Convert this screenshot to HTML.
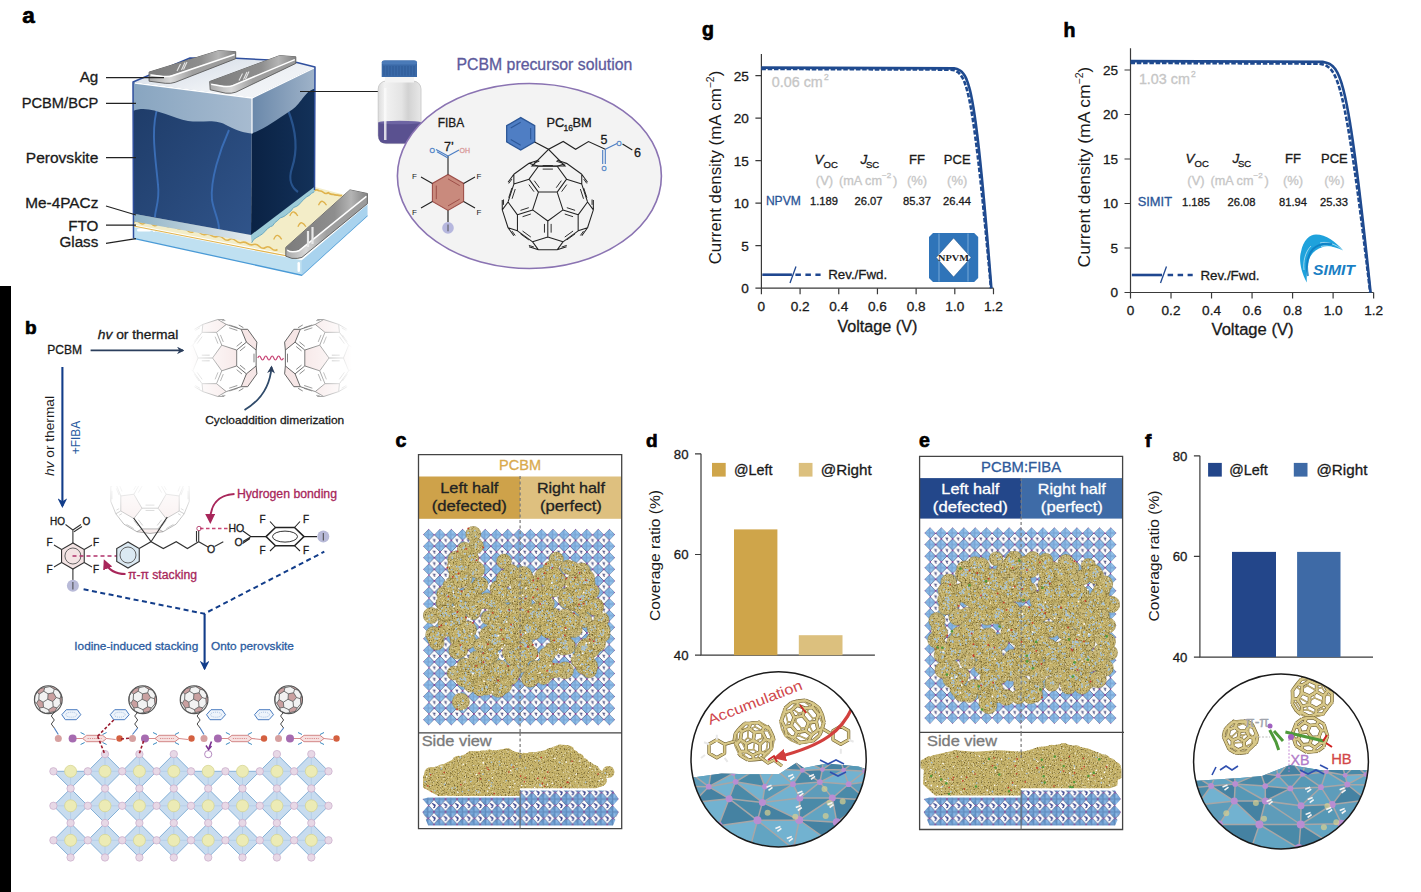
<!DOCTYPE html>
<html><head><meta charset="utf-8"><style>
html,body{margin:0;padding:0;background:#fff;overflow:hidden}
svg{display:block}
text{font-family:"Liberation Sans",sans-serif}
</style></head><body>
<svg width="1421" height="892" viewBox="0 0 1421 892">
<rect width="1421" height="892" fill="#fff"/>
<rect x="0" y="286" width="11" height="606" fill="#000"/>
<text x="22.3" y="22.8" font-size="22.5" fill="#000" font-weight="bold" stroke="#000" stroke-width="0.7">a</text>
<text x="25" y="333.8" font-size="19" fill="#000" font-weight="bold" stroke="#000" stroke-width="0.7">b</text>
<text x="395.5" y="447" font-size="19.5" fill="#000" font-weight="bold" stroke="#000" stroke-width="0.7">c</text>
<text x="646" y="447" font-size="19" fill="#000" font-weight="bold" stroke="#000" stroke-width="0.7">d</text>
<text x="919" y="447" font-size="19.5" fill="#000" font-weight="bold" stroke="#000" stroke-width="0.7">e</text>
<text x="1145" y="447" font-size="19" fill="#000" font-weight="bold" stroke="#000" stroke-width="0.7">f</text>
<text x="702" y="36.2" font-size="19.5" fill="#000" font-weight="bold" stroke="#000" stroke-width="0.7">g</text>
<text x="1063.5" y="36.9" font-size="19.5" fill="#000" font-weight="bold" stroke="#000" stroke-width="0.7">h</text>
<defs>
<linearGradient id="gTop" x1="0" y1="0" x2="1" y2="1"><stop offset="0" stop-color="#cfd8e4"/><stop offset="0.6" stop-color="#eef1f5"/><stop offset="1" stop-color="#f4f6f8"/></linearGradient>
<linearGradient id="gPcbmF" x1="0" y1="0" x2="1" y2="0"><stop offset="0" stop-color="#88a5c0"/><stop offset="1" stop-color="#a7bbd0"/></linearGradient>
<linearGradient id="gPcbmR" x1="0" y1="0" x2="1" y2="0"><stop offset="0" stop-color="#6a88aa"/><stop offset="1" stop-color="#9fb3c9"/></linearGradient>
<linearGradient id="gPerF" x1="0" y1="0" x2="1" y2="1"><stop offset="0" stop-color="#1d3a66"/><stop offset="1" stop-color="#30548a"/></linearGradient>
<linearGradient id="gPerR" x1="0" y1="0" x2="1" y2="0"><stop offset="0" stop-color="#0a2244"/><stop offset="1" stop-color="#133159"/></linearGradient>
<linearGradient id="gAg" x1="0" y1="0" x2="1" y2="0"><stop offset="0" stop-color="#7c7c7c"/><stop offset="0.6" stop-color="#8e8e8e"/><stop offset="0.8" stop-color="#b4b4b4"/><stop offset="1" stop-color="#828282"/></linearGradient>
<linearGradient id="gAgF" x1="0" y1="0" x2="1" y2="0"><stop offset="0" stop-color="#a8a8a8"/><stop offset="0.25" stop-color="#d8d8d8"/><stop offset="0.5" stop-color="#a0a0a0"/><stop offset="1" stop-color="#9a9a9a"/></linearGradient>
<linearGradient id="gHtl" x1="0" y1="0" x2="1" y2="0"><stop offset="0" stop-color="#8fb3c6"/><stop offset="1" stop-color="#e3eaee"/></linearGradient>
<linearGradient id="gBottle" x1="0" y1="0" x2="1" y2="0"><stop offset="0" stop-color="#dcdcdc"/><stop offset="0.15" stop-color="#f2f2f2"/><stop offset="0.55" stop-color="#e4e4e4"/><stop offset="0.7" stop-color="#d2d2d2"/><stop offset="1" stop-color="#e8e8e8"/></linearGradient>
</defs>
<path d="M133.5,226.4 L301.6,259.5 L367.4,203.7 L367.4,215.4 L301.6,275.2 L133.5,238.3 Z" fill="#bfe0f1"/>
<path d="M133.5,238.3 L301.6,275.2 L367.4,215.4" fill="none" stroke="#4a9ad6" stroke-width="1.3"/>
<path d="M301.6,259.5 L367.4,203.7 L367.4,215.4 L301.6,275.2 Z" fill="#a9d3ee"/>
<path d="M133.5,226.4 L301.6,259.5 L367.4,203.7" fill="none" stroke="#ffffff" stroke-width="1.4"/>
<rect x="297.5" y="262" width="2.5" height="10" rx="1.2" fill="#fff"/>
<rect x="137" y="228.5" width="14" height="3" rx="1.5" fill="#fff"/><circle cx="154" cy="230.8" r="1.2" fill="#fff"/>
<path d="M133.5,224.5 L298,256.5 L366,200.5 L315,187 L251,235 L133.5,214 Z" fill="#f3edc8"/>
<path d="M133.5,222.5 q3,-3 6,0 t6,0 t6,1 t6,1 t6,0 t6,2 t6,1 t6,1 t6,2 t6,1 t6,1 t6,2 t6,1 t6,1 t6,2 t6,1 t6,1 t6,2 t6,1 t6,1 t6,2 t6,1 t6,1 t6,1" fill="none" stroke="#e1b44e" stroke-width="1.6"/>
<path d="M133.5,226 L251,249 L298,258" fill="none" stroke="#e1b44e" stroke-width="1.2"/>
<path d="M314.4,190.8 Q315.8,189.0 319.0,190.7 Q322.0,190.8 323.6,192.5 Q325.4,194.4 328.2,192.7 Q330.4,194.7 332.8,194.3 Q335.1,195.2 337.4,195.1 Q339.0,195.8 342.0,195.5" fill="none" stroke="#dfb24c" stroke-width="1.6"/>
<path d="M273.7,239.4 q2,-4.5 4,-4 t4,4" fill="none" stroke="#dfb24c" stroke-width="1.3"/>
<path d="M297.9,226.8 q2,-4.5 4,-4 t4,4" fill="none" stroke="#dfb24c" stroke-width="1.3"/>
<path d="M289.8,216.0 q2,-4.5 4,-4 t4,4" fill="none" stroke="#dfb24c" stroke-width="1.3"/>
<path d="M318.5,205.3 q2,-4.5 4,-4 t4,4" fill="none" stroke="#dfb24c" stroke-width="1.3"/>
<path d="M133.5,213.8 L251,234.9 L251,242 L133.5,221.5 Z" fill="url(#gHtl)"/>
<path d="M250.8,234.7 L314.4,185.4 L314.4,191.7 Q311.0,193.3 309.2,195.5 Q307.2,196.0 303.9,199.2 Q300.8,202.5 298.7,204.9 Q297.0,206.5 293.5,207.5 Q290.7,212.0 288.3,213.1 Q284.8,216.3 283.0,216.9 Q280.0,217.3 277.8,220.3 Q274.4,222.3 272.6,225.8 Q270.6,226.1 267.4,228.7 Q264.9,231.9 262.1,234.1 Q259.3,235.9 256.9,237.3 Q253.4,238.5 251.7,242.8 Z" fill="#9ccbd8"/>
<path d="M314.4,191.7 Q311.0,193.3 309.2,195.5 Q307.2,196.0 303.9,199.2 Q300.8,202.5 298.7,204.9 Q297.0,206.5 293.5,207.5 Q290.7,212.0 288.3,213.1 Q284.8,216.3 283.0,216.9 Q280.0,217.3 277.8,220.3 Q274.4,222.3 272.6,225.8 Q270.6,226.1 267.4,228.7 Q264.9,231.9 262.1,234.1 Q259.3,235.9 256.9,237.3 Q253.4,238.5 251.7,242.8" fill="none" stroke="#6aa9c2" stroke-width="1"/>
<path d="M133,82 L252,97.5 L251,234.9 L133.5,213.8 Z" fill="url(#gPerF)"/>
<path d="M252,97.5 L315,67 L314.5,186.8 L251,234.9 Z" fill="url(#gPerR)"/>
<path d="M158,106 C150,130 156,160 158,185 C160,200 155,210 155,217" fill="none" stroke="#3a6db5" stroke-width="1.9"/>
<path d="M229,130 C220,150 210,180 212,200 C214,212 219,220 219,229" fill="none" stroke="#3a6db5" stroke-width="1.9"/>
<path d="M288,110 C296,130 298,150 292,168 C288,180 292,188 298,192" fill="none" stroke="#28538c" stroke-width="2.2"/>
<path d="M133,82 L252,97.5 L252,133.5 C245,133 238,131 228,126 C215,118 205,123 188,121 C170,118 150,104 133,111 Z" fill="url(#gPcbmF)"/>
<path d="M252,97.5 L315,67 L315,88.4 C303,92 302,104 290,111 C276,120 266,128 252,133.5 Z" fill="url(#gPcbmR)"/>
<path d="M133,82 L190,58 L236,58.2 L280,60.6 L297,62.4 L315,67 L252,97.5 Z" fill="url(#gTop)"/>
<path d="M252,97.5 L252,133.5" stroke="#fff" stroke-width="1.2"/>
<path d="M135,83 L252,98 L314,68" fill="none" stroke="#fff" stroke-width="1.3"/>
<path d="M133.5,238 L133,82 L190,58 L236,58.2 L280,60.6 L297,62.4 L315,67 L314.5,190" fill="none" stroke="#2f4f9e" stroke-width="1.5" stroke-linejoin="round"/>
<path d="M149.1,72.1 L218.8,50.6 L235.7,51.7 L235.7,58.7 L175.2,82.3 Q171.2,83.8 165.2,83.3 L149.1,81.2 Z" fill="url(#gAgF)" stroke="#5a5a5a" stroke-width="0.9" stroke-linejoin="round"/><path d="M149.1,72.1 L218.8,50.6 L235.7,51.7 L234.7,53.900000000000006 L172.2,75.1 Q169.2,76.3 163.2,75.89999999999999 L150.6,74.3 Z" fill="url(#gAg)"/><path d="M150.6,74.89999999999999 L163.2,76.5 Q169.2,76.89999999999999 172.2,75.69999999999999 L234.7,54.50000000000001" fill="none" stroke="#fff" stroke-width="1.5"/>
<path d="M209.7,81.5 L279.7,55.6 L295.8,56.8 L295.8,63.4 L235.8,92.2 Q231.8,93.7 225.8,93.2 L210.2,89.8 Z" fill="url(#gAgF)" stroke="#5a5a5a" stroke-width="0.9" stroke-linejoin="round"/><path d="M209.7,81.5 L279.7,55.6 L295.8,56.8 L294.8,59.0 L232.8,85.0 Q229.8,86.2 223.8,85.8 L211.2,83.7 Z" fill="url(#gAg)"/><path d="M211.2,84.3 L223.8,86.4 Q229.8,86.8 232.8,85.6 L294.8,59.6" fill="none" stroke="#fff" stroke-width="1.5"/>
<path d="M177,71 l3.5,-7 M181.5,70 l3.5,-7.5 M183.5,69.5 l3.5,-7.5 M239,80.5 l3.5,-7 M243.5,79.5 l3.5,-7.5 M245.5,79 l3.5,-7.5" stroke="#e4e4e4" stroke-width="1.1"/>
<path d="M285.8,247.4 L349.9,189.9 L367.4,193.5 L367.4,203.7 L301.9,257.4 Q297.9,258.9 291.9,258.4 L285.8,256.2 Z" fill="url(#gAgF)" stroke="#5a5a5a" stroke-width="0.9" stroke-linejoin="round"/><path d="M285.8,247.4 L349.9,189.9 L367.4,193.5 L366.4,195.7 L298.9,250.2 Q295.9,251.39999999999998 289.9,251.0 L287.3,249.6 Z" fill="url(#gAg)"/><path d="M287.3,250.2 L289.9,251.6 Q295.9,252.0 298.9,250.79999999999998 L366.4,196.29999999999998" fill="none" stroke="#fff" stroke-width="1.5"/>
<path d="M308,231 L308,247 M312.5,227 L312.5,244" stroke="#e8e8e8" stroke-width="2.2"/>
<path d="M106,77.6 L164,77.6 M106,103.3 L136,103.3 M106,157.7 L136,157.7 M106,206 L136,215 M106,225.2 L136,225.2 M106,243.3 L136,238.6 M300,91.5 L378.2,91.5" stroke="#222" stroke-width="1.2" fill="none"/>
<text x="98.3" y="82.4" font-size="15.2" fill="#1a1a1a" text-anchor="end" stroke="#1a1a1a" stroke-width="0.3" >Ag</text>
<text x="98.3" y="108" font-size="15.2" fill="#1a1a1a" text-anchor="end" textLength="76.6" lengthAdjust="spacingAndGlyphs" stroke="#1a1a1a" stroke-width="0.3" >PCBM/BCP</text>
<text x="98.3" y="162.8" font-size="15.2" fill="#1a1a1a" text-anchor="end" textLength="72.5" lengthAdjust="spacingAndGlyphs" stroke="#1a1a1a" stroke-width="0.3" >Perovskite</text>
<text x="98.3" y="208.3" font-size="15.2" fill="#1a1a1a" text-anchor="end" textLength="73" lengthAdjust="spacingAndGlyphs" stroke="#1a1a1a" stroke-width="0.3" >Me-4PACz</text>
<text x="98.3" y="230.6" font-size="15.2" fill="#1a1a1a" text-anchor="end" stroke="#1a1a1a" stroke-width="0.3" >FTO</text>
<text x="98.3" y="246.7" font-size="15.2" fill="#1a1a1a" text-anchor="end" stroke="#1a1a1a" stroke-width="0.3" >Glass</text>
<rect x="378.2" y="81" width="42.8" height="62.6" rx="8" fill="url(#gBottle)" stroke="#c4c4c4" stroke-width="0.8"/>
<path d="M378.2,122.5 L421,122.5 L421,135.6 Q421,143.6 413,143.6 L386.2,143.6 Q378.2,143.6 378.2,135.6 Z" fill="#5a5190"/>
<ellipse cx="399.6" cy="122.5" rx="21.4" ry="1.8" fill="#6d64a3"/>
<rect x="385" y="76.5" width="29" height="6" fill="#f4f4f4"/>
<path d="M381.7,64 Q381.7,60.6 385,60.6 L413.7,60.6 Q417,60.6 417,64 L417,76.9 L381.7,76.9 Z" fill="#3a69a7"/>
<rect x="381.7" y="60.6" width="35.3" height="4" rx="2" fill="#4a7ab8"/>
<path d="M384.0,66 L384.0,75.5M387.0,66 L387.0,75.5M390.0,66 L390.0,75.5M393.0,66 L393.0,75.5M396.0,66 L396.0,75.5M399.0,66 L399.0,75.5M402.0,66 L402.0,75.5M405.0,66 L405.0,75.5M408.0,66 L408.0,75.5M411.0,66 L411.0,75.5M414.0,66 L414.0,75.5" stroke="#2c5590" stroke-width="0.7"/>
<rect x="384" y="88" width="2.5" height="52" fill="#fafafa" opacity="0.8"/>
<ellipse cx="529.4" cy="176" rx="132" ry="92.5" fill="#f3f3f3" stroke="#8a73b2" stroke-width="1.6"/>
<text x="456.5" y="70.1" font-size="15.6" fill="#5d5a9c" textLength="175.8" lengthAdjust="spacingAndGlyphs" stroke="#5d5a9c" stroke-width="0.3" >PCBM precursor solution</text>
<text x="437.7" y="126.8" font-size="12.8" fill="#1a1a1a" textLength="26.5" lengthAdjust="spacingAndGlyphs" stroke="#1a1a1a" stroke-width="0.3" >FIBA</text>
<text x="546.5" y="126.8" font-size="12.8" fill="#1a1a1a" stroke="#1a1a1a" stroke-width="0.3" >PC</text><text x="563.5" y="130.5" font-size="8.5" fill="#1a1a1a" stroke="#1a1a1a" stroke-width="0.3" >16</text><text x="572.5" y="126.8" font-size="12.8" fill="#1a1a1a" stroke="#1a1a1a" stroke-width="0.3" >BM</text>
<path d="M448.00,174.40 L432.41,183.40 L432.41,201.40 L448.00,210.40 L463.59,201.40 L463.59,183.40Z" fill="#c98a7d" stroke="#9e4f49" stroke-width="1.1"/>
<path d="M436.31,185.65L436.31,199.15M448.00,205.90L459.69,199.15M459.69,185.65L448.00,178.90" stroke="#9e4f49" stroke-width="1"/>
<path d="M448,174.4 L448,156 M463.6,183.4 L475,177 M432.4,183.4 L421,177 M463.6,201.4 L475,208 M432.4,201.4 L421,208" stroke="#222" stroke-width="1.1"/>
<path d="M448,210.4 L448,222" stroke="#222" stroke-width="1.2"/>
<circle cx="448" cy="227.9" r="5.8" fill="#b6b7de"/><path d="M448,224.5 L448,231.3" stroke="#444" stroke-width="0.9"/>
<path d="M448,156 L436,149.5 M448,158 L437,151.8 M448,156 L459,150" stroke="#4a7dc4" stroke-width="1.1"/>
<text x="429.5" y="152.5" font-size="7" fill="#4a7dc4" stroke="#4a7dc4" stroke-width="0.3" >O</text><text x="459.5" y="152.5" font-size="7" fill="#d99a9a" stroke="#d99a9a" stroke-width="0.3" >OH</text>
<text x="444" y="150.5" font-size="12.5" fill="#1a1a1a" stroke="#1a1a1a" stroke-width="0.3" >7’</text>
<text x="412" y="178.5" font-size="8" fill="#1a1a1a" stroke="none">F</text>
<text x="476.5" y="178.5" font-size="8" fill="#1a1a1a" stroke="none">F</text>
<text x="412" y="214.5" font-size="8" fill="#1a1a1a" stroke="none">F</text>
<text x="476.5" y="214.5" font-size="8" fill="#1a1a1a" stroke="none">F</text>
<path d="M520.70,117.60 L506.67,125.70 L506.67,141.90 L520.70,150.00 L534.73,141.90 L534.73,125.70Z" fill="#4f7ec4" stroke="#2d5898" stroke-width="1.3"/>
<path d="M520.70,122.30L510.74,128.05M510.74,139.55L520.70,145.30M530.66,139.55L530.66,128.05" stroke="#2d5898" stroke-width="1.1"/>
<path d="M547.80,220.96L547.80,236.92M547.80,220.96L532.62,209.93M547.80,220.96L562.98,209.93M517.44,214.87L517.44,230.83M517.44,214.87L508.06,201.95M517.44,214.87L532.62,209.93M547.80,236.92L532.62,241.86M547.80,236.92L562.98,241.86M517.44,230.83L532.62,241.86M517.44,230.83L508.06,227.78M557.18,192.09L566.56,179.17M557.18,192.09L538.42,192.09M557.18,192.09L562.98,209.93M593.34,200.07L593.34,209.93M529.04,163.21L513.85,174.24M529.04,163.21L538.42,166.26M529.04,163.21L538.42,160.16M513.85,174.24L508.06,182.22M513.85,174.24L513.85,184.10M578.16,230.83L578.16,214.87M578.16,230.83L587.54,227.78M578.16,230.83L562.98,241.86M502.26,209.93L508.06,201.95M502.26,209.93L502.26,200.07M502.26,209.93L508.06,227.78M578.16,214.87L587.54,201.95M578.16,214.87L562.98,209.93M508.06,201.95L513.85,184.10M581.75,184.10L566.56,179.17M581.75,184.10L581.75,174.24M581.75,184.10L587.54,201.95M581.75,235.76L587.54,227.78M532.62,241.86L538.42,249.84M566.56,179.17L557.18,166.26M587.54,227.78L593.34,209.93M581.75,174.24L587.54,182.22M581.75,174.24L566.56,163.21M557.18,160.16L566.56,163.21M566.56,246.79L557.18,249.84M562.98,241.86L557.18,249.84M538.42,166.26L529.04,179.17M538.42,166.26L557.18,166.26M587.54,201.95L593.34,209.93M529.04,179.17L538.42,192.09M529.04,179.17L513.85,184.10M538.42,249.84L529.04,246.79M538.42,249.84L557.18,249.84M532.62,209.93L538.42,192.09M557.18,166.26L566.56,163.21M508.06,227.78L513.85,235.76" stroke="#222" stroke-width="1.05" fill="none" stroke-linejoin="round"/>
<path d="M551.14,223.92L551.14,232.63M564.76,237.06L573.05,231.03M573.05,216.71L564.76,214.02M544.46,223.92L544.46,232.63M530.84,237.06L522.55,231.03M522.55,216.71L530.84,214.02M512.07,198.78L515.24,189.03M528.86,184.61L533.98,191.66M528.78,207.67L520.49,210.36M520.49,233.87L528.78,239.90M533.98,247.06L528.86,245.39M515.24,235.50L512.07,231.14M539.38,187.73L534.26,180.68M542.68,169.10L552.92,169.10M561.34,180.68L556.22,187.73M566.82,207.67L575.11,210.36M583.53,198.78L580.36,189.03M566.74,184.61L561.62,191.66M586.87,183.46L583.70,179.10M583.70,187.95L586.87,197.69M592.07,204.85L592.07,199.47M534.26,162.85L539.38,161.19M556.22,161.19L561.34,162.85M552.92,165.59L542.68,165.59M511.90,179.10L508.73,183.46M503.53,199.47L503.53,204.85M508.73,197.69L511.90,187.95M575.11,233.87L566.82,239.90M561.62,247.06L566.74,245.39M580.36,235.50L583.53,231.14" stroke="#222" stroke-width="0.9450000000000001" fill="none"/>
<path d="M534.6,141.9 L548.5,149.3 L563.2,141.5 L575.6,149.3 L588.5,141.5 L605.3,149.3 M548.5,149.3 L532,166 L565,166 Z" fill="none" stroke="#222" stroke-width="1.1"/>
<path d="M605.3,149.3 L605.3,164 M602.7,150 L602.7,164 M605.3,149.3 L617,143.5" stroke="#4a7dc4" stroke-width="1.1"/>
<path d="M622.5,144 L632.3,150" stroke="#222" stroke-width="1.1"/>
<text x="601.5" y="170.5" font-size="6.5" fill="#4a7dc4" stroke="#4a7dc4" stroke-width="0.3" >O</text><text x="616.5" y="146" font-size="6.5" fill="#4a7dc4" stroke="#4a7dc4" stroke-width="0.3" >O</text>
<text x="600.5" y="144" font-size="12.5" fill="#1a1a1a" stroke="#1a1a1a" stroke-width="0.3" >5</text><text x="634" y="156.5" font-size="12.5" fill="#1a1a1a" stroke="#1a1a1a" stroke-width="0.3" >6</text>
<path d="M761.4,54.1 L761.4,288.2 L993.5,288.2" fill="none" stroke="#3a3a3a" stroke-width="1.2"/>
<text x="748.9" y="293.0" font-size="13.6" fill="#1a1a1a" text-anchor="end" stroke="#1a1a1a" stroke-width="0.3" >0</text>
<text x="748.9" y="250.5" font-size="13.6" fill="#1a1a1a" text-anchor="end" stroke="#1a1a1a" stroke-width="0.3" >5</text>
<text x="748.9" y="208.0" font-size="13.6" fill="#1a1a1a" text-anchor="end" stroke="#1a1a1a" stroke-width="0.3" >10</text>
<text x="748.9" y="165.5" font-size="13.6" fill="#1a1a1a" text-anchor="end" stroke="#1a1a1a" stroke-width="0.3" >15</text>
<text x="748.9" y="122.99999999999999" font-size="13.6" fill="#1a1a1a" text-anchor="end" stroke="#1a1a1a" stroke-width="0.3" >20</text>
<text x="748.9" y="80.49999999999999" font-size="13.6" fill="#1a1a1a" text-anchor="end" stroke="#1a1a1a" stroke-width="0.3" >25</text>
<text x="761.4" y="310.5" font-size="13.6" fill="#1a1a1a" text-anchor="middle" stroke="#1a1a1a" stroke-width="0.3" >0</text>
<text x="800.0799999999999" y="310.5" font-size="13.6" fill="#1a1a1a" text-anchor="middle" stroke="#1a1a1a" stroke-width="0.3" >0.2</text>
<text x="838.76" y="310.5" font-size="13.6" fill="#1a1a1a" text-anchor="middle" stroke="#1a1a1a" stroke-width="0.3" >0.4</text>
<text x="877.44" y="310.5" font-size="13.6" fill="#1a1a1a" text-anchor="middle" stroke="#1a1a1a" stroke-width="0.3" >0.6</text>
<text x="916.12" y="310.5" font-size="13.6" fill="#1a1a1a" text-anchor="middle" stroke="#1a1a1a" stroke-width="0.3" >0.8</text>
<text x="954.8" y="310.5" font-size="13.6" fill="#1a1a1a" text-anchor="middle" stroke="#1a1a1a" stroke-width="0.3" >1.0</text>
<text x="993.48" y="310.5" font-size="13.6" fill="#1a1a1a" text-anchor="middle" stroke="#1a1a1a" stroke-width="0.3" >1.2</text>
<path d="M755.4,288.20L761.4,288.20M755.4,245.70L761.4,245.70M755.4,203.20L761.4,203.20M755.4,160.70L761.4,160.70M755.4,118.20L761.4,118.20M755.4,75.70L761.4,75.70M761.40,288.2L761.40,294.2M800.08,288.2L800.08,294.2M838.76,288.2L838.76,294.2M877.44,288.2L877.44,294.2M916.12,288.2L916.12,294.2M954.80,288.2L954.80,294.2M993.48,288.2L993.48,294.2" stroke="#3a3a3a" stroke-width="1.2"/>
<path d="M1130.5,48.2 L1130.5,292.5 L1373.6,292.5" fill="none" stroke="#3a3a3a" stroke-width="1.2"/>
<text x="1118.0" y="297.3" font-size="13.6" fill="#1a1a1a" text-anchor="end" stroke="#1a1a1a" stroke-width="0.3" >0</text>
<text x="1118.0" y="252.8" font-size="13.6" fill="#1a1a1a" text-anchor="end" stroke="#1a1a1a" stroke-width="0.3" >5</text>
<text x="1118.0" y="208.3" font-size="13.6" fill="#1a1a1a" text-anchor="end" stroke="#1a1a1a" stroke-width="0.3" >10</text>
<text x="1118.0" y="163.8" font-size="13.6" fill="#1a1a1a" text-anchor="end" stroke="#1a1a1a" stroke-width="0.3" >15</text>
<text x="1118.0" y="119.3" font-size="13.6" fill="#1a1a1a" text-anchor="end" stroke="#1a1a1a" stroke-width="0.3" >20</text>
<text x="1118.0" y="74.8" font-size="13.6" fill="#1a1a1a" text-anchor="end" stroke="#1a1a1a" stroke-width="0.3" >25</text>
<text x="1130.5" y="314.8" font-size="13.6" fill="#1a1a1a" text-anchor="middle" stroke="#1a1a1a" stroke-width="0.3" >0</text>
<text x="1171.02" y="314.8" font-size="13.6" fill="#1a1a1a" text-anchor="middle" stroke="#1a1a1a" stroke-width="0.3" >0.2</text>
<text x="1211.54" y="314.8" font-size="13.6" fill="#1a1a1a" text-anchor="middle" stroke="#1a1a1a" stroke-width="0.3" >0.4</text>
<text x="1252.06" y="314.8" font-size="13.6" fill="#1a1a1a" text-anchor="middle" stroke="#1a1a1a" stroke-width="0.3" >0.6</text>
<text x="1292.58" y="314.8" font-size="13.6" fill="#1a1a1a" text-anchor="middle" stroke="#1a1a1a" stroke-width="0.3" >0.8</text>
<text x="1333.1" y="314.8" font-size="13.6" fill="#1a1a1a" text-anchor="middle" stroke="#1a1a1a" stroke-width="0.3" >1.0</text>
<text x="1373.6200000000001" y="314.8" font-size="13.6" fill="#1a1a1a" text-anchor="middle" stroke="#1a1a1a" stroke-width="0.3" >1.2</text>
<path d="M1124.5,292.50L1130.5,292.50M1124.5,248.00L1130.5,248.00M1124.5,203.50L1130.5,203.50M1124.5,159.00L1130.5,159.00M1124.5,114.50L1130.5,114.50M1124.5,70.00L1130.5,70.00M1130.50,292.5L1130.50,298.5M1171.02,292.5L1171.02,298.5M1211.54,292.5L1211.54,298.5M1252.06,292.5L1252.06,298.5M1292.58,292.5L1292.58,298.5M1333.10,292.5L1333.10,298.5M1373.62,292.5L1373.62,298.5" stroke="#3a3a3a" stroke-width="1.2"/>
<path d="M761.40,68.90 L951.28,69.63 L954.28,70.36 L956.06,71.09 L957.33,71.82 L958.33,72.55 L959.16,73.29 L959.87,74.02 L960.49,74.75 L961.04,75.48 L961.54,76.21 L962.00,76.94 L962.42,77.67 L962.81,78.40 L963.18,79.13 L963.52,79.86 L963.85,80.60 L964.16,81.33 L964.46,82.06 L964.74,82.79 L965.01,83.52 L965.27,84.25 L965.52,84.98 L965.76,85.71 L965.99,86.44 L966.21,87.18 L966.43,87.91 L966.64,88.64 L966.85,89.37 L967.05,90.10 L967.25,90.83 L967.44,91.56 L967.63,92.29 L967.81,93.02 L967.99,93.75 L968.16,94.48 L968.33,95.22 L968.50,95.95 L968.67,96.68 L968.83,97.41 L968.99,98.14 L969.14,98.87 L969.30,99.60 L969.45,100.33 L969.60,101.06 L969.75,101.79 L969.89,102.53 L970.03,103.26 L970.18,103.99 L970.31,104.72 L970.45,105.45 L970.59,106.18 L970.72,106.91 L970.85,107.64 L970.99,108.37 L971.12,109.10 L971.24,109.84 L971.37,110.57 L971.50,111.30 L971.62,112.03 L971.74,112.76 L971.87,113.49 L971.99,114.22 L972.11,114.95 L972.22,115.68 L972.34,116.41 L972.46,117.15 L972.57,117.88 L972.69,118.61 L972.80,119.34 L972.91,120.07 L973.03,120.80 L973.14,121.53 L973.25,122.26 L973.36,122.99 L973.47,123.72 L973.57,124.46 L973.68,125.19 L973.79,125.92 L973.89,126.65 L974.00,127.38 L974.10,128.11 L974.21,128.84 L974.31,129.57 L974.41,130.30 L974.51,131.03 L974.62,131.77 L974.72,132.50 L974.82,133.23 L974.92,133.96 L975.02,134.69 L975.11,135.42 L975.21,136.15 L975.31,136.88 L975.41,137.61 L975.50,138.34 L975.60,139.08 L975.70,139.81 L975.79,140.54 L975.89,141.27 L975.98,142.00 L976.07,142.73 L976.17,143.46 L976.26,144.19 L976.35,144.92 L976.44,145.66 L976.54,146.39 L976.63,147.12 L976.72,147.85 L976.81,148.58 L976.90,149.31 L976.99,150.04 L977.08,150.77 L977.17,151.50 L977.26,152.23 L977.35,152.96 L977.44,153.70 L977.52,154.43 L977.61,155.16 L977.70,155.89 L977.79,156.62 L977.87,157.35 L977.96,158.08 L978.05,158.81 L978.13,159.54 L978.22,160.27 L978.30,161.01 L978.39,161.74 L978.47,162.47 L978.56,163.20 L978.64,163.93 L978.73,164.66 L978.81,165.39 L978.89,166.12 L978.98,166.85 L979.06,167.58 L979.14,168.32 L979.23,169.05 L979.31,169.78 L979.39,170.51 L979.47,171.24 L979.56,171.97 L979.64,172.70 L979.72,173.43 L979.80,174.16 L979.88,174.89 L979.96,175.63 L980.04,176.36 L980.12,177.09 L980.20,177.82 L980.28,178.55 L980.36,179.28 L980.44,180.01 L980.52,180.74 L980.60,181.47 L980.68,182.20 L980.76,182.94 L980.84,183.67 L980.92,184.40 L980.99,185.13 L981.07,185.86 L981.15,186.59 L981.23,187.32 L981.31,188.05 L981.38,188.78 L981.46,189.51 L981.54,190.25 L981.62,190.98 L981.69,191.71 L981.77,192.44 L981.85,193.17 L981.92,193.90 L982.00,194.63 L982.08,195.36 L982.15,196.09 L982.23,196.82 L982.30,197.56 L982.38,198.29 L982.45,199.02 L982.53,199.75 L982.61,200.48 L982.68,201.21 L982.76,201.94 L982.83,202.67 L982.90,203.40 L982.98,204.13 L983.05,204.87 L983.13,205.60 L983.20,206.33 L983.28,207.06 L983.35,207.79 L983.42,208.52 L983.50,209.25 L983.57,209.98 L983.65,210.71 L983.72,211.44 L983.79,212.18 L983.87,212.91 L983.94,213.64 L984.01,214.37 L984.08,215.10 L984.16,215.83 L984.23,216.56 L984.30,217.29 L984.38,218.02 L984.45,218.75 L984.52,219.49 L984.59,220.22 L984.66,220.95 L984.74,221.68 L984.81,222.41 L984.88,223.14 L984.95,223.87 L985.02,224.60 L985.09,225.33 L985.17,226.06 L985.24,226.80 L985.31,227.53 L985.38,228.26 L985.45,228.99 L985.52,229.72 L985.59,230.45 L985.66,231.18 L985.73,231.91 L985.80,232.64 L985.87,233.38 L985.95,234.11 L986.02,234.84 L986.09,235.57 L986.16,236.30 L986.23,237.03 L986.30,237.76 L986.37,238.49 L986.44,239.22 L986.51,239.95 L986.58,240.69 L986.64,241.42 L986.71,242.15 L986.78,242.88 L986.85,243.61 L986.92,244.34 L986.99,245.07 L987.06,245.80 L987.13,246.53 L987.20,247.26 L987.27,247.99 L987.34,248.73 L987.41,249.46 L987.47,250.19 L987.54,250.92 L987.61,251.65 L987.68,252.38 L987.75,253.11 L987.82,253.84 L987.89,254.57 L987.95,255.30 L988.02,256.04 L988.09,256.77 L988.16,257.50 L988.23,258.23 L988.29,258.96 L988.36,259.69 L988.43,260.42 L988.50,261.15 L988.57,261.88 L988.63,262.62 L988.70,263.35 L988.77,264.08 L988.84,264.81 L988.90,265.54 L988.97,266.27 L989.04,267.00 L989.11,267.73 L989.17,268.46 L989.24,269.19 L989.31,269.93 L989.37,270.66 L989.44,271.39 L989.51,272.12 L989.57,272.85 L989.64,273.58 L989.71,274.31 L989.77,275.04 L989.84,275.77 L989.91,276.50 L989.97,277.24 L990.04,277.97 L990.11,278.70 L990.17,279.43 L990.24,280.16 L990.31,280.89 L990.37,281.62 L990.44,282.35 L990.50,283.08 L990.57,283.81 L990.64,284.55 L990.70,285.28 L990.77,286.01 L990.83,286.74 L990.90,287.47 L990.97,288.20" fill="none" stroke="#1f4a8f" stroke-width="2.6" stroke-dasharray="4.5,1.8"/><path d="M761.40,67.62 L954.08,68.36 L957.07,69.10 L958.84,69.83 L960.11,70.57 L961.10,71.30 L961.92,72.04 L962.62,72.77 L963.23,73.51 L963.78,74.24 L964.27,74.98 L964.72,75.71 L965.13,76.45 L965.51,77.18 L965.87,77.92 L966.21,78.65 L966.53,79.39 L966.83,80.12 L967.12,80.86 L967.39,81.59 L967.65,82.33 L967.90,83.07 L968.14,83.80 L968.38,84.54 L968.60,85.27 L968.82,86.01 L969.03,86.74 L969.23,87.48 L969.43,88.21 L969.62,88.95 L969.81,89.68 L969.99,90.42 L970.17,91.15 L970.35,91.89 L970.52,92.62 L970.69,93.36 L970.85,94.09 L971.01,94.83 L971.17,95.56 L971.32,96.30 L971.47,97.03 L971.62,97.77 L971.77,98.51 L971.91,99.24 L972.05,99.98 L972.19,100.71 L972.33,101.45 L972.46,102.18 L972.59,102.92 L972.73,103.65 L972.86,104.39 L972.98,105.12 L973.11,105.86 L973.23,106.59 L973.36,107.33 L973.48,108.06 L973.60,108.80 L973.72,109.53 L973.83,110.27 L973.95,111.00 L974.07,111.74 L974.18,112.48 L974.29,113.21 L974.40,113.95 L974.51,114.68 L974.62,115.42 L974.73,116.15 L974.84,116.89 L974.95,117.62 L975.05,118.36 L975.16,119.09 L975.26,119.83 L975.36,120.56 L975.47,121.30 L975.57,122.03 L975.67,122.77 L975.77,123.50 L975.87,124.24 L975.97,124.97 L976.06,125.71 L976.16,126.44 L976.26,127.18 L976.35,127.92 L976.45,128.65 L976.54,129.39 L976.64,130.12 L976.73,130.86 L976.82,131.59 L976.91,132.33 L977.00,133.06 L977.10,133.80 L977.19,134.53 L977.28,135.27 L977.37,136.00 L977.45,136.74 L977.54,137.47 L977.63,138.21 L977.72,138.94 L977.81,139.68 L977.89,140.41 L977.98,141.15 L978.06,141.89 L978.15,142.62 L978.24,143.36 L978.32,144.09 L978.40,144.83 L978.49,145.56 L978.57,146.30 L978.65,147.03 L978.74,147.77 L978.82,148.50 L978.90,149.24 L978.98,149.97 L979.06,150.71 L979.15,151.44 L979.23,152.18 L979.31,152.91 L979.39,153.65 L979.47,154.38 L979.55,155.12 L979.62,155.85 L979.70,156.59 L979.78,157.33 L979.86,158.06 L979.94,158.80 L980.02,159.53 L980.09,160.27 L980.17,161.00 L980.25,161.74 L980.32,162.47 L980.40,163.21 L980.48,163.94 L980.55,164.68 L980.63,165.41 L980.70,166.15 L980.78,166.88 L980.85,167.62 L980.93,168.35 L981.00,169.09 L981.08,169.82 L981.15,170.56 L981.22,171.30 L981.30,172.03 L981.37,172.77 L981.44,173.50 L981.52,174.24 L981.59,174.97 L981.66,175.71 L981.73,176.44 L981.81,177.18 L981.88,177.91 L981.95,178.65 L982.02,179.38 L982.09,180.12 L982.17,180.85 L982.24,181.59 L982.31,182.32 L982.38,183.06 L982.45,183.79 L982.52,184.53 L982.59,185.26 L982.66,186.00 L982.73,186.74 L982.80,187.47 L982.87,188.21 L982.94,188.94 L983.01,189.68 L983.08,190.41 L983.14,191.15 L983.21,191.88 L983.28,192.62 L983.35,193.35 L983.42,194.09 L983.49,194.82 L983.55,195.56 L983.62,196.29 L983.69,197.03 L983.76,197.76 L983.83,198.50 L983.89,199.23 L983.96,199.97 L984.03,200.71 L984.09,201.44 L984.16,202.18 L984.23,202.91 L984.29,203.65 L984.36,204.38 L984.43,205.12 L984.49,205.85 L984.56,206.59 L984.62,207.32 L984.69,208.06 L984.76,208.79 L984.82,209.53 L984.89,210.26 L984.95,211.00 L985.02,211.73 L985.08,212.47 L985.15,213.20 L985.21,213.94 L985.28,214.67 L985.34,215.41 L985.41,216.15 L985.47,216.88 L985.54,217.62 L985.60,218.35 L985.66,219.09 L985.73,219.82 L985.79,220.56 L985.86,221.29 L985.92,222.03 L985.98,222.76 L986.05,223.50 L986.11,224.23 L986.17,224.97 L986.24,225.70 L986.30,226.44 L986.36,227.17 L986.43,227.91 L986.49,228.64 L986.55,229.38 L986.62,230.12 L986.68,230.85 L986.74,231.59 L986.80,232.32 L986.87,233.06 L986.93,233.79 L986.99,234.53 L987.05,235.26 L987.12,236.00 L987.18,236.73 L987.24,237.47 L987.30,238.20 L987.36,238.94 L987.42,239.67 L987.49,240.41 L987.55,241.14 L987.61,241.88 L987.67,242.61 L987.73,243.35 L987.79,244.08 L987.85,244.82 L987.92,245.56 L987.98,246.29 L988.04,247.03 L988.10,247.76 L988.16,248.50 L988.22,249.23 L988.28,249.97 L988.34,250.70 L988.40,251.44 L988.46,252.17 L988.52,252.91 L988.58,253.64 L988.64,254.38 L988.70,255.11 L988.76,255.85 L988.82,256.58 L988.88,257.32 L988.94,258.05 L989.00,258.79 L989.06,259.53 L989.12,260.26 L989.18,261.00 L989.24,261.73 L989.30,262.47 L989.36,263.20 L989.42,263.94 L989.48,264.67 L989.54,265.41 L989.60,266.14 L989.66,266.88 L989.72,267.61 L989.78,268.35 L989.84,269.08 L989.89,269.82 L989.95,270.55 L990.01,271.29 L990.07,272.02 L990.13,272.76 L990.19,273.50 L990.25,274.23 L990.31,274.97 L990.36,275.70 L990.42,276.44 L990.48,277.17 L990.54,277.91 L990.60,278.64 L990.66,279.38 L990.72,280.11 L990.77,280.85 L990.83,281.58 L990.89,282.32 L990.95,283.05 L991.01,283.79 L991.06,284.52 L991.12,285.26 L991.18,285.99 L991.24,286.73 L991.29,287.46 L991.35,288.20" fill="none" stroke="#1f4a8f" stroke-width="2.6"/>
<path d="M1130.50,62.88 L1319.41,63.65 L1322.99,64.41 L1325.12,65.18 L1326.65,65.94 L1327.85,66.71 L1328.85,67.47 L1329.70,68.24 L1330.45,69.00 L1331.12,69.77 L1331.73,70.53 L1332.28,71.30 L1332.80,72.06 L1333.28,72.83 L1333.72,73.60 L1334.15,74.36 L1334.55,75.13 L1334.93,75.89 L1335.29,76.66 L1335.64,77.42 L1335.97,78.19 L1336.29,78.95 L1336.60,79.72 L1336.90,80.48 L1337.19,81.25 L1337.47,82.02 L1337.74,82.78 L1338.00,83.55 L1338.26,84.31 L1338.51,85.08 L1338.75,85.84 L1338.99,86.61 L1339.23,87.37 L1339.46,88.14 L1339.68,88.90 L1339.90,89.67 L1340.12,90.43 L1340.33,91.20 L1340.54,91.97 L1340.74,92.73 L1340.94,93.50 L1341.14,94.26 L1341.34,95.03 L1341.53,95.79 L1341.72,96.56 L1341.91,97.32 L1342.09,98.09 L1342.27,98.85 L1342.45,99.62 L1342.63,100.38 L1342.81,101.15 L1342.98,101.92 L1343.15,102.68 L1343.32,103.45 L1343.49,104.21 L1343.65,104.98 L1343.82,105.74 L1343.98,106.51 L1344.14,107.27 L1344.30,108.04 L1344.46,108.80 L1344.62,109.57 L1344.77,110.33 L1344.93,111.10 L1345.08,111.87 L1345.23,112.63 L1345.38,113.40 L1345.53,114.16 L1345.68,114.93 L1345.83,115.69 L1345.97,116.46 L1346.12,117.22 L1346.26,117.99 L1346.41,118.75 L1346.55,119.52 L1346.69,120.28 L1346.83,121.05 L1346.97,121.82 L1347.11,122.58 L1347.24,123.35 L1347.38,124.11 L1347.52,124.88 L1347.65,125.64 L1347.79,126.41 L1347.92,127.17 L1348.05,127.94 L1348.19,128.70 L1348.32,129.47 L1348.45,130.24 L1348.58,131.00 L1348.71,131.77 L1348.84,132.53 L1348.97,133.30 L1349.10,134.06 L1349.22,134.83 L1349.35,135.59 L1349.48,136.36 L1349.60,137.12 L1349.73,137.89 L1349.85,138.65 L1349.98,139.42 L1350.10,140.19 L1350.22,140.95 L1350.34,141.72 L1350.47,142.48 L1350.59,143.25 L1350.71,144.01 L1350.83,144.78 L1350.95,145.54 L1351.07,146.31 L1351.19,147.07 L1351.31,147.84 L1351.43,148.60 L1351.55,149.37 L1351.66,150.14 L1351.78,150.90 L1351.90,151.67 L1352.01,152.43 L1352.13,153.20 L1352.25,153.96 L1352.36,154.73 L1352.48,155.49 L1352.59,156.26 L1352.71,157.02 L1352.82,157.79 L1352.94,158.55 L1353.05,159.32 L1353.16,160.09 L1353.27,160.85 L1353.39,161.62 L1353.50,162.38 L1353.61,163.15 L1353.72,163.91 L1353.83,164.68 L1353.95,165.44 L1354.06,166.21 L1354.17,166.97 L1354.28,167.74 L1354.39,168.51 L1354.50,169.27 L1354.61,170.04 L1354.72,170.80 L1354.83,171.57 L1354.93,172.33 L1355.04,173.10 L1355.15,173.86 L1355.26,174.63 L1355.37,175.39 L1355.47,176.16 L1355.58,176.92 L1355.69,177.69 L1355.79,178.46 L1355.90,179.22 L1356.01,179.99 L1356.11,180.75 L1356.22,181.52 L1356.33,182.28 L1356.43,183.05 L1356.54,183.81 L1356.64,184.58 L1356.75,185.34 L1356.85,186.11 L1356.96,186.87 L1357.06,187.64 L1357.16,188.41 L1357.27,189.17 L1357.37,189.94 L1357.48,190.70 L1357.58,191.47 L1357.68,192.23 L1357.79,193.00 L1357.89,193.76 L1357.99,194.53 L1358.09,195.29 L1358.20,196.06 L1358.30,196.82 L1358.40,197.59 L1358.50,198.36 L1358.60,199.12 L1358.71,199.89 L1358.81,200.65 L1358.91,201.42 L1359.01,202.18 L1359.11,202.95 L1359.21,203.71 L1359.31,204.48 L1359.41,205.24 L1359.51,206.01 L1359.61,206.78 L1359.71,207.54 L1359.81,208.31 L1359.91,209.07 L1360.01,209.84 L1360.11,210.60 L1360.21,211.37 L1360.31,212.13 L1360.41,212.90 L1360.51,213.66 L1360.61,214.43 L1360.71,215.19 L1360.80,215.96 L1360.90,216.73 L1361.00,217.49 L1361.10,218.26 L1361.20,219.02 L1361.30,219.79 L1361.39,220.55 L1361.49,221.32 L1361.59,222.08 L1361.69,222.85 L1361.78,223.61 L1361.88,224.38 L1361.98,225.14 L1362.07,225.91 L1362.17,226.68 L1362.27,227.44 L1362.36,228.21 L1362.46,228.97 L1362.56,229.74 L1362.65,230.50 L1362.75,231.27 L1362.85,232.03 L1362.94,232.80 L1363.04,233.56 L1363.13,234.33 L1363.23,235.09 L1363.33,235.86 L1363.42,236.63 L1363.52,237.39 L1363.61,238.16 L1363.71,238.92 L1363.80,239.69 L1363.90,240.45 L1363.99,241.22 L1364.09,241.98 L1364.18,242.75 L1364.28,243.51 L1364.37,244.28 L1364.47,245.05 L1364.56,245.81 L1364.65,246.58 L1364.75,247.34 L1364.84,248.11 L1364.94,248.87 L1365.03,249.64 L1365.13,250.40 L1365.22,251.17 L1365.31,251.93 L1365.41,252.70 L1365.50,253.46 L1365.59,254.23 L1365.69,255.00 L1365.78,255.76 L1365.87,256.53 L1365.97,257.29 L1366.06,258.06 L1366.15,258.82 L1366.25,259.59 L1366.34,260.35 L1366.43,261.12 L1366.52,261.88 L1366.62,262.65 L1366.71,263.41 L1366.80,264.18 L1366.89,264.95 L1366.99,265.71 L1367.08,266.48 L1367.17,267.24 L1367.26,268.01 L1367.35,268.77 L1367.45,269.54 L1367.54,270.30 L1367.63,271.07 L1367.72,271.83 L1367.81,272.60 L1367.91,273.37 L1368.00,274.13 L1368.09,274.90 L1368.18,275.66 L1368.27,276.43 L1368.36,277.19 L1368.45,277.96 L1368.55,278.72 L1368.64,279.49 L1368.73,280.25 L1368.82,281.02 L1368.91,281.78 L1369.00,282.55 L1369.09,283.32 L1369.18,284.08 L1369.27,284.85 L1369.36,285.61 L1369.45,286.38 L1369.54,287.14 L1369.63,287.91 L1369.72,288.67 L1369.82,289.44 L1369.91,290.20 L1370.00,290.97 L1370.09,291.73 L1370.18,292.50" fill="none" stroke="#1f4a8f" stroke-width="2.6" stroke-dasharray="4.5,1.8"/><path d="M1130.50,61.10 L1322.79,61.87 L1326.37,62.64 L1328.48,63.41 L1330.00,64.19 L1331.20,64.96 L1332.18,65.73 L1333.03,66.50 L1333.77,67.27 L1334.43,68.04 L1335.02,68.81 L1335.57,69.58 L1336.07,70.36 L1336.54,71.13 L1336.98,71.90 L1337.39,72.67 L1337.78,73.44 L1338.15,74.21 L1338.51,74.98 L1338.84,75.76 L1339.17,76.53 L1339.48,77.30 L1339.77,78.07 L1340.06,78.84 L1340.34,79.61 L1340.61,80.38 L1340.87,81.15 L1341.13,81.93 L1341.38,82.70 L1341.62,83.47 L1341.85,84.24 L1342.08,85.01 L1342.30,85.78 L1342.52,86.55 L1342.74,87.33 L1342.95,88.10 L1343.15,88.87 L1343.36,89.64 L1343.55,90.41 L1343.75,91.18 L1343.94,91.95 L1344.13,92.72 L1344.31,93.50 L1344.50,94.27 L1344.68,95.04 L1344.85,95.81 L1345.03,96.58 L1345.20,97.35 L1345.37,98.12 L1345.54,98.90 L1345.70,99.67 L1345.87,100.44 L1346.03,101.21 L1346.19,101.98 L1346.35,102.75 L1346.50,103.52 L1346.66,104.29 L1346.81,105.07 L1346.96,105.84 L1347.11,106.61 L1347.26,107.38 L1347.41,108.15 L1347.55,108.92 L1347.70,109.69 L1347.84,110.47 L1347.98,111.24 L1348.12,112.01 L1348.26,112.78 L1348.40,113.55 L1348.54,114.32 L1348.67,115.09 L1348.81,115.86 L1348.94,116.64 L1349.07,117.41 L1349.21,118.18 L1349.34,118.95 L1349.47,119.72 L1349.60,120.49 L1349.73,121.26 L1349.85,122.04 L1349.98,122.81 L1350.11,123.58 L1350.23,124.35 L1350.36,125.12 L1350.48,125.89 L1350.60,126.66 L1350.73,127.43 L1350.85,128.21 L1350.97,128.98 L1351.09,129.75 L1351.21,130.52 L1351.33,131.29 L1351.45,132.06 L1351.56,132.83 L1351.68,133.61 L1351.80,134.38 L1351.91,135.15 L1352.03,135.92 L1352.15,136.69 L1352.26,137.46 L1352.37,138.23 L1352.49,139.00 L1352.60,139.78 L1352.71,140.55 L1352.83,141.32 L1352.94,142.09 L1353.05,142.86 L1353.16,143.63 L1353.27,144.40 L1353.38,145.18 L1353.49,145.95 L1353.60,146.72 L1353.71,147.49 L1353.82,148.26 L1353.92,149.03 L1354.03,149.80 L1354.14,150.57 L1354.24,151.35 L1354.35,152.12 L1354.46,152.89 L1354.56,153.66 L1354.67,154.43 L1354.77,155.20 L1354.88,155.97 L1354.98,156.75 L1355.08,157.52 L1355.19,158.29 L1355.29,159.06 L1355.39,159.83 L1355.50,160.60 L1355.60,161.37 L1355.70,162.14 L1355.80,162.92 L1355.90,163.69 L1356.01,164.46 L1356.11,165.23 L1356.21,166.00 L1356.31,166.77 L1356.41,167.54 L1356.51,168.32 L1356.61,169.09 L1356.71,169.86 L1356.81,170.63 L1356.90,171.40 L1357.00,172.17 L1357.10,172.94 L1357.20,173.71 L1357.30,174.49 L1357.39,175.26 L1357.49,176.03 L1357.59,176.80 L1357.69,177.57 L1357.78,178.34 L1357.88,179.11 L1357.97,179.89 L1358.07,180.66 L1358.17,181.43 L1358.26,182.20 L1358.36,182.97 L1358.45,183.74 L1358.55,184.51 L1358.64,185.28 L1358.74,186.06 L1358.83,186.83 L1358.93,187.60 L1359.02,188.37 L1359.11,189.14 L1359.21,189.91 L1359.30,190.68 L1359.39,191.46 L1359.49,192.23 L1359.58,193.00 L1359.67,193.77 L1359.76,194.54 L1359.86,195.31 L1359.95,196.08 L1360.04,196.85 L1360.13,197.63 L1360.23,198.40 L1360.32,199.17 L1360.41,199.94 L1360.50,200.71 L1360.59,201.48 L1360.68,202.25 L1360.77,203.03 L1360.86,203.80 L1360.95,204.57 L1361.04,205.34 L1361.13,206.11 L1361.22,206.88 L1361.31,207.65 L1361.40,208.42 L1361.49,209.20 L1361.58,209.97 L1361.67,210.74 L1361.76,211.51 L1361.85,212.28 L1361.94,213.05 L1362.03,213.82 L1362.12,214.60 L1362.21,215.37 L1362.29,216.14 L1362.38,216.91 L1362.47,217.68 L1362.56,218.45 L1362.65,219.22 L1362.74,219.99 L1362.82,220.77 L1362.91,221.54 L1363.00,222.31 L1363.09,223.08 L1363.17,223.85 L1363.26,224.62 L1363.35,225.39 L1363.43,226.17 L1363.52,226.94 L1363.61,227.71 L1363.69,228.48 L1363.78,229.25 L1363.87,230.02 L1363.95,230.79 L1364.04,231.56 L1364.13,232.34 L1364.21,233.11 L1364.30,233.88 L1364.38,234.65 L1364.47,235.42 L1364.55,236.19 L1364.64,236.96 L1364.73,237.74 L1364.81,238.51 L1364.90,239.28 L1364.98,240.05 L1365.07,240.82 L1365.15,241.59 L1365.24,242.36 L1365.32,243.13 L1365.40,243.91 L1365.49,244.68 L1365.57,245.45 L1365.66,246.22 L1365.74,246.99 L1365.83,247.76 L1365.91,248.53 L1365.99,249.31 L1366.08,250.08 L1366.16,250.85 L1366.25,251.62 L1366.33,252.39 L1366.41,253.16 L1366.50,253.93 L1366.58,254.70 L1366.66,255.48 L1366.75,256.25 L1366.83,257.02 L1366.91,257.79 L1367.00,258.56 L1367.08,259.33 L1367.16,260.10 L1367.25,260.88 L1367.33,261.65 L1367.41,262.42 L1367.49,263.19 L1367.58,263.96 L1367.66,264.73 L1367.74,265.50 L1367.82,266.27 L1367.90,267.05 L1367.99,267.82 L1368.07,268.59 L1368.15,269.36 L1368.23,270.13 L1368.31,270.90 L1368.40,271.67 L1368.48,272.45 L1368.56,273.22 L1368.64,273.99 L1368.72,274.76 L1368.80,275.53 L1368.89,276.30 L1368.97,277.07 L1369.05,277.84 L1369.13,278.62 L1369.21,279.39 L1369.29,280.16 L1369.37,280.93 L1369.45,281.70 L1369.53,282.47 L1369.62,283.24 L1369.70,284.02 L1369.78,284.79 L1369.86,285.56 L1369.94,286.33 L1370.02,287.10 L1370.10,287.87 L1370.18,288.64 L1370.26,289.41 L1370.34,290.19 L1370.42,290.96 L1370.50,291.73 L1370.58,292.50" fill="none" stroke="#1f4a8f" stroke-width="2.6"/>
<text x="771.8" y="87.1" font-size="14" fill="#c6c6c6" textLength="51" lengthAdjust="spacingAndGlyphs" stroke="#c6c6c6" stroke-width="0.3" >0.06 cm</text><text x="824" y="80" font-size="8.5" fill="#c6c6c6" stroke="#c6c6c6" stroke-width="0.3" >2</text>
<text x="814.5" y="163.5" font-size="13.5" fill="#1a1a1a" font-style="italic" stroke="#1a1a1a" stroke-width="0.3" >V</text><text x="823.5" y="167.5" font-size="9.5" fill="#1a1a1a" stroke="#1a1a1a" stroke-width="0.3" >OC</text>
<text x="860.5" y="163.5" font-size="13.5" fill="#1a1a1a" font-style="italic" stroke="#1a1a1a" stroke-width="0.3" >J</text><text x="866" y="167.5" font-size="9.5" fill="#1a1a1a" stroke="#1a1a1a" stroke-width="0.3" >SC</text>
<text x="917" y="163.5" font-size="13" fill="#1a1a1a" text-anchor="middle" stroke="#1a1a1a" stroke-width="0.3" >FF</text><text x="957.2" y="163.5" font-size="13" fill="#1a1a1a" text-anchor="middle" stroke="#1a1a1a" stroke-width="0.3" >PCE</text>
<text x="824.5" y="184.6" font-size="13" fill="#c6c6c6" text-anchor="middle" stroke="#c6c6c6" stroke-width="0.3" >(V)</text><text x="839" y="184.6" font-size="13" fill="#c6c6c6" textLength="43" lengthAdjust="spacingAndGlyphs" stroke="#c6c6c6" stroke-width="0.3" >(mA cm</text><text x="882" y="178" font-size="8" fill="#c6c6c6" stroke="#c6c6c6" stroke-width="0.3" >−2</text><text x="893" y="184.6" font-size="13" fill="#c6c6c6" stroke="#c6c6c6" stroke-width="0.3" >)</text>
<text x="917" y="184.6" font-size="13" fill="#c6c6c6" text-anchor="middle" stroke="#c6c6c6" stroke-width="0.3" >(%)</text><text x="957.2" y="184.6" font-size="13" fill="#c6c6c6" text-anchor="middle" stroke="#c6c6c6" stroke-width="0.3" >(%)</text>
<text x="765.9" y="205" font-size="12.8" fill="#2a5597" textLength="34.9" lengthAdjust="spacingAndGlyphs" stroke="#2a5597" stroke-width="0.3" >NPVM</text>
<text x="824" y="205" font-size="11.2" fill="#1a1a1a" text-anchor="middle" stroke="#1a1a1a" stroke-width="0.3" >1.189</text>
<text x="868.5" y="205" font-size="11.2" fill="#1a1a1a" text-anchor="middle" stroke="#1a1a1a" stroke-width="0.3" >26.07</text>
<text x="917" y="205" font-size="11.2" fill="#1a1a1a" text-anchor="middle" stroke="#1a1a1a" stroke-width="0.3" >85.37</text>
<text x="957" y="205" font-size="11.2" fill="#1a1a1a" text-anchor="middle" stroke="#1a1a1a" stroke-width="0.3" >26.44</text>
<path d="M762.3,274.7 L791.9,274.7" stroke="#1f4790" stroke-width="2.6"/><path d="M795.4,274.7 L820.6,274.7" stroke="#1f4790" stroke-width="2.6" stroke-dasharray="5.5,4.5"/><path d="M790,283 L796,266.5" stroke="#1f4790" stroke-width="1.3"/>
<text x="828.2" y="279.2" font-size="13.5" fill="#1a1a1a" textLength="59" lengthAdjust="spacingAndGlyphs" stroke="#1a1a1a" stroke-width="0.3" >Rev./Fwd.</text>
<path d="M933,233.1 L974.2,233.1 L978.2,237 L978.2,278 L974.2,281.9 L933,281.9 L929,278 L929,237 Z" fill="#2f74b9"/>
<path d="M939,233.5 L939,281.5 M968,233.5 L968,281.5" stroke="#8bb8e0" stroke-width="0.8"/>
<path d="M953.6,238 L971,257.5 L953.6,277 L936.2,257.5 Z" fill="#fff" stroke="#1a4a80" stroke-width="0.5"/>
<text x="953.6" y="260.5" font-size="8.6" style="font-family:Liberation Serif,serif" font-weight="bold" text-anchor="middle" fill="#222" textLength="31" lengthAdjust="spacingAndGlyphs">NPVM</text>
<text x="877.4" y="332.3" font-size="16" fill="#1a1a1a" text-anchor="middle" textLength="80" lengthAdjust="spacingAndGlyphs" stroke="#1a1a1a" stroke-width="0.3" >Voltage (V)</text>
<text transform="translate(721.2,264.3) rotate(-90)" font-size="16.5" fill="#1a1a1a"><tspan textLength="176" lengthAdjust="spacingAndGlyphs">Current density (mA cm</tspan><tspan dy="-7" font-size="10.5">−2</tspan><tspan dy="7">)</tspan></text>
<text x="1138.9" y="83.7" font-size="14" fill="#c6c6c6" textLength="51" lengthAdjust="spacingAndGlyphs" stroke="#c6c6c6" stroke-width="0.3" >1.03 cm</text><text x="1191" y="76.5" font-size="8.5" fill="#c6c6c6" stroke="#c6c6c6" stroke-width="0.3" >2</text>
<text x="1185.5" y="162.5" font-size="13.5" fill="#1a1a1a" font-style="italic" stroke="#1a1a1a" stroke-width="0.3" >V</text><text x="1194.5" y="166.5" font-size="9.5" fill="#1a1a1a" stroke="#1a1a1a" stroke-width="0.3" >OC</text>
<text x="1232.5" y="162.5" font-size="13.5" fill="#1a1a1a" font-style="italic" stroke="#1a1a1a" stroke-width="0.3" >J</text><text x="1238" y="166.5" font-size="9.5" fill="#1a1a1a" stroke="#1a1a1a" stroke-width="0.3" >SC</text>
<text x="1293" y="162.5" font-size="13" fill="#1a1a1a" text-anchor="middle" stroke="#1a1a1a" stroke-width="0.3" >FF</text><text x="1334.4" y="162.5" font-size="13" fill="#1a1a1a" text-anchor="middle" stroke="#1a1a1a" stroke-width="0.3" >PCE</text>
<text x="1196" y="184.6" font-size="13" fill="#c6c6c6" text-anchor="middle" stroke="#c6c6c6" stroke-width="0.3" >(V)</text><text x="1210.5" y="184.6" font-size="13" fill="#c6c6c6" textLength="43" lengthAdjust="spacingAndGlyphs" stroke="#c6c6c6" stroke-width="0.3" >(mA cm</text><text x="1253.5" y="178" font-size="8" fill="#c6c6c6" stroke="#c6c6c6" stroke-width="0.3" >−2</text><text x="1264.5" y="184.6" font-size="13" fill="#c6c6c6" stroke="#c6c6c6" stroke-width="0.3" >)</text>
<text x="1293" y="184.6" font-size="13" fill="#c6c6c6" text-anchor="middle" stroke="#c6c6c6" stroke-width="0.3" >(%)</text><text x="1334.4" y="184.6" font-size="13" fill="#c6c6c6" text-anchor="middle" stroke="#c6c6c6" stroke-width="0.3" >(%)</text>
<text x="1137.7" y="206.4" font-size="12.8" fill="#2a5597" textLength="34.3" lengthAdjust="spacingAndGlyphs" stroke="#2a5597" stroke-width="0.3" >SIMIT</text>
<text x="1196" y="206" font-size="11.2" fill="#1a1a1a" text-anchor="middle" stroke="#1a1a1a" stroke-width="0.3" >1.185</text>
<text x="1241.5" y="206" font-size="11.2" fill="#1a1a1a" text-anchor="middle" stroke="#1a1a1a" stroke-width="0.3" >26.08</text>
<text x="1293" y="206" font-size="11.2" fill="#1a1a1a" text-anchor="middle" stroke="#1a1a1a" stroke-width="0.3" >81.94</text>
<text x="1334" y="206" font-size="11.2" fill="#1a1a1a" text-anchor="middle" stroke="#1a1a1a" stroke-width="0.3" >25.33</text>
<path d="M1131.8,275 L1162,275" stroke="#1f4790" stroke-width="2.6"/><path d="M1167.6,275 L1192.7,275" stroke="#1f4790" stroke-width="2.6" stroke-dasharray="5.5,4.5"/><path d="M1160.5,283 L1166.5,266.5" stroke="#1f4790" stroke-width="1.3"/>
<text x="1200.5" y="279.5" font-size="13.5" fill="#1a1a1a" textLength="59" lengthAdjust="spacingAndGlyphs" stroke="#1a1a1a" stroke-width="0.3" >Rev./Fwd.</text>
<text x="1252.5" y="334.7" font-size="16" fill="#1a1a1a" text-anchor="middle" textLength="82" lengthAdjust="spacingAndGlyphs" stroke="#1a1a1a" stroke-width="0.3" >Voltage (V)</text>
<text transform="translate(1089.5,267.4) rotate(-90)" font-size="16.5" fill="#1a1a1a"><tspan textLength="183" lengthAdjust="spacingAndGlyphs">Current density (mA cm</tspan><tspan dy="-7" font-size="10.5">−2</tspan><tspan dy="7">)</tspan></text>
<g>
<path d="M1306.8,282.6 C1300,270 1299,258 1301,252 C1303,240 1310,234.5 1316,234.5 C1326,234.5 1336,242 1343.2,250.5 C1336,247 1328,245 1322.8,246.9 C1316,249 1311,253 1309,260 C1307,266 1306.5,274 1306.8,282.6 Z" fill="#1fa2dc"/>
<path d="M1343.2,250.5 C1336,244 1326,241 1320,243 M1341,252 C1334,247 1326,245 1321,246.5 M1304,270 C1303,262 1305,252 1311,246" fill="none" stroke="#ffffff" stroke-width="0.7" opacity="0.8"/>
<path d="M1308,276 C1306,266 1307,256 1313,249 C1318,244 1325,243 1332,244" fill="none" stroke="#0c7ac0" stroke-width="2" opacity="0.8"/>
</g>
<text x="1334" y="275.3" font-size="14" font-family="Liberation Sans, sans-serif" font-weight="bold" font-style="italic" text-anchor="middle" fill="#1a7fc4" textLength="42" lengthAdjust="spacingAndGlyphs">SIMIT</text>
<defs>
<linearGradient id="fadeL" gradientUnits="userSpaceOnUse" x1="190" y1="0" x2="245" y2="0"><stop offset="0" stop-color="#fff" stop-opacity="1"/><stop offset="1" stop-color="#fff" stop-opacity="0"/></linearGradient>
<linearGradient id="fadeR" gradientUnits="userSpaceOnUse" x1="297" y1="0" x2="352" y2="0"><stop offset="0" stop-color="#fff" stop-opacity="0"/><stop offset="1" stop-color="#fff" stop-opacity="1"/></linearGradient>
<linearGradient id="fadeT" x1="0" y1="0" x2="0" y2="1"><stop offset="0" stop-color="#fff" stop-opacity="0.9"/><stop offset="1" stop-color="#fff" stop-opacity="0.1"/></linearGradient>
<marker id="ahB" viewBox="0 0 10 10" refX="8" refY="5" markerWidth="4.6" markerHeight="4.6" orient="auto-start-reverse"><path d="M0,0 L10,5 L0,10 L3,5 Z" fill="#123d8a"/></marker>
<marker id="ahS" viewBox="0 0 10 10" refX="8" refY="5" markerWidth="4.4" markerHeight="4.4" orient="auto-start-reverse"><path d="M0,0 L10,5 L0,10 L3,5 Z" fill="#2b3e5c"/></marker>
<marker id="ahR" viewBox="0 0 10 10" refX="7" refY="5" markerWidth="5" markerHeight="5" orient="auto-start-reverse"><path d="M0,0 L10,5 L0,10 Z" fill="#a8265a"/></marker>
<clipPath id="clipL"><rect x="170" y="310" width="88" height="95"/></clipPath>
<clipPath id="clipR"><rect x="284" y="310" width="90" height="95"/></clipPath>
<clipPath id="clipHalf"><rect x="100" y="486" width="110" height="52"/></clipPath>
</defs>
<path d="M62.4,367 L62.4,506" stroke="#123d8a" stroke-width="2.1" marker-end="url(#ahB)"/>
<text transform="translate(53.5,436) rotate(-90)" font-size="13.5" text-anchor="middle" fill="#1a1a1a" textLength="80" lengthAdjust="spacingAndGlyphs"><tspan font-style="italic">hv</tspan> or thermal</text>
<text transform="translate(79.5,437.5) rotate(-90)" font-size="12" text-anchor="middle" fill="#2a5ba0" textLength="33.5" lengthAdjust="spacingAndGlyphs">+FIBA</text>
<g clip-path="url(#clipL)"><path d="M226.23,324.41 L216.52,332.34 L202.04,332.34 L202.81,324.41 L217.76,319.51Z" fill="#f6e6e6"/>
<path d="M192.80,370.83 L184.33,365.93 L184.33,350.07 L192.80,345.17 L198.04,358.00Z" fill="#f6e6e6"/>
<path d="M246.42,373.86 L241.18,386.69 L247.66,386.69 L256.90,373.86 L256.13,365.93Z" fill="#f6e6e6"/>
<path d="M217.76,396.49 L226.23,391.59 L216.52,383.66 L202.04,383.66 L202.81,391.59Z" fill="#f6e6e6"/>
<path d="M241.18,329.31 L247.66,329.31 L256.90,342.14 L256.13,350.07 L246.42,342.14Z" fill="#f6e6e6"/>
<path d="M236.70,365.93 L236.70,350.07 L221.75,345.17 L212.51,358.00 L221.75,370.83Z" fill="#f6e6e6"/>
<path d="M226.23,324.41L241.18,329.31M226.23,324.41L217.76,319.51M226.23,324.41L216.52,332.34M192.80,370.83L184.33,365.93M192.80,370.83L202.04,383.66M192.80,370.83L198.04,358.00M246.42,373.86L236.70,365.93M246.42,373.86L241.18,386.69M246.42,373.86L256.13,365.93M217.76,396.49L226.23,391.59M217.76,396.49L202.81,391.59M217.76,396.49L224.24,396.49M185.10,342.14L184.33,350.07M241.18,329.31L246.42,342.14M241.18,329.31L247.66,329.31M194.34,329.31L202.81,324.41M224.24,319.51L217.76,319.51M246.42,342.14L256.13,350.07M246.42,342.14L236.70,350.07M202.81,324.41L217.76,319.51M202.81,324.41L202.04,332.34M236.70,365.93L221.75,370.83M236.70,365.93L236.70,350.07M247.66,386.69L241.18,386.69M247.66,386.69L256.90,373.86M241.18,386.69L226.23,391.59M194.34,386.69L202.81,391.59M184.33,365.93L185.10,373.86M184.33,365.93L184.33,350.07M256.90,373.86L256.13,365.93M226.23,391.59L216.52,383.66M221.75,345.17L216.52,332.34M221.75,345.17L212.51,358.00M221.75,345.17L236.70,350.07M256.13,350.07L256.90,342.14M256.13,350.07L256.13,365.93M202.04,332.34L216.52,332.34M202.04,332.34L192.80,345.17M256.90,342.14L247.66,329.31M202.81,391.59L202.04,383.66M221.75,370.83L216.52,383.66M221.75,370.83L212.51,358.00M216.52,383.66L202.04,383.66M212.51,358.00L198.04,358.00M198.04,358.00L192.80,345.17M192.80,345.17L184.33,350.07" stroke="#555" stroke-width="0.9" fill="none" stroke-linejoin="round"/>
<path d="M220.42,334.92L223.28,341.92M236.69,346.32L241.99,341.99M237.30,330.48L229.13,327.81M229.41,324.98L237.57,327.66M243.38,327.66L238.76,324.98M225.35,320.59L221.81,320.59M186.45,369.68L186.87,374.01M195.16,385.52L199.79,388.19M199.10,381.08L194.05,374.08M201.77,360.82L209.67,360.82M217.96,372.33L215.10,379.34M202.11,379.34L197.07,372.33M237.30,385.52L229.13,388.19M220.42,381.08L223.28,374.08M236.69,369.68L241.99,374.01M254.00,362.33L254.00,353.67M245.28,346.56L239.98,350.89M239.98,365.11L245.28,369.44M229.41,391.02L237.57,388.34M243.38,388.34L238.76,391.02M225.35,395.41L221.81,395.41M186.87,341.99L186.45,346.32M194.05,341.92L199.10,334.92M199.79,327.81L195.16,330.48M217.96,343.67L215.10,336.66M202.11,336.66L197.07,343.67M201.77,355.18L209.67,355.18" stroke="#666" stroke-width="0.81" fill="none"/></g>
<g clip-path="url(#clipR)"><path d="M343.46,358.00 L348.70,370.83 L357.17,365.93 L357.17,350.07 L348.70,345.17Z" fill="#f6e6e6"/>
<path d="M339.46,332.34 L338.69,324.41 L323.74,319.51 L315.27,324.41 L324.98,332.34Z" fill="#f6e6e6"/>
<path d="M328.99,358.00 L319.75,370.83 L304.80,365.93 L304.80,350.07 L319.75,345.17Z" fill="#f6e6e6"/>
<path d="M284.60,373.86 L293.84,386.69 L300.32,386.69 L295.08,373.86 L285.37,365.93Z" fill="#f6e6e6"/>
<path d="M293.84,329.31 L300.32,329.31 L295.08,342.14 L285.37,350.07 L284.60,342.14Z" fill="#f6e6e6"/>
<path d="M324.98,383.66 L339.46,383.66 L338.69,391.59 L323.74,396.49 L315.27,391.59Z" fill="#f6e6e6"/>
<path d="M343.46,358.00L328.99,358.00M343.46,358.00L348.70,345.17M343.46,358.00L348.70,370.83M339.46,332.34L324.98,332.34M339.46,332.34L338.69,324.41M339.46,332.34L348.70,345.17M328.99,358.00L319.75,345.17M328.99,358.00L319.75,370.83M324.98,332.34L319.75,345.17M324.98,332.34L315.27,324.41M357.17,365.93L356.40,373.86M357.17,365.93L357.17,350.07M357.17,365.93L348.70,370.83M284.60,373.86L293.84,386.69M284.60,373.86L285.37,365.93M317.26,396.49L323.74,396.49M293.84,329.31L284.60,342.14M293.84,329.31L300.32,329.31M324.98,383.66L339.46,383.66M324.98,383.66L315.27,391.59M324.98,383.66L319.75,370.83M323.74,319.51L338.69,324.41M323.74,319.51L317.26,319.51M323.74,319.51L315.27,324.41M339.46,383.66L338.69,391.59M339.46,383.66L348.70,370.83M284.60,342.14L285.37,350.07M338.69,324.41L347.16,329.31M347.16,386.69L338.69,391.59M300.32,386.69L315.27,391.59M300.32,386.69L293.84,386.69M300.32,386.69L295.08,373.86M319.75,345.17L304.80,350.07M315.27,391.59L323.74,396.49M295.08,373.86L304.80,365.93M295.08,373.86L285.37,365.93M319.75,370.83L304.80,365.93M338.69,391.59L323.74,396.49M356.40,342.14L357.17,350.07M304.80,350.07L295.08,342.14M304.80,350.07L304.80,365.93M285.37,350.07L295.08,342.14M285.37,350.07L285.37,365.93M295.08,342.14L300.32,329.31M348.70,345.17L357.17,350.07M315.27,324.41L300.32,329.31" stroke="#555" stroke-width="0.9" fill="none" stroke-linejoin="round"/>
<path d="M339.73,360.82L331.83,360.82M323.54,372.33L326.40,379.34M339.39,379.34L344.43,372.33M339.73,355.18L331.83,355.18M323.54,343.67L326.40,336.66M339.39,336.66L344.43,343.67M341.71,327.81L346.34,330.48M354.63,341.99L355.05,346.32M347.45,341.92L342.40,334.92M302.74,324.98L298.12,327.66M303.93,327.66L312.09,324.98M319.69,320.59L316.15,320.59M321.08,334.92L318.22,341.92M304.81,346.32L299.51,341.99M304.20,330.48L312.37,327.81M347.45,374.08L342.40,381.08M341.71,388.19L346.34,385.52M354.63,374.01L355.05,369.68M302.74,391.02L298.12,388.34M303.93,388.34L312.09,391.02M319.69,395.41L316.15,395.41M321.08,381.08L318.22,374.08M304.81,369.68L299.51,374.01M304.20,385.52L312.37,388.19M287.50,362.33L287.50,353.67M296.22,346.56L301.52,350.89M301.52,365.11L296.22,369.44" stroke="#666" stroke-width="0.81" fill="none"/></g>
<rect x="168" y="310" width="92" height="95" fill="url(#fadeL)"/><rect x="282" y="310" width="94" height="95" fill="url(#fadeR)"/>
<path d="M257.8,358 q1.6,-4 3.2,0 t3.2,0 t3.2,0 t3.2,0 t3.2,0 t3.2,0 t3.2,0 t3.2,0" fill="none" stroke="#c84575" stroke-width="1.2"/>
<path d="M244.5,410 C258,402 270,388 271.5,367" fill="none" stroke="#2f4a6a" stroke-width="1.8" marker-end="url(#ahS)"/>
<text x="205.2" y="424" font-size="11.8" fill="#1a1a1a" textLength="139" lengthAdjust="spacingAndGlyphs" stroke="#1a1a1a" stroke-width="0.3" >Cycloaddition dimerization</text>
<text x="47.2" y="354.1" font-size="12.8" fill="#1a1a1a" textLength="34.9" lengthAdjust="spacingAndGlyphs" stroke="#1a1a1a" stroke-width="0.3" >PCBM</text>
<path d="M90.6,350.4 L183,350.4" stroke="#2b3e5c" stroke-width="1.7" marker-end="url(#ahS)"/>
<text x="97.7" y="339.3" font-size="13.5" fill="#1a1a1a" textLength="80.7" lengthAdjust="spacingAndGlyphs" stroke="#1a1a1a" stroke-width="0.3" ><tspan font-style="italic">hv</tspan> or thermal</text>
<path d="M72.90,542.90 L61.56,549.45 L61.56,562.55 L72.90,569.10 L84.24,562.55 L84.24,549.45Z" fill="#f4e4e4" stroke="#333" stroke-width="1.1"/>
<circle cx="72.9" cy="556" r="8" fill="none" stroke="#555" stroke-width="0.9"/>
<path d="M72.9,542.9 L72.9,530 L65.5,524.5 M72.9,530 L81,524.5 M74,531.8 L82,526.5 M61.6,549.5 L54,545 M84.2,549.5 L92,545 M61.6,562.5 L54,567 M84.2,562.5 L92,567 M72.9,569.1 L72.9,580" stroke="#333" stroke-width="1.1" fill="none"/>
<text x="50" y="525" font-size="10" fill="#1a1a1a" stroke="#1a1a1a" stroke-width="0.3" >HO</text><text x="82.5" y="525" font-size="10" fill="#1a1a1a" stroke="#1a1a1a" stroke-width="0.3" >O</text>
<text x="46.5" y="546" font-size="10" fill="#1a1a1a" stroke="#1a1a1a" stroke-width="0.3" >F</text>
<text x="93" y="546" font-size="10" fill="#1a1a1a" stroke="#1a1a1a" stroke-width="0.3" >F</text>
<text x="46.5" y="572.5" font-size="10" fill="#1a1a1a" stroke="#1a1a1a" stroke-width="0.3" >F</text>
<text x="93" y="572.5" font-size="10" fill="#1a1a1a" stroke="#1a1a1a" stroke-width="0.3" >F</text>
<circle cx="72.9" cy="585.7" r="6" fill="#b8bad8"/><path d="M72.9,582 L72.9,589.5" stroke="#444" stroke-width="1"/>
<path d="M72.5,556 L129,556" stroke="#b0306a" stroke-width="1.4" stroke-dasharray="4,3"/>
<g clip-path="url(#clipHalf)"><path d="M189.18,486.48 L184.19,483.69 L176.12,469.71 L176.12,463.86 L184.19,474.22Z" fill="#f7eaea"/>
<path d="M136.94,467.98 L141.93,480.24 L158.07,480.24 L163.06,467.98 L150.00,460.41Z" fill="#f7eaea"/>
<path d="M141.93,508.20 L133.86,494.22 L120.80,495.94 L120.80,510.99 L133.86,518.56Z" fill="#f7eaea"/>
<path d="M179.20,495.94 L179.20,510.99 L166.14,518.56 L158.07,508.20 L166.14,494.22Z" fill="#f7eaea"/>
<path d="M158.07,528.92 L141.93,528.92 L136.94,531.71 L150.00,533.44 L163.06,531.71Z" fill="#f7eaea"/>
<path d="M123.88,469.71 L123.88,463.86 L115.81,474.22 L110.82,486.48 L115.81,483.69Z" fill="#f7eaea"/>
<path d="M189.18,501.52L189.18,486.48M189.18,501.52L184.19,513.78M189.18,486.48L184.19,474.22M189.18,486.48L184.19,483.69M176.12,524.14L163.06,531.71M176.12,524.14L184.19,513.78M115.81,513.78L123.88,524.14M115.81,513.78L120.80,510.99M115.81,513.78L110.82,501.52M136.94,467.98L123.88,469.71M136.94,467.98L141.93,480.24M136.94,467.98L150.00,460.41M141.93,508.20L133.86,494.22M141.93,508.20L133.86,518.56M141.93,508.20L158.07,508.20M179.20,495.94L179.20,510.99M179.20,495.94L166.14,494.22M179.20,495.94L184.19,483.69M179.20,510.99L166.14,518.56M179.20,510.99L184.19,513.78M136.94,456.29L150.00,454.56M136.94,456.29L123.88,463.86M158.07,528.92L163.06,531.71M158.07,528.92L141.93,528.92M158.07,528.92L166.14,518.56M123.88,469.71L115.81,483.69M123.88,469.71L123.88,463.86M158.07,480.24L166.14,494.22M158.07,480.24L141.93,480.24M158.07,480.24L163.06,467.98M184.19,474.22L176.12,463.86M163.06,531.71L150.00,533.44M166.14,494.22L158.07,508.20M141.93,480.24L133.86,494.22M141.93,528.92L133.86,518.56M141.93,528.92L136.94,531.71M123.88,524.14L136.94,531.71M163.06,467.98L176.12,469.71M163.06,467.98L150.00,460.41M184.19,483.69L176.12,469.71M166.14,518.56L158.07,508.20M133.86,494.22L120.80,495.94M176.12,463.86L163.06,456.29M176.12,463.86L176.12,469.71M115.81,474.22L110.82,486.48M115.81,474.22L123.88,463.86M150.00,454.56L163.06,456.29M150.00,454.56L150.00,460.41M150.00,533.44L136.94,531.71M133.86,518.56L120.80,510.99M115.81,483.69L120.80,495.94M115.81,483.69L110.82,486.48M120.80,495.94L120.80,510.99M110.82,486.48L110.82,501.52" stroke="#888" stroke-width="0.8" fill="none" stroke-linejoin="round"/>
<path d="M188.08,499.15L188.08,490.93M183.61,488.43L180.88,495.12M180.88,508.62L183.61,510.14M180.73,515.12L178.01,513.59M166.30,520.39L161.89,526.05M166.36,528.55L173.49,524.41M126.51,524.41L133.64,528.55M138.11,526.05L133.70,520.39M121.99,513.59L119.27,515.12M111.92,499.15L111.92,490.93M116.39,488.43L119.12,495.12M119.12,508.62L116.39,510.14M138.11,482.25L133.70,489.89M121.99,491.43L119.27,484.74M126.51,472.20L133.64,471.26M147.13,460.10L147.13,456.91M135.41,458.46L128.28,462.59M128.28,467.84L135.41,466.90M138.35,492.58L142.76,484.95M157.24,484.95L161.65,492.58M154.41,505.12L145.59,505.12M138.35,519.77L142.76,525.43M157.24,525.43L161.65,519.77M154.41,510.48L145.59,510.48M178.01,491.43L180.73,484.74M173.49,472.20L166.36,471.26M161.89,482.25L166.30,489.89M152.87,460.10L152.87,456.91M164.59,458.46L171.72,462.59M171.72,467.84L164.59,466.90" stroke="#999" stroke-width="0.7200000000000001" fill="none"/></g>
<rect x="100" y="486" width="110" height="52" fill="url(#fadeT)"/>
<path d="M128.00,542.00 L116.74,548.50 L116.74,561.50 L128.00,568.00 L139.26,561.50 L139.26,548.50Z" fill="#dbe9f2" stroke="#333" stroke-width="1.1"/>
<circle cx="128" cy="555" r="8" fill="none" stroke="#555" stroke-width="0.9"/>
<path d="M139.2,548.5 L151,541.7 L163.3,548.5 L176.2,541.7 L187.4,548.5 L198.7,541.7 L208,547 M198.7,541.7 L198.7,531 M196.5,541.7 L196.5,531 M214.5,546.5 L223.3,541.7 M151,541.7 L133.6,518 M151,541.7 L167.3,517" stroke="#333" stroke-width="1.1" fill="none"/>
<text x="207" y="552.5" font-size="10.5" fill="#1a1a1a" stroke="#1a1a1a" stroke-width="0.3" >O</text>
<text x="128" y="579.2" font-size="12" fill="#a8265a" textLength="69" lengthAdjust="spacingAndGlyphs" stroke="#a8265a" stroke-width="0.3" >π-π stacking</text>
<path d="M125.5,574 C115,574 108,569 105,562" fill="none" stroke="#a8265a" stroke-width="2" marker-end="url(#ahR)"/>
<text x="236.9" y="497.8" font-size="12.2" fill="#a8265a" textLength="100.1" lengthAdjust="spacingAndGlyphs" stroke="#a8265a" stroke-width="0.3" >Hydrogen bonding</text>
<path d="M234.5,494 C218,495 210,505 210.3,521" fill="none" stroke="#a8265a" stroke-width="2" marker-end="url(#ahR)"/>
<path d="M200,528.5 L228.4,528.5" stroke="#c84575" stroke-width="1.3" stroke-dasharray="3.5,2.5"/>
<circle cx="199" cy="528.5" r="2.2" fill="none" stroke="#a8265a" stroke-width="0.8"/>
<text x="228.5" y="532" font-size="10.5" fill="#1a1a1a" stroke="#1a1a1a" stroke-width="0.3" >HO</text>
<path d="M266.00,536.60 L275.50,527.50 L294.50,527.50 L304.00,536.60 L294.50,545.70 L275.50,545.70Z" fill="#fff" stroke="#222" stroke-width="1.5"/>
<ellipse cx="285" cy="536.6" rx="12.5" ry="5.5" fill="none" stroke="#333" stroke-width="1"/>
<path d="M266,536.6 L251,536.6 L243,531 M251,536.6 L243,541.5 M250,538.5 L242.5,543.5 M275.5,527.5 L270,521.5 M294.5,527.5 L300,521.5 M275.5,545.7 L270,551 M294.5,545.7 L300,551 M304,536.6 L317,536.6" stroke="#222" stroke-width="1.1" fill="none"/>
<text x="234.5" y="546" font-size="10.5" fill="#1a1a1a" stroke="#1a1a1a" stroke-width="0.3" >O</text>
<text x="259.5" y="522.5" font-size="10" fill="#1a1a1a" stroke="#1a1a1a" stroke-width="0.3" >F</text>
<text x="303" y="522.5" font-size="10" fill="#1a1a1a" stroke="#1a1a1a" stroke-width="0.3" >F</text>
<text x="259.5" y="554" font-size="10" fill="#1a1a1a" stroke="#1a1a1a" stroke-width="0.3" >F</text>
<text x="303" y="554" font-size="10" fill="#1a1a1a" stroke="#1a1a1a" stroke-width="0.3" >F</text>
<circle cx="323.3" cy="536.6" r="6" fill="#b8bad8"/><path d="M323.3,533 L323.3,540.5" stroke="#444" stroke-width="1"/>
<path d="M83.6,589.3 L204.4,613.7 L324.3,551.7" fill="none" stroke="#123d8a" stroke-width="2" stroke-dasharray="5,3.5"/>
<path d="M204.6,614 L204.6,668.5" stroke="#123d8a" stroke-width="2.1" marker-end="url(#ahB)"/>
<text x="74.3" y="649.8" font-size="11.8" fill="#2a5ba0" textLength="123.9" lengthAdjust="spacingAndGlyphs" stroke="#2a5ba0" stroke-width="0.3" >Iodine-induced stacking</text>
<text x="211" y="649.8" font-size="11.8" fill="#2a5ba0" textLength="82.9" lengthAdjust="spacingAndGlyphs" stroke="#2a5ba0" stroke-width="0.3" >Onto perovskite</text>
<path d="M53.4,771.3 L87.8,771.3 L70.6,788.5 Z" fill="#c8dcef" stroke="#7ba9d3" stroke-width="0.9"/>
<path d="M70.6,771.3 L70.6,788.5" stroke="#a9c6e4" stroke-width="0.6"/>
<circle cx="70.6" cy="771.3" r="6" fill="#ecebb5" stroke="#d4d28c" stroke-width="0.7"/>
<path d="M105.0,754.1 L122.2,771.3 L105.0,788.5 L87.8,771.3 Z" fill="#c8dcef" stroke="#7ba9d3" stroke-width="0.9"/>
<path d="M105.0,754.1 L105.0,788.5 M87.8,771.3 L122.2,771.3" stroke="#a9c6e4" stroke-width="0.6"/>
<circle cx="105.0" cy="771.3" r="6" fill="#ecebb5" stroke="#d4d28c" stroke-width="0.7"/>
<path d="M139.4,754.1 L156.6,771.3 L139.4,788.5 L122.2,771.3 Z" fill="#c8dcef" stroke="#7ba9d3" stroke-width="0.9"/>
<path d="M139.4,754.1 L139.4,788.5 M122.2,771.3 L156.6,771.3" stroke="#a9c6e4" stroke-width="0.6"/>
<circle cx="139.4" cy="771.3" r="6" fill="#ecebb5" stroke="#d4d28c" stroke-width="0.7"/>
<path d="M173.8,754.1 L191.0,771.3 L173.8,788.5 L156.6,771.3 Z" fill="#c8dcef" stroke="#7ba9d3" stroke-width="0.9"/>
<path d="M173.8,754.1 L173.8,788.5 M156.6,771.3 L191.0,771.3" stroke="#a9c6e4" stroke-width="0.6"/>
<circle cx="173.8" cy="771.3" r="6" fill="#ecebb5" stroke="#d4d28c" stroke-width="0.7"/>
<path d="M191.0,771.3 L225.4,771.3 L208.2,788.5 Z" fill="#c8dcef" stroke="#7ba9d3" stroke-width="0.9"/>
<path d="M208.2,771.3 L208.2,788.5" stroke="#a9c6e4" stroke-width="0.6"/>
<circle cx="208.2" cy="771.3" r="6" fill="#ecebb5" stroke="#d4d28c" stroke-width="0.7"/>
<path d="M225.3,771.3 L259.8,771.3 L242.5,788.5 Z" fill="#c8dcef" stroke="#7ba9d3" stroke-width="0.9"/>
<path d="M242.5,771.3 L242.5,788.5" stroke="#a9c6e4" stroke-width="0.6"/>
<circle cx="242.5" cy="771.3" r="6" fill="#ecebb5" stroke="#d4d28c" stroke-width="0.7"/>
<path d="M276.9,754.1 L294.1,771.3 L276.9,788.5 L259.7,771.3 Z" fill="#c8dcef" stroke="#7ba9d3" stroke-width="0.9"/>
<path d="M276.9,754.1 L276.9,788.5 M259.7,771.3 L294.1,771.3" stroke="#a9c6e4" stroke-width="0.6"/>
<circle cx="276.9" cy="771.3" r="6" fill="#ecebb5" stroke="#d4d28c" stroke-width="0.7"/>
<path d="M311.3,754.1 L328.5,771.3 L311.3,788.5 L294.1,771.3 Z" fill="#c8dcef" stroke="#7ba9d3" stroke-width="0.9"/>
<path d="M311.3,754.1 L311.3,788.5 M294.1,771.3 L328.5,771.3" stroke="#a9c6e4" stroke-width="0.6"/>
<circle cx="311.3" cy="771.3" r="6" fill="#ecebb5" stroke="#d4d28c" stroke-width="0.7"/>
<path d="M70.6,788.6 L87.8,805.8 L70.6,823.0 L53.4,805.8 Z" fill="#c8dcef" stroke="#7ba9d3" stroke-width="0.9"/>
<path d="M70.6,788.6 L70.6,823.0 M53.4,805.8 L87.8,805.8" stroke="#a9c6e4" stroke-width="0.6"/>
<circle cx="70.6" cy="805.8" r="6" fill="#ecebb5" stroke="#d4d28c" stroke-width="0.7"/>
<path d="M105.0,788.6 L122.2,805.8 L105.0,823.0 L87.8,805.8 Z" fill="#c8dcef" stroke="#7ba9d3" stroke-width="0.9"/>
<path d="M105.0,788.6 L105.0,823.0 M87.8,805.8 L122.2,805.8" stroke="#a9c6e4" stroke-width="0.6"/>
<circle cx="105.0" cy="805.8" r="6" fill="#ecebb5" stroke="#d4d28c" stroke-width="0.7"/>
<path d="M139.4,788.6 L156.6,805.8 L139.4,823.0 L122.2,805.8 Z" fill="#c8dcef" stroke="#7ba9d3" stroke-width="0.9"/>
<path d="M139.4,788.6 L139.4,823.0 M122.2,805.8 L156.6,805.8" stroke="#a9c6e4" stroke-width="0.6"/>
<circle cx="139.4" cy="805.8" r="6" fill="#ecebb5" stroke="#d4d28c" stroke-width="0.7"/>
<path d="M173.8,788.6 L191.0,805.8 L173.8,823.0 L156.6,805.8 Z" fill="#c8dcef" stroke="#7ba9d3" stroke-width="0.9"/>
<path d="M173.8,788.6 L173.8,823.0 M156.6,805.8 L191.0,805.8" stroke="#a9c6e4" stroke-width="0.6"/>
<circle cx="173.8" cy="805.8" r="6" fill="#ecebb5" stroke="#d4d28c" stroke-width="0.7"/>
<path d="M208.2,788.6 L225.4,805.8 L208.2,823.0 L191.0,805.8 Z" fill="#c8dcef" stroke="#7ba9d3" stroke-width="0.9"/>
<path d="M208.2,788.6 L208.2,823.0 M191.0,805.8 L225.4,805.8" stroke="#a9c6e4" stroke-width="0.6"/>
<circle cx="208.2" cy="805.8" r="6" fill="#ecebb5" stroke="#d4d28c" stroke-width="0.7"/>
<path d="M242.5,788.6 L259.8,805.8 L242.5,823.0 L225.3,805.8 Z" fill="#c8dcef" stroke="#7ba9d3" stroke-width="0.9"/>
<path d="M242.5,788.6 L242.5,823.0 M225.3,805.8 L259.8,805.8" stroke="#a9c6e4" stroke-width="0.6"/>
<circle cx="242.5" cy="805.8" r="6" fill="#ecebb5" stroke="#d4d28c" stroke-width="0.7"/>
<path d="M276.9,788.6 L294.1,805.8 L276.9,823.0 L259.7,805.8 Z" fill="#c8dcef" stroke="#7ba9d3" stroke-width="0.9"/>
<path d="M276.9,788.6 L276.9,823.0 M259.7,805.8 L294.1,805.8" stroke="#a9c6e4" stroke-width="0.6"/>
<circle cx="276.9" cy="805.8" r="6" fill="#ecebb5" stroke="#d4d28c" stroke-width="0.7"/>
<path d="M311.3,788.6 L328.5,805.8 L311.3,823.0 L294.1,805.8 Z" fill="#c8dcef" stroke="#7ba9d3" stroke-width="0.9"/>
<path d="M311.3,788.6 L311.3,823.0 M294.1,805.8 L328.5,805.8" stroke="#a9c6e4" stroke-width="0.6"/>
<circle cx="311.3" cy="805.8" r="6" fill="#ecebb5" stroke="#d4d28c" stroke-width="0.7"/>
<path d="M70.6,823.1 L87.8,840.3 L70.6,857.5 L53.4,840.3 Z" fill="#c8dcef" stroke="#7ba9d3" stroke-width="0.9"/>
<path d="M70.6,823.1 L70.6,857.5 M53.4,840.3 L87.8,840.3" stroke="#a9c6e4" stroke-width="0.6"/>
<circle cx="70.6" cy="840.3" r="6" fill="#ecebb5" stroke="#d4d28c" stroke-width="0.7"/>
<path d="M105.0,823.1 L122.2,840.3 L105.0,857.5 L87.8,840.3 Z" fill="#c8dcef" stroke="#7ba9d3" stroke-width="0.9"/>
<path d="M105.0,823.1 L105.0,857.5 M87.8,840.3 L122.2,840.3" stroke="#a9c6e4" stroke-width="0.6"/>
<circle cx="105.0" cy="840.3" r="6" fill="#ecebb5" stroke="#d4d28c" stroke-width="0.7"/>
<path d="M139.4,823.1 L156.6,840.3 L139.4,857.5 L122.2,840.3 Z" fill="#c8dcef" stroke="#7ba9d3" stroke-width="0.9"/>
<path d="M139.4,823.1 L139.4,857.5 M122.2,840.3 L156.6,840.3" stroke="#a9c6e4" stroke-width="0.6"/>
<circle cx="139.4" cy="840.3" r="6" fill="#ecebb5" stroke="#d4d28c" stroke-width="0.7"/>
<path d="M173.8,823.1 L191.0,840.3 L173.8,857.5 L156.6,840.3 Z" fill="#c8dcef" stroke="#7ba9d3" stroke-width="0.9"/>
<path d="M173.8,823.1 L173.8,857.5 M156.6,840.3 L191.0,840.3" stroke="#a9c6e4" stroke-width="0.6"/>
<circle cx="173.8" cy="840.3" r="6" fill="#ecebb5" stroke="#d4d28c" stroke-width="0.7"/>
<path d="M208.2,823.1 L225.4,840.3 L208.2,857.5 L191.0,840.3 Z" fill="#c8dcef" stroke="#7ba9d3" stroke-width="0.9"/>
<path d="M208.2,823.1 L208.2,857.5 M191.0,840.3 L225.4,840.3" stroke="#a9c6e4" stroke-width="0.6"/>
<circle cx="208.2" cy="840.3" r="6" fill="#ecebb5" stroke="#d4d28c" stroke-width="0.7"/>
<path d="M242.5,823.1 L259.8,840.3 L242.5,857.5 L225.3,840.3 Z" fill="#c8dcef" stroke="#7ba9d3" stroke-width="0.9"/>
<path d="M242.5,823.1 L242.5,857.5 M225.3,840.3 L259.8,840.3" stroke="#a9c6e4" stroke-width="0.6"/>
<circle cx="242.5" cy="840.3" r="6" fill="#ecebb5" stroke="#d4d28c" stroke-width="0.7"/>
<path d="M276.9,823.1 L294.1,840.3 L276.9,857.5 L259.7,840.3 Z" fill="#c8dcef" stroke="#7ba9d3" stroke-width="0.9"/>
<path d="M276.9,823.1 L276.9,857.5 M259.7,840.3 L294.1,840.3" stroke="#a9c6e4" stroke-width="0.6"/>
<circle cx="276.9" cy="840.3" r="6" fill="#ecebb5" stroke="#d4d28c" stroke-width="0.7"/>
<path d="M311.3,823.1 L328.5,840.3 L311.3,857.5 L294.1,840.3 Z" fill="#c8dcef" stroke="#7ba9d3" stroke-width="0.9"/>
<path d="M311.3,823.1 L311.3,857.5 M294.1,840.3 L328.5,840.3" stroke="#a9c6e4" stroke-width="0.6"/>
<circle cx="311.3" cy="840.3" r="6" fill="#ecebb5" stroke="#d4d28c" stroke-width="0.7"/>
<circle cx="53.4" cy="771.3" r="3.7" fill="#e7d8e6" stroke="#c9abc8" stroke-width="0.7"/>
<circle cx="87.8" cy="771.3" r="3.7" fill="#e7d8e6" stroke="#c9abc8" stroke-width="0.7"/>
<circle cx="122.2" cy="771.3" r="3.7" fill="#e7d8e6" stroke="#c9abc8" stroke-width="0.7"/>
<circle cx="156.6" cy="771.3" r="3.7" fill="#e7d8e6" stroke="#c9abc8" stroke-width="0.7"/>
<circle cx="191.0" cy="771.3" r="3.7" fill="#e7d8e6" stroke="#c9abc8" stroke-width="0.7"/>
<circle cx="225.4" cy="771.3" r="3.7" fill="#e7d8e6" stroke="#c9abc8" stroke-width="0.7"/>
<circle cx="259.8" cy="771.3" r="3.7" fill="#e7d8e6" stroke="#c9abc8" stroke-width="0.7"/>
<circle cx="294.1" cy="771.3" r="3.7" fill="#e7d8e6" stroke="#c9abc8" stroke-width="0.7"/>
<circle cx="328.5" cy="771.3" r="3.7" fill="#e7d8e6" stroke="#c9abc8" stroke-width="0.7"/>
<circle cx="53.4" cy="805.8" r="3.7" fill="#e7d8e6" stroke="#c9abc8" stroke-width="0.7"/>
<circle cx="87.8" cy="805.8" r="3.7" fill="#e7d8e6" stroke="#c9abc8" stroke-width="0.7"/>
<circle cx="122.2" cy="805.8" r="3.7" fill="#e7d8e6" stroke="#c9abc8" stroke-width="0.7"/>
<circle cx="156.6" cy="805.8" r="3.7" fill="#e7d8e6" stroke="#c9abc8" stroke-width="0.7"/>
<circle cx="191.0" cy="805.8" r="3.7" fill="#e7d8e6" stroke="#c9abc8" stroke-width="0.7"/>
<circle cx="225.4" cy="805.8" r="3.7" fill="#e7d8e6" stroke="#c9abc8" stroke-width="0.7"/>
<circle cx="259.8" cy="805.8" r="3.7" fill="#e7d8e6" stroke="#c9abc8" stroke-width="0.7"/>
<circle cx="294.1" cy="805.8" r="3.7" fill="#e7d8e6" stroke="#c9abc8" stroke-width="0.7"/>
<circle cx="328.5" cy="805.8" r="3.7" fill="#e7d8e6" stroke="#c9abc8" stroke-width="0.7"/>
<circle cx="53.4" cy="840.3" r="3.7" fill="#e7d8e6" stroke="#c9abc8" stroke-width="0.7"/>
<circle cx="87.8" cy="840.3" r="3.7" fill="#e7d8e6" stroke="#c9abc8" stroke-width="0.7"/>
<circle cx="122.2" cy="840.3" r="3.7" fill="#e7d8e6" stroke="#c9abc8" stroke-width="0.7"/>
<circle cx="156.6" cy="840.3" r="3.7" fill="#e7d8e6" stroke="#c9abc8" stroke-width="0.7"/>
<circle cx="191.0" cy="840.3" r="3.7" fill="#e7d8e6" stroke="#c9abc8" stroke-width="0.7"/>
<circle cx="225.4" cy="840.3" r="3.7" fill="#e7d8e6" stroke="#c9abc8" stroke-width="0.7"/>
<circle cx="259.8" cy="840.3" r="3.7" fill="#e7d8e6" stroke="#c9abc8" stroke-width="0.7"/>
<circle cx="294.1" cy="840.3" r="3.7" fill="#e7d8e6" stroke="#c9abc8" stroke-width="0.7"/>
<circle cx="328.5" cy="840.3" r="3.7" fill="#e7d8e6" stroke="#c9abc8" stroke-width="0.7"/>
<circle cx="105.0" cy="754.1" r="3.7" fill="#e7d8e6" stroke="#c9abc8" stroke-width="0.7"/>
<circle cx="139.4" cy="754.1" r="3.7" fill="#e7d8e6" stroke="#c9abc8" stroke-width="0.7"/>
<circle cx="173.8" cy="754.1" r="3.7" fill="#e7d8e6" stroke="#c9abc8" stroke-width="0.7"/>
<circle cx="276.9" cy="754.1" r="3.7" fill="#e7d8e6" stroke="#c9abc8" stroke-width="0.7"/>
<circle cx="311.3" cy="754.1" r="3.7" fill="#e7d8e6" stroke="#c9abc8" stroke-width="0.7"/>
<circle cx="70.6" cy="788.5" r="3.7" fill="#e7d8e6" stroke="#c9abc8" stroke-width="0.7"/>
<circle cx="105.0" cy="788.5" r="3.7" fill="#e7d8e6" stroke="#c9abc8" stroke-width="0.7"/>
<circle cx="139.4" cy="788.5" r="3.7" fill="#e7d8e6" stroke="#c9abc8" stroke-width="0.7"/>
<circle cx="173.8" cy="788.5" r="3.7" fill="#e7d8e6" stroke="#c9abc8" stroke-width="0.7"/>
<circle cx="208.2" cy="788.5" r="3.7" fill="#e7d8e6" stroke="#c9abc8" stroke-width="0.7"/>
<circle cx="242.5" cy="788.5" r="3.7" fill="#e7d8e6" stroke="#c9abc8" stroke-width="0.7"/>
<circle cx="276.9" cy="788.5" r="3.7" fill="#e7d8e6" stroke="#c9abc8" stroke-width="0.7"/>
<circle cx="311.3" cy="788.5" r="3.7" fill="#e7d8e6" stroke="#c9abc8" stroke-width="0.7"/>
<circle cx="70.6" cy="823.0" r="3.7" fill="#e7d8e6" stroke="#c9abc8" stroke-width="0.7"/>
<circle cx="105.0" cy="823.0" r="3.7" fill="#e7d8e6" stroke="#c9abc8" stroke-width="0.7"/>
<circle cx="139.4" cy="823.0" r="3.7" fill="#e7d8e6" stroke="#c9abc8" stroke-width="0.7"/>
<circle cx="173.8" cy="823.0" r="3.7" fill="#e7d8e6" stroke="#c9abc8" stroke-width="0.7"/>
<circle cx="208.2" cy="823.0" r="3.7" fill="#e7d8e6" stroke="#c9abc8" stroke-width="0.7"/>
<circle cx="242.5" cy="823.0" r="3.7" fill="#e7d8e6" stroke="#c9abc8" stroke-width="0.7"/>
<circle cx="276.9" cy="823.0" r="3.7" fill="#e7d8e6" stroke="#c9abc8" stroke-width="0.7"/>
<circle cx="311.3" cy="823.0" r="3.7" fill="#e7d8e6" stroke="#c9abc8" stroke-width="0.7"/>
<circle cx="70.6" cy="857.5" r="3.7" fill="#e7d8e6" stroke="#c9abc8" stroke-width="0.7"/>
<circle cx="105.0" cy="857.5" r="3.7" fill="#e7d8e6" stroke="#c9abc8" stroke-width="0.7"/>
<circle cx="139.4" cy="857.5" r="3.7" fill="#e7d8e6" stroke="#c9abc8" stroke-width="0.7"/>
<circle cx="173.8" cy="857.5" r="3.7" fill="#e7d8e6" stroke="#c9abc8" stroke-width="0.7"/>
<circle cx="208.2" cy="857.5" r="3.7" fill="#e7d8e6" stroke="#c9abc8" stroke-width="0.7"/>
<circle cx="242.5" cy="857.5" r="3.7" fill="#e7d8e6" stroke="#c9abc8" stroke-width="0.7"/>
<circle cx="276.9" cy="857.5" r="3.7" fill="#e7d8e6" stroke="#c9abc8" stroke-width="0.7"/>
<circle cx="311.3" cy="857.5" r="3.7" fill="#e7d8e6" stroke="#c9abc8" stroke-width="0.7"/>
<circle cx="48.30" cy="699.70" r="13.90" fill="#d6d6d6"/>
<path d="M56.20,688.45 L51.16,686.15 L49.97,686.57 L54.28,689.13 L58.13,690.29Z" fill="#c9a0a0"/>
<path d="M43.78,691.25 L39.13,694.14 L37.20,692.31 L40.65,688.28 L44.72,687.63Z" fill="#c9a0a0"/>
<path d="M62.01,698.03 L61.67,703.48 L60.49,703.90 L60.09,698.71 L61.04,695.08Z" fill="#c9a0a0"/>
<path d="M48.53,709.64 L49.51,712.60 L54.76,711.53 L57.03,707.92 L53.18,706.76Z" fill="#c9a0a0"/>
<path d="M48.09,693.81 L53.34,692.75 L56.24,697.54 L52.79,701.56 L47.75,699.26Z" fill="#c9a0a0"/>
<path d="M43.49,707.34 L43.10,702.15 L38.79,699.59 L36.52,703.20 L39.43,707.99Z" fill="#c9a0a0"/>
<path d="M43.78,691.25 L39.13,694.14 L38.79,699.59 L43.10,702.15 L47.75,699.26 L48.09,693.81Z" fill="#f2f2f2"/>
<path d="M43.78,691.25 L48.09,693.81 L53.34,692.75 L54.28,689.13 L49.97,686.57 L44.72,687.63Z" fill="#f2f2f2"/>
<path d="M58.13,690.29 L61.04,695.08 L60.09,698.71 L56.24,697.54 L53.34,692.75 L54.28,689.13Z" fill="#f2f2f2"/>
<path d="M35.56,704.32 L34.59,701.37 L36.52,703.20 L39.43,707.99 L40.40,710.95 L38.47,709.11Z" fill="#f2f2f2"/>
<path d="M48.53,709.64 L49.51,712.60 L45.44,713.25 L40.40,710.95 L39.43,707.99 L43.49,707.34Z" fill="#f2f2f2"/>
<path d="M48.53,709.64 L53.18,706.76 L52.79,701.56 L47.75,699.26 L43.10,702.15 L43.49,707.34Z" fill="#f2f2f2"/>
<path d="M41.84,687.87 L40.65,688.28 L44.72,687.63 L49.97,686.57 L51.16,686.15 L47.09,686.80Z" fill="#f2f2f2"/>
<path d="M59.40,707.09 L61.67,703.48 L60.49,703.90 L57.03,707.92 L54.76,711.53 L55.95,711.12Z" fill="#f2f2f2"/>
<path d="M57.03,707.92 L53.18,706.76 L52.79,701.56 L56.24,697.54 L60.09,698.71 L60.49,703.90Z" fill="#f2f2f2"/>
<path d="M38.79,699.59 L39.13,694.14 L37.20,692.31 L34.93,695.92 L34.59,701.37 L36.52,703.20Z" fill="#f2f2f2"/>
<path d="M56.20,688.45L58.13,690.29M43.78,691.25L48.09,693.81M43.78,691.25L44.72,687.63M43.78,691.25L39.13,694.14M62.01,698.03L61.04,695.08M58.13,690.29L61.04,695.08M58.13,690.29L54.28,689.13M48.53,709.64L43.49,707.34M48.53,709.64L49.51,712.60M48.53,709.64L53.18,706.76M48.09,693.81L47.75,699.26M48.09,693.81L53.34,692.75M41.84,687.87L40.65,688.28M49.97,686.57L51.16,686.15M49.97,686.57L44.72,687.63M49.97,686.57L54.28,689.13M47.75,699.26L52.79,701.56M47.75,699.26L43.10,702.15M40.65,688.28L44.72,687.63M40.65,688.28L37.20,692.31M43.49,707.34L39.43,707.99M43.49,707.34L43.10,702.15M54.76,711.53L55.95,711.12M54.76,711.53L49.51,712.60M54.76,711.53L57.03,707.92M61.04,695.08L60.09,698.71M49.51,712.60L45.44,713.25M57.03,707.92L60.49,703.90M57.03,707.92L53.18,706.76M61.67,703.48L60.49,703.90M45.44,713.25L40.40,710.95M60.09,698.71L56.24,697.54M60.09,698.71L60.49,703.90M38.79,699.59L39.13,694.14M38.79,699.59L36.52,703.20M38.79,699.59L43.10,702.15M52.79,701.56L56.24,697.54M52.79,701.56L53.18,706.76M37.20,692.31L39.13,694.14M37.20,692.31L34.93,695.92M56.24,697.54L53.34,692.75M39.43,707.99L40.40,710.95M39.43,707.99L36.52,703.20M54.28,689.13L53.34,692.75M40.40,710.95L38.47,709.11M36.52,703.20L34.59,701.37M34.59,701.37L34.93,695.92" stroke="#555" stroke-width="0.8" fill="none" stroke-linejoin="round"/>
<circle cx="48.3" cy="699.7" r="13.9" fill="none" stroke="#555" stroke-width="1.1"/>
<circle cx="142.70" cy="699.70" r="13.90" fill="#d6d6d6"/>
<path d="M150.60,688.45 L145.56,686.15 L144.37,686.57 L148.68,689.13 L152.53,690.29Z" fill="#c9a0a0"/>
<path d="M138.18,691.25 L133.53,694.14 L131.60,692.31 L135.05,688.28 L139.12,687.63Z" fill="#c9a0a0"/>
<path d="M156.41,698.03 L156.07,703.48 L154.89,703.90 L154.49,698.71 L155.44,695.08Z" fill="#c9a0a0"/>
<path d="M142.93,709.64 L143.91,712.60 L149.16,711.53 L151.43,707.92 L147.58,706.76Z" fill="#c9a0a0"/>
<path d="M142.49,693.81 L147.74,692.75 L150.64,697.54 L147.19,701.56 L142.15,699.26Z" fill="#c9a0a0"/>
<path d="M137.89,707.34 L137.50,702.15 L133.19,699.59 L130.92,703.20 L133.83,707.99Z" fill="#c9a0a0"/>
<path d="M138.18,691.25 L133.53,694.14 L133.19,699.59 L137.50,702.15 L142.15,699.26 L142.49,693.81Z" fill="#f2f2f2"/>
<path d="M138.18,691.25 L142.49,693.81 L147.74,692.75 L148.68,689.13 L144.37,686.57 L139.12,687.63Z" fill="#f2f2f2"/>
<path d="M152.53,690.29 L155.44,695.08 L154.49,698.71 L150.64,697.54 L147.74,692.75 L148.68,689.13Z" fill="#f2f2f2"/>
<path d="M129.96,704.32 L128.99,701.37 L130.92,703.20 L133.83,707.99 L134.80,710.95 L132.87,709.11Z" fill="#f2f2f2"/>
<path d="M142.93,709.64 L143.91,712.60 L139.84,713.25 L134.80,710.95 L133.83,707.99 L137.89,707.34Z" fill="#f2f2f2"/>
<path d="M142.93,709.64 L147.58,706.76 L147.19,701.56 L142.15,699.26 L137.50,702.15 L137.89,707.34Z" fill="#f2f2f2"/>
<path d="M136.24,687.87 L135.05,688.28 L139.12,687.63 L144.37,686.57 L145.56,686.15 L141.49,686.80Z" fill="#f2f2f2"/>
<path d="M153.80,707.09 L156.07,703.48 L154.89,703.90 L151.43,707.92 L149.16,711.53 L150.35,711.12Z" fill="#f2f2f2"/>
<path d="M151.43,707.92 L147.58,706.76 L147.19,701.56 L150.64,697.54 L154.49,698.71 L154.89,703.90Z" fill="#f2f2f2"/>
<path d="M133.19,699.59 L133.53,694.14 L131.60,692.31 L129.33,695.92 L128.99,701.37 L130.92,703.20Z" fill="#f2f2f2"/>
<path d="M150.60,688.45L152.53,690.29M138.18,691.25L142.49,693.81M138.18,691.25L139.12,687.63M138.18,691.25L133.53,694.14M156.41,698.03L155.44,695.08M152.53,690.29L155.44,695.08M152.53,690.29L148.68,689.13M142.93,709.64L137.89,707.34M142.93,709.64L143.91,712.60M142.93,709.64L147.58,706.76M142.49,693.81L142.15,699.26M142.49,693.81L147.74,692.75M136.24,687.87L135.05,688.28M144.37,686.57L145.56,686.15M144.37,686.57L139.12,687.63M144.37,686.57L148.68,689.13M142.15,699.26L147.19,701.56M142.15,699.26L137.50,702.15M135.05,688.28L139.12,687.63M135.05,688.28L131.60,692.31M137.89,707.34L133.83,707.99M137.89,707.34L137.50,702.15M149.16,711.53L150.35,711.12M149.16,711.53L143.91,712.60M149.16,711.53L151.43,707.92M155.44,695.08L154.49,698.71M143.91,712.60L139.84,713.25M151.43,707.92L154.89,703.90M151.43,707.92L147.58,706.76M156.07,703.48L154.89,703.90M139.84,713.25L134.80,710.95M154.49,698.71L150.64,697.54M154.49,698.71L154.89,703.90M133.19,699.59L133.53,694.14M133.19,699.59L130.92,703.20M133.19,699.59L137.50,702.15M147.19,701.56L150.64,697.54M147.19,701.56L147.58,706.76M131.60,692.31L133.53,694.14M131.60,692.31L129.33,695.92M150.64,697.54L147.74,692.75M133.83,707.99L134.80,710.95M133.83,707.99L130.92,703.20M148.68,689.13L147.74,692.75M134.80,710.95L132.87,709.11M130.92,703.20L128.99,701.37M128.99,701.37L129.33,695.92" stroke="#555" stroke-width="0.8" fill="none" stroke-linejoin="round"/>
<circle cx="142.7" cy="699.7" r="13.9" fill="none" stroke="#555" stroke-width="1.1"/>
<circle cx="194.10" cy="699.70" r="13.90" fill="#d6d6d6"/>
<path d="M202.00,688.45 L196.96,686.15 L195.77,686.57 L200.08,689.13 L203.93,690.29Z" fill="#c9a0a0"/>
<path d="M189.58,691.25 L184.93,694.14 L183.00,692.31 L186.45,688.28 L190.52,687.63Z" fill="#c9a0a0"/>
<path d="M207.81,698.03 L207.47,703.48 L206.29,703.90 L205.89,698.71 L206.84,695.08Z" fill="#c9a0a0"/>
<path d="M194.33,709.64 L195.31,712.60 L200.56,711.53 L202.83,707.92 L198.98,706.76Z" fill="#c9a0a0"/>
<path d="M193.89,693.81 L199.14,692.75 L202.04,697.54 L198.59,701.56 L193.55,699.26Z" fill="#c9a0a0"/>
<path d="M189.29,707.34 L188.90,702.15 L184.59,699.59 L182.32,703.20 L185.23,707.99Z" fill="#c9a0a0"/>
<path d="M189.58,691.25 L184.93,694.14 L184.59,699.59 L188.90,702.15 L193.55,699.26 L193.89,693.81Z" fill="#f2f2f2"/>
<path d="M189.58,691.25 L193.89,693.81 L199.14,692.75 L200.08,689.13 L195.77,686.57 L190.52,687.63Z" fill="#f2f2f2"/>
<path d="M203.93,690.29 L206.84,695.08 L205.89,698.71 L202.04,697.54 L199.14,692.75 L200.08,689.13Z" fill="#f2f2f2"/>
<path d="M181.36,704.32 L180.39,701.37 L182.32,703.20 L185.23,707.99 L186.20,710.95 L184.27,709.11Z" fill="#f2f2f2"/>
<path d="M194.33,709.64 L195.31,712.60 L191.24,713.25 L186.20,710.95 L185.23,707.99 L189.29,707.34Z" fill="#f2f2f2"/>
<path d="M194.33,709.64 L198.98,706.76 L198.59,701.56 L193.55,699.26 L188.90,702.15 L189.29,707.34Z" fill="#f2f2f2"/>
<path d="M187.64,687.87 L186.45,688.28 L190.52,687.63 L195.77,686.57 L196.96,686.15 L192.89,686.80Z" fill="#f2f2f2"/>
<path d="M205.20,707.09 L207.47,703.48 L206.29,703.90 L202.83,707.92 L200.56,711.53 L201.75,711.12Z" fill="#f2f2f2"/>
<path d="M202.83,707.92 L198.98,706.76 L198.59,701.56 L202.04,697.54 L205.89,698.71 L206.29,703.90Z" fill="#f2f2f2"/>
<path d="M184.59,699.59 L184.93,694.14 L183.00,692.31 L180.73,695.92 L180.39,701.37 L182.32,703.20Z" fill="#f2f2f2"/>
<path d="M202.00,688.45L203.93,690.29M189.58,691.25L193.89,693.81M189.58,691.25L190.52,687.63M189.58,691.25L184.93,694.14M207.81,698.03L206.84,695.08M203.93,690.29L206.84,695.08M203.93,690.29L200.08,689.13M194.33,709.64L189.29,707.34M194.33,709.64L195.31,712.60M194.33,709.64L198.98,706.76M193.89,693.81L193.55,699.26M193.89,693.81L199.14,692.75M187.64,687.87L186.45,688.28M195.77,686.57L196.96,686.15M195.77,686.57L190.52,687.63M195.77,686.57L200.08,689.13M193.55,699.26L198.59,701.56M193.55,699.26L188.90,702.15M186.45,688.28L190.52,687.63M186.45,688.28L183.00,692.31M189.29,707.34L185.23,707.99M189.29,707.34L188.90,702.15M200.56,711.53L201.75,711.12M200.56,711.53L195.31,712.60M200.56,711.53L202.83,707.92M206.84,695.08L205.89,698.71M195.31,712.60L191.24,713.25M202.83,707.92L206.29,703.90M202.83,707.92L198.98,706.76M207.47,703.48L206.29,703.90M191.24,713.25L186.20,710.95M205.89,698.71L202.04,697.54M205.89,698.71L206.29,703.90M184.59,699.59L184.93,694.14M184.59,699.59L182.32,703.20M184.59,699.59L188.90,702.15M198.59,701.56L202.04,697.54M198.59,701.56L198.98,706.76M183.00,692.31L184.93,694.14M183.00,692.31L180.73,695.92M202.04,697.54L199.14,692.75M185.23,707.99L186.20,710.95M185.23,707.99L182.32,703.20M200.08,689.13L199.14,692.75M186.20,710.95L184.27,709.11M182.32,703.20L180.39,701.37M180.39,701.37L180.73,695.92" stroke="#555" stroke-width="0.8" fill="none" stroke-linejoin="round"/>
<circle cx="194.1" cy="699.7" r="13.9" fill="none" stroke="#555" stroke-width="1.1"/>
<circle cx="288.60" cy="699.70" r="13.90" fill="#d6d6d6"/>
<path d="M296.50,688.45 L291.46,686.15 L290.27,686.57 L294.58,689.13 L298.43,690.29Z" fill="#c9a0a0"/>
<path d="M284.08,691.25 L279.43,694.14 L277.50,692.31 L280.95,688.28 L285.02,687.63Z" fill="#c9a0a0"/>
<path d="M302.31,698.03 L301.97,703.48 L300.79,703.90 L300.39,698.71 L301.34,695.08Z" fill="#c9a0a0"/>
<path d="M288.83,709.64 L289.81,712.60 L295.06,711.53 L297.33,707.92 L293.48,706.76Z" fill="#c9a0a0"/>
<path d="M288.39,693.81 L293.64,692.75 L296.54,697.54 L293.09,701.56 L288.05,699.26Z" fill="#c9a0a0"/>
<path d="M283.79,707.34 L283.40,702.15 L279.09,699.59 L276.82,703.20 L279.73,707.99Z" fill="#c9a0a0"/>
<path d="M284.08,691.25 L279.43,694.14 L279.09,699.59 L283.40,702.15 L288.05,699.26 L288.39,693.81Z" fill="#f2f2f2"/>
<path d="M284.08,691.25 L288.39,693.81 L293.64,692.75 L294.58,689.13 L290.27,686.57 L285.02,687.63Z" fill="#f2f2f2"/>
<path d="M298.43,690.29 L301.34,695.08 L300.39,698.71 L296.54,697.54 L293.64,692.75 L294.58,689.13Z" fill="#f2f2f2"/>
<path d="M275.86,704.32 L274.89,701.37 L276.82,703.20 L279.73,707.99 L280.70,710.95 L278.77,709.11Z" fill="#f2f2f2"/>
<path d="M288.83,709.64 L289.81,712.60 L285.74,713.25 L280.70,710.95 L279.73,707.99 L283.79,707.34Z" fill="#f2f2f2"/>
<path d="M288.83,709.64 L293.48,706.76 L293.09,701.56 L288.05,699.26 L283.40,702.15 L283.79,707.34Z" fill="#f2f2f2"/>
<path d="M282.14,687.87 L280.95,688.28 L285.02,687.63 L290.27,686.57 L291.46,686.15 L287.39,686.80Z" fill="#f2f2f2"/>
<path d="M299.70,707.09 L301.97,703.48 L300.79,703.90 L297.33,707.92 L295.06,711.53 L296.25,711.12Z" fill="#f2f2f2"/>
<path d="M297.33,707.92 L293.48,706.76 L293.09,701.56 L296.54,697.54 L300.39,698.71 L300.79,703.90Z" fill="#f2f2f2"/>
<path d="M279.09,699.59 L279.43,694.14 L277.50,692.31 L275.23,695.92 L274.89,701.37 L276.82,703.20Z" fill="#f2f2f2"/>
<path d="M296.50,688.45L298.43,690.29M284.08,691.25L288.39,693.81M284.08,691.25L285.02,687.63M284.08,691.25L279.43,694.14M302.31,698.03L301.34,695.08M298.43,690.29L301.34,695.08M298.43,690.29L294.58,689.13M288.83,709.64L283.79,707.34M288.83,709.64L289.81,712.60M288.83,709.64L293.48,706.76M288.39,693.81L288.05,699.26M288.39,693.81L293.64,692.75M282.14,687.87L280.95,688.28M290.27,686.57L291.46,686.15M290.27,686.57L285.02,687.63M290.27,686.57L294.58,689.13M288.05,699.26L293.09,701.56M288.05,699.26L283.40,702.15M280.95,688.28L285.02,687.63M280.95,688.28L277.50,692.31M283.79,707.34L279.73,707.99M283.79,707.34L283.40,702.15M295.06,711.53L296.25,711.12M295.06,711.53L289.81,712.60M295.06,711.53L297.33,707.92M301.34,695.08L300.39,698.71M289.81,712.60L285.74,713.25M297.33,707.92L300.79,703.90M297.33,707.92L293.48,706.76M301.97,703.48L300.79,703.90M285.74,713.25L280.70,710.95M300.39,698.71L296.54,697.54M300.39,698.71L300.79,703.90M279.09,699.59L279.43,694.14M279.09,699.59L276.82,703.20M279.09,699.59L283.40,702.15M293.09,701.56L296.54,697.54M293.09,701.56L293.48,706.76M277.50,692.31L279.43,694.14M277.50,692.31L275.23,695.92M296.54,697.54L293.64,692.75M279.73,707.99L280.70,710.95M279.73,707.99L276.82,703.20M294.58,689.13L293.64,692.75M280.70,710.95L278.77,709.11M276.82,703.20L274.89,701.37M274.89,701.37L275.23,695.92" stroke="#555" stroke-width="0.8" fill="none" stroke-linejoin="round"/>
<circle cx="288.6" cy="699.7" r="13.9" fill="none" stroke="#555" stroke-width="1.1"/>
<path d="M61.80,714.70 L66.30,709.70 L77.30,709.70 L80.80,714.70 L76.30,719.70 L65.30,719.70Z" fill="#eef4fb" stroke="#4a7cc0" stroke-width="1"/><ellipse cx="71.3" cy="714.7" rx="5.5" ry="2.5" fill="none" stroke="#7aa0d0" stroke-width="0.6" stroke-dasharray="1,1"/>
<path d="M110.20,714.70 L114.70,709.70 L125.70,709.70 L129.20,714.70 L124.70,719.70 L113.70,719.70Z" fill="#eef4fb" stroke="#4a7cc0" stroke-width="1"/><ellipse cx="119.7" cy="714.7" rx="5.5" ry="2.5" fill="none" stroke="#7aa0d0" stroke-width="0.6" stroke-dasharray="1,1"/>
<path d="M206.50,714.70 L211.00,709.70 L222.00,709.70 L225.50,714.70 L221.00,719.70 L210.00,719.70Z" fill="#eef4fb" stroke="#4a7cc0" stroke-width="1"/><ellipse cx="216" cy="714.7" rx="5.5" ry="2.5" fill="none" stroke="#7aa0d0" stroke-width="0.6" stroke-dasharray="1,1"/>
<path d="M254.50,714.70 L259.00,709.70 L270.00,709.70 L273.50,714.70 L269.00,719.70 L258.00,719.70Z" fill="#eef4fb" stroke="#4a7cc0" stroke-width="1"/><ellipse cx="264" cy="714.7" rx="5.5" ry="2.5" fill="none" stroke="#7aa0d0" stroke-width="0.6" stroke-dasharray="1,1"/>
<path d="M54.3,712 l-3,4 l3,4 l-3,4 l3,4" fill="none" stroke="#333" stroke-width="0.9"/><path d="M54.3,728 L58.3,734.5" stroke="#4a7cc0" stroke-width="1.1"/>
<path d="M137.7,712 l-3,4 l3,4 l-3,4 l3,4" fill="none" stroke="#333" stroke-width="0.9"/><path d="M137.7,728 L132.5,734.5" stroke="#4a7cc0" stroke-width="1.1"/>
<path d="M200.1,712 l-3,4 l3,4 l-3,4 l3,4" fill="none" stroke="#333" stroke-width="0.9"/><path d="M200.1,728 L204.0,734.5" stroke="#4a7cc0" stroke-width="1.1"/>
<path d="M283.6,712 l-3,4 l3,4 l-3,4 l3,4" fill="none" stroke="#333" stroke-width="0.9"/><path d="M283.6,728 L278.5,734.5" stroke="#4a7cc0" stroke-width="1.1"/>
<path d="M75.6,738.5 L82.6,738.5 M106.6,738.5 L115.6,739.5" stroke="#d78b8b" stroke-width="1.2"/>
<path d="M82.6,738.5 L86.6,735.3 L102.6,735.3 L106.6,738.5 L102.6,741.7 L86.6,741.7 Z" fill="#f6e0e0" stroke="#cf7a7a" stroke-width="0.9"/>
<path d="M87.6,738.5 L101.6,738.5" stroke="#d06a6a" stroke-width="0.7" stroke-dasharray="1.2,1"/>
<path d="M84.6,734.5 l-4,-2 M102.6,734.5 l4,-2 M84.6,742.5 l-4,2 M102.6,742.5 l4,2" stroke="#3a8ac0" stroke-width="1"/>
<path d="M148,738.5 L155,738.5 M179,738.5 L188,739.5" stroke="#d78b8b" stroke-width="1.2"/>
<path d="M155,738.5 L159,735.3 L175,735.3 L179,738.5 L175,741.7 L159,741.7 Z" fill="#f6e0e0" stroke="#cf7a7a" stroke-width="0.9"/>
<path d="M160,738.5 L174,738.5" stroke="#d06a6a" stroke-width="0.7" stroke-dasharray="1.2,1"/>
<path d="M157,734.5 l-4,-2 M175,734.5 l4,-2 M157,742.5 l-4,2 M175,742.5 l4,2" stroke="#3a8ac0" stroke-width="1"/>
<path d="M220.9,738.5 L227.9,738.5 M251.9,738.5 L260.9,739.5" stroke="#d78b8b" stroke-width="1.2"/>
<path d="M227.9,738.5 L231.9,735.3 L247.9,735.3 L251.9,738.5 L247.9,741.7 L231.9,741.7 Z" fill="#f6e0e0" stroke="#cf7a7a" stroke-width="0.9"/>
<path d="M232.9,738.5 L246.9,738.5" stroke="#d06a6a" stroke-width="0.7" stroke-dasharray="1.2,1"/>
<path d="M229.9,734.5 l-4,-2 M247.9,734.5 l4,-2 M229.9,742.5 l-4,2 M247.9,742.5 l4,2" stroke="#3a8ac0" stroke-width="1"/>
<path d="M293,738.5 L300,738.5 M324,738.5 L333,739.5" stroke="#d78b8b" stroke-width="1.2"/>
<path d="M300,738.5 L304,735.3 L320,735.3 L324,738.5 L320,741.7 L304,741.7 Z" fill="#f6e0e0" stroke="#cf7a7a" stroke-width="0.9"/>
<path d="M305,738.5 L319,738.5" stroke="#d06a6a" stroke-width="0.7" stroke-dasharray="1.2,1"/>
<path d="M302,734.5 l-4,-2 M320,734.5 l4,-2 M302,742.5 l-4,2 M320,742.5 l4,2" stroke="#3a8ac0" stroke-width="1"/>
<circle cx="58.3" cy="738.5" r="3.5" fill="#d6a0a0"/>
<circle cx="72.6" cy="738.5" r="4.0" fill="#a66bb0"/>
<circle cx="119.5" cy="738.5" r="3.2" fill="#d46040"/>
<circle cx="132.5" cy="738.5" r="3.5" fill="#d6a0a0"/>
<circle cx="145" cy="738.5" r="4.0" fill="#a66bb0"/>
<circle cx="191.5" cy="738.5" r="3.2" fill="#d46040"/>
<circle cx="204" cy="738.5" r="3.5" fill="#d6a0a0"/>
<circle cx="217.9" cy="738.5" r="4.0" fill="#a66bb0"/>
<circle cx="264" cy="738.5" r="3.2" fill="#d46040"/>
<circle cx="278.5" cy="738.5" r="3.5" fill="#d6a0a0"/>
<circle cx="290" cy="738.5" r="4.0" fill="#a66bb0"/>
<circle cx="336.5" cy="738.5" r="3.2" fill="#d46040"/>
<path d="M97.6,736.2 L113.7,720 M97.6,736.2 L104.8,754.2 M121,739 L131,738 M143.6,741 L138.9,754.8" stroke="#9a1b2e" stroke-width="1.6" stroke-dasharray="3,2"/>
<circle cx="208.2" cy="754.2" r="3.6" fill="#fff" stroke="#b48ac0" stroke-width="1"/><path d="M211.5,741.5 L209,748" stroke="#7a3090" stroke-width="1.6"/><path d="M206,745.5 L208.6,749.5 L211.5,746" fill="none" stroke="#7a3090" stroke-width="1.4"/>
<defs><pattern id="latC" patternUnits="userSpaceOnUse" x="428.70" y="534.60" width="11.3" height="11.57">
<rect width="11.3" height="11.57" fill="#88bae8"/>
<path d="M0,0 L5.65,5.785 L0,11.57 Z" fill="#98c8f0"/><path d="M11.3,0 L5.65,5.785 L11.3,11.57 Z" fill="#7aaedf"/>
<path d="M5.65,0 L11.3,5.785 L5.65,11.57 L0,5.785 Z" fill="#fcfcfd" stroke="#56688e" stroke-width="0.85"/>
<path d="M0,0 L11.3,0 M0,11.57 L11.3,11.57 M0,0 L0,11.57 M11.3,0 L11.3,11.57" stroke="#6a86b8" stroke-width="0.45"/>
<circle cx="5.65" cy="0" r="1.0" fill="#8a3f98"/><circle cx="5.65" cy="11.57" r="1.0" fill="#8a3f98"/><circle cx="0" cy="5.785" r="1.0" fill="#8a3f98"/><circle cx="11.3" cy="5.785" r="1.0" fill="#8a3f98"/>
<path d="M4.45,4.385 L6.25,7.385 M6.65,4.585 L5.25,6.985" stroke="#4a4e80" stroke-width="1.0"/>
</pattern><pattern id="latE" patternUnits="userSpaceOnUse" x="930.00" y="533.00" width="11.3" height="11.57">
<rect width="11.3" height="11.57" fill="#88bae8"/>
<path d="M0,0 L5.65,5.785 L0,11.57 Z" fill="#98c8f0"/><path d="M11.3,0 L5.65,5.785 L11.3,11.57 Z" fill="#7aaedf"/>
<path d="M5.65,0 L11.3,5.785 L5.65,11.57 L0,5.785 Z" fill="#fcfcfd" stroke="#56688e" stroke-width="0.85"/>
<path d="M0,0 L11.3,0 M0,11.57 L11.3,11.57 M0,0 L0,11.57 M11.3,0 L11.3,11.57" stroke="#6a86b8" stroke-width="0.45"/>
<circle cx="5.65" cy="0" r="1.0" fill="#8a3f98"/><circle cx="5.65" cy="11.57" r="1.0" fill="#8a3f98"/><circle cx="0" cy="5.785" r="1.0" fill="#8a3f98"/><circle cx="11.3" cy="5.785" r="1.0" fill="#8a3f98"/>
<path d="M4.45,4.385 L6.25,7.385 M6.65,4.585 L5.25,6.985" stroke="#4a4e80" stroke-width="1.0"/>
</pattern><pattern id="latS" patternUnits="userSpaceOnUse" x="427.50" y="798.00" width="11.3" height="13.0">
<rect width="11.3" height="13.0" fill="#88bae8"/>
<path d="M0,0 L5.65,6.5 L0,13.0 Z" fill="#98c8f0"/><path d="M11.3,0 L5.65,6.5 L11.3,13.0 Z" fill="#7aaedf"/>
<path d="M5.65,0 L11.3,6.5 L5.65,13.0 L0,6.5 Z" fill="#fcfcfd" stroke="#56688e" stroke-width="0.85"/>
<path d="M0,0 L11.3,0 M0,13.0 L11.3,13.0 M0,0 L0,13.0 M11.3,0 L11.3,13.0" stroke="#6a86b8" stroke-width="0.45"/>
<circle cx="5.65" cy="0" r="1.0" fill="#8a3f98"/><circle cx="5.65" cy="13.0" r="1.0" fill="#8a3f98"/><circle cx="0" cy="6.5" r="1.0" fill="#8a3f98"/><circle cx="11.3" cy="6.5" r="1.0" fill="#8a3f98"/>
<path d="M4.45,5.1 L6.25,8.1 M6.65,5.3 L5.25,7.7" stroke="#4a4e80" stroke-width="1.0"/>
</pattern><pattern id="latSE" patternUnits="userSpaceOnUse" x="929.50" y="797.50" width="11.3" height="13.0">
<rect width="11.3" height="13.0" fill="#88bae8"/>
<path d="M0,0 L5.65,6.5 L0,13.0 Z" fill="#98c8f0"/><path d="M11.3,0 L5.65,6.5 L11.3,13.0 Z" fill="#7aaedf"/>
<path d="M5.65,0 L11.3,6.5 L5.65,13.0 L0,6.5 Z" fill="#fcfcfd" stroke="#56688e" stroke-width="0.85"/>
<path d="M0,0 L11.3,0 M0,13.0 L11.3,13.0 M0,0 L0,13.0 M11.3,0 L11.3,13.0" stroke="#6a86b8" stroke-width="0.45"/>
<circle cx="5.65" cy="0" r="1.0" fill="#8a3f98"/><circle cx="5.65" cy="13.0" r="1.0" fill="#8a3f98"/><circle cx="0" cy="6.5" r="1.0" fill="#8a3f98"/><circle cx="11.3" cy="6.5" r="1.0" fill="#8a3f98"/>
<path d="M4.45,5.1 L6.25,8.1 M6.65,5.3 L5.25,7.7" stroke="#4a4e80" stroke-width="1.0"/>
</pattern><filter id="tex" x="0" y="0" width="1" height="1" color-interpolation-filters="sRGB">
<feTurbulence type="fractalNoise" baseFrequency="0.75" numOctaves="2" seed="4" result="n"/>
<feColorMatrix in="n" type="matrix" values="0 0 0 0 0.42  0 0 0 0 0.36  0 0 0 0 0.17  0 0 0 -3.4 1.62" result="c"/>
<feComposite in="c" in2="SourceGraphic" operator="in" result="t"/>
<feTurbulence type="fractalNoise" baseFrequency="0.6" numOctaves="2" seed="9" result="n2"/>
<feColorMatrix in="n2" type="matrix" values="0 0 0 0 0.92  0 0 0 0 0.9  0 0 0 0 0.78  0 0 0 3.4 -1.95" result="c2"/>
<feComposite in="c2" in2="SourceGraphic" operator="in" result="t2"/>
<feMerge><feMergeNode in="SourceGraphic"/><feMergeNode in="t"/><feMergeNode in="t2"/></feMerge>
</filter>
</defs>
<rect x="418.5" y="476.5" width="101.60" height="42.30" fill="#cea24a"/>
<rect x="520.10" y="476.5" width="101.60" height="42.30" fill="#dec07f"/>
<text x="520.10" y="469.9" font-size="14.5" fill="#d9aa4e" text-anchor="middle" textLength="42" lengthAdjust="spacingAndGlyphs" stroke="#d9aa4e" stroke-width="0.3" >PCBM</text>
<text x="469.30" y="492.7" font-size="14.8" fill="#222" text-anchor="middle" textLength="58" lengthAdjust="spacingAndGlyphs" stroke="#222" stroke-width="0.3" >Left half</text>
<text x="469.30" y="510.7" font-size="14.8" fill="#222" text-anchor="middle" textLength="75" lengthAdjust="spacingAndGlyphs" stroke="#222" stroke-width="0.3" >(defected)</text>
<text x="570.90" y="492.7" font-size="14.8" fill="#222" text-anchor="middle" textLength="68" lengthAdjust="spacingAndGlyphs" stroke="#222" stroke-width="0.3" >Right half</text>
<text x="570.90" y="510.7" font-size="14.8" fill="#222" text-anchor="middle" textLength="62" lengthAdjust="spacingAndGlyphs" stroke="#222" stroke-width="0.3" >(perfect)</text>
<path d="M423.05,534.60 L428.70,528.82 L434.35,534.60 L440.00,528.82 L445.65,534.60 L451.30,528.82 L456.95,534.60 L462.60,528.82 L468.25,534.60 L473.90,528.82 L479.55,534.60 L485.20,528.82 L490.85,534.60 L496.50,528.82 L502.15,534.60 L507.80,528.82 L513.45,534.60 L519.10,528.82 L524.75,534.60 L530.40,528.82 L536.05,534.60 L541.70,528.82 L547.35,534.60 L553.00,528.82 L558.65,534.60 L564.30,528.82 L569.95,534.60 L575.60,528.82 L581.25,534.60 L586.90,528.82 L592.55,534.60 L598.20,528.82 L603.85,534.60 L609.50,528.82 L615.15,534.60 L609.50,540.39 L615.15,546.17 L609.50,551.96 L615.15,557.74 L609.50,563.53 L615.15,569.31 L609.50,575.10 L615.15,580.88 L609.50,586.67 L615.15,592.45 L609.50,598.24 L615.15,604.02 L609.50,609.81 L615.15,615.59 L609.50,621.38 L615.15,627.16 L609.50,632.95 L615.15,638.73 L609.50,644.52 L615.15,650.30 L609.50,656.09 L615.15,661.87 L609.50,667.66 L615.15,673.44 L609.50,679.23 L615.15,685.01 L609.50,690.80 L615.15,696.58 L609.50,702.37 L615.15,708.15 L609.50,713.94 L615.15,719.72 L609.50,725.50 L603.85,719.72 L598.20,725.50 L592.55,719.72 L586.90,725.50 L581.25,719.72 L575.60,725.50 L569.95,719.72 L564.30,725.50 L558.65,719.72 L553.00,725.50 L547.35,719.72 L541.70,725.50 L536.05,719.72 L530.40,725.50 L524.75,719.72 L519.10,725.50 L513.45,719.72 L507.80,725.50 L502.15,719.72 L496.50,725.50 L490.85,719.72 L485.20,725.50 L479.55,719.72 L473.90,725.50 L468.25,719.72 L462.60,725.50 L456.95,719.72 L451.30,725.50 L445.65,719.72 L440.00,725.50 L434.35,719.72 L428.70,725.50 L423.05,719.72 L428.70,713.94 L423.05,708.15 L428.70,702.37 L423.05,696.58 L428.70,690.79 L423.05,685.01 L428.70,679.23 L423.05,673.44 L428.70,667.65 L423.05,661.87 L428.70,656.09 L423.05,650.30 L428.70,644.51 L423.05,638.73 L428.70,632.95 L423.05,627.16 L428.70,621.38 L423.05,615.59 L428.70,609.80 L423.05,604.02 L428.70,598.24 L423.05,592.45 L428.70,586.66 L423.05,580.88 L428.70,575.10 L423.05,569.31 L428.70,563.52 L423.05,557.74 L428.70,551.96 L423.05,546.17 L428.70,540.38 L423.05,534.60Z" fill="url(#latC)"/>
<g filter="url(#tex)"><circle cx="510.4" cy="637.7" r="8.5" fill="#c6b36a" fill-opacity="0.93" stroke="#8f7e3e" stroke-width="0.5"/><circle cx="513.1" cy="626.3" r="7.9" fill="#c6b36a" fill-opacity="0.93" stroke="#8f7e3e" stroke-width="0.5"/><circle cx="456.0" cy="627.2" r="7.9" fill="#c6b36a" fill-opacity="0.93" stroke="#8f7e3e" stroke-width="0.5"/><circle cx="583.0" cy="667.2" r="6.9" fill="#c6b36a" fill-opacity="0.93" stroke="#8f7e3e" stroke-width="0.5"/><circle cx="551.4" cy="650.0" r="7.1" fill="#c6b36a" fill-opacity="0.93" stroke="#8f7e3e" stroke-width="0.5"/><circle cx="512.8" cy="611.5" r="8.3" fill="#c6b36a" fill-opacity="0.93" stroke="#8f7e3e" stroke-width="0.5"/><circle cx="524.0" cy="655.5" r="7.7" fill="#c6b36a" fill-opacity="0.93" stroke="#8f7e3e" stroke-width="0.5"/><circle cx="553.1" cy="615.2" r="7.3" fill="#c6b36a" fill-opacity="0.93" stroke="#8f7e3e" stroke-width="0.5"/><circle cx="589.2" cy="670.3" r="7.4" fill="#c6b36a" fill-opacity="0.93" stroke="#8f7e3e" stroke-width="0.5"/><circle cx="465.2" cy="578.2" r="6.9" fill="#c6b36a" fill-opacity="0.93" stroke="#8f7e3e" stroke-width="0.5"/><circle cx="574.2" cy="602.7" r="8.3" fill="#c6b36a" fill-opacity="0.93" stroke="#8f7e3e" stroke-width="0.5"/><circle cx="473.3" cy="533.8" r="7.4" fill="#c6b36a" fill-opacity="0.93" stroke="#8f7e3e" stroke-width="0.5"/><circle cx="532.1" cy="613.0" r="7.1" fill="#c6b36a" fill-opacity="0.93" stroke="#8f7e3e" stroke-width="0.5"/><circle cx="504.0" cy="561.4" r="7.3" fill="#c6b36a" fill-opacity="0.93" stroke="#8f7e3e" stroke-width="0.5"/><circle cx="461.3" cy="601.3" r="8.3" fill="#c6b36a" fill-opacity="0.93" stroke="#8f7e3e" stroke-width="0.5"/><circle cx="471.0" cy="684.6" r="7.4" fill="#c6b36a" fill-opacity="0.93" stroke="#8f7e3e" stroke-width="0.5"/><circle cx="436.8" cy="642.8" r="7.2" fill="#c6b36a" fill-opacity="0.93" stroke="#8f7e3e" stroke-width="0.5"/><circle cx="540.7" cy="596.4" r="7.6" fill="#c6b36a" fill-opacity="0.93" stroke="#8f7e3e" stroke-width="0.5"/><circle cx="469.2" cy="556.4" r="8.1" fill="#c6b36a" fill-opacity="0.93" stroke="#8f7e3e" stroke-width="0.5"/><circle cx="541.1" cy="607.3" r="7.0" fill="#c6b36a" fill-opacity="0.93" stroke="#8f7e3e" stroke-width="0.5"/><circle cx="466.9" cy="669.6" r="7.3" fill="#c6b36a" fill-opacity="0.93" stroke="#8f7e3e" stroke-width="0.5"/><circle cx="585.9" cy="645.8" r="7.3" fill="#c6b36a" fill-opacity="0.93" stroke="#8f7e3e" stroke-width="0.5"/><circle cx="454.1" cy="673.1" r="6.9" fill="#c6b36a" fill-opacity="0.93" stroke="#8f7e3e" stroke-width="0.5"/><circle cx="464.9" cy="637.7" r="8.3" fill="#c6b36a" fill-opacity="0.93" stroke="#8f7e3e" stroke-width="0.5"/><circle cx="543.3" cy="576.2" r="8.5" fill="#c6b36a" fill-opacity="0.93" stroke="#8f7e3e" stroke-width="0.5"/><circle cx="473.2" cy="612.7" r="6.9" fill="#c6b36a" fill-opacity="0.93" stroke="#8f7e3e" stroke-width="0.5"/><circle cx="454.3" cy="595.7" r="7.8" fill="#c6b36a" fill-opacity="0.93" stroke="#8f7e3e" stroke-width="0.5"/><circle cx="445.2" cy="594.3" r="8.4" fill="#c6b36a" fill-opacity="0.93" stroke="#8f7e3e" stroke-width="0.5"/><circle cx="559.0" cy="643.2" r="7.1" fill="#c6b36a" fill-opacity="0.93" stroke="#8f7e3e" stroke-width="0.5"/><circle cx="547.8" cy="620.7" r="8.1" fill="#c6b36a" fill-opacity="0.93" stroke="#8f7e3e" stroke-width="0.5"/><circle cx="433.8" cy="634.7" r="8.1" fill="#c6b36a" fill-opacity="0.93" stroke="#8f7e3e" stroke-width="0.5"/><circle cx="595.5" cy="606.4" r="8.2" fill="#c6b36a" fill-opacity="0.93" stroke="#8f7e3e" stroke-width="0.5"/><circle cx="594.0" cy="640.6" r="7.9" fill="#c6b36a" fill-opacity="0.93" stroke="#8f7e3e" stroke-width="0.5"/><circle cx="496.2" cy="642.8" r="7.9" fill="#c6b36a" fill-opacity="0.93" stroke="#8f7e3e" stroke-width="0.5"/><circle cx="566.5" cy="600.1" r="8.1" fill="#c6b36a" fill-opacity="0.93" stroke="#8f7e3e" stroke-width="0.5"/><circle cx="536.5" cy="611.5" r="8.3" fill="#c6b36a" fill-opacity="0.93" stroke="#8f7e3e" stroke-width="0.5"/><circle cx="560.4" cy="624.0" r="7.9" fill="#c6b36a" fill-opacity="0.93" stroke="#8f7e3e" stroke-width="0.5"/><circle cx="556.3" cy="559.2" r="7.1" fill="#c6b36a" fill-opacity="0.93" stroke="#8f7e3e" stroke-width="0.5"/><circle cx="484.9" cy="661.1" r="7.2" fill="#c6b36a" fill-opacity="0.93" stroke="#8f7e3e" stroke-width="0.5"/><circle cx="496.6" cy="642.9" r="7.4" fill="#c6b36a" fill-opacity="0.93" stroke="#8f7e3e" stroke-width="0.5"/><circle cx="446.2" cy="623.8" r="8.3" fill="#c6b36a" fill-opacity="0.93" stroke="#8f7e3e" stroke-width="0.5"/><circle cx="452.9" cy="613.7" r="7.3" fill="#c6b36a" fill-opacity="0.93" stroke="#8f7e3e" stroke-width="0.5"/><circle cx="462.0" cy="605.7" r="7.9" fill="#c6b36a" fill-opacity="0.93" stroke="#8f7e3e" stroke-width="0.5"/><circle cx="518.9" cy="584.0" r="8.3" fill="#c6b36a" fill-opacity="0.93" stroke="#8f7e3e" stroke-width="0.5"/><circle cx="562.5" cy="640.1" r="7.4" fill="#c6b36a" fill-opacity="0.93" stroke="#8f7e3e" stroke-width="0.5"/><circle cx="446.1" cy="614.7" r="6.8" fill="#c6b36a" fill-opacity="0.93" stroke="#8f7e3e" stroke-width="0.5"/><circle cx="546.3" cy="612.8" r="7.9" fill="#c6b36a" fill-opacity="0.93" stroke="#8f7e3e" stroke-width="0.5"/><circle cx="459.0" cy="619.1" r="7.1" fill="#c6b36a" fill-opacity="0.93" stroke="#8f7e3e" stroke-width="0.5"/><circle cx="473.8" cy="590.7" r="8.1" fill="#c6b36a" fill-opacity="0.93" stroke="#8f7e3e" stroke-width="0.5"/><circle cx="524.2" cy="649.8" r="8.2" fill="#c6b36a" fill-opacity="0.93" stroke="#8f7e3e" stroke-width="0.5"/><circle cx="498.5" cy="688.8" r="8.4" fill="#c6b36a" fill-opacity="0.93" stroke="#8f7e3e" stroke-width="0.5"/><circle cx="510.7" cy="652.2" r="8.4" fill="#c6b36a" fill-opacity="0.93" stroke="#8f7e3e" stroke-width="0.5"/><circle cx="495.1" cy="639.7" r="8.4" fill="#c6b36a" fill-opacity="0.93" stroke="#8f7e3e" stroke-width="0.5"/><circle cx="512.7" cy="657.9" r="7.2" fill="#c6b36a" fill-opacity="0.93" stroke="#8f7e3e" stroke-width="0.5"/><circle cx="548.9" cy="672.5" r="7.2" fill="#c6b36a" fill-opacity="0.93" stroke="#8f7e3e" stroke-width="0.5"/><circle cx="579.2" cy="585.1" r="8.4" fill="#c6b36a" fill-opacity="0.93" stroke="#8f7e3e" stroke-width="0.5"/><circle cx="592.4" cy="591.3" r="6.9" fill="#c6b36a" fill-opacity="0.93" stroke="#8f7e3e" stroke-width="0.5"/><circle cx="508.1" cy="635.7" r="8.2" fill="#c6b36a" fill-opacity="0.93" stroke="#8f7e3e" stroke-width="0.5"/><circle cx="486.6" cy="687.9" r="7.1" fill="#c6b36a" fill-opacity="0.93" stroke="#8f7e3e" stroke-width="0.5"/><circle cx="448.7" cy="628.2" r="8.1" fill="#c6b36a" fill-opacity="0.93" stroke="#8f7e3e" stroke-width="0.5"/><circle cx="589.2" cy="666.3" r="8.5" fill="#c6b36a" fill-opacity="0.93" stroke="#8f7e3e" stroke-width="0.5"/><circle cx="525.5" cy="578.4" r="8.1" fill="#c6b36a" fill-opacity="0.93" stroke="#8f7e3e" stroke-width="0.5"/><circle cx="548.3" cy="629.6" r="8.3" fill="#c6b36a" fill-opacity="0.93" stroke="#8f7e3e" stroke-width="0.5"/><circle cx="532.3" cy="583.2" r="7.5" fill="#c6b36a" fill-opacity="0.93" stroke="#8f7e3e" stroke-width="0.5"/><circle cx="460.8" cy="701.8" r="8.5" fill="#c6b36a" fill-opacity="0.93" stroke="#8f7e3e" stroke-width="0.5"/><circle cx="525.0" cy="640.7" r="7.2" fill="#c6b36a" fill-opacity="0.93" stroke="#8f7e3e" stroke-width="0.5"/><circle cx="527.4" cy="625.3" r="7.9" fill="#c6b36a" fill-opacity="0.93" stroke="#8f7e3e" stroke-width="0.5"/><circle cx="523.4" cy="602.7" r="8.2" fill="#c6b36a" fill-opacity="0.93" stroke="#8f7e3e" stroke-width="0.5"/><circle cx="532.9" cy="622.6" r="8.0" fill="#c6b36a" fill-opacity="0.93" stroke="#8f7e3e" stroke-width="0.5"/><circle cx="601.5" cy="619.4" r="7.4" fill="#c6b36a" fill-opacity="0.93" stroke="#8f7e3e" stroke-width="0.5"/><circle cx="457.4" cy="650.5" r="8.5" fill="#c6b36a" fill-opacity="0.93" stroke="#8f7e3e" stroke-width="0.5"/><circle cx="464.7" cy="665.7" r="7.4" fill="#c6b36a" fill-opacity="0.93" stroke="#8f7e3e" stroke-width="0.5"/><circle cx="490.7" cy="650.9" r="7.0" fill="#c6b36a" fill-opacity="0.93" stroke="#8f7e3e" stroke-width="0.5"/><circle cx="458.7" cy="631.3" r="7.6" fill="#c6b36a" fill-opacity="0.93" stroke="#8f7e3e" stroke-width="0.5"/><circle cx="494.8" cy="605.5" r="7.8" fill="#c6b36a" fill-opacity="0.93" stroke="#8f7e3e" stroke-width="0.5"/><circle cx="546.8" cy="655.1" r="7.8" fill="#c6b36a" fill-opacity="0.93" stroke="#8f7e3e" stroke-width="0.5"/><circle cx="591.5" cy="649.2" r="8.3" fill="#c6b36a" fill-opacity="0.93" stroke="#8f7e3e" stroke-width="0.5"/><circle cx="465.8" cy="677.6" r="8.3" fill="#c6b36a" fill-opacity="0.93" stroke="#8f7e3e" stroke-width="0.5"/><circle cx="467.1" cy="674.4" r="7.3" fill="#c6b36a" fill-opacity="0.93" stroke="#8f7e3e" stroke-width="0.5"/><circle cx="444.1" cy="603.2" r="8.0" fill="#c6b36a" fill-opacity="0.93" stroke="#8f7e3e" stroke-width="0.5"/><circle cx="520.7" cy="665.5" r="7.1" fill="#c6b36a" fill-opacity="0.93" stroke="#8f7e3e" stroke-width="0.5"/><circle cx="523.1" cy="639.7" r="7.1" fill="#c6b36a" fill-opacity="0.93" stroke="#8f7e3e" stroke-width="0.5"/><circle cx="456.0" cy="559.5" r="8.3" fill="#c6b36a" fill-opacity="0.93" stroke="#8f7e3e" stroke-width="0.5"/><circle cx="573.9" cy="586.5" r="7.6" fill="#c6b36a" fill-opacity="0.93" stroke="#8f7e3e" stroke-width="0.5"/><circle cx="523.2" cy="609.2" r="7.9" fill="#c6b36a" fill-opacity="0.93" stroke="#8f7e3e" stroke-width="0.5"/><circle cx="510.7" cy="677.3" r="7.5" fill="#c6b36a" fill-opacity="0.93" stroke="#8f7e3e" stroke-width="0.5"/><circle cx="546.4" cy="603.6" r="7.9" fill="#c6b36a" fill-opacity="0.93" stroke="#8f7e3e" stroke-width="0.5"/><circle cx="582.0" cy="571.4" r="8.4" fill="#c6b36a" fill-opacity="0.93" stroke="#8f7e3e" stroke-width="0.5"/><circle cx="584.0" cy="603.8" r="8.4" fill="#c6b36a" fill-opacity="0.93" stroke="#8f7e3e" stroke-width="0.5"/><circle cx="500.9" cy="673.6" r="6.9" fill="#c6b36a" fill-opacity="0.93" stroke="#8f7e3e" stroke-width="0.5"/><circle cx="487.9" cy="617.7" r="6.8" fill="#c6b36a" fill-opacity="0.93" stroke="#8f7e3e" stroke-width="0.5"/><circle cx="490.8" cy="655.1" r="7.9" fill="#c6b36a" fill-opacity="0.93" stroke="#8f7e3e" stroke-width="0.5"/><circle cx="553.9" cy="588.9" r="8.0" fill="#c6b36a" fill-opacity="0.93" stroke="#8f7e3e" stroke-width="0.5"/><circle cx="534.2" cy="631.9" r="7.5" fill="#c6b36a" fill-opacity="0.93" stroke="#8f7e3e" stroke-width="0.5"/><circle cx="543.5" cy="677.1" r="7.3" fill="#c6b36a" fill-opacity="0.93" stroke="#8f7e3e" stroke-width="0.5"/><circle cx="458.2" cy="597.2" r="7.0" fill="#c6b36a" fill-opacity="0.93" stroke="#8f7e3e" stroke-width="0.5"/><circle cx="530.3" cy="626.3" r="8.5" fill="#c6b36a" fill-opacity="0.93" stroke="#8f7e3e" stroke-width="0.5"/><circle cx="519.2" cy="649.1" r="6.9" fill="#c6b36a" fill-opacity="0.93" stroke="#8f7e3e" stroke-width="0.5"/><circle cx="525.5" cy="646.1" r="7.5" fill="#c6b36a" fill-opacity="0.93" stroke="#8f7e3e" stroke-width="0.5"/><circle cx="476.6" cy="658.7" r="7.8" fill="#c6b36a" fill-opacity="0.93" stroke="#8f7e3e" stroke-width="0.5"/><circle cx="476.1" cy="672.3" r="7.3" fill="#c6b36a" fill-opacity="0.93" stroke="#8f7e3e" stroke-width="0.5"/><circle cx="571.8" cy="600.4" r="8.4" fill="#c6b36a" fill-opacity="0.93" stroke="#8f7e3e" stroke-width="0.5"/><circle cx="505.8" cy="619.7" r="8.6" fill="#c6b36a" fill-opacity="0.93" stroke="#8f7e3e" stroke-width="0.5"/><circle cx="468.0" cy="629.7" r="8.5" fill="#c6b36a" fill-opacity="0.93" stroke="#8f7e3e" stroke-width="0.5"/><circle cx="565.4" cy="617.6" r="8.6" fill="#c6b36a" fill-opacity="0.93" stroke="#8f7e3e" stroke-width="0.5"/><circle cx="584.5" cy="647.4" r="7.0" fill="#c6b36a" fill-opacity="0.93" stroke="#8f7e3e" stroke-width="0.5"/><circle cx="545.3" cy="614.9" r="7.2" fill="#c6b36a" fill-opacity="0.93" stroke="#8f7e3e" stroke-width="0.5"/><circle cx="443.8" cy="612.0" r="8.0" fill="#c6b36a" fill-opacity="0.93" stroke="#8f7e3e" stroke-width="0.5"/><circle cx="511.1" cy="572.3" r="7.8" fill="#c6b36a" fill-opacity="0.93" stroke="#8f7e3e" stroke-width="0.5"/><circle cx="503.7" cy="685.8" r="7.8" fill="#c6b36a" fill-opacity="0.93" stroke="#8f7e3e" stroke-width="0.5"/><circle cx="567.7" cy="567.1" r="7.0" fill="#c6b36a" fill-opacity="0.93" stroke="#8f7e3e" stroke-width="0.5"/><circle cx="545.5" cy="593.6" r="7.3" fill="#c6b36a" fill-opacity="0.93" stroke="#8f7e3e" stroke-width="0.5"/><circle cx="557.7" cy="638.9" r="7.9" fill="#c6b36a" fill-opacity="0.93" stroke="#8f7e3e" stroke-width="0.5"/><circle cx="457.1" cy="569.4" r="8.6" fill="#c6b36a" fill-opacity="0.93" stroke="#8f7e3e" stroke-width="0.5"/><circle cx="473.6" cy="608.1" r="7.9" fill="#c6b36a" fill-opacity="0.93" stroke="#8f7e3e" stroke-width="0.5"/><circle cx="439.3" cy="633.8" r="6.9" fill="#c6b36a" fill-opacity="0.93" stroke="#8f7e3e" stroke-width="0.5"/><circle cx="530.4" cy="653.4" r="7.5" fill="#c6b36a" fill-opacity="0.93" stroke="#8f7e3e" stroke-width="0.5"/><circle cx="488.3" cy="678.5" r="8.3" fill="#c6b36a" fill-opacity="0.93" stroke="#8f7e3e" stroke-width="0.5"/><circle cx="582.9" cy="651.8" r="8.2" fill="#c6b36a" fill-opacity="0.93" stroke="#8f7e3e" stroke-width="0.5"/><circle cx="461.8" cy="608.0" r="7.3" fill="#c6b36a" fill-opacity="0.93" stroke="#8f7e3e" stroke-width="0.5"/><circle cx="583.1" cy="595.8" r="8.0" fill="#c6b36a" fill-opacity="0.93" stroke="#8f7e3e" stroke-width="0.5"/><circle cx="530.0" cy="678.7" r="8.5" fill="#c6b36a" fill-opacity="0.93" stroke="#8f7e3e" stroke-width="0.5"/><circle cx="505.4" cy="595.8" r="7.0" fill="#c6b36a" fill-opacity="0.93" stroke="#8f7e3e" stroke-width="0.5"/><circle cx="435.4" cy="638.7" r="7.7" fill="#c6b36a" fill-opacity="0.93" stroke="#8f7e3e" stroke-width="0.5"/><circle cx="557.8" cy="580.4" r="8.2" fill="#c6b36a" fill-opacity="0.93" stroke="#8f7e3e" stroke-width="0.5"/><circle cx="480.2" cy="674.1" r="8.0" fill="#c6b36a" fill-opacity="0.93" stroke="#8f7e3e" stroke-width="0.5"/><circle cx="476.0" cy="546.0" r="7.4" fill="#c6b36a" fill-opacity="0.93" stroke="#8f7e3e" stroke-width="0.5"/><circle cx="566.0" cy="595.2" r="7.0" fill="#c6b36a" fill-opacity="0.93" stroke="#8f7e3e" stroke-width="0.5"/><circle cx="562.6" cy="639.8" r="8.5" fill="#c6b36a" fill-opacity="0.93" stroke="#8f7e3e" stroke-width="0.5"/><circle cx="480.4" cy="584.5" r="7.5" fill="#c6b36a" fill-opacity="0.93" stroke="#8f7e3e" stroke-width="0.5"/><circle cx="469.0" cy="594.2" r="7.5" fill="#c6b36a" fill-opacity="0.93" stroke="#8f7e3e" stroke-width="0.5"/><circle cx="492.3" cy="601.6" r="7.5" fill="#c6b36a" fill-opacity="0.93" stroke="#8f7e3e" stroke-width="0.5"/><circle cx="458.1" cy="638.6" r="8.2" fill="#c6b36a" fill-opacity="0.93" stroke="#8f7e3e" stroke-width="0.5"/><circle cx="523.3" cy="634.3" r="7.8" fill="#c6b36a" fill-opacity="0.93" stroke="#8f7e3e" stroke-width="0.5"/><circle cx="550.4" cy="568.6" r="7.2" fill="#c6b36a" fill-opacity="0.93" stroke="#8f7e3e" stroke-width="0.5"/><circle cx="574.0" cy="629.3" r="8.2" fill="#c6b36a" fill-opacity="0.93" stroke="#8f7e3e" stroke-width="0.5"/><circle cx="498.6" cy="588.9" r="8.5" fill="#c6b36a" fill-opacity="0.93" stroke="#8f7e3e" stroke-width="0.5"/><circle cx="555.1" cy="623.2" r="7.8" fill="#c6b36a" fill-opacity="0.93" stroke="#8f7e3e" stroke-width="0.5"/><circle cx="565.0" cy="670.4" r="8.4" fill="#c6b36a" fill-opacity="0.93" stroke="#8f7e3e" stroke-width="0.5"/><circle cx="548.6" cy="629.8" r="8.1" fill="#c6b36a" fill-opacity="0.93" stroke="#8f7e3e" stroke-width="0.5"/><circle cx="581.5" cy="607.4" r="7.6" fill="#c6b36a" fill-opacity="0.93" stroke="#8f7e3e" stroke-width="0.5"/><circle cx="504.8" cy="578.8" r="8.5" fill="#c6b36a" fill-opacity="0.93" stroke="#8f7e3e" stroke-width="0.5"/><circle cx="431.2" cy="615.5" r="7.9" fill="#c6b36a" fill-opacity="0.93" stroke="#8f7e3e" stroke-width="0.5"/><circle cx="462.7" cy="566.4" r="8.1" fill="#c6b36a" fill-opacity="0.93" stroke="#8f7e3e" stroke-width="0.5"/><circle cx="456.1" cy="576.4" r="7.1" fill="#c6b36a" fill-opacity="0.93" stroke="#8f7e3e" stroke-width="0.5"/><circle cx="572.4" cy="583.2" r="7.8" fill="#c6b36a" fill-opacity="0.93" stroke="#8f7e3e" stroke-width="0.5"/><circle cx="584.5" cy="620.1" r="7.3" fill="#c6b36a" fill-opacity="0.93" stroke="#8f7e3e" stroke-width="0.5"/><circle cx="488.0" cy="635.0" r="8.5" fill="#c6b36a" fill-opacity="0.93" stroke="#8f7e3e" stroke-width="0.5"/><circle cx="581.3" cy="599.3" r="7.7" fill="#c6b36a" fill-opacity="0.93" stroke="#8f7e3e" stroke-width="0.5"/><circle cx="523.3" cy="575.0" r="8.6" fill="#c6b36a" fill-opacity="0.93" stroke="#8f7e3e" stroke-width="0.5"/><circle cx="552.1" cy="566.9" r="6.8" fill="#c6b36a" fill-opacity="0.93" stroke="#8f7e3e" stroke-width="0.5"/><circle cx="514.5" cy="596.3" r="8.2" fill="#c6b36a" fill-opacity="0.93" stroke="#8f7e3e" stroke-width="0.5"/><circle cx="563.4" cy="647.9" r="7.1" fill="#c6b36a" fill-opacity="0.93" stroke="#8f7e3e" stroke-width="0.5"/><circle cx="450.4" cy="585.4" r="7.3" fill="#c6b36a" fill-opacity="0.93" stroke="#8f7e3e" stroke-width="0.5"/><circle cx="595.1" cy="628.1" r="7.9" fill="#c6b36a" fill-opacity="0.93" stroke="#8f7e3e" stroke-width="0.5"/><circle cx="473.3" cy="672.2" r="7.0" fill="#c6b36a" fill-opacity="0.93" stroke="#8f7e3e" stroke-width="0.5"/><circle cx="516.1" cy="617.7" r="8.5" fill="#c6b36a" fill-opacity="0.93" stroke="#8f7e3e" stroke-width="0.5"/><circle cx="480.2" cy="688.3" r="7.6" fill="#c6b36a" fill-opacity="0.93" stroke="#8f7e3e" stroke-width="0.5"/><circle cx="528.9" cy="630.2" r="7.1" fill="#c6b36a" fill-opacity="0.93" stroke="#8f7e3e" stroke-width="0.5"/><circle cx="587.6" cy="583.1" r="7.4" fill="#c6b36a" fill-opacity="0.93" stroke="#8f7e3e" stroke-width="0.5"/><circle cx="513.4" cy="671.9" r="7.4" fill="#c6b36a" fill-opacity="0.93" stroke="#8f7e3e" stroke-width="0.5"/><circle cx="498.6" cy="616.2" r="8.5" fill="#c6b36a" fill-opacity="0.93" stroke="#8f7e3e" stroke-width="0.5"/><circle cx="587.1" cy="658.5" r="6.8" fill="#c6b36a" fill-opacity="0.93" stroke="#8f7e3e" stroke-width="0.5"/><circle cx="495.1" cy="670.8" r="7.2" fill="#c6b36a" fill-opacity="0.93" stroke="#8f7e3e" stroke-width="0.5"/><circle cx="533.1" cy="615.4" r="6.8" fill="#c6b36a" fill-opacity="0.93" stroke="#8f7e3e" stroke-width="0.5"/><circle cx="460.5" cy="650.1" r="7.3" fill="#c6b36a" fill-opacity="0.93" stroke="#8f7e3e" stroke-width="0.5"/><circle cx="494.9" cy="633.3" r="7.3" fill="#c6b36a" fill-opacity="0.93" stroke="#8f7e3e" stroke-width="0.5"/><circle cx="487.1" cy="600.9" r="8.0" fill="#c6b36a" fill-opacity="0.93" stroke="#8f7e3e" stroke-width="0.5"/><circle cx="470.6" cy="558.6" r="8.1" fill="#c6b36a" fill-opacity="0.93" stroke="#8f7e3e" stroke-width="0.5"/><circle cx="532.9" cy="673.8" r="7.4" fill="#c6b36a" fill-opacity="0.93" stroke="#8f7e3e" stroke-width="0.5"/><circle cx="556.2" cy="670.4" r="7.1" fill="#c6b36a" fill-opacity="0.93" stroke="#8f7e3e" stroke-width="0.5"/><circle cx="464.5" cy="549.2" r="7.0" fill="#c6b36a" fill-opacity="0.93" stroke="#8f7e3e" stroke-width="0.5"/><circle cx="522.5" cy="657.0" r="8.2" fill="#c6b36a" fill-opacity="0.93" stroke="#8f7e3e" stroke-width="0.5"/><circle cx="585.3" cy="599.5" r="7.4" fill="#c6b36a" fill-opacity="0.93" stroke="#8f7e3e" stroke-width="0.5"/><circle cx="499.9" cy="668.6" r="8.6" fill="#c6b36a" fill-opacity="0.93" stroke="#8f7e3e" stroke-width="0.5"/><circle cx="579.0" cy="659.9" r="7.9" fill="#c6b36a" fill-opacity="0.93" stroke="#8f7e3e" stroke-width="0.5"/><circle cx="488.0" cy="657.8" r="7.0" fill="#c6b36a" fill-opacity="0.93" stroke="#8f7e3e" stroke-width="0.5"/><circle cx="495.2" cy="626.7" r="8.2" fill="#c6b36a" fill-opacity="0.93" stroke="#8f7e3e" stroke-width="0.5"/><circle cx="586.2" cy="649.1" r="7.1" fill="#c6b36a" fill-opacity="0.93" stroke="#8f7e3e" stroke-width="0.5"/><circle cx="529.9" cy="592.2" r="7.7" fill="#c6b36a" fill-opacity="0.93" stroke="#8f7e3e" stroke-width="0.5"/><circle cx="535.6" cy="668.0" r="7.4" fill="#c6b36a" fill-opacity="0.93" stroke="#8f7e3e" stroke-width="0.5"/><circle cx="602.2" cy="634.2" r="7.8" fill="#c6b36a" fill-opacity="0.93" stroke="#8f7e3e" stroke-width="0.5"/><circle cx="584.6" cy="646.9" r="7.0" fill="#c6b36a" fill-opacity="0.93" stroke="#8f7e3e" stroke-width="0.5"/><circle cx="586.1" cy="578.1" r="8.4" fill="#c6b36a" fill-opacity="0.93" stroke="#8f7e3e" stroke-width="0.5"/><circle cx="467.4" cy="640.8" r="8.3" fill="#c6b36a" fill-opacity="0.93" stroke="#8f7e3e" stroke-width="0.5"/><circle cx="456.2" cy="635.1" r="6.9" fill="#c6b36a" fill-opacity="0.93" stroke="#8f7e3e" stroke-width="0.5"/><circle cx="552.3" cy="582.3" r="8.0" fill="#c6b36a" fill-opacity="0.93" stroke="#8f7e3e" stroke-width="0.5"/><circle cx="568.4" cy="598.6" r="7.9" fill="#c6b36a" fill-opacity="0.93" stroke="#8f7e3e" stroke-width="0.5"/><circle cx="459.0" cy="617.6" r="7.1" fill="#c6b36a" fill-opacity="0.93" stroke="#8f7e3e" stroke-width="0.5"/><circle cx="497.0" cy="639.9" r="7.1" fill="#c6b36a" fill-opacity="0.93" stroke="#8f7e3e" stroke-width="0.5"/><circle cx="533.9" cy="587.7" r="8.0" fill="#c6b36a" fill-opacity="0.93" stroke="#8f7e3e" stroke-width="0.5"/><circle cx="540.4" cy="618.0" r="7.5" fill="#c6b36a" fill-opacity="0.93" stroke="#8f7e3e" stroke-width="0.5"/><circle cx="545.3" cy="666.2" r="8.2" fill="#c6b36a" fill-opacity="0.93" stroke="#8f7e3e" stroke-width="0.5"/><circle cx="571.2" cy="621.5" r="8.6" fill="#c6b36a" fill-opacity="0.93" stroke="#8f7e3e" stroke-width="0.5"/><circle cx="501.6" cy="610.1" r="7.8" fill="#c6b36a" fill-opacity="0.93" stroke="#8f7e3e" stroke-width="0.5"/><circle cx="602.4" cy="630.3" r="7.7" fill="#c6b36a" fill-opacity="0.93" stroke="#8f7e3e" stroke-width="0.5"/><circle cx="567.2" cy="646.1" r="8.2" fill="#c6b36a" fill-opacity="0.93" stroke="#8f7e3e" stroke-width="0.5"/><circle cx="480.4" cy="645.2" r="6.9" fill="#c6b36a" fill-opacity="0.93" stroke="#8f7e3e" stroke-width="0.5"/><circle cx="443.8" cy="612.9" r="7.7" fill="#c6b36a" fill-opacity="0.93" stroke="#8f7e3e" stroke-width="0.5"/><circle cx="559.7" cy="630.4" r="7.2" fill="#c6b36a" fill-opacity="0.93" stroke="#8f7e3e" stroke-width="0.5"/><circle cx="480.7" cy="601.6" r="7.2" fill="#c6b36a" fill-opacity="0.93" stroke="#8f7e3e" stroke-width="0.5"/><circle cx="594.6" cy="607.3" r="8.2" fill="#c6b36a" fill-opacity="0.93" stroke="#8f7e3e" stroke-width="0.5"/><circle cx="463.6" cy="678.9" r="7.8" fill="#c6b36a" fill-opacity="0.93" stroke="#8f7e3e" stroke-width="0.5"/><circle cx="479.3" cy="586.0" r="6.9" fill="#c6b36a" fill-opacity="0.93" stroke="#8f7e3e" stroke-width="0.5"/><circle cx="499.2" cy="593.0" r="7.9" fill="#c6b36a" fill-opacity="0.93" stroke="#8f7e3e" stroke-width="0.5"/><circle cx="460.5" cy="579.6" r="8.5" fill="#c6b36a" fill-opacity="0.93" stroke="#8f7e3e" stroke-width="0.5"/><circle cx="588.8" cy="592.5" r="7.7" fill="#c6b36a" fill-opacity="0.93" stroke="#8f7e3e" stroke-width="0.5"/><circle cx="480.9" cy="670.9" r="7.2" fill="#c6b36a" fill-opacity="0.93" stroke="#8f7e3e" stroke-width="0.5"/><circle cx="455.3" cy="566.4" r="8.0" fill="#c6b36a" fill-opacity="0.93" stroke="#8f7e3e" stroke-width="0.5"/><circle cx="579.1" cy="596.6" r="8.0" fill="#c6b36a" fill-opacity="0.93" stroke="#8f7e3e" stroke-width="0.5"/><circle cx="598.2" cy="644.4" r="7.2" fill="#c6b36a" fill-opacity="0.93" stroke="#8f7e3e" stroke-width="0.5"/><circle cx="554.0" cy="575.5" r="8.0" fill="#c6b36a" fill-opacity="0.93" stroke="#8f7e3e" stroke-width="0.5"/><circle cx="508.0" cy="630.8" r="7.8" fill="#c6b36a" fill-opacity="0.93" stroke="#8f7e3e" stroke-width="0.5"/><circle cx="476.3" cy="569.8" r="8.2" fill="#c6b36a" fill-opacity="0.93" stroke="#8f7e3e" stroke-width="0.5"/><circle cx="572.1" cy="568.7" r="7.3" fill="#c6b36a" fill-opacity="0.93" stroke="#8f7e3e" stroke-width="0.5"/></g>
<g><circle cx="512.1" cy="641.3" r="0.9" fill="#a6c4e0"/><circle cx="509.8" cy="638.8" r="0.9" fill="#a6c4e0"/><circle cx="507.5" cy="637.9" r="0.9" fill="#a6c4e0"/><circle cx="510.6" cy="626.6" r="0.9" fill="#a6c4e0"/><circle cx="513.0" cy="627.7" r="0.9" fill="#a6c4e0"/><circle cx="512.5" cy="624.7" r="0.9" fill="#a6c4e0"/><circle cx="454.0" cy="623.3" r="0.9" fill="#a6c4e0"/><circle cx="459.5" cy="623.3" r="0.9" fill="#a6c4e0"/><circle cx="456.2" cy="628.5" r="0.9" fill="#a6c4e0"/><circle cx="582.7" cy="664.4" r="0.9" fill="#a6c4e0"/><circle cx="584.0" cy="670.3" r="0.9" fill="#a6c4e0"/><circle cx="585.8" cy="664.3" r="0.9" fill="#a6c4e0"/><circle cx="551.7" cy="651.5" r="0.9" fill="#a6c4e0"/><circle cx="556.2" cy="650.2" r="0.9" fill="#a6c4e0"/><circle cx="552.0" cy="653.6" r="0.9" fill="#a6c4e0"/><circle cx="509.4" cy="610.7" r="0.9" fill="#a6c4e0"/><circle cx="508.0" cy="610.7" r="0.9" fill="#a6c4e0"/><circle cx="511.3" cy="610.5" r="0.9" fill="#a6c4e0"/><circle cx="525.9" cy="657.2" r="0.9" fill="#a6c4e0"/><circle cx="524.7" cy="655.1" r="0.9" fill="#a6c4e0"/><circle cx="522.6" cy="652.4" r="0.9" fill="#a6c4e0"/><circle cx="553.7" cy="616.1" r="0.9" fill="#a6c4e0"/><circle cx="552.2" cy="613.2" r="0.9" fill="#a6c4e0"/><circle cx="551.1" cy="616.6" r="0.9" fill="#a6c4e0"/><circle cx="592.2" cy="672.5" r="0.9" fill="#a6c4e0"/><circle cx="586.9" cy="668.9" r="0.9" fill="#a6c4e0"/><circle cx="587.0" cy="673.9" r="0.9" fill="#a6c4e0"/><circle cx="466.3" cy="575.8" r="0.9" fill="#a6c4e0"/><circle cx="465.8" cy="578.6" r="0.9" fill="#a6c4e0"/><circle cx="465.4" cy="578.5" r="0.9" fill="#a6c4e0"/><circle cx="572.3" cy="600.1" r="0.9" fill="#a6c4e0"/><circle cx="575.7" cy="607.8" r="0.9" fill="#a6c4e0"/><circle cx="571.0" cy="599.3" r="0.9" fill="#a6c4e0"/><circle cx="474.8" cy="530.6" r="0.9" fill="#a6c4e0"/><circle cx="468.3" cy="532.9" r="0.9" fill="#a6c4e0"/><circle cx="475.7" cy="536.4" r="0.9" fill="#a6c4e0"/><circle cx="533.9" cy="611.4" r="0.9" fill="#a6c4e0"/><circle cx="532.5" cy="612.2" r="0.9" fill="#a6c4e0"/><circle cx="531.0" cy="613.7" r="0.9" fill="#a6c4e0"/><circle cx="501.1" cy="563.6" r="0.9" fill="#a6c4e0"/><circle cx="505.1" cy="562.8" r="0.9" fill="#a6c4e0"/><circle cx="504.9" cy="560.2" r="0.9" fill="#a6c4e0"/><circle cx="465.4" cy="605.5" r="0.9" fill="#a6c4e0"/><circle cx="461.2" cy="601.3" r="0.9" fill="#a6c4e0"/><circle cx="460.5" cy="601.0" r="0.9" fill="#a6c4e0"/><circle cx="473.0" cy="687.9" r="0.9" fill="#a6c4e0"/><circle cx="469.7" cy="682.8" r="0.9" fill="#a6c4e0"/><circle cx="468.1" cy="684.3" r="0.9" fill="#a6c4e0"/><circle cx="436.3" cy="642.9" r="0.9" fill="#a6c4e0"/><circle cx="437.3" cy="638.9" r="0.9" fill="#a6c4e0"/><circle cx="435.0" cy="643.8" r="0.9" fill="#a6c4e0"/><circle cx="538.7" cy="594.8" r="0.9" fill="#a6c4e0"/><circle cx="536.7" cy="598.7" r="0.9" fill="#a6c4e0"/><circle cx="541.3" cy="595.9" r="0.9" fill="#a6c4e0"/><circle cx="471.3" cy="560.3" r="0.9" fill="#a6c4e0"/><circle cx="473.2" cy="555.3" r="0.9" fill="#a6c4e0"/><circle cx="469.1" cy="556.7" r="0.9" fill="#a6c4e0"/><circle cx="543.3" cy="603.3" r="0.9" fill="#a6c4e0"/><circle cx="541.3" cy="603.7" r="0.9" fill="#a6c4e0"/><circle cx="543.7" cy="606.9" r="0.9" fill="#a6c4e0"/><circle cx="468.1" cy="669.0" r="0.9" fill="#a6c4e0"/><circle cx="470.7" cy="671.6" r="0.9" fill="#a6c4e0"/><circle cx="465.7" cy="665.8" r="0.9" fill="#a6c4e0"/><circle cx="586.9" cy="646.9" r="0.9" fill="#a6c4e0"/><circle cx="585.6" cy="645.7" r="0.9" fill="#a6c4e0"/><circle cx="584.4" cy="648.5" r="0.9" fill="#a6c4e0"/><circle cx="457.4" cy="671.7" r="0.9" fill="#a6c4e0"/><circle cx="452.6" cy="674.3" r="0.9" fill="#a6c4e0"/><circle cx="450.6" cy="672.8" r="0.9" fill="#a6c4e0"/><circle cx="465.0" cy="637.7" r="0.9" fill="#a6c4e0"/><circle cx="469.1" cy="635.5" r="0.9" fill="#a6c4e0"/><circle cx="466.3" cy="638.1" r="0.9" fill="#a6c4e0"/><circle cx="543.1" cy="577.5" r="0.9" fill="#a6c4e0"/><circle cx="543.7" cy="576.9" r="0.9" fill="#a6c4e0"/><circle cx="542.2" cy="573.9" r="0.9" fill="#a6c4e0"/><circle cx="476.4" cy="615.2" r="0.9" fill="#a6c4e0"/><circle cx="473.8" cy="611.6" r="0.9" fill="#a6c4e0"/><circle cx="475.0" cy="609.4" r="0.9" fill="#a6c4e0"/><circle cx="453.8" cy="595.6" r="0.9" fill="#a6c4e0"/><circle cx="453.1" cy="591.1" r="0.9" fill="#a6c4e0"/><circle cx="458.3" cy="592.3" r="0.9" fill="#a6c4e0"/><circle cx="448.2" cy="599.2" r="0.9" fill="#a6c4e0"/><circle cx="447.0" cy="595.5" r="0.9" fill="#a6c4e0"/><circle cx="441.6" cy="593.4" r="0.9" fill="#a6c4e0"/><circle cx="554.6" cy="642.4" r="0.9" fill="#a6c4e0"/><circle cx="559.6" cy="639.0" r="0.9" fill="#a6c4e0"/><circle cx="558.0" cy="641.2" r="0.9" fill="#a6c4e0"/><circle cx="551.4" cy="621.2" r="0.9" fill="#a6c4e0"/><circle cx="548.8" cy="620.3" r="0.9" fill="#a6c4e0"/><circle cx="547.9" cy="620.7" r="0.9" fill="#a6c4e0"/><circle cx="430.4" cy="637.3" r="0.9" fill="#a6c4e0"/><circle cx="433.0" cy="631.5" r="0.9" fill="#a6c4e0"/><circle cx="433.5" cy="636.1" r="0.9" fill="#a6c4e0"/><circle cx="597.9" cy="609.2" r="0.9" fill="#a6c4e0"/><circle cx="596.2" cy="606.5" r="0.9" fill="#a6c4e0"/><circle cx="595.0" cy="603.9" r="0.9" fill="#a6c4e0"/><circle cx="596.3" cy="640.9" r="0.9" fill="#a6c4e0"/><circle cx="596.5" cy="639.3" r="0.9" fill="#a6c4e0"/><circle cx="593.9" cy="641.4" r="0.9" fill="#a6c4e0"/><circle cx="494.9" cy="642.8" r="0.9" fill="#a6c4e0"/><circle cx="496.1" cy="643.1" r="0.9" fill="#a6c4e0"/><circle cx="492.7" cy="640.1" r="0.9" fill="#a6c4e0"/><circle cx="563.0" cy="599.9" r="0.9" fill="#a6c4e0"/><circle cx="565.0" cy="605.5" r="0.9" fill="#a6c4e0"/><circle cx="565.3" cy="605.1" r="0.9" fill="#a6c4e0"/><circle cx="540.4" cy="611.9" r="0.9" fill="#a6c4e0"/><circle cx="538.8" cy="609.1" r="0.9" fill="#a6c4e0"/><circle cx="536.8" cy="612.5" r="0.9" fill="#a6c4e0"/><circle cx="565.9" cy="623.6" r="0.9" fill="#a6c4e0"/><circle cx="560.6" cy="626.3" r="0.9" fill="#a6c4e0"/><circle cx="562.7" cy="619.8" r="0.9" fill="#a6c4e0"/><circle cx="559.0" cy="559.7" r="0.9" fill="#a6c4e0"/><circle cx="556.3" cy="559.6" r="0.9" fill="#a6c4e0"/><circle cx="555.4" cy="556.9" r="0.9" fill="#a6c4e0"/><circle cx="485.9" cy="664.8" r="0.9" fill="#a6c4e0"/><circle cx="484.4" cy="662.3" r="0.9" fill="#a6c4e0"/><circle cx="484.6" cy="662.0" r="0.9" fill="#a6c4e0"/><circle cx="497.5" cy="641.5" r="0.9" fill="#a6c4e0"/><circle cx="499.8" cy="641.4" r="0.9" fill="#a6c4e0"/><circle cx="492.1" cy="641.8" r="0.9" fill="#a6c4e0"/><circle cx="446.0" cy="624.0" r="0.9" fill="#a6c4e0"/><circle cx="446.0" cy="623.5" r="0.9" fill="#a6c4e0"/><circle cx="451.2" cy="621.3" r="0.9" fill="#a6c4e0"/><circle cx="452.5" cy="614.0" r="0.9" fill="#a6c4e0"/><circle cx="454.1" cy="613.4" r="0.9" fill="#a6c4e0"/><circle cx="455.2" cy="613.2" r="0.9" fill="#a6c4e0"/><circle cx="465.6" cy="602.5" r="0.9" fill="#a6c4e0"/><circle cx="463.1" cy="607.2" r="0.9" fill="#a6c4e0"/><circle cx="461.0" cy="606.1" r="0.9" fill="#a6c4e0"/><circle cx="520.0" cy="583.5" r="0.9" fill="#a6c4e0"/><circle cx="518.9" cy="585.0" r="0.9" fill="#a6c4e0"/><circle cx="521.6" cy="587.8" r="0.9" fill="#a6c4e0"/><circle cx="563.4" cy="643.0" r="0.9" fill="#a6c4e0"/><circle cx="565.4" cy="643.1" r="0.9" fill="#a6c4e0"/><circle cx="563.5" cy="635.4" r="0.9" fill="#a6c4e0"/><circle cx="449.1" cy="615.8" r="0.9" fill="#a6c4e0"/><circle cx="445.9" cy="613.1" r="0.9" fill="#a6c4e0"/><circle cx="445.5" cy="613.2" r="0.9" fill="#a6c4e0"/><circle cx="542.3" cy="610.4" r="0.9" fill="#a6c4e0"/><circle cx="547.2" cy="611.2" r="0.9" fill="#a6c4e0"/><circle cx="546.1" cy="618.1" r="0.9" fill="#a6c4e0"/><circle cx="459.2" cy="621.5" r="0.9" fill="#a6c4e0"/><circle cx="457.4" cy="620.0" r="0.9" fill="#a6c4e0"/><circle cx="458.4" cy="619.0" r="0.9" fill="#a6c4e0"/><circle cx="470.1" cy="591.5" r="0.9" fill="#a6c4e0"/><circle cx="475.4" cy="588.4" r="0.9" fill="#a6c4e0"/><circle cx="474.0" cy="592.2" r="0.9" fill="#a6c4e0"/><circle cx="524.6" cy="650.6" r="0.9" fill="#a6c4e0"/><circle cx="523.5" cy="651.8" r="0.9" fill="#a6c4e0"/><circle cx="528.3" cy="648.3" r="0.9" fill="#a6c4e0"/><circle cx="501.0" cy="687.4" r="0.9" fill="#a6c4e0"/><circle cx="499.6" cy="692.0" r="0.9" fill="#a6c4e0"/><circle cx="496.5" cy="683.3" r="0.9" fill="#a6c4e0"/><circle cx="511.2" cy="656.7" r="0.9" fill="#a6c4e0"/><circle cx="512.9" cy="651.6" r="0.9" fill="#a6c4e0"/><circle cx="510.0" cy="652.1" r="0.9" fill="#a6c4e0"/><circle cx="494.9" cy="639.5" r="0.9" fill="#a6c4e0"/><circle cx="495.9" cy="635.4" r="0.9" fill="#a6c4e0"/><circle cx="497.5" cy="635.4" r="0.9" fill="#a6c4e0"/><circle cx="516.7" cy="659.7" r="0.9" fill="#a6c4e0"/><circle cx="511.4" cy="653.3" r="0.9" fill="#a6c4e0"/><circle cx="514.7" cy="656.5" r="0.9" fill="#a6c4e0"/><circle cx="549.5" cy="671.7" r="0.9" fill="#a6c4e0"/><circle cx="552.2" cy="671.8" r="0.9" fill="#a6c4e0"/><circle cx="549.9" cy="669.9" r="0.9" fill="#a6c4e0"/><circle cx="577.9" cy="584.4" r="0.9" fill="#a6c4e0"/><circle cx="580.2" cy="582.1" r="0.9" fill="#a6c4e0"/><circle cx="579.9" cy="589.5" r="0.9" fill="#a6c4e0"/><circle cx="590.6" cy="590.2" r="0.9" fill="#a6c4e0"/><circle cx="593.1" cy="589.3" r="0.9" fill="#a6c4e0"/><circle cx="591.2" cy="588.9" r="0.9" fill="#a6c4e0"/><circle cx="506.7" cy="637.2" r="0.9" fill="#a6c4e0"/><circle cx="507.2" cy="635.1" r="0.9" fill="#a6c4e0"/><circle cx="508.9" cy="637.3" r="0.9" fill="#a6c4e0"/><circle cx="486.4" cy="687.0" r="0.9" fill="#a6c4e0"/><circle cx="486.8" cy="686.3" r="0.9" fill="#a6c4e0"/><circle cx="487.1" cy="687.8" r="0.9" fill="#a6c4e0"/><circle cx="451.5" cy="624.5" r="0.9" fill="#a6c4e0"/><circle cx="450.4" cy="625.1" r="0.9" fill="#a6c4e0"/><circle cx="447.1" cy="633.4" r="0.9" fill="#a6c4e0"/><circle cx="589.9" cy="670.4" r="0.9" fill="#a6c4e0"/><circle cx="588.8" cy="666.5" r="0.9" fill="#a6c4e0"/><circle cx="587.6" cy="667.2" r="0.9" fill="#a6c4e0"/><circle cx="525.8" cy="577.3" r="0.9" fill="#a6c4e0"/><circle cx="525.6" cy="578.3" r="0.9" fill="#a6c4e0"/><circle cx="528.5" cy="580.3" r="0.9" fill="#a6c4e0"/><circle cx="551.5" cy="628.1" r="0.9" fill="#a6c4e0"/><circle cx="551.1" cy="634.1" r="0.9" fill="#a6c4e0"/><circle cx="548.3" cy="629.6" r="0.9" fill="#a6c4e0"/><circle cx="533.7" cy="584.7" r="0.9" fill="#a6c4e0"/><circle cx="529.4" cy="582.6" r="0.9" fill="#a6c4e0"/><circle cx="534.0" cy="580.4" r="0.9" fill="#a6c4e0"/><circle cx="463.2" cy="701.1" r="0.9" fill="#a6c4e0"/><circle cx="458.7" cy="705.1" r="0.9" fill="#a6c4e0"/><circle cx="462.9" cy="700.3" r="0.9" fill="#a6c4e0"/><circle cx="526.8" cy="641.2" r="0.9" fill="#a6c4e0"/><circle cx="526.3" cy="645.0" r="0.9" fill="#a6c4e0"/><circle cx="524.0" cy="642.7" r="0.9" fill="#a6c4e0"/><circle cx="527.2" cy="625.1" r="0.9" fill="#a6c4e0"/><circle cx="529.8" cy="626.8" r="0.9" fill="#a6c4e0"/><circle cx="527.4" cy="625.6" r="0.9" fill="#a6c4e0"/><circle cx="523.2" cy="598.5" r="0.9" fill="#a6c4e0"/><circle cx="522.8" cy="602.2" r="0.9" fill="#a6c4e0"/><circle cx="525.6" cy="597.4" r="0.9" fill="#a6c4e0"/><circle cx="535.8" cy="625.1" r="0.9" fill="#a6c4e0"/><circle cx="533.5" cy="622.8" r="0.9" fill="#a6c4e0"/><circle cx="530.2" cy="627.4" r="0.9" fill="#a6c4e0"/><circle cx="598.8" cy="620.2" r="0.9" fill="#a6c4e0"/><circle cx="603.0" cy="618.1" r="0.9" fill="#a6c4e0"/><circle cx="601.4" cy="619.8" r="0.9" fill="#a6c4e0"/><circle cx="457.8" cy="654.1" r="0.9" fill="#a6c4e0"/><circle cx="461.8" cy="646.6" r="0.9" fill="#a6c4e0"/><circle cx="457.1" cy="654.5" r="0.9" fill="#a6c4e0"/><circle cx="463.5" cy="668.4" r="0.9" fill="#a6c4e0"/><circle cx="469.5" cy="666.2" r="0.9" fill="#a6c4e0"/><circle cx="465.4" cy="661.9" r="0.9" fill="#a6c4e0"/><circle cx="489.5" cy="649.5" r="0.9" fill="#a6c4e0"/><circle cx="492.0" cy="648.9" r="0.9" fill="#a6c4e0"/><circle cx="490.0" cy="649.8" r="0.9" fill="#a6c4e0"/><circle cx="460.2" cy="634.8" r="0.9" fill="#a6c4e0"/><circle cx="458.6" cy="631.5" r="0.9" fill="#a6c4e0"/><circle cx="458.0" cy="633.4" r="0.9" fill="#a6c4e0"/><circle cx="495.1" cy="606.2" r="0.9" fill="#a6c4e0"/><circle cx="494.3" cy="603.1" r="0.9" fill="#a6c4e0"/><circle cx="491.0" cy="605.4" r="0.9" fill="#a6c4e0"/><circle cx="549.5" cy="655.9" r="0.9" fill="#a6c4e0"/><circle cx="548.3" cy="654.9" r="0.9" fill="#a6c4e0"/><circle cx="546.5" cy="654.1" r="0.9" fill="#a6c4e0"/><circle cx="589.6" cy="651.0" r="0.9" fill="#a6c4e0"/><circle cx="591.8" cy="650.5" r="0.9" fill="#a6c4e0"/><circle cx="590.1" cy="651.6" r="0.9" fill="#a6c4e0"/><circle cx="463.6" cy="679.4" r="0.9" fill="#a6c4e0"/><circle cx="465.8" cy="680.7" r="0.9" fill="#a6c4e0"/><circle cx="466.1" cy="674.9" r="0.9" fill="#a6c4e0"/><circle cx="464.5" cy="677.7" r="0.9" fill="#a6c4e0"/><circle cx="465.4" cy="672.7" r="0.9" fill="#a6c4e0"/><circle cx="465.4" cy="679.0" r="0.9" fill="#a6c4e0"/><circle cx="448.0" cy="606.7" r="0.9" fill="#a6c4e0"/><circle cx="442.3" cy="608.1" r="0.9" fill="#a6c4e0"/><circle cx="447.9" cy="604.3" r="0.9" fill="#a6c4e0"/><circle cx="517.6" cy="665.9" r="0.9" fill="#a6c4e0"/><circle cx="522.3" cy="666.4" r="0.9" fill="#a6c4e0"/><circle cx="518.8" cy="667.6" r="0.9" fill="#a6c4e0"/><circle cx="522.2" cy="635.1" r="0.9" fill="#a6c4e0"/><circle cx="523.1" cy="639.9" r="0.9" fill="#a6c4e0"/><circle cx="525.0" cy="643.9" r="0.9" fill="#a6c4e0"/><circle cx="452.3" cy="558.3" r="0.9" fill="#a6c4e0"/><circle cx="460.6" cy="559.4" r="0.9" fill="#a6c4e0"/><circle cx="452.2" cy="557.1" r="0.9" fill="#a6c4e0"/><circle cx="576.1" cy="590.3" r="0.9" fill="#a6c4e0"/><circle cx="576.1" cy="590.7" r="0.9" fill="#a6c4e0"/><circle cx="575.7" cy="584.0" r="0.9" fill="#a6c4e0"/><circle cx="523.1" cy="609.9" r="0.9" fill="#a6c4e0"/><circle cx="522.0" cy="609.3" r="0.9" fill="#a6c4e0"/><circle cx="522.6" cy="609.8" r="0.9" fill="#a6c4e0"/><circle cx="514.4" cy="679.3" r="0.9" fill="#a6c4e0"/><circle cx="511.4" cy="674.2" r="0.9" fill="#a6c4e0"/><circle cx="507.7" cy="674.3" r="0.9" fill="#a6c4e0"/><circle cx="543.5" cy="601.6" r="0.9" fill="#a6c4e0"/><circle cx="546.8" cy="603.7" r="0.9" fill="#a6c4e0"/><circle cx="545.3" cy="600.8" r="0.9" fill="#a6c4e0"/><circle cx="581.0" cy="576.1" r="0.9" fill="#a6c4e0"/><circle cx="578.7" cy="572.2" r="0.9" fill="#a6c4e0"/><circle cx="584.6" cy="570.7" r="0.9" fill="#a6c4e0"/><circle cx="586.3" cy="602.0" r="0.9" fill="#a6c4e0"/><circle cx="581.8" cy="600.1" r="0.9" fill="#a6c4e0"/><circle cx="580.9" cy="603.6" r="0.9" fill="#a6c4e0"/><circle cx="503.4" cy="670.8" r="0.9" fill="#a6c4e0"/><circle cx="498.3" cy="671.4" r="0.9" fill="#a6c4e0"/><circle cx="500.8" cy="676.3" r="0.9" fill="#a6c4e0"/><circle cx="489.7" cy="614.8" r="0.9" fill="#a6c4e0"/><circle cx="488.2" cy="617.6" r="0.9" fill="#a6c4e0"/><circle cx="488.5" cy="618.7" r="0.9" fill="#a6c4e0"/><circle cx="495.5" cy="653.6" r="0.9" fill="#a6c4e0"/><circle cx="490.7" cy="655.5" r="0.9" fill="#a6c4e0"/><circle cx="488.5" cy="659.1" r="0.9" fill="#a6c4e0"/><circle cx="555.6" cy="585.9" r="0.9" fill="#a6c4e0"/><circle cx="557.8" cy="587.3" r="0.9" fill="#a6c4e0"/><circle cx="554.8" cy="589.0" r="0.9" fill="#a6c4e0"/><circle cx="536.1" cy="628.3" r="0.9" fill="#a6c4e0"/><circle cx="536.3" cy="629.6" r="0.9" fill="#a6c4e0"/><circle cx="534.2" cy="631.9" r="0.9" fill="#a6c4e0"/><circle cx="543.4" cy="677.3" r="0.9" fill="#a6c4e0"/><circle cx="547.9" cy="676.6" r="0.9" fill="#a6c4e0"/><circle cx="542.0" cy="674.8" r="0.9" fill="#a6c4e0"/><circle cx="455.4" cy="596.8" r="0.9" fill="#a6c4e0"/><circle cx="458.1" cy="597.8" r="0.9" fill="#a6c4e0"/><circle cx="460.6" cy="593.9" r="0.9" fill="#a6c4e0"/><circle cx="530.0" cy="628.9" r="0.9" fill="#a6c4e0"/><circle cx="526.4" cy="628.7" r="0.9" fill="#a6c4e0"/><circle cx="528.1" cy="629.7" r="0.9" fill="#a6c4e0"/><circle cx="522.4" cy="652.1" r="0.9" fill="#a6c4e0"/><circle cx="518.3" cy="647.5" r="0.9" fill="#a6c4e0"/><circle cx="515.9" cy="648.9" r="0.9" fill="#a6c4e0"/><circle cx="524.9" cy="645.9" r="0.9" fill="#a6c4e0"/><circle cx="525.8" cy="646.6" r="0.9" fill="#a6c4e0"/><circle cx="522.0" cy="642.3" r="0.9" fill="#a6c4e0"/><circle cx="480.1" cy="661.9" r="0.9" fill="#a6c4e0"/><circle cx="476.7" cy="657.3" r="0.9" fill="#a6c4e0"/><circle cx="476.1" cy="658.8" r="0.9" fill="#a6c4e0"/><circle cx="477.0" cy="670.0" r="0.9" fill="#a6c4e0"/><circle cx="477.2" cy="670.4" r="0.9" fill="#a6c4e0"/><circle cx="473.5" cy="673.3" r="0.9" fill="#a6c4e0"/><circle cx="572.6" cy="597.1" r="0.9" fill="#a6c4e0"/><circle cx="570.4" cy="598.5" r="0.9" fill="#a6c4e0"/><circle cx="572.3" cy="601.7" r="0.9" fill="#a6c4e0"/><circle cx="505.8" cy="619.6" r="0.9" fill="#a6c4e0"/><circle cx="507.0" cy="616.7" r="0.9" fill="#a6c4e0"/><circle cx="504.2" cy="621.9" r="0.9" fill="#a6c4e0"/><circle cx="464.4" cy="632.1" r="0.9" fill="#a6c4e0"/><circle cx="467.4" cy="624.3" r="0.9" fill="#a6c4e0"/><circle cx="464.3" cy="630.2" r="0.9" fill="#a6c4e0"/><circle cx="566.8" cy="621.6" r="0.9" fill="#a6c4e0"/><circle cx="570.4" cy="618.2" r="0.9" fill="#a6c4e0"/><circle cx="567.7" cy="616.3" r="0.9" fill="#a6c4e0"/><circle cx="585.1" cy="648.0" r="0.9" fill="#a6c4e0"/><circle cx="584.4" cy="647.4" r="0.9" fill="#a6c4e0"/><circle cx="584.4" cy="647.4" r="0.9" fill="#a6c4e0"/><circle cx="545.8" cy="615.1" r="0.9" fill="#a6c4e0"/><circle cx="548.8" cy="613.2" r="0.9" fill="#a6c4e0"/><circle cx="542.0" cy="615.7" r="0.9" fill="#a6c4e0"/><circle cx="446.8" cy="614.7" r="0.9" fill="#a6c4e0"/><circle cx="444.0" cy="616.0" r="0.9" fill="#a6c4e0"/><circle cx="440.4" cy="615.4" r="0.9" fill="#a6c4e0"/><circle cx="511.4" cy="572.4" r="0.9" fill="#a6c4e0"/><circle cx="514.3" cy="569.1" r="0.9" fill="#a6c4e0"/><circle cx="510.7" cy="572.9" r="0.9" fill="#a6c4e0"/><circle cx="501.1" cy="685.1" r="0.9" fill="#a6c4e0"/><circle cx="500.0" cy="688.3" r="0.9" fill="#a6c4e0"/><circle cx="505.6" cy="686.8" r="0.9" fill="#a6c4e0"/><circle cx="566.2" cy="565.1" r="0.9" fill="#a6c4e0"/><circle cx="565.0" cy="568.4" r="0.9" fill="#a6c4e0"/><circle cx="568.9" cy="569.3" r="0.9" fill="#a6c4e0"/><circle cx="546.8" cy="594.1" r="0.9" fill="#a6c4e0"/><circle cx="546.9" cy="594.0" r="0.9" fill="#a6c4e0"/><circle cx="550.4" cy="594.9" r="0.9" fill="#a6c4e0"/><circle cx="557.9" cy="638.8" r="0.9" fill="#a6c4e0"/><circle cx="561.1" cy="642.7" r="0.9" fill="#a6c4e0"/><circle cx="562.6" cy="637.3" r="0.9" fill="#a6c4e0"/><circle cx="460.2" cy="569.2" r="0.9" fill="#a6c4e0"/><circle cx="462.9" cy="569.1" r="0.9" fill="#a6c4e0"/><circle cx="456.2" cy="572.2" r="0.9" fill="#a6c4e0"/><circle cx="468.2" cy="608.5" r="0.9" fill="#a6c4e0"/><circle cx="472.3" cy="606.8" r="0.9" fill="#a6c4e0"/><circle cx="473.9" cy="606.3" r="0.9" fill="#a6c4e0"/><circle cx="438.2" cy="632.8" r="0.9" fill="#a6c4e0"/><circle cx="437.0" cy="634.8" r="0.9" fill="#a6c4e0"/><circle cx="442.3" cy="635.2" r="0.9" fill="#a6c4e0"/><circle cx="530.5" cy="653.2" r="0.9" fill="#a6c4e0"/><circle cx="531.2" cy="656.6" r="0.9" fill="#a6c4e0"/><circle cx="530.3" cy="653.6" r="0.9" fill="#a6c4e0"/><circle cx="488.0" cy="679.6" r="0.9" fill="#a6c4e0"/><circle cx="492.7" cy="677.2" r="0.9" fill="#a6c4e0"/><circle cx="490.6" cy="679.9" r="0.9" fill="#a6c4e0"/><circle cx="584.5" cy="650.2" r="0.9" fill="#a6c4e0"/><circle cx="582.9" cy="653.2" r="0.9" fill="#a6c4e0"/><circle cx="579.3" cy="654.9" r="0.9" fill="#a6c4e0"/><circle cx="466.8" cy="607.4" r="0.9" fill="#a6c4e0"/><circle cx="462.0" cy="607.8" r="0.9" fill="#a6c4e0"/><circle cx="460.0" cy="605.2" r="0.9" fill="#a6c4e0"/><circle cx="583.2" cy="595.9" r="0.9" fill="#a6c4e0"/><circle cx="581.4" cy="596.0" r="0.9" fill="#a6c4e0"/><circle cx="585.8" cy="593.0" r="0.9" fill="#a6c4e0"/><circle cx="526.6" cy="681.9" r="0.9" fill="#a6c4e0"/><circle cx="533.1" cy="679.2" r="0.9" fill="#a6c4e0"/><circle cx="529.7" cy="680.4" r="0.9" fill="#a6c4e0"/><circle cx="502.3" cy="594.6" r="0.9" fill="#a6c4e0"/><circle cx="507.7" cy="595.1" r="0.9" fill="#a6c4e0"/><circle cx="506.4" cy="600.2" r="0.9" fill="#a6c4e0"/><circle cx="437.7" cy="634.7" r="0.9" fill="#a6c4e0"/><circle cx="435.4" cy="638.7" r="0.9" fill="#a6c4e0"/><circle cx="435.4" cy="638.2" r="0.9" fill="#a6c4e0"/><circle cx="556.6" cy="580.6" r="0.9" fill="#a6c4e0"/><circle cx="557.4" cy="577.8" r="0.9" fill="#a6c4e0"/><circle cx="562.4" cy="578.1" r="0.9" fill="#a6c4e0"/><circle cx="479.7" cy="675.5" r="0.9" fill="#a6c4e0"/><circle cx="479.2" cy="669.2" r="0.9" fill="#a6c4e0"/><circle cx="482.9" cy="673.0" r="0.9" fill="#a6c4e0"/><circle cx="475.7" cy="547.1" r="0.9" fill="#a6c4e0"/><circle cx="476.2" cy="544.4" r="0.9" fill="#a6c4e0"/><circle cx="478.4" cy="541.6" r="0.9" fill="#a6c4e0"/><circle cx="565.0" cy="592.8" r="0.9" fill="#a6c4e0"/><circle cx="569.5" cy="594.2" r="0.9" fill="#a6c4e0"/><circle cx="563.7" cy="593.3" r="0.9" fill="#a6c4e0"/><circle cx="560.9" cy="639.5" r="0.9" fill="#a6c4e0"/><circle cx="566.1" cy="641.3" r="0.9" fill="#a6c4e0"/><circle cx="565.0" cy="640.8" r="0.9" fill="#a6c4e0"/><circle cx="477.6" cy="587.4" r="0.9" fill="#a6c4e0"/><circle cx="478.4" cy="580.3" r="0.9" fill="#a6c4e0"/><circle cx="478.3" cy="582.9" r="0.9" fill="#a6c4e0"/><circle cx="469.0" cy="595.7" r="0.9" fill="#a6c4e0"/><circle cx="466.6" cy="595.6" r="0.9" fill="#a6c4e0"/><circle cx="468.0" cy="594.4" r="0.9" fill="#a6c4e0"/><circle cx="492.1" cy="606.1" r="0.9" fill="#a6c4e0"/><circle cx="491.5" cy="600.9" r="0.9" fill="#a6c4e0"/><circle cx="491.8" cy="603.3" r="0.9" fill="#a6c4e0"/><circle cx="461.5" cy="640.6" r="0.9" fill="#a6c4e0"/><circle cx="455.7" cy="638.5" r="0.9" fill="#a6c4e0"/><circle cx="458.9" cy="635.0" r="0.9" fill="#a6c4e0"/><circle cx="520.8" cy="630.3" r="0.9" fill="#a6c4e0"/><circle cx="523.1" cy="633.9" r="0.9" fill="#a6c4e0"/><circle cx="526.8" cy="630.4" r="0.9" fill="#a6c4e0"/><circle cx="550.5" cy="568.2" r="0.9" fill="#a6c4e0"/><circle cx="552.6" cy="565.9" r="0.9" fill="#a6c4e0"/><circle cx="547.2" cy="570.1" r="0.9" fill="#a6c4e0"/><circle cx="569.2" cy="628.8" r="0.9" fill="#a6c4e0"/><circle cx="572.2" cy="625.4" r="0.9" fill="#a6c4e0"/><circle cx="573.9" cy="626.8" r="0.9" fill="#a6c4e0"/><circle cx="502.1" cy="589.0" r="0.9" fill="#a6c4e0"/><circle cx="495.0" cy="589.2" r="0.9" fill="#a6c4e0"/><circle cx="499.2" cy="584.9" r="0.9" fill="#a6c4e0"/><circle cx="555.9" cy="624.5" r="0.9" fill="#a6c4e0"/><circle cx="558.3" cy="626.8" r="0.9" fill="#a6c4e0"/><circle cx="555.5" cy="623.6" r="0.9" fill="#a6c4e0"/><circle cx="568.7" cy="669.7" r="0.9" fill="#a6c4e0"/><circle cx="563.9" cy="664.6" r="0.9" fill="#a6c4e0"/><circle cx="568.2" cy="671.0" r="0.9" fill="#a6c4e0"/><circle cx="545.9" cy="633.6" r="0.9" fill="#a6c4e0"/><circle cx="549.3" cy="630.3" r="0.9" fill="#a6c4e0"/><circle cx="547.0" cy="624.8" r="0.9" fill="#a6c4e0"/><circle cx="581.6" cy="605.8" r="0.9" fill="#a6c4e0"/><circle cx="579.9" cy="608.1" r="0.9" fill="#a6c4e0"/><circle cx="579.3" cy="607.6" r="0.9" fill="#a6c4e0"/><circle cx="504.3" cy="573.9" r="0.9" fill="#a6c4e0"/><circle cx="502.0" cy="580.8" r="0.9" fill="#a6c4e0"/><circle cx="506.2" cy="577.7" r="0.9" fill="#a6c4e0"/><circle cx="431.9" cy="615.0" r="0.9" fill="#a6c4e0"/><circle cx="429.3" cy="619.5" r="0.9" fill="#a6c4e0"/><circle cx="428.8" cy="616.1" r="0.9" fill="#a6c4e0"/><circle cx="461.8" cy="566.2" r="0.9" fill="#a6c4e0"/><circle cx="460.9" cy="566.7" r="0.9" fill="#a6c4e0"/><circle cx="465.9" cy="567.1" r="0.9" fill="#a6c4e0"/><circle cx="455.9" cy="576.0" r="0.9" fill="#a6c4e0"/><circle cx="456.8" cy="576.7" r="0.9" fill="#a6c4e0"/><circle cx="456.8" cy="577.4" r="0.9" fill="#a6c4e0"/><circle cx="570.8" cy="581.8" r="0.9" fill="#a6c4e0"/><circle cx="572.9" cy="586.2" r="0.9" fill="#a6c4e0"/><circle cx="572.7" cy="579.2" r="0.9" fill="#a6c4e0"/><circle cx="586.0" cy="617.3" r="0.9" fill="#a6c4e0"/><circle cx="581.6" cy="621.2" r="0.9" fill="#a6c4e0"/><circle cx="584.1" cy="624.4" r="0.9" fill="#a6c4e0"/><circle cx="492.5" cy="635.7" r="0.9" fill="#a6c4e0"/><circle cx="489.2" cy="639.7" r="0.9" fill="#a6c4e0"/><circle cx="490.3" cy="629.7" r="0.9" fill="#a6c4e0"/><circle cx="580.4" cy="597.1" r="0.9" fill="#a6c4e0"/><circle cx="580.3" cy="600.4" r="0.9" fill="#a6c4e0"/><circle cx="583.1" cy="598.3" r="0.9" fill="#a6c4e0"/><circle cx="520.7" cy="575.3" r="0.9" fill="#a6c4e0"/><circle cx="523.0" cy="578.9" r="0.9" fill="#a6c4e0"/><circle cx="526.6" cy="573.4" r="0.9" fill="#a6c4e0"/><circle cx="552.0" cy="566.9" r="0.9" fill="#a6c4e0"/><circle cx="551.9" cy="564.3" r="0.9" fill="#a6c4e0"/><circle cx="551.3" cy="567.5" r="0.9" fill="#a6c4e0"/><circle cx="510.9" cy="592.0" r="0.9" fill="#a6c4e0"/><circle cx="519.2" cy="598.4" r="0.9" fill="#a6c4e0"/><circle cx="514.6" cy="597.2" r="0.9" fill="#a6c4e0"/><circle cx="563.2" cy="647.9" r="0.9" fill="#a6c4e0"/><circle cx="567.2" cy="649.4" r="0.9" fill="#a6c4e0"/><circle cx="564.1" cy="647.0" r="0.9" fill="#a6c4e0"/><circle cx="448.1" cy="586.5" r="0.9" fill="#a6c4e0"/><circle cx="450.1" cy="586.0" r="0.9" fill="#a6c4e0"/><circle cx="453.2" cy="587.9" r="0.9" fill="#a6c4e0"/><circle cx="595.3" cy="628.4" r="0.9" fill="#a6c4e0"/><circle cx="591.7" cy="629.8" r="0.9" fill="#a6c4e0"/><circle cx="594.4" cy="626.2" r="0.9" fill="#a6c4e0"/><circle cx="472.1" cy="672.7" r="0.9" fill="#a6c4e0"/><circle cx="473.2" cy="669.0" r="0.9" fill="#a6c4e0"/><circle cx="473.9" cy="672.8" r="0.9" fill="#a6c4e0"/><circle cx="516.9" cy="621.3" r="0.9" fill="#a6c4e0"/><circle cx="515.2" cy="619.9" r="0.9" fill="#a6c4e0"/><circle cx="514.3" cy="617.4" r="0.9" fill="#a6c4e0"/><circle cx="482.2" cy="688.4" r="0.9" fill="#a6c4e0"/><circle cx="479.0" cy="690.6" r="0.9" fill="#a6c4e0"/><circle cx="482.2" cy="690.0" r="0.9" fill="#a6c4e0"/><circle cx="530.2" cy="630.9" r="0.9" fill="#a6c4e0"/><circle cx="527.9" cy="631.9" r="0.9" fill="#a6c4e0"/><circle cx="525.8" cy="627.0" r="0.9" fill="#a6c4e0"/><circle cx="585.1" cy="582.0" r="0.9" fill="#a6c4e0"/><circle cx="587.3" cy="582.4" r="0.9" fill="#a6c4e0"/><circle cx="583.8" cy="583.0" r="0.9" fill="#a6c4e0"/><circle cx="511.7" cy="672.4" r="0.9" fill="#a6c4e0"/><circle cx="512.0" cy="671.2" r="0.9" fill="#a6c4e0"/><circle cx="513.5" cy="670.0" r="0.9" fill="#a6c4e0"/><circle cx="494.0" cy="619.6" r="0.9" fill="#a6c4e0"/><circle cx="496.0" cy="617.0" r="0.9" fill="#a6c4e0"/><circle cx="498.2" cy="616.2" r="0.9" fill="#a6c4e0"/><circle cx="587.6" cy="660.9" r="0.9" fill="#a6c4e0"/><circle cx="590.3" cy="659.6" r="0.9" fill="#a6c4e0"/><circle cx="589.8" cy="658.1" r="0.9" fill="#a6c4e0"/><circle cx="497.8" cy="668.0" r="0.9" fill="#a6c4e0"/><circle cx="495.1" cy="670.8" r="0.9" fill="#a6c4e0"/><circle cx="491.0" cy="671.3" r="0.9" fill="#a6c4e0"/><circle cx="529.5" cy="617.9" r="0.9" fill="#a6c4e0"/><circle cx="532.3" cy="614.4" r="0.9" fill="#a6c4e0"/><circle cx="532.4" cy="616.6" r="0.9" fill="#a6c4e0"/><circle cx="461.0" cy="647.5" r="0.9" fill="#a6c4e0"/><circle cx="463.4" cy="650.6" r="0.9" fill="#a6c4e0"/><circle cx="461.5" cy="649.4" r="0.9" fill="#a6c4e0"/><circle cx="495.2" cy="634.7" r="0.9" fill="#a6c4e0"/><circle cx="496.1" cy="629.9" r="0.9" fill="#a6c4e0"/><circle cx="495.1" cy="635.7" r="0.9" fill="#a6c4e0"/><circle cx="483.8" cy="601.9" r="0.9" fill="#a6c4e0"/><circle cx="489.4" cy="604.3" r="0.9" fill="#a6c4e0"/><circle cx="486.8" cy="602.9" r="0.9" fill="#a6c4e0"/><circle cx="471.9" cy="559.2" r="0.9" fill="#a6c4e0"/><circle cx="470.2" cy="555.7" r="0.9" fill="#a6c4e0"/><circle cx="475.3" cy="559.7" r="0.9" fill="#a6c4e0"/><circle cx="531.3" cy="671.8" r="0.9" fill="#a6c4e0"/><circle cx="529.1" cy="673.6" r="0.9" fill="#a6c4e0"/><circle cx="532.2" cy="678.4" r="0.9" fill="#a6c4e0"/><circle cx="557.2" cy="670.7" r="0.9" fill="#a6c4e0"/><circle cx="555.3" cy="671.3" r="0.9" fill="#a6c4e0"/><circle cx="556.6" cy="672.4" r="0.9" fill="#a6c4e0"/><circle cx="463.1" cy="548.2" r="0.9" fill="#a6c4e0"/><circle cx="464.0" cy="547.2" r="0.9" fill="#a6c4e0"/><circle cx="464.9" cy="553.8" r="0.9" fill="#a6c4e0"/><circle cx="522.2" cy="655.3" r="0.9" fill="#a6c4e0"/><circle cx="520.4" cy="661.0" r="0.9" fill="#a6c4e0"/><circle cx="522.0" cy="655.3" r="0.9" fill="#a6c4e0"/><circle cx="586.6" cy="604.2" r="0.9" fill="#a6c4e0"/><circle cx="588.8" cy="598.5" r="0.9" fill="#a6c4e0"/><circle cx="584.2" cy="596.4" r="0.9" fill="#a6c4e0"/><circle cx="502.0" cy="663.1" r="0.9" fill="#a6c4e0"/><circle cx="494.8" cy="668.8" r="0.9" fill="#a6c4e0"/><circle cx="500.6" cy="672.3" r="0.9" fill="#a6c4e0"/><circle cx="578.8" cy="659.6" r="0.9" fill="#a6c4e0"/><circle cx="581.8" cy="664.2" r="0.9" fill="#a6c4e0"/><circle cx="577.5" cy="655.4" r="0.9" fill="#a6c4e0"/><circle cx="487.3" cy="657.8" r="0.9" fill="#a6c4e0"/><circle cx="483.7" cy="657.4" r="0.9" fill="#a6c4e0"/><circle cx="486.8" cy="657.9" r="0.9" fill="#a6c4e0"/><circle cx="499.8" cy="627.5" r="0.9" fill="#a6c4e0"/><circle cx="493.5" cy="626.4" r="0.9" fill="#a6c4e0"/><circle cx="492.0" cy="625.3" r="0.9" fill="#a6c4e0"/><circle cx="582.5" cy="649.5" r="0.9" fill="#a6c4e0"/><circle cx="582.1" cy="646.7" r="0.9" fill="#a6c4e0"/><circle cx="584.5" cy="649.1" r="0.9" fill="#a6c4e0"/><circle cx="526.8" cy="596.2" r="0.9" fill="#a6c4e0"/><circle cx="534.1" cy="590.2" r="0.9" fill="#a6c4e0"/><circle cx="525.7" cy="588.8" r="0.9" fill="#a6c4e0"/><circle cx="533.5" cy="670.1" r="0.9" fill="#a6c4e0"/><circle cx="535.3" cy="668.3" r="0.9" fill="#a6c4e0"/><circle cx="538.7" cy="666.5" r="0.9" fill="#a6c4e0"/><circle cx="601.9" cy="635.0" r="0.9" fill="#a6c4e0"/><circle cx="599.0" cy="636.3" r="0.9" fill="#a6c4e0"/><circle cx="600.6" cy="633.7" r="0.9" fill="#a6c4e0"/><circle cx="583.0" cy="646.7" r="0.9" fill="#a6c4e0"/><circle cx="586.4" cy="644.3" r="0.9" fill="#a6c4e0"/><circle cx="581.9" cy="648.8" r="0.9" fill="#a6c4e0"/><circle cx="589.0" cy="580.2" r="0.9" fill="#a6c4e0"/><circle cx="587.0" cy="579.4" r="0.9" fill="#a6c4e0"/><circle cx="581.7" cy="578.8" r="0.9" fill="#a6c4e0"/><circle cx="466.9" cy="641.7" r="0.9" fill="#a6c4e0"/><circle cx="463.2" cy="640.7" r="0.9" fill="#a6c4e0"/><circle cx="470.0" cy="636.4" r="0.9" fill="#a6c4e0"/><circle cx="458.7" cy="635.2" r="0.9" fill="#a6c4e0"/><circle cx="458.9" cy="636.3" r="0.9" fill="#a6c4e0"/><circle cx="452.4" cy="637.9" r="0.9" fill="#a6c4e0"/><circle cx="552.4" cy="582.4" r="0.9" fill="#a6c4e0"/><circle cx="551.9" cy="582.7" r="0.9" fill="#a6c4e0"/><circle cx="551.2" cy="587.7" r="0.9" fill="#a6c4e0"/><circle cx="570.5" cy="602.5" r="0.9" fill="#a6c4e0"/><circle cx="569.0" cy="597.6" r="0.9" fill="#a6c4e0"/><circle cx="567.8" cy="600.1" r="0.9" fill="#a6c4e0"/><circle cx="456.4" cy="616.0" r="0.9" fill="#a6c4e0"/><circle cx="461.6" cy="618.9" r="0.9" fill="#a6c4e0"/><circle cx="461.6" cy="617.7" r="0.9" fill="#a6c4e0"/><circle cx="495.3" cy="643.5" r="0.9" fill="#a6c4e0"/><circle cx="496.6" cy="636.2" r="0.9" fill="#a6c4e0"/><circle cx="494.0" cy="643.8" r="0.9" fill="#a6c4e0"/><circle cx="531.0" cy="587.3" r="0.9" fill="#a6c4e0"/><circle cx="536.1" cy="587.2" r="0.9" fill="#a6c4e0"/><circle cx="537.4" cy="590.7" r="0.9" fill="#a6c4e0"/><circle cx="537.3" cy="614.9" r="0.9" fill="#a6c4e0"/><circle cx="537.8" cy="617.1" r="0.9" fill="#a6c4e0"/><circle cx="539.6" cy="614.3" r="0.9" fill="#a6c4e0"/><circle cx="544.7" cy="666.2" r="0.9" fill="#a6c4e0"/><circle cx="542.7" cy="667.5" r="0.9" fill="#a6c4e0"/><circle cx="545.3" cy="666.0" r="0.9" fill="#a6c4e0"/><circle cx="575.7" cy="620.6" r="0.9" fill="#a6c4e0"/><circle cx="570.4" cy="621.6" r="0.9" fill="#a6c4e0"/><circle cx="570.1" cy="620.9" r="0.9" fill="#a6c4e0"/><circle cx="501.0" cy="611.5" r="0.9" fill="#a6c4e0"/><circle cx="498.8" cy="609.4" r="0.9" fill="#a6c4e0"/><circle cx="500.3" cy="611.5" r="0.9" fill="#a6c4e0"/><circle cx="603.5" cy="630.7" r="0.9" fill="#a6c4e0"/><circle cx="603.3" cy="633.1" r="0.9" fill="#a6c4e0"/><circle cx="603.1" cy="630.0" r="0.9" fill="#a6c4e0"/><circle cx="566.0" cy="647.9" r="0.9" fill="#a6c4e0"/><circle cx="567.0" cy="646.4" r="0.9" fill="#a6c4e0"/><circle cx="563.7" cy="643.9" r="0.9" fill="#a6c4e0"/><circle cx="481.9" cy="647.6" r="0.9" fill="#a6c4e0"/><circle cx="482.3" cy="646.2" r="0.9" fill="#a6c4e0"/><circle cx="479.2" cy="645.7" r="0.9" fill="#a6c4e0"/><circle cx="442.9" cy="613.5" r="0.9" fill="#a6c4e0"/><circle cx="446.1" cy="610.1" r="0.9" fill="#a6c4e0"/><circle cx="440.5" cy="610.9" r="0.9" fill="#a6c4e0"/><circle cx="559.0" cy="632.6" r="0.9" fill="#a6c4e0"/><circle cx="561.5" cy="630.4" r="0.9" fill="#a6c4e0"/><circle cx="561.5" cy="630.2" r="0.9" fill="#a6c4e0"/><circle cx="480.5" cy="600.5" r="0.9" fill="#a6c4e0"/><circle cx="483.5" cy="599.2" r="0.9" fill="#a6c4e0"/><circle cx="478.4" cy="601.7" r="0.9" fill="#a6c4e0"/><circle cx="591.7" cy="603.3" r="0.9" fill="#a6c4e0"/><circle cx="595.7" cy="605.0" r="0.9" fill="#a6c4e0"/><circle cx="591.4" cy="609.2" r="0.9" fill="#a6c4e0"/><circle cx="461.6" cy="679.4" r="0.9" fill="#a6c4e0"/><circle cx="460.2" cy="678.4" r="0.9" fill="#a6c4e0"/><circle cx="464.5" cy="682.7" r="0.9" fill="#a6c4e0"/><circle cx="479.1" cy="584.7" r="0.9" fill="#a6c4e0"/><circle cx="481.1" cy="589.5" r="0.9" fill="#a6c4e0"/><circle cx="482.7" cy="585.0" r="0.9" fill="#a6c4e0"/><circle cx="502.9" cy="594.9" r="0.9" fill="#a6c4e0"/><circle cx="500.2" cy="592.4" r="0.9" fill="#a6c4e0"/><circle cx="499.2" cy="593.0" r="0.9" fill="#a6c4e0"/><circle cx="460.8" cy="579.5" r="0.9" fill="#a6c4e0"/><circle cx="457.4" cy="579.8" r="0.9" fill="#a6c4e0"/><circle cx="464.3" cy="578.6" r="0.9" fill="#a6c4e0"/><circle cx="589.0" cy="592.4" r="0.9" fill="#a6c4e0"/><circle cx="586.4" cy="590.5" r="0.9" fill="#a6c4e0"/><circle cx="590.3" cy="594.4" r="0.9" fill="#a6c4e0"/><circle cx="479.7" cy="672.7" r="0.9" fill="#a6c4e0"/><circle cx="481.7" cy="667.4" r="0.9" fill="#a6c4e0"/><circle cx="480.7" cy="670.2" r="0.9" fill="#a6c4e0"/><circle cx="451.8" cy="569.6" r="0.9" fill="#a6c4e0"/><circle cx="456.5" cy="566.5" r="0.9" fill="#a6c4e0"/><circle cx="459.2" cy="566.9" r="0.9" fill="#a6c4e0"/><circle cx="577.6" cy="596.5" r="0.9" fill="#a6c4e0"/><circle cx="579.0" cy="597.3" r="0.9" fill="#a6c4e0"/><circle cx="579.5" cy="598.5" r="0.9" fill="#a6c4e0"/><circle cx="593.7" cy="644.8" r="0.9" fill="#a6c4e0"/><circle cx="596.7" cy="643.7" r="0.9" fill="#a6c4e0"/><circle cx="599.6" cy="643.3" r="0.9" fill="#a6c4e0"/><circle cx="554.1" cy="576.2" r="0.9" fill="#a6c4e0"/><circle cx="554.4" cy="577.5" r="0.9" fill="#a6c4e0"/><circle cx="554.0" cy="575.5" r="0.9" fill="#a6c4e0"/><circle cx="511.2" cy="632.5" r="0.9" fill="#a6c4e0"/><circle cx="509.5" cy="630.2" r="0.9" fill="#a6c4e0"/><circle cx="505.7" cy="628.4" r="0.9" fill="#a6c4e0"/><circle cx="472.9" cy="574.0" r="0.9" fill="#a6c4e0"/><circle cx="476.4" cy="569.9" r="0.9" fill="#a6c4e0"/><circle cx="473.3" cy="572.1" r="0.9" fill="#a6c4e0"/><circle cx="572.8" cy="565.0" r="0.9" fill="#a6c4e0"/><circle cx="569.9" cy="570.0" r="0.9" fill="#a6c4e0"/><circle cx="567.4" cy="568.9" r="0.9" fill="#a6c4e0"/></g>
<circle cx="559.7" cy="649.2" r="0.9" fill="#ffffff"/><circle cx="502.9" cy="639.1" r="0.9" fill="#c83a2a"/><circle cx="546.0" cy="564.0" r="0.9" fill="#c83a2a"/><circle cx="540.1" cy="672.6" r="0.9" fill="#ffffff"/><circle cx="528.1" cy="647.1" r="0.9" fill="#c83a2a"/><circle cx="492.7" cy="612.8" r="0.9" fill="#c83a2a"/><circle cx="492.4" cy="691.8" r="0.9" fill="#ffffff"/><circle cx="554.2" cy="640.3" r="0.9" fill="#c83a2a"/><circle cx="465.9" cy="617.5" r="0.9" fill="#c83a2a"/><circle cx="453.5" cy="592.5" r="0.9" fill="#ffffff"/><circle cx="520.5" cy="608.4" r="0.9" fill="#c83a2a"/><circle cx="476.1" cy="665.8" r="0.9" fill="#c83a2a"/><circle cx="501.8" cy="648.4" r="0.9" fill="#ffffff"/><circle cx="509.4" cy="609.9" r="0.9" fill="#c83a2a"/><circle cx="540.1" cy="604.0" r="0.9" fill="#c83a2a"/><circle cx="522.7" cy="595.5" r="0.9" fill="#ffffff"/><circle cx="525.4" cy="598.4" r="0.9" fill="#c83a2a"/><circle cx="498.1" cy="680.5" r="0.9" fill="#c83a2a"/><circle cx="566.3" cy="586.1" r="0.9" fill="#ffffff"/><circle cx="457.5" cy="551.3" r="0.9" fill="#c83a2a"/><circle cx="527.8" cy="646.4" r="0.9" fill="#c83a2a"/><circle cx="471.7" cy="633.7" r="0.9" fill="#ffffff"/><circle cx="457.0" cy="709.4" r="0.9" fill="#c83a2a"/><circle cx="468.3" cy="528.3" r="0.9" fill="#c83a2a"/><circle cx="565.8" cy="629.3" r="0.9" fill="#ffffff"/><circle cx="532.9" cy="644.7" r="0.9" fill="#c83a2a"/><circle cx="580.2" cy="599.2" r="0.9" fill="#c83a2a"/><circle cx="498.5" cy="653.2" r="0.9" fill="#ffffff"/><circle cx="575.3" cy="577.6" r="0.9" fill="#c83a2a"/><circle cx="476.4" cy="560.2" r="0.9" fill="#c83a2a"/><circle cx="551.7" cy="583.1" r="0.9" fill="#ffffff"/><circle cx="441.2" cy="625.3" r="0.9" fill="#c83a2a"/><circle cx="574.0" cy="613.3" r="0.9" fill="#c83a2a"/><circle cx="506.7" cy="621.9" r="0.9" fill="#ffffff"/><circle cx="586.0" cy="580.2" r="0.9" fill="#c83a2a"/><circle cx="447.4" cy="567.6" r="0.9" fill="#c83a2a"/><circle cx="589.4" cy="642.8" r="0.9" fill="#ffffff"/><circle cx="472.9" cy="622.8" r="0.9" fill="#c83a2a"/><circle cx="466.2" cy="548.8" r="0.9" fill="#c83a2a"/><circle cx="445.7" cy="579.9" r="0.9" fill="#ffffff"/><circle cx="460.4" cy="645.1" r="0.9" fill="#c83a2a"/><circle cx="511.1" cy="624.7" r="0.9" fill="#c83a2a"/><circle cx="550.2" cy="665.4" r="0.9" fill="#ffffff"/><circle cx="528.2" cy="611.7" r="0.9" fill="#c83a2a"/><circle cx="593.8" cy="641.2" r="0.9" fill="#c83a2a"/><circle cx="530.9" cy="607.3" r="0.9" fill="#ffffff"/><circle cx="553.6" cy="663.8" r="0.9" fill="#c83a2a"/><circle cx="544.7" cy="573.1" r="0.9" fill="#c83a2a"/><circle cx="603.7" cy="612.4" r="0.9" fill="#ffffff"/><circle cx="461.6" cy="591.1" r="0.9" fill="#c83a2a"/><circle cx="508.1" cy="666.0" r="0.9" fill="#c83a2a"/><circle cx="526.0" cy="588.0" r="0.9" fill="#ffffff"/><circle cx="533.4" cy="580.5" r="0.9" fill="#c83a2a"/><circle cx="566.3" cy="578.4" r="0.9" fill="#c83a2a"/><circle cx="454.1" cy="606.6" r="0.9" fill="#ffffff"/><circle cx="533.1" cy="597.4" r="0.9" fill="#c83a2a"/><circle cx="537.5" cy="589.5" r="0.9" fill="#c83a2a"/><circle cx="572.0" cy="656.1" r="0.9" fill="#ffffff"/><circle cx="487.9" cy="644.2" r="0.9" fill="#c83a2a"/><circle cx="538.1" cy="578.5" r="0.9" fill="#c83a2a"/><circle cx="484.0" cy="681.2" r="0.9" fill="#ffffff"/><circle cx="520.6" cy="646.3" r="0.9" fill="#c83a2a"/><circle cx="483.3" cy="547.5" r="0.9" fill="#c83a2a"/><circle cx="472.9" cy="673.7" r="0.9" fill="#ffffff"/><circle cx="579.0" cy="604.5" r="0.9" fill="#c83a2a"/><circle cx="457.3" cy="612.0" r="0.9" fill="#c83a2a"/><circle cx="498.4" cy="635.7" r="0.9" fill="#ffffff"/><circle cx="483.6" cy="662.2" r="0.9" fill="#c83a2a"/><circle cx="579.5" cy="572.8" r="0.9" fill="#c83a2a"/><circle cx="463.7" cy="709.8" r="0.9" fill="#ffffff"/><circle cx="458.6" cy="573.4" r="0.9" fill="#c83a2a"/><circle cx="589.9" cy="639.7" r="0.9" fill="#c83a2a"/><circle cx="525.7" cy="633.0" r="0.9" fill="#ffffff"/><circle cx="537.4" cy="656.0" r="0.9" fill="#c83a2a"/><circle cx="501.3" cy="629.8" r="0.9" fill="#c83a2a"/><circle cx="469.7" cy="618.6" r="0.9" fill="#ffffff"/><circle cx="483.1" cy="653.1" r="0.9" fill="#c83a2a"/><circle cx="439.3" cy="626.8" r="0.9" fill="#c83a2a"/><circle cx="586.4" cy="643.1" r="0.9" fill="#ffffff"/><circle cx="521.0" cy="634.7" r="0.9" fill="#c83a2a"/><circle cx="552.2" cy="567.8" r="0.9" fill="#c83a2a"/><circle cx="583.8" cy="592.3" r="0.9" fill="#ffffff"/><circle cx="547.1" cy="670.8" r="0.9" fill="#c83a2a"/><circle cx="564.9" cy="635.4" r="0.9" fill="#c83a2a"/><circle cx="449.5" cy="565.4" r="0.9" fill="#ffffff"/><circle cx="583.6" cy="603.7" r="0.9" fill="#c83a2a"/><circle cx="448.3" cy="596.4" r="0.9" fill="#c83a2a"/><circle cx="582.6" cy="653.4" r="0.9" fill="#ffffff"/><circle cx="452.8" cy="576.8" r="0.9" fill="#c83a2a"/><circle cx="565.5" cy="627.9" r="0.9" fill="#c83a2a"/>
<rect x="919.6" y="478.1" width="101.50" height="40.50" fill="#23478a"/>
<rect x="1021.10" y="478.1" width="101.50" height="40.50" fill="#3e6ba7"/>
<text x="1021.10" y="472.2" font-size="14.5" fill="#2f5a9a" text-anchor="middle" textLength="80" lengthAdjust="spacingAndGlyphs" stroke="#2f5a9a" stroke-width="0.3" >PCBM:FIBA</text>
<text x="970.35" y="494" font-size="14.8" fill="#fff" text-anchor="middle" textLength="58" lengthAdjust="spacingAndGlyphs" stroke="#fff" stroke-width="0.3" >Left half</text>
<text x="970.35" y="512.4" font-size="14.8" fill="#fff" text-anchor="middle" textLength="75" lengthAdjust="spacingAndGlyphs" stroke="#fff" stroke-width="0.3" >(defected)</text>
<text x="1071.85" y="494" font-size="14.8" fill="#fff" text-anchor="middle" textLength="68" lengthAdjust="spacingAndGlyphs" stroke="#fff" stroke-width="0.3" >Right half</text>
<text x="1071.85" y="512.4" font-size="14.8" fill="#fff" text-anchor="middle" textLength="62" lengthAdjust="spacingAndGlyphs" stroke="#fff" stroke-width="0.3" >(perfect)</text>
<path d="M924.35,533.00 L930.00,527.22 L935.65,533.00 L941.30,527.22 L946.95,533.00 L952.60,527.22 L958.25,533.00 L963.90,527.22 L969.55,533.00 L975.20,527.22 L980.85,533.00 L986.50,527.22 L992.15,533.00 L997.80,527.22 L1003.45,533.00 L1009.10,527.22 L1014.75,533.00 L1020.40,527.22 L1026.05,533.00 L1031.70,527.22 L1037.35,533.00 L1043.00,527.22 L1048.65,533.00 L1054.30,527.22 L1059.95,533.00 L1065.60,527.22 L1071.25,533.00 L1076.90,527.22 L1082.55,533.00 L1088.20,527.22 L1093.85,533.00 L1099.50,527.22 L1105.15,533.00 L1110.80,527.22 L1116.45,533.00 L1110.80,538.79 L1116.45,544.57 L1110.80,550.36 L1116.45,556.14 L1110.80,561.93 L1116.45,567.71 L1110.80,573.50 L1116.45,579.28 L1110.80,585.07 L1116.45,590.85 L1110.80,596.63 L1116.45,602.42 L1110.80,608.21 L1116.45,613.99 L1110.80,619.77 L1116.45,625.56 L1110.80,631.35 L1116.45,637.13 L1110.80,642.92 L1116.45,648.70 L1110.80,654.49 L1116.45,660.27 L1110.80,666.06 L1116.45,671.84 L1110.80,677.62 L1116.45,683.41 L1110.80,689.20 L1116.45,694.98 L1110.80,700.76 L1116.45,706.55 L1110.80,712.34 L1116.45,718.12 L1110.80,723.90 L1105.15,718.12 L1099.50,723.90 L1093.85,718.12 L1088.20,723.90 L1082.55,718.12 L1076.90,723.90 L1071.25,718.12 L1065.60,723.90 L1059.95,718.12 L1054.30,723.90 L1048.65,718.12 L1043.00,723.90 L1037.35,718.12 L1031.70,723.90 L1026.05,718.12 L1020.40,723.90 L1014.75,718.12 L1009.10,723.90 L1003.45,718.12 L997.80,723.90 L992.15,718.12 L986.50,723.90 L980.85,718.12 L975.20,723.90 L969.55,718.12 L963.90,723.90 L958.25,718.12 L952.60,723.90 L946.95,718.12 L941.30,723.90 L935.65,718.12 L930.00,723.90 L924.35,718.12 L930.00,712.33 L924.35,706.55 L930.00,700.76 L924.35,694.98 L930.00,689.19 L924.35,683.41 L930.00,677.62 L924.35,671.84 L930.00,666.05 L924.35,660.27 L930.00,654.49 L924.35,648.70 L930.00,642.91 L924.35,637.13 L930.00,631.34 L924.35,625.56 L930.00,619.77 L924.35,613.99 L930.00,608.20 L924.35,602.42 L930.00,596.63 L924.35,590.85 L930.00,585.06 L924.35,579.28 L930.00,573.50 L924.35,567.71 L930.00,561.92 L924.35,556.14 L930.00,550.36 L924.35,544.57 L930.00,538.78 L924.35,533.00Z" fill="url(#latE)"/>
<g filter="url(#tex)"><circle cx="1039.8" cy="609.5" r="7.8" fill="#c6b36a" fill-opacity="0.93" stroke="#8f7e3e" stroke-width="0.5"/><circle cx="1009.8" cy="564.9" r="7.6" fill="#c6b36a" fill-opacity="0.93" stroke="#8f7e3e" stroke-width="0.5"/><circle cx="1063.7" cy="609.0" r="7.7" fill="#c6b36a" fill-opacity="0.93" stroke="#8f7e3e" stroke-width="0.5"/><circle cx="1068.6" cy="595.3" r="6.9" fill="#c6b36a" fill-opacity="0.93" stroke="#8f7e3e" stroke-width="0.5"/><circle cx="1078.6" cy="645.9" r="8.0" fill="#c6b36a" fill-opacity="0.93" stroke="#8f7e3e" stroke-width="0.5"/><circle cx="993.2" cy="683.5" r="7.5" fill="#c6b36a" fill-opacity="0.93" stroke="#8f7e3e" stroke-width="0.5"/><circle cx="1035.7" cy="661.6" r="7.4" fill="#c6b36a" fill-opacity="0.93" stroke="#8f7e3e" stroke-width="0.5"/><circle cx="937.0" cy="620.6" r="8.1" fill="#c6b36a" fill-opacity="0.93" stroke="#8f7e3e" stroke-width="0.5"/><circle cx="1039.5" cy="614.7" r="8.0" fill="#c6b36a" fill-opacity="0.93" stroke="#8f7e3e" stroke-width="0.5"/><circle cx="985.3" cy="695.8" r="7.2" fill="#c6b36a" fill-opacity="0.93" stroke="#8f7e3e" stroke-width="0.5"/><circle cx="986.8" cy="597.6" r="7.3" fill="#c6b36a" fill-opacity="0.93" stroke="#8f7e3e" stroke-width="0.5"/><circle cx="981.5" cy="687.4" r="7.8" fill="#c6b36a" fill-opacity="0.93" stroke="#8f7e3e" stroke-width="0.5"/><circle cx="1078.7" cy="671.9" r="8.3" fill="#c6b36a" fill-opacity="0.93" stroke="#8f7e3e" stroke-width="0.5"/><circle cx="967.9" cy="636.3" r="8.5" fill="#c6b36a" fill-opacity="0.93" stroke="#8f7e3e" stroke-width="0.5"/><circle cx="1071.6" cy="592.5" r="8.6" fill="#c6b36a" fill-opacity="0.93" stroke="#8f7e3e" stroke-width="0.5"/><circle cx="996.1" cy="558.8" r="6.9" fill="#c6b36a" fill-opacity="0.93" stroke="#8f7e3e" stroke-width="0.5"/><circle cx="1014.2" cy="559.6" r="8.5" fill="#c6b36a" fill-opacity="0.93" stroke="#8f7e3e" stroke-width="0.5"/><circle cx="940.6" cy="632.7" r="7.1" fill="#c6b36a" fill-opacity="0.93" stroke="#8f7e3e" stroke-width="0.5"/><circle cx="1030.0" cy="695.1" r="7.3" fill="#c6b36a" fill-opacity="0.93" stroke="#8f7e3e" stroke-width="0.5"/><circle cx="1009.9" cy="591.7" r="8.4" fill="#c6b36a" fill-opacity="0.93" stroke="#8f7e3e" stroke-width="0.5"/><circle cx="1059.2" cy="607.1" r="8.0" fill="#c6b36a" fill-opacity="0.93" stroke="#8f7e3e" stroke-width="0.5"/><circle cx="1088.1" cy="657.0" r="7.2" fill="#c6b36a" fill-opacity="0.93" stroke="#8f7e3e" stroke-width="0.5"/><circle cx="979.5" cy="606.4" r="8.2" fill="#c6b36a" fill-opacity="0.93" stroke="#8f7e3e" stroke-width="0.5"/><circle cx="1032.7" cy="637.3" r="8.3" fill="#c6b36a" fill-opacity="0.93" stroke="#8f7e3e" stroke-width="0.5"/><circle cx="941.6" cy="655.2" r="7.4" fill="#c6b36a" fill-opacity="0.93" stroke="#8f7e3e" stroke-width="0.5"/><circle cx="935.6" cy="639.9" r="7.8" fill="#c6b36a" fill-opacity="0.93" stroke="#8f7e3e" stroke-width="0.5"/><circle cx="967.3" cy="639.7" r="7.6" fill="#c6b36a" fill-opacity="0.93" stroke="#8f7e3e" stroke-width="0.5"/><circle cx="1010.9" cy="674.3" r="6.8" fill="#c6b36a" fill-opacity="0.93" stroke="#8f7e3e" stroke-width="0.5"/><circle cx="996.2" cy="689.1" r="7.1" fill="#c6b36a" fill-opacity="0.93" stroke="#8f7e3e" stroke-width="0.5"/><circle cx="1010.8" cy="609.3" r="6.9" fill="#c6b36a" fill-opacity="0.93" stroke="#8f7e3e" stroke-width="0.5"/><circle cx="1061.6" cy="621.9" r="8.0" fill="#c6b36a" fill-opacity="0.93" stroke="#8f7e3e" stroke-width="0.5"/><circle cx="1029.0" cy="638.6" r="7.7" fill="#c6b36a" fill-opacity="0.93" stroke="#8f7e3e" stroke-width="0.5"/><circle cx="1094.9" cy="625.8" r="8.2" fill="#c6b36a" fill-opacity="0.93" stroke="#8f7e3e" stroke-width="0.5"/><circle cx="1056.3" cy="649.4" r="7.3" fill="#c6b36a" fill-opacity="0.93" stroke="#8f7e3e" stroke-width="0.5"/><circle cx="984.5" cy="593.2" r="7.3" fill="#c6b36a" fill-opacity="0.93" stroke="#8f7e3e" stroke-width="0.5"/><circle cx="998.3" cy="608.6" r="8.3" fill="#c6b36a" fill-opacity="0.93" stroke="#8f7e3e" stroke-width="0.5"/><circle cx="1016.6" cy="638.1" r="7.3" fill="#c6b36a" fill-opacity="0.93" stroke="#8f7e3e" stroke-width="0.5"/><circle cx="963.7" cy="574.4" r="8.3" fill="#c6b36a" fill-opacity="0.93" stroke="#8f7e3e" stroke-width="0.5"/><circle cx="1034.5" cy="613.6" r="8.3" fill="#c6b36a" fill-opacity="0.93" stroke="#8f7e3e" stroke-width="0.5"/><circle cx="1083.5" cy="576.9" r="7.5" fill="#c6b36a" fill-opacity="0.93" stroke="#8f7e3e" stroke-width="0.5"/><circle cx="999.9" cy="665.8" r="7.3" fill="#c6b36a" fill-opacity="0.93" stroke="#8f7e3e" stroke-width="0.5"/><circle cx="1068.2" cy="619.5" r="8.1" fill="#c6b36a" fill-opacity="0.93" stroke="#8f7e3e" stroke-width="0.5"/><circle cx="1035.3" cy="685.9" r="8.3" fill="#c6b36a" fill-opacity="0.93" stroke="#8f7e3e" stroke-width="0.5"/><circle cx="1042.0" cy="646.4" r="7.4" fill="#c6b36a" fill-opacity="0.93" stroke="#8f7e3e" stroke-width="0.5"/><circle cx="1006.2" cy="586.0" r="7.9" fill="#c6b36a" fill-opacity="0.93" stroke="#8f7e3e" stroke-width="0.5"/><circle cx="1008.1" cy="595.9" r="8.0" fill="#c6b36a" fill-opacity="0.93" stroke="#8f7e3e" stroke-width="0.5"/><circle cx="945.8" cy="599.9" r="8.2" fill="#c6b36a" fill-opacity="0.93" stroke="#8f7e3e" stroke-width="0.5"/><circle cx="999.8" cy="675.6" r="8.2" fill="#c6b36a" fill-opacity="0.93" stroke="#8f7e3e" stroke-width="0.5"/><circle cx="1028.2" cy="562.6" r="7.5" fill="#c6b36a" fill-opacity="0.93" stroke="#8f7e3e" stroke-width="0.5"/><circle cx="1006.4" cy="697.3" r="7.9" fill="#c6b36a" fill-opacity="0.93" stroke="#8f7e3e" stroke-width="0.5"/><circle cx="1003.7" cy="570.4" r="7.4" fill="#c6b36a" fill-opacity="0.93" stroke="#8f7e3e" stroke-width="0.5"/><circle cx="1055.8" cy="614.3" r="7.1" fill="#c6b36a" fill-opacity="0.93" stroke="#8f7e3e" stroke-width="0.5"/><circle cx="1086.4" cy="642.9" r="8.5" fill="#c6b36a" fill-opacity="0.93" stroke="#8f7e3e" stroke-width="0.5"/><circle cx="1028.5" cy="653.4" r="7.6" fill="#c6b36a" fill-opacity="0.93" stroke="#8f7e3e" stroke-width="0.5"/><circle cx="1090.2" cy="602.4" r="7.5" fill="#c6b36a" fill-opacity="0.93" stroke="#8f7e3e" stroke-width="0.5"/><circle cx="1069.9" cy="672.2" r="8.0" fill="#c6b36a" fill-opacity="0.93" stroke="#8f7e3e" stroke-width="0.5"/><circle cx="1039.0" cy="629.5" r="7.8" fill="#c6b36a" fill-opacity="0.93" stroke="#8f7e3e" stroke-width="0.5"/><circle cx="1049.8" cy="584.4" r="7.9" fill="#c6b36a" fill-opacity="0.93" stroke="#8f7e3e" stroke-width="0.5"/><circle cx="1071.9" cy="649.7" r="7.8" fill="#c6b36a" fill-opacity="0.93" stroke="#8f7e3e" stroke-width="0.5"/><circle cx="959.7" cy="592.7" r="8.6" fill="#c6b36a" fill-opacity="0.93" stroke="#8f7e3e" stroke-width="0.5"/><circle cx="974.1" cy="578.9" r="7.7" fill="#c6b36a" fill-opacity="0.93" stroke="#8f7e3e" stroke-width="0.5"/><circle cx="1030.4" cy="690.3" r="7.3" fill="#c6b36a" fill-opacity="0.93" stroke="#8f7e3e" stroke-width="0.5"/><circle cx="1080.0" cy="641.6" r="8.4" fill="#c6b36a" fill-opacity="0.93" stroke="#8f7e3e" stroke-width="0.5"/><circle cx="950.7" cy="667.9" r="8.5" fill="#c6b36a" fill-opacity="0.93" stroke="#8f7e3e" stroke-width="0.5"/><circle cx="1081.1" cy="674.7" r="8.5" fill="#c6b36a" fill-opacity="0.93" stroke="#8f7e3e" stroke-width="0.5"/><circle cx="1047.9" cy="628.9" r="7.3" fill="#c6b36a" fill-opacity="0.93" stroke="#8f7e3e" stroke-width="0.5"/><circle cx="959.7" cy="678.0" r="8.1" fill="#c6b36a" fill-opacity="0.93" stroke="#8f7e3e" stroke-width="0.5"/><circle cx="1073.7" cy="641.5" r="7.8" fill="#c6b36a" fill-opacity="0.93" stroke="#8f7e3e" stroke-width="0.5"/><circle cx="1081.6" cy="656.3" r="7.1" fill="#c6b36a" fill-opacity="0.93" stroke="#8f7e3e" stroke-width="0.5"/><circle cx="1081.4" cy="594.2" r="7.9" fill="#c6b36a" fill-opacity="0.93" stroke="#8f7e3e" stroke-width="0.5"/><circle cx="1055.7" cy="650.9" r="8.3" fill="#c6b36a" fill-opacity="0.93" stroke="#8f7e3e" stroke-width="0.5"/><circle cx="961.8" cy="693.2" r="8.2" fill="#c6b36a" fill-opacity="0.93" stroke="#8f7e3e" stroke-width="0.5"/><circle cx="1044.2" cy="610.4" r="7.7" fill="#c6b36a" fill-opacity="0.93" stroke="#8f7e3e" stroke-width="0.5"/><circle cx="1083.9" cy="631.2" r="7.8" fill="#c6b36a" fill-opacity="0.93" stroke="#8f7e3e" stroke-width="0.5"/><circle cx="973.6" cy="648.3" r="8.3" fill="#c6b36a" fill-opacity="0.93" stroke="#8f7e3e" stroke-width="0.5"/><circle cx="1022.8" cy="595.0" r="7.2" fill="#c6b36a" fill-opacity="0.93" stroke="#8f7e3e" stroke-width="0.5"/><circle cx="969.9" cy="597.6" r="8.4" fill="#c6b36a" fill-opacity="0.93" stroke="#8f7e3e" stroke-width="0.5"/><circle cx="1031.3" cy="570.7" r="6.9" fill="#c6b36a" fill-opacity="0.93" stroke="#8f7e3e" stroke-width="0.5"/><circle cx="1077.1" cy="678.3" r="7.1" fill="#c6b36a" fill-opacity="0.93" stroke="#8f7e3e" stroke-width="0.5"/><circle cx="1033.6" cy="656.4" r="8.2" fill="#c6b36a" fill-opacity="0.93" stroke="#8f7e3e" stroke-width="0.5"/><circle cx="1069.5" cy="618.4" r="8.2" fill="#c6b36a" fill-opacity="0.93" stroke="#8f7e3e" stroke-width="0.5"/><circle cx="1006.5" cy="621.9" r="8.2" fill="#c6b36a" fill-opacity="0.93" stroke="#8f7e3e" stroke-width="0.5"/><circle cx="1001.6" cy="662.9" r="7.5" fill="#c6b36a" fill-opacity="0.93" stroke="#8f7e3e" stroke-width="0.5"/><circle cx="1077.5" cy="668.8" r="7.0" fill="#c6b36a" fill-opacity="0.93" stroke="#8f7e3e" stroke-width="0.5"/><circle cx="1068.4" cy="686.1" r="7.9" fill="#c6b36a" fill-opacity="0.93" stroke="#8f7e3e" stroke-width="0.5"/><circle cx="948.8" cy="581.9" r="7.8" fill="#c6b36a" fill-opacity="0.93" stroke="#8f7e3e" stroke-width="0.5"/><circle cx="1048.7" cy="653.0" r="7.9" fill="#c6b36a" fill-opacity="0.93" stroke="#8f7e3e" stroke-width="0.5"/><circle cx="1111.6" cy="604.4" r="8.1" fill="#c6b36a" fill-opacity="0.93" stroke="#8f7e3e" stroke-width="0.5"/><circle cx="1041.4" cy="604.8" r="7.4" fill="#c6b36a" fill-opacity="0.93" stroke="#8f7e3e" stroke-width="0.5"/><circle cx="987.8" cy="582.3" r="6.9" fill="#c6b36a" fill-opacity="0.93" stroke="#8f7e3e" stroke-width="0.5"/><circle cx="1018.2" cy="593.5" r="8.5" fill="#c6b36a" fill-opacity="0.93" stroke="#8f7e3e" stroke-width="0.5"/><circle cx="1078.0" cy="662.6" r="8.3" fill="#c6b36a" fill-opacity="0.93" stroke="#8f7e3e" stroke-width="0.5"/><circle cx="1043.4" cy="566.3" r="8.6" fill="#c6b36a" fill-opacity="0.93" stroke="#8f7e3e" stroke-width="0.5"/><circle cx="1046.9" cy="668.7" r="7.3" fill="#c6b36a" fill-opacity="0.93" stroke="#8f7e3e" stroke-width="0.5"/><circle cx="1067.9" cy="680.4" r="8.1" fill="#c6b36a" fill-opacity="0.93" stroke="#8f7e3e" stroke-width="0.5"/><circle cx="988.5" cy="635.8" r="7.9" fill="#c6b36a" fill-opacity="0.93" stroke="#8f7e3e" stroke-width="0.5"/><circle cx="995.8" cy="585.6" r="8.2" fill="#c6b36a" fill-opacity="0.93" stroke="#8f7e3e" stroke-width="0.5"/><circle cx="1055.6" cy="589.5" r="7.8" fill="#c6b36a" fill-opacity="0.93" stroke="#8f7e3e" stroke-width="0.5"/><circle cx="1071.4" cy="616.6" r="8.1" fill="#c6b36a" fill-opacity="0.93" stroke="#8f7e3e" stroke-width="0.5"/><circle cx="1071.1" cy="578.4" r="7.7" fill="#c6b36a" fill-opacity="0.93" stroke="#8f7e3e" stroke-width="0.5"/><circle cx="1087.0" cy="635.3" r="8.0" fill="#c6b36a" fill-opacity="0.93" stroke="#8f7e3e" stroke-width="0.5"/><circle cx="1091.8" cy="612.9" r="7.2" fill="#c6b36a" fill-opacity="0.93" stroke="#8f7e3e" stroke-width="0.5"/><circle cx="1099.4" cy="660.9" r="7.1" fill="#c6b36a" fill-opacity="0.93" stroke="#8f7e3e" stroke-width="0.5"/><circle cx="971.5" cy="631.2" r="7.1" fill="#c6b36a" fill-opacity="0.93" stroke="#8f7e3e" stroke-width="0.5"/><circle cx="1043.9" cy="611.9" r="8.2" fill="#c6b36a" fill-opacity="0.93" stroke="#8f7e3e" stroke-width="0.5"/><circle cx="1088.4" cy="565.8" r="7.2" fill="#c6b36a" fill-opacity="0.93" stroke="#8f7e3e" stroke-width="0.5"/><circle cx="1049.0" cy="581.0" r="7.2" fill="#c6b36a" fill-opacity="0.93" stroke="#8f7e3e" stroke-width="0.5"/><circle cx="962.7" cy="674.8" r="6.8" fill="#c6b36a" fill-opacity="0.93" stroke="#8f7e3e" stroke-width="0.5"/><circle cx="995.0" cy="678.6" r="6.8" fill="#c6b36a" fill-opacity="0.93" stroke="#8f7e3e" stroke-width="0.5"/><circle cx="1003.1" cy="588.0" r="7.7" fill="#c6b36a" fill-opacity="0.93" stroke="#8f7e3e" stroke-width="0.5"/><circle cx="1095.4" cy="575.7" r="8.2" fill="#c6b36a" fill-opacity="0.93" stroke="#8f7e3e" stroke-width="0.5"/><circle cx="1026.9" cy="625.5" r="7.7" fill="#c6b36a" fill-opacity="0.93" stroke="#8f7e3e" stroke-width="0.5"/><circle cx="983.1" cy="643.9" r="6.9" fill="#c6b36a" fill-opacity="0.93" stroke="#8f7e3e" stroke-width="0.5"/><circle cx="1031.0" cy="662.9" r="8.3" fill="#c6b36a" fill-opacity="0.93" stroke="#8f7e3e" stroke-width="0.5"/><circle cx="1061.9" cy="585.5" r="8.6" fill="#c6b36a" fill-opacity="0.93" stroke="#8f7e3e" stroke-width="0.5"/><circle cx="1046.0" cy="585.0" r="8.2" fill="#c6b36a" fill-opacity="0.93" stroke="#8f7e3e" stroke-width="0.5"/><circle cx="965.1" cy="569.3" r="8.4" fill="#c6b36a" fill-opacity="0.93" stroke="#8f7e3e" stroke-width="0.5"/><circle cx="1000.1" cy="642.1" r="8.0" fill="#c6b36a" fill-opacity="0.93" stroke="#8f7e3e" stroke-width="0.5"/><circle cx="938.5" cy="629.0" r="7.2" fill="#c6b36a" fill-opacity="0.93" stroke="#8f7e3e" stroke-width="0.5"/><circle cx="937.9" cy="641.1" r="6.9" fill="#c6b36a" fill-opacity="0.93" stroke="#8f7e3e" stroke-width="0.5"/><circle cx="973.7" cy="601.7" r="7.0" fill="#c6b36a" fill-opacity="0.93" stroke="#8f7e3e" stroke-width="0.5"/><circle cx="955.3" cy="676.8" r="6.9" fill="#c6b36a" fill-opacity="0.93" stroke="#8f7e3e" stroke-width="0.5"/><circle cx="988.7" cy="705.5" r="8.2" fill="#c6b36a" fill-opacity="0.93" stroke="#8f7e3e" stroke-width="0.5"/><circle cx="958.5" cy="634.3" r="7.2" fill="#c6b36a" fill-opacity="0.93" stroke="#8f7e3e" stroke-width="0.5"/><circle cx="963.9" cy="595.0" r="7.6" fill="#c6b36a" fill-opacity="0.93" stroke="#8f7e3e" stroke-width="0.5"/><circle cx="1105.9" cy="644.2" r="7.8" fill="#c6b36a" fill-opacity="0.93" stroke="#8f7e3e" stroke-width="0.5"/><circle cx="1082.7" cy="684.1" r="8.3" fill="#c6b36a" fill-opacity="0.93" stroke="#8f7e3e" stroke-width="0.5"/><circle cx="1011.0" cy="635.5" r="6.9" fill="#c6b36a" fill-opacity="0.93" stroke="#8f7e3e" stroke-width="0.5"/><circle cx="1012.7" cy="657.9" r="8.5" fill="#c6b36a" fill-opacity="0.93" stroke="#8f7e3e" stroke-width="0.5"/><circle cx="1101.5" cy="590.9" r="8.2" fill="#c6b36a" fill-opacity="0.93" stroke="#8f7e3e" stroke-width="0.5"/><circle cx="1057.7" cy="588.8" r="8.4" fill="#c6b36a" fill-opacity="0.93" stroke="#8f7e3e" stroke-width="0.5"/><circle cx="1045.7" cy="560.4" r="7.1" fill="#c6b36a" fill-opacity="0.93" stroke="#8f7e3e" stroke-width="0.5"/><circle cx="1078.6" cy="598.4" r="7.2" fill="#c6b36a" fill-opacity="0.93" stroke="#8f7e3e" stroke-width="0.5"/><circle cx="1032.8" cy="559.3" r="7.7" fill="#c6b36a" fill-opacity="0.93" stroke="#8f7e3e" stroke-width="0.5"/><circle cx="989.3" cy="586.5" r="8.0" fill="#c6b36a" fill-opacity="0.93" stroke="#8f7e3e" stroke-width="0.5"/><circle cx="970.1" cy="589.2" r="7.8" fill="#c6b36a" fill-opacity="0.93" stroke="#8f7e3e" stroke-width="0.5"/><circle cx="981.8" cy="576.3" r="7.4" fill="#c6b36a" fill-opacity="0.93" stroke="#8f7e3e" stroke-width="0.5"/><circle cx="1018.6" cy="696.8" r="7.1" fill="#c6b36a" fill-opacity="0.93" stroke="#8f7e3e" stroke-width="0.5"/><circle cx="1065.5" cy="611.3" r="7.8" fill="#c6b36a" fill-opacity="0.93" stroke="#8f7e3e" stroke-width="0.5"/><circle cx="1021.6" cy="649.0" r="7.1" fill="#c6b36a" fill-opacity="0.93" stroke="#8f7e3e" stroke-width="0.5"/><circle cx="1044.7" cy="604.8" r="8.2" fill="#c6b36a" fill-opacity="0.93" stroke="#8f7e3e" stroke-width="0.5"/><circle cx="1040.5" cy="606.0" r="8.6" fill="#c6b36a" fill-opacity="0.93" stroke="#8f7e3e" stroke-width="0.5"/><circle cx="944.6" cy="668.1" r="7.0" fill="#c6b36a" fill-opacity="0.93" stroke="#8f7e3e" stroke-width="0.5"/><circle cx="980.0" cy="653.2" r="6.8" fill="#c6b36a" fill-opacity="0.93" stroke="#8f7e3e" stroke-width="0.5"/><circle cx="1067.4" cy="601.9" r="8.4" fill="#c6b36a" fill-opacity="0.93" stroke="#8f7e3e" stroke-width="0.5"/><circle cx="1035.1" cy="694.7" r="7.4" fill="#c6b36a" fill-opacity="0.93" stroke="#8f7e3e" stroke-width="0.5"/><circle cx="997.1" cy="670.4" r="8.2" fill="#c6b36a" fill-opacity="0.93" stroke="#8f7e3e" stroke-width="0.5"/><circle cx="1005.1" cy="586.3" r="7.2" fill="#c6b36a" fill-opacity="0.93" stroke="#8f7e3e" stroke-width="0.5"/><circle cx="948.3" cy="594.1" r="6.8" fill="#c6b36a" fill-opacity="0.93" stroke="#8f7e3e" stroke-width="0.5"/><circle cx="1062.7" cy="653.9" r="6.9" fill="#c6b36a" fill-opacity="0.93" stroke="#8f7e3e" stroke-width="0.5"/><circle cx="975.0" cy="568.4" r="6.8" fill="#c6b36a" fill-opacity="0.93" stroke="#8f7e3e" stroke-width="0.5"/><circle cx="1049.2" cy="646.4" r="7.5" fill="#c6b36a" fill-opacity="0.93" stroke="#8f7e3e" stroke-width="0.5"/><circle cx="1071.5" cy="567.8" r="7.3" fill="#c6b36a" fill-opacity="0.93" stroke="#8f7e3e" stroke-width="0.5"/><circle cx="1092.3" cy="624.1" r="8.1" fill="#c6b36a" fill-opacity="0.93" stroke="#8f7e3e" stroke-width="0.5"/><circle cx="1095.8" cy="662.9" r="7.5" fill="#c6b36a" fill-opacity="0.93" stroke="#8f7e3e" stroke-width="0.5"/><circle cx="1058.1" cy="594.1" r="8.3" fill="#c6b36a" fill-opacity="0.93" stroke="#8f7e3e" stroke-width="0.5"/><circle cx="1073.4" cy="675.4" r="7.3" fill="#c6b36a" fill-opacity="0.93" stroke="#8f7e3e" stroke-width="0.5"/><circle cx="1057.6" cy="660.6" r="8.3" fill="#c6b36a" fill-opacity="0.93" stroke="#8f7e3e" stroke-width="0.5"/><circle cx="1065.8" cy="562.4" r="7.8" fill="#c6b36a" fill-opacity="0.93" stroke="#8f7e3e" stroke-width="0.5"/><circle cx="959.5" cy="652.1" r="7.4" fill="#c6b36a" fill-opacity="0.93" stroke="#8f7e3e" stroke-width="0.5"/><circle cx="995.4" cy="645.9" r="7.2" fill="#c6b36a" fill-opacity="0.93" stroke="#8f7e3e" stroke-width="0.5"/><circle cx="995.8" cy="612.9" r="8.1" fill="#c6b36a" fill-opacity="0.93" stroke="#8f7e3e" stroke-width="0.5"/><circle cx="1051.3" cy="629.8" r="7.7" fill="#c6b36a" fill-opacity="0.93" stroke="#8f7e3e" stroke-width="0.5"/><circle cx="1052.4" cy="661.9" r="7.7" fill="#c6b36a" fill-opacity="0.93" stroke="#8f7e3e" stroke-width="0.5"/><circle cx="1001.2" cy="610.3" r="8.0" fill="#c6b36a" fill-opacity="0.93" stroke="#8f7e3e" stroke-width="0.5"/><circle cx="996.3" cy="616.7" r="7.2" fill="#c6b36a" fill-opacity="0.93" stroke="#8f7e3e" stroke-width="0.5"/><circle cx="966.9" cy="614.7" r="7.3" fill="#c6b36a" fill-opacity="0.93" stroke="#8f7e3e" stroke-width="0.5"/><circle cx="972.6" cy="624.5" r="8.2" fill="#c6b36a" fill-opacity="0.93" stroke="#8f7e3e" stroke-width="0.5"/><circle cx="1047.9" cy="596.6" r="8.6" fill="#c6b36a" fill-opacity="0.93" stroke="#8f7e3e" stroke-width="0.5"/><circle cx="959.2" cy="690.3" r="7.5" fill="#c6b36a" fill-opacity="0.93" stroke="#8f7e3e" stroke-width="0.5"/><circle cx="1110.0" cy="652.8" r="7.5" fill="#c6b36a" fill-opacity="0.93" stroke="#8f7e3e" stroke-width="0.5"/><circle cx="1088.0" cy="634.1" r="7.6" fill="#c6b36a" fill-opacity="0.93" stroke="#8f7e3e" stroke-width="0.5"/><circle cx="957.0" cy="688.8" r="7.1" fill="#c6b36a" fill-opacity="0.93" stroke="#8f7e3e" stroke-width="0.5"/><circle cx="1013.8" cy="579.3" r="7.2" fill="#c6b36a" fill-opacity="0.93" stroke="#8f7e3e" stroke-width="0.5"/><circle cx="1029.5" cy="589.5" r="6.9" fill="#c6b36a" fill-opacity="0.93" stroke="#8f7e3e" stroke-width="0.5"/><circle cx="967.7" cy="661.3" r="7.9" fill="#c6b36a" fill-opacity="0.93" stroke="#8f7e3e" stroke-width="0.5"/><circle cx="970.1" cy="634.7" r="7.3" fill="#c6b36a" fill-opacity="0.93" stroke="#8f7e3e" stroke-width="0.5"/><circle cx="975.5" cy="616.1" r="6.9" fill="#c6b36a" fill-opacity="0.93" stroke="#8f7e3e" stroke-width="0.5"/><circle cx="1075.9" cy="589.2" r="8.6" fill="#c6b36a" fill-opacity="0.93" stroke="#8f7e3e" stroke-width="0.5"/><circle cx="986.4" cy="703.6" r="7.4" fill="#c6b36a" fill-opacity="0.93" stroke="#8f7e3e" stroke-width="0.5"/><circle cx="1101.1" cy="615.8" r="8.4" fill="#c6b36a" fill-opacity="0.93" stroke="#8f7e3e" stroke-width="0.5"/><circle cx="947.4" cy="603.1" r="7.4" fill="#c6b36a" fill-opacity="0.93" stroke="#8f7e3e" stroke-width="0.5"/><circle cx="947.1" cy="606.5" r="7.1" fill="#c6b36a" fill-opacity="0.93" stroke="#8f7e3e" stroke-width="0.5"/><circle cx="1051.9" cy="683.7" r="7.4" fill="#c6b36a" fill-opacity="0.93" stroke="#8f7e3e" stroke-width="0.5"/><circle cx="984.9" cy="606.9" r="7.2" fill="#c6b36a" fill-opacity="0.93" stroke="#8f7e3e" stroke-width="0.5"/><circle cx="1021.9" cy="567.3" r="8.2" fill="#c6b36a" fill-opacity="0.93" stroke="#8f7e3e" stroke-width="0.5"/><circle cx="1066.8" cy="618.0" r="7.1" fill="#c6b36a" fill-opacity="0.93" stroke="#8f7e3e" stroke-width="0.5"/><circle cx="994.6" cy="654.1" r="7.6" fill="#c6b36a" fill-opacity="0.93" stroke="#8f7e3e" stroke-width="0.5"/><circle cx="1038.3" cy="599.9" r="8.3" fill="#c6b36a" fill-opacity="0.93" stroke="#8f7e3e" stroke-width="0.5"/><circle cx="982.1" cy="639.8" r="6.9" fill="#c6b36a" fill-opacity="0.93" stroke="#8f7e3e" stroke-width="0.5"/><circle cx="992.0" cy="598.7" r="8.6" fill="#c6b36a" fill-opacity="0.93" stroke="#8f7e3e" stroke-width="0.5"/><circle cx="1029.8" cy="622.6" r="7.9" fill="#c6b36a" fill-opacity="0.93" stroke="#8f7e3e" stroke-width="0.5"/><circle cx="974.9" cy="577.0" r="8.5" fill="#c6b36a" fill-opacity="0.93" stroke="#8f7e3e" stroke-width="0.5"/><circle cx="1040.6" cy="637.5" r="8.0" fill="#c6b36a" fill-opacity="0.93" stroke="#8f7e3e" stroke-width="0.5"/><circle cx="1078.5" cy="622.5" r="7.1" fill="#c6b36a" fill-opacity="0.93" stroke="#8f7e3e" stroke-width="0.5"/><circle cx="1021.2" cy="656.3" r="7.5" fill="#c6b36a" fill-opacity="0.93" stroke="#8f7e3e" stroke-width="0.5"/><circle cx="1068.8" cy="634.2" r="7.4" fill="#c6b36a" fill-opacity="0.93" stroke="#8f7e3e" stroke-width="0.5"/><circle cx="1011.6" cy="562.9" r="7.6" fill="#c6b36a" fill-opacity="0.93" stroke="#8f7e3e" stroke-width="0.5"/><circle cx="1008.9" cy="632.9" r="8.0" fill="#c6b36a" fill-opacity="0.93" stroke="#8f7e3e" stroke-width="0.5"/><circle cx="987.2" cy="616.8" r="8.3" fill="#c6b36a" fill-opacity="0.93" stroke="#8f7e3e" stroke-width="0.5"/><circle cx="951.2" cy="679.2" r="8.3" fill="#c6b36a" fill-opacity="0.93" stroke="#8f7e3e" stroke-width="0.5"/><circle cx="1008.1" cy="664.7" r="8.5" fill="#c6b36a" fill-opacity="0.93" stroke="#8f7e3e" stroke-width="0.5"/><circle cx="945.7" cy="659.6" r="7.2" fill="#c6b36a" fill-opacity="0.93" stroke="#8f7e3e" stroke-width="0.5"/><circle cx="1038.1" cy="628.3" r="7.8" fill="#c6b36a" fill-opacity="0.93" stroke="#8f7e3e" stroke-width="0.5"/><circle cx="979.2" cy="595.7" r="7.1" fill="#c6b36a" fill-opacity="0.93" stroke="#8f7e3e" stroke-width="0.5"/><circle cx="968.9" cy="694.0" r="8.3" fill="#c6b36a" fill-opacity="0.93" stroke="#8f7e3e" stroke-width="0.5"/><circle cx="988.6" cy="677.9" r="8.3" fill="#c6b36a" fill-opacity="0.93" stroke="#8f7e3e" stroke-width="0.5"/><circle cx="1051.6" cy="652.9" r="8.2" fill="#c6b36a" fill-opacity="0.93" stroke="#8f7e3e" stroke-width="0.5"/><circle cx="984.5" cy="589.1" r="7.3" fill="#c6b36a" fill-opacity="0.93" stroke="#8f7e3e" stroke-width="0.5"/><circle cx="966.5" cy="629.2" r="7.8" fill="#c6b36a" fill-opacity="0.93" stroke="#8f7e3e" stroke-width="0.5"/><circle cx="951.3" cy="652.9" r="8.3" fill="#c6b36a" fill-opacity="0.93" stroke="#8f7e3e" stroke-width="0.5"/><circle cx="1028.1" cy="658.0" r="7.6" fill="#c6b36a" fill-opacity="0.93" stroke="#8f7e3e" stroke-width="0.5"/><circle cx="982.6" cy="666.5" r="8.1" fill="#c6b36a" fill-opacity="0.93" stroke="#8f7e3e" stroke-width="0.5"/><circle cx="952.9" cy="601.5" r="7.5" fill="#c6b36a" fill-opacity="0.93" stroke="#8f7e3e" stroke-width="0.5"/><circle cx="1030.4" cy="696.7" r="7.1" fill="#c6b36a" fill-opacity="0.93" stroke="#8f7e3e" stroke-width="0.5"/><circle cx="1079.2" cy="653.6" r="7.7" fill="#c6b36a" fill-opacity="0.93" stroke="#8f7e3e" stroke-width="0.5"/><circle cx="1049.7" cy="574.5" r="7.6" fill="#c6b36a" fill-opacity="0.93" stroke="#8f7e3e" stroke-width="0.5"/><circle cx="1108.1" cy="625.4" r="7.5" fill="#c6b36a" fill-opacity="0.93" stroke="#8f7e3e" stroke-width="0.5"/><circle cx="991.2" cy="578.9" r="7.9" fill="#c6b36a" fill-opacity="0.93" stroke="#8f7e3e" stroke-width="0.5"/><circle cx="953.2" cy="648.0" r="7.1" fill="#c6b36a" fill-opacity="0.93" stroke="#8f7e3e" stroke-width="0.5"/><circle cx="1022.0" cy="620.7" r="8.6" fill="#c6b36a" fill-opacity="0.93" stroke="#8f7e3e" stroke-width="0.5"/><circle cx="984.6" cy="574.0" r="7.4" fill="#c6b36a" fill-opacity="0.93" stroke="#8f7e3e" stroke-width="0.5"/><circle cx="1053.4" cy="569.2" r="7.2" fill="#c6b36a" fill-opacity="0.93" stroke="#8f7e3e" stroke-width="0.5"/><circle cx="1064.0" cy="632.8" r="6.9" fill="#c6b36a" fill-opacity="0.93" stroke="#8f7e3e" stroke-width="0.5"/><circle cx="979.8" cy="636.4" r="7.6" fill="#c6b36a" fill-opacity="0.93" stroke="#8f7e3e" stroke-width="0.5"/><circle cx="943.2" cy="670.1" r="8.2" fill="#c6b36a" fill-opacity="0.93" stroke="#8f7e3e" stroke-width="0.5"/><circle cx="960.4" cy="642.7" r="6.9" fill="#c6b36a" fill-opacity="0.93" stroke="#8f7e3e" stroke-width="0.5"/><circle cx="997.6" cy="695.6" r="7.1" fill="#c6b36a" fill-opacity="0.93" stroke="#8f7e3e" stroke-width="0.5"/><circle cx="1076.9" cy="642.8" r="8.3" fill="#c6b36a" fill-opacity="0.93" stroke="#8f7e3e" stroke-width="0.5"/><circle cx="1095.0" cy="572.2" r="6.9" fill="#c6b36a" fill-opacity="0.93" stroke="#8f7e3e" stroke-width="0.5"/><circle cx="954.4" cy="680.7" r="7.7" fill="#c6b36a" fill-opacity="0.93" stroke="#8f7e3e" stroke-width="0.5"/><circle cx="1019.8" cy="620.4" r="6.8" fill="#c6b36a" fill-opacity="0.93" stroke="#8f7e3e" stroke-width="0.5"/><circle cx="1107.6" cy="641.5" r="7.9" fill="#c6b36a" fill-opacity="0.93" stroke="#8f7e3e" stroke-width="0.5"/><circle cx="1015.5" cy="634.9" r="8.2" fill="#c6b36a" fill-opacity="0.93" stroke="#8f7e3e" stroke-width="0.5"/><circle cx="1046.4" cy="589.5" r="7.1" fill="#c6b36a" fill-opacity="0.93" stroke="#8f7e3e" stroke-width="0.5"/><circle cx="1024.2" cy="580.9" r="6.8" fill="#c6b36a" fill-opacity="0.93" stroke="#8f7e3e" stroke-width="0.5"/><circle cx="1087.0" cy="680.8" r="8.4" fill="#c6b36a" fill-opacity="0.93" stroke="#8f7e3e" stroke-width="0.5"/><circle cx="1074.4" cy="605.6" r="8.4" fill="#c6b36a" fill-opacity="0.93" stroke="#8f7e3e" stroke-width="0.5"/><circle cx="968.4" cy="573.0" r="7.6" fill="#c6b36a" fill-opacity="0.93" stroke="#8f7e3e" stroke-width="0.5"/><circle cx="1094.0" cy="618.4" r="7.8" fill="#c6b36a" fill-opacity="0.93" stroke="#8f7e3e" stroke-width="0.5"/><circle cx="1061.1" cy="573.8" r="6.8" fill="#c6b36a" fill-opacity="0.93" stroke="#8f7e3e" stroke-width="0.5"/><circle cx="1082.0" cy="634.7" r="6.9" fill="#c6b36a" fill-opacity="0.93" stroke="#8f7e3e" stroke-width="0.5"/><circle cx="979.0" cy="614.5" r="8.5" fill="#c6b36a" fill-opacity="0.93" stroke="#8f7e3e" stroke-width="0.5"/><circle cx="1022.2" cy="586.0" r="7.8" fill="#c6b36a" fill-opacity="0.93" stroke="#8f7e3e" stroke-width="0.5"/><circle cx="953.8" cy="641.6" r="6.9" fill="#c6b36a" fill-opacity="0.93" stroke="#8f7e3e" stroke-width="0.5"/><circle cx="992.9" cy="576.4" r="7.7" fill="#c6b36a" fill-opacity="0.93" stroke="#8f7e3e" stroke-width="0.5"/><circle cx="1101.3" cy="651.8" r="7.7" fill="#c6b36a" fill-opacity="0.93" stroke="#8f7e3e" stroke-width="0.5"/><circle cx="1047.0" cy="593.9" r="8.5" fill="#c6b36a" fill-opacity="0.93" stroke="#8f7e3e" stroke-width="0.5"/><circle cx="974.9" cy="564.4" r="7.7" fill="#c6b36a" fill-opacity="0.93" stroke="#8f7e3e" stroke-width="0.5"/><circle cx="1082.2" cy="686.2" r="8.0" fill="#c6b36a" fill-opacity="0.93" stroke="#8f7e3e" stroke-width="0.5"/><circle cx="1021.5" cy="669.2" r="7.6" fill="#c6b36a" fill-opacity="0.93" stroke="#8f7e3e" stroke-width="0.5"/><circle cx="1029.3" cy="667.5" r="8.3" fill="#c6b36a" fill-opacity="0.93" stroke="#8f7e3e" stroke-width="0.5"/><circle cx="945.6" cy="590.7" r="7.6" fill="#c6b36a" fill-opacity="0.93" stroke="#8f7e3e" stroke-width="0.5"/><circle cx="987.2" cy="670.0" r="7.5" fill="#c6b36a" fill-opacity="0.93" stroke="#8f7e3e" stroke-width="0.5"/><circle cx="1103.2" cy="626.5" r="8.2" fill="#c6b36a" fill-opacity="0.93" stroke="#8f7e3e" stroke-width="0.5"/><circle cx="1038.0" cy="674.6" r="8.2" fill="#c6b36a" fill-opacity="0.93" stroke="#8f7e3e" stroke-width="0.5"/><circle cx="998.8" cy="614.5" r="7.9" fill="#c6b36a" fill-opacity="0.93" stroke="#8f7e3e" stroke-width="0.5"/><circle cx="1064.6" cy="646.7" r="7.4" fill="#c6b36a" fill-opacity="0.93" stroke="#8f7e3e" stroke-width="0.5"/><circle cx="1018.8" cy="628.4" r="7.5" fill="#c6b36a" fill-opacity="0.93" stroke="#8f7e3e" stroke-width="0.5"/><circle cx="1104.8" cy="667.8" r="8.5" fill="#c6b36a" fill-opacity="0.93" stroke="#8f7e3e" stroke-width="0.5"/><circle cx="988.8" cy="660.2" r="8.5" fill="#c6b36a" fill-opacity="0.93" stroke="#8f7e3e" stroke-width="0.5"/><circle cx="986.3" cy="646.2" r="8.1" fill="#c6b36a" fill-opacity="0.93" stroke="#8f7e3e" stroke-width="0.5"/><circle cx="1012.0" cy="609.8" r="7.7" fill="#c6b36a" fill-opacity="0.93" stroke="#8f7e3e" stroke-width="0.5"/><circle cx="1024.5" cy="564.1" r="7.5" fill="#c6b36a" fill-opacity="0.93" stroke="#8f7e3e" stroke-width="0.5"/><circle cx="957.1" cy="617.1" r="8.2" fill="#c6b36a" fill-opacity="0.93" stroke="#8f7e3e" stroke-width="0.5"/><circle cx="1085.7" cy="612.1" r="7.7" fill="#c6b36a" fill-opacity="0.93" stroke="#8f7e3e" stroke-width="0.5"/><circle cx="1059.7" cy="674.6" r="8.4" fill="#c6b36a" fill-opacity="0.93" stroke="#8f7e3e" stroke-width="0.5"/><circle cx="1108.4" cy="603.5" r="7.5" fill="#c6b36a" fill-opacity="0.93" stroke="#8f7e3e" stroke-width="0.5"/><circle cx="1097.9" cy="679.5" r="8.3" fill="#c6b36a" fill-opacity="0.93" stroke="#8f7e3e" stroke-width="0.5"/><circle cx="985.2" cy="684.3" r="6.8" fill="#c6b36a" fill-opacity="0.93" stroke="#8f7e3e" stroke-width="0.5"/><circle cx="1020.8" cy="585.0" r="7.3" fill="#c6b36a" fill-opacity="0.93" stroke="#8f7e3e" stroke-width="0.5"/><circle cx="1102.2" cy="637.7" r="7.8" fill="#c6b36a" fill-opacity="0.93" stroke="#8f7e3e" stroke-width="0.5"/><circle cx="1047.0" cy="573.8" r="7.9" fill="#c6b36a" fill-opacity="0.93" stroke="#8f7e3e" stroke-width="0.5"/><circle cx="1104.6" cy="583.9" r="8.1" fill="#c6b36a" fill-opacity="0.93" stroke="#8f7e3e" stroke-width="0.5"/><circle cx="988.3" cy="669.1" r="7.1" fill="#c6b36a" fill-opacity="0.93" stroke="#8f7e3e" stroke-width="0.5"/><circle cx="965.9" cy="575.0" r="8.6" fill="#c6b36a" fill-opacity="0.93" stroke="#8f7e3e" stroke-width="0.5"/><circle cx="1102.6" cy="601.4" r="8.5" fill="#c6b36a" fill-opacity="0.93" stroke="#8f7e3e" stroke-width="0.5"/><circle cx="1045.2" cy="563.0" r="7.4" fill="#c6b36a" fill-opacity="0.93" stroke="#8f7e3e" stroke-width="0.5"/><circle cx="981.4" cy="565.6" r="7.9" fill="#c6b36a" fill-opacity="0.93" stroke="#8f7e3e" stroke-width="0.5"/><circle cx="963.7" cy="589.3" r="7.1" fill="#c6b36a" fill-opacity="0.93" stroke="#8f7e3e" stroke-width="0.5"/><circle cx="973.9" cy="686.7" r="7.3" fill="#c6b36a" fill-opacity="0.93" stroke="#8f7e3e" stroke-width="0.5"/><circle cx="1024.1" cy="584.6" r="7.5" fill="#c6b36a" fill-opacity="0.93" stroke="#8f7e3e" stroke-width="0.5"/><circle cx="1071.4" cy="662.1" r="7.2" fill="#c6b36a" fill-opacity="0.93" stroke="#8f7e3e" stroke-width="0.5"/><circle cx="1098.1" cy="595.7" r="7.8" fill="#c6b36a" fill-opacity="0.93" stroke="#8f7e3e" stroke-width="0.5"/><circle cx="992.7" cy="682.8" r="7.8" fill="#c6b36a" fill-opacity="0.93" stroke="#8f7e3e" stroke-width="0.5"/><circle cx="945.7" cy="607.9" r="6.9" fill="#c6b36a" fill-opacity="0.93" stroke="#8f7e3e" stroke-width="0.5"/><circle cx="1020.3" cy="592.1" r="8.6" fill="#c6b36a" fill-opacity="0.93" stroke="#8f7e3e" stroke-width="0.5"/><circle cx="1089.2" cy="664.6" r="7.6" fill="#c6b36a" fill-opacity="0.93" stroke="#8f7e3e" stroke-width="0.5"/><circle cx="1024.7" cy="666.6" r="7.9" fill="#c6b36a" fill-opacity="0.93" stroke="#8f7e3e" stroke-width="0.5"/><circle cx="1090.4" cy="571.7" r="7.1" fill="#c6b36a" fill-opacity="0.93" stroke="#8f7e3e" stroke-width="0.5"/><circle cx="1021.9" cy="684.3" r="8.2" fill="#c6b36a" fill-opacity="0.93" stroke="#8f7e3e" stroke-width="0.5"/><circle cx="989.1" cy="678.5" r="8.2" fill="#c6b36a" fill-opacity="0.93" stroke="#8f7e3e" stroke-width="0.5"/><circle cx="1023.1" cy="632.0" r="7.6" fill="#c6b36a" fill-opacity="0.93" stroke="#8f7e3e" stroke-width="0.5"/><circle cx="1011.9" cy="562.6" r="7.8" fill="#c6b36a" fill-opacity="0.93" stroke="#8f7e3e" stroke-width="0.5"/><circle cx="1093.5" cy="572.3" r="7.6" fill="#c6b36a" fill-opacity="0.93" stroke="#8f7e3e" stroke-width="0.5"/><circle cx="995.4" cy="581.5" r="8.5" fill="#c6b36a" fill-opacity="0.93" stroke="#8f7e3e" stroke-width="0.5"/><circle cx="1024.5" cy="593.2" r="7.5" fill="#c6b36a" fill-opacity="0.93" stroke="#8f7e3e" stroke-width="0.5"/><circle cx="942.0" cy="648.8" r="7.4" fill="#c6b36a" fill-opacity="0.93" stroke="#8f7e3e" stroke-width="0.5"/><circle cx="1024.7" cy="613.9" r="8.0" fill="#c6b36a" fill-opacity="0.93" stroke="#8f7e3e" stroke-width="0.5"/><circle cx="1026.3" cy="571.6" r="7.1" fill="#c6b36a" fill-opacity="0.93" stroke="#8f7e3e" stroke-width="0.5"/></g>
<g><circle cx="1038.3" cy="609.1" r="0.9" fill="#a6c4e0"/><circle cx="1043.3" cy="610.2" r="0.9" fill="#a6c4e0"/><circle cx="1040.1" cy="610.9" r="0.9" fill="#a6c4e0"/><circle cx="1007.1" cy="567.0" r="0.9" fill="#a6c4e0"/><circle cx="1012.3" cy="564.7" r="0.9" fill="#a6c4e0"/><circle cx="1015.1" cy="564.7" r="0.9" fill="#a6c4e0"/><circle cx="1063.8" cy="609.4" r="0.9" fill="#a6c4e0"/><circle cx="1066.2" cy="612.8" r="0.9" fill="#a6c4e0"/><circle cx="1059.7" cy="606.1" r="0.9" fill="#a6c4e0"/><circle cx="1071.8" cy="594.7" r="0.9" fill="#a6c4e0"/><circle cx="1068.3" cy="595.2" r="0.9" fill="#a6c4e0"/><circle cx="1072.5" cy="595.9" r="0.9" fill="#a6c4e0"/><circle cx="1076.6" cy="642.1" r="0.9" fill="#a6c4e0"/><circle cx="1075.1" cy="644.4" r="0.9" fill="#a6c4e0"/><circle cx="1075.3" cy="642.1" r="0.9" fill="#a6c4e0"/><circle cx="995.2" cy="685.1" r="0.9" fill="#a6c4e0"/><circle cx="991.7" cy="687.5" r="0.9" fill="#a6c4e0"/><circle cx="994.2" cy="682.5" r="0.9" fill="#a6c4e0"/><circle cx="1036.8" cy="662.2" r="0.9" fill="#a6c4e0"/><circle cx="1034.2" cy="665.3" r="0.9" fill="#a6c4e0"/><circle cx="1032.5" cy="663.7" r="0.9" fill="#a6c4e0"/><circle cx="936.1" cy="623.4" r="0.9" fill="#a6c4e0"/><circle cx="938.4" cy="624.0" r="0.9" fill="#a6c4e0"/><circle cx="932.1" cy="620.2" r="0.9" fill="#a6c4e0"/><circle cx="1042.2" cy="613.8" r="0.9" fill="#a6c4e0"/><circle cx="1044.2" cy="616.9" r="0.9" fill="#a6c4e0"/><circle cx="1042.0" cy="613.8" r="0.9" fill="#a6c4e0"/><circle cx="980.6" cy="696.2" r="0.9" fill="#a6c4e0"/><circle cx="985.2" cy="697.1" r="0.9" fill="#a6c4e0"/><circle cx="984.1" cy="692.6" r="0.9" fill="#a6c4e0"/><circle cx="985.1" cy="593.7" r="0.9" fill="#a6c4e0"/><circle cx="984.6" cy="597.5" r="0.9" fill="#a6c4e0"/><circle cx="986.9" cy="598.7" r="0.9" fill="#a6c4e0"/><circle cx="979.9" cy="689.1" r="0.9" fill="#a6c4e0"/><circle cx="981.2" cy="684.0" r="0.9" fill="#a6c4e0"/><circle cx="979.4" cy="687.2" r="0.9" fill="#a6c4e0"/><circle cx="1077.1" cy="670.3" r="0.9" fill="#a6c4e0"/><circle cx="1079.8" cy="668.3" r="0.9" fill="#a6c4e0"/><circle cx="1078.0" cy="669.8" r="0.9" fill="#a6c4e0"/><circle cx="963.7" cy="635.8" r="0.9" fill="#a6c4e0"/><circle cx="970.9" cy="635.5" r="0.9" fill="#a6c4e0"/><circle cx="966.2" cy="640.0" r="0.9" fill="#a6c4e0"/><circle cx="1073.1" cy="593.8" r="0.9" fill="#a6c4e0"/><circle cx="1074.9" cy="593.1" r="0.9" fill="#a6c4e0"/><circle cx="1071.6" cy="594.8" r="0.9" fill="#a6c4e0"/><circle cx="996.8" cy="555.8" r="0.9" fill="#a6c4e0"/><circle cx="998.2" cy="559.3" r="0.9" fill="#a6c4e0"/><circle cx="1000.1" cy="559.0" r="0.9" fill="#a6c4e0"/><circle cx="1009.1" cy="559.7" r="0.9" fill="#a6c4e0"/><circle cx="1013.7" cy="564.4" r="0.9" fill="#a6c4e0"/><circle cx="1017.5" cy="563.5" r="0.9" fill="#a6c4e0"/><circle cx="940.3" cy="632.9" r="0.9" fill="#a6c4e0"/><circle cx="944.2" cy="630.5" r="0.9" fill="#a6c4e0"/><circle cx="941.6" cy="635.4" r="0.9" fill="#a6c4e0"/><circle cx="1029.2" cy="695.2" r="0.9" fill="#a6c4e0"/><circle cx="1025.6" cy="697.4" r="0.9" fill="#a6c4e0"/><circle cx="1027.1" cy="697.8" r="0.9" fill="#a6c4e0"/><circle cx="1010.2" cy="587.2" r="0.9" fill="#a6c4e0"/><circle cx="1005.8" cy="588.3" r="0.9" fill="#a6c4e0"/><circle cx="1008.3" cy="594.1" r="0.9" fill="#a6c4e0"/><circle cx="1058.7" cy="607.3" r="0.9" fill="#a6c4e0"/><circle cx="1054.9" cy="607.4" r="0.9" fill="#a6c4e0"/><circle cx="1058.3" cy="606.6" r="0.9" fill="#a6c4e0"/><circle cx="1088.2" cy="659.4" r="0.9" fill="#a6c4e0"/><circle cx="1088.9" cy="657.6" r="0.9" fill="#a6c4e0"/><circle cx="1088.0" cy="656.5" r="0.9" fill="#a6c4e0"/><circle cx="980.2" cy="607.0" r="0.9" fill="#a6c4e0"/><circle cx="979.4" cy="606.4" r="0.9" fill="#a6c4e0"/><circle cx="978.3" cy="603.4" r="0.9" fill="#a6c4e0"/><circle cx="1032.9" cy="632.8" r="0.9" fill="#a6c4e0"/><circle cx="1032.2" cy="634.3" r="0.9" fill="#a6c4e0"/><circle cx="1031.5" cy="640.6" r="0.9" fill="#a6c4e0"/><circle cx="942.3" cy="656.1" r="0.9" fill="#a6c4e0"/><circle cx="940.7" cy="652.2" r="0.9" fill="#a6c4e0"/><circle cx="943.1" cy="656.9" r="0.9" fill="#a6c4e0"/><circle cx="934.6" cy="639.2" r="0.9" fill="#a6c4e0"/><circle cx="935.1" cy="639.3" r="0.9" fill="#a6c4e0"/><circle cx="936.7" cy="641.9" r="0.9" fill="#a6c4e0"/><circle cx="966.4" cy="643.4" r="0.9" fill="#a6c4e0"/><circle cx="966.0" cy="640.5" r="0.9" fill="#a6c4e0"/><circle cx="969.2" cy="635.6" r="0.9" fill="#a6c4e0"/><circle cx="1010.9" cy="673.8" r="0.9" fill="#a6c4e0"/><circle cx="1010.8" cy="674.8" r="0.9" fill="#a6c4e0"/><circle cx="1010.8" cy="672.1" r="0.9" fill="#a6c4e0"/><circle cx="1000.0" cy="691.7" r="0.9" fill="#a6c4e0"/><circle cx="996.4" cy="689.2" r="0.9" fill="#a6c4e0"/><circle cx="998.0" cy="687.8" r="0.9" fill="#a6c4e0"/><circle cx="1012.6" cy="607.0" r="0.9" fill="#a6c4e0"/><circle cx="1012.3" cy="611.0" r="0.9" fill="#a6c4e0"/><circle cx="1010.8" cy="609.2" r="0.9" fill="#a6c4e0"/><circle cx="1062.0" cy="620.0" r="0.9" fill="#a6c4e0"/><circle cx="1059.8" cy="621.8" r="0.9" fill="#a6c4e0"/><circle cx="1062.3" cy="619.3" r="0.9" fill="#a6c4e0"/><circle cx="1028.7" cy="638.7" r="0.9" fill="#a6c4e0"/><circle cx="1028.9" cy="637.7" r="0.9" fill="#a6c4e0"/><circle cx="1029.0" cy="638.6" r="0.9" fill="#a6c4e0"/><circle cx="1097.7" cy="628.1" r="0.9" fill="#a6c4e0"/><circle cx="1094.2" cy="629.2" r="0.9" fill="#a6c4e0"/><circle cx="1094.1" cy="623.9" r="0.9" fill="#a6c4e0"/><circle cx="1054.3" cy="649.0" r="0.9" fill="#a6c4e0"/><circle cx="1060.5" cy="650.6" r="0.9" fill="#a6c4e0"/><circle cx="1051.9" cy="648.6" r="0.9" fill="#a6c4e0"/><circle cx="982.4" cy="590.7" r="0.9" fill="#a6c4e0"/><circle cx="986.9" cy="595.2" r="0.9" fill="#a6c4e0"/><circle cx="983.2" cy="593.8" r="0.9" fill="#a6c4e0"/><circle cx="999.1" cy="609.3" r="0.9" fill="#a6c4e0"/><circle cx="1001.7" cy="610.2" r="0.9" fill="#a6c4e0"/><circle cx="997.6" cy="608.9" r="0.9" fill="#a6c4e0"/><circle cx="1012.5" cy="636.3" r="0.9" fill="#a6c4e0"/><circle cx="1016.9" cy="637.9" r="0.9" fill="#a6c4e0"/><circle cx="1014.3" cy="636.0" r="0.9" fill="#a6c4e0"/><circle cx="961.5" cy="574.6" r="0.9" fill="#a6c4e0"/><circle cx="961.7" cy="574.8" r="0.9" fill="#a6c4e0"/><circle cx="962.9" cy="575.0" r="0.9" fill="#a6c4e0"/><circle cx="1032.8" cy="608.9" r="0.9" fill="#a6c4e0"/><circle cx="1036.6" cy="613.1" r="0.9" fill="#a6c4e0"/><circle cx="1034.7" cy="615.0" r="0.9" fill="#a6c4e0"/><circle cx="1086.9" cy="577.4" r="0.9" fill="#a6c4e0"/><circle cx="1085.1" cy="579.0" r="0.9" fill="#a6c4e0"/><circle cx="1085.9" cy="574.2" r="0.9" fill="#a6c4e0"/><circle cx="997.2" cy="662.9" r="0.9" fill="#a6c4e0"/><circle cx="996.7" cy="663.1" r="0.9" fill="#a6c4e0"/><circle cx="999.0" cy="665.0" r="0.9" fill="#a6c4e0"/><circle cx="1073.0" cy="621.7" r="0.9" fill="#a6c4e0"/><circle cx="1070.5" cy="621.4" r="0.9" fill="#a6c4e0"/><circle cx="1071.5" cy="616.1" r="0.9" fill="#a6c4e0"/><circle cx="1035.3" cy="685.6" r="0.9" fill="#a6c4e0"/><circle cx="1038.2" cy="686.5" r="0.9" fill="#a6c4e0"/><circle cx="1036.3" cy="686.6" r="0.9" fill="#a6c4e0"/><circle cx="1041.9" cy="650.5" r="0.9" fill="#a6c4e0"/><circle cx="1043.6" cy="642.6" r="0.9" fill="#a6c4e0"/><circle cx="1045.3" cy="643.3" r="0.9" fill="#a6c4e0"/><circle cx="1008.5" cy="591.0" r="0.9" fill="#a6c4e0"/><circle cx="1004.0" cy="589.2" r="0.9" fill="#a6c4e0"/><circle cx="1006.5" cy="584.8" r="0.9" fill="#a6c4e0"/><circle cx="1011.1" cy="594.2" r="0.9" fill="#a6c4e0"/><circle cx="1007.4" cy="594.0" r="0.9" fill="#a6c4e0"/><circle cx="1008.0" cy="594.8" r="0.9" fill="#a6c4e0"/><circle cx="943.8" cy="603.4" r="0.9" fill="#a6c4e0"/><circle cx="948.0" cy="597.5" r="0.9" fill="#a6c4e0"/><circle cx="945.5" cy="599.8" r="0.9" fill="#a6c4e0"/><circle cx="998.6" cy="675.8" r="0.9" fill="#a6c4e0"/><circle cx="999.2" cy="677.8" r="0.9" fill="#a6c4e0"/><circle cx="998.0" cy="675.6" r="0.9" fill="#a6c4e0"/><circle cx="1028.1" cy="562.0" r="0.9" fill="#a6c4e0"/><circle cx="1031.9" cy="563.5" r="0.9" fill="#a6c4e0"/><circle cx="1023.1" cy="563.5" r="0.9" fill="#a6c4e0"/><circle cx="1003.9" cy="695.3" r="0.9" fill="#a6c4e0"/><circle cx="1005.9" cy="697.1" r="0.9" fill="#a6c4e0"/><circle cx="1004.8" cy="695.6" r="0.9" fill="#a6c4e0"/><circle cx="1004.3" cy="571.1" r="0.9" fill="#a6c4e0"/><circle cx="1005.2" cy="570.4" r="0.9" fill="#a6c4e0"/><circle cx="1001.6" cy="572.1" r="0.9" fill="#a6c4e0"/><circle cx="1056.0" cy="614.1" r="0.9" fill="#a6c4e0"/><circle cx="1055.9" cy="614.4" r="0.9" fill="#a6c4e0"/><circle cx="1053.5" cy="614.6" r="0.9" fill="#a6c4e0"/><circle cx="1088.3" cy="643.2" r="0.9" fill="#a6c4e0"/><circle cx="1086.4" cy="643.9" r="0.9" fill="#a6c4e0"/><circle cx="1086.0" cy="643.2" r="0.9" fill="#a6c4e0"/><circle cx="1029.2" cy="654.6" r="0.9" fill="#a6c4e0"/><circle cx="1027.7" cy="655.6" r="0.9" fill="#a6c4e0"/><circle cx="1026.2" cy="656.1" r="0.9" fill="#a6c4e0"/><circle cx="1089.4" cy="604.5" r="0.9" fill="#a6c4e0"/><circle cx="1093.7" cy="606.0" r="0.9" fill="#a6c4e0"/><circle cx="1090.5" cy="601.9" r="0.9" fill="#a6c4e0"/><circle cx="1070.8" cy="668.7" r="0.9" fill="#a6c4e0"/><circle cx="1073.2" cy="668.3" r="0.9" fill="#a6c4e0"/><circle cx="1071.3" cy="668.1" r="0.9" fill="#a6c4e0"/><circle cx="1036.9" cy="630.1" r="0.9" fill="#a6c4e0"/><circle cx="1035.7" cy="628.2" r="0.9" fill="#a6c4e0"/><circle cx="1034.6" cy="632.4" r="0.9" fill="#a6c4e0"/><circle cx="1047.6" cy="584.6" r="0.9" fill="#a6c4e0"/><circle cx="1050.2" cy="581.7" r="0.9" fill="#a6c4e0"/><circle cx="1048.1" cy="585.4" r="0.9" fill="#a6c4e0"/><circle cx="1071.8" cy="648.5" r="0.9" fill="#a6c4e0"/><circle cx="1072.0" cy="648.0" r="0.9" fill="#a6c4e0"/><circle cx="1072.3" cy="650.1" r="0.9" fill="#a6c4e0"/><circle cx="956.5" cy="595.3" r="0.9" fill="#a6c4e0"/><circle cx="959.7" cy="592.6" r="0.9" fill="#a6c4e0"/><circle cx="962.4" cy="590.8" r="0.9" fill="#a6c4e0"/><circle cx="976.2" cy="579.9" r="0.9" fill="#a6c4e0"/><circle cx="976.2" cy="583.5" r="0.9" fill="#a6c4e0"/><circle cx="973.6" cy="579.2" r="0.9" fill="#a6c4e0"/><circle cx="1032.1" cy="690.9" r="0.9" fill="#a6c4e0"/><circle cx="1031.7" cy="692.5" r="0.9" fill="#a6c4e0"/><circle cx="1027.1" cy="689.6" r="0.9" fill="#a6c4e0"/><circle cx="1078.0" cy="642.6" r="0.9" fill="#a6c4e0"/><circle cx="1077.3" cy="642.1" r="0.9" fill="#a6c4e0"/><circle cx="1080.8" cy="642.1" r="0.9" fill="#a6c4e0"/><circle cx="954.4" cy="670.2" r="0.9" fill="#a6c4e0"/><circle cx="950.6" cy="667.5" r="0.9" fill="#a6c4e0"/><circle cx="951.9" cy="673.4" r="0.9" fill="#a6c4e0"/><circle cx="1081.1" cy="674.6" r="0.9" fill="#a6c4e0"/><circle cx="1076.0" cy="676.8" r="0.9" fill="#a6c4e0"/><circle cx="1080.7" cy="672.8" r="0.9" fill="#a6c4e0"/><circle cx="1049.5" cy="625.9" r="0.9" fill="#a6c4e0"/><circle cx="1051.9" cy="627.8" r="0.9" fill="#a6c4e0"/><circle cx="1050.1" cy="630.2" r="0.9" fill="#a6c4e0"/><circle cx="959.2" cy="673.2" r="0.9" fill="#a6c4e0"/><circle cx="960.5" cy="673.6" r="0.9" fill="#a6c4e0"/><circle cx="960.1" cy="680.5" r="0.9" fill="#a6c4e0"/><circle cx="1074.5" cy="646.6" r="0.9" fill="#a6c4e0"/><circle cx="1075.8" cy="641.4" r="0.9" fill="#a6c4e0"/><circle cx="1072.8" cy="642.7" r="0.9" fill="#a6c4e0"/><circle cx="1081.8" cy="656.5" r="0.9" fill="#a6c4e0"/><circle cx="1085.5" cy="658.9" r="0.9" fill="#a6c4e0"/><circle cx="1081.2" cy="655.0" r="0.9" fill="#a6c4e0"/><circle cx="1081.7" cy="594.1" r="0.9" fill="#a6c4e0"/><circle cx="1081.6" cy="594.0" r="0.9" fill="#a6c4e0"/><circle cx="1081.3" cy="594.3" r="0.9" fill="#a6c4e0"/><circle cx="1052.1" cy="652.3" r="0.9" fill="#a6c4e0"/><circle cx="1057.9" cy="648.1" r="0.9" fill="#a6c4e0"/><circle cx="1058.5" cy="651.5" r="0.9" fill="#a6c4e0"/><circle cx="965.2" cy="691.7" r="0.9" fill="#a6c4e0"/><circle cx="965.8" cy="697.2" r="0.9" fill="#a6c4e0"/><circle cx="967.3" cy="693.4" r="0.9" fill="#a6c4e0"/><circle cx="1043.3" cy="609.2" r="0.9" fill="#a6c4e0"/><circle cx="1042.7" cy="606.7" r="0.9" fill="#a6c4e0"/><circle cx="1046.6" cy="606.0" r="0.9" fill="#a6c4e0"/><circle cx="1081.0" cy="627.3" r="0.9" fill="#a6c4e0"/><circle cx="1084.2" cy="632.0" r="0.9" fill="#a6c4e0"/><circle cx="1080.7" cy="628.4" r="0.9" fill="#a6c4e0"/><circle cx="974.3" cy="646.3" r="0.9" fill="#a6c4e0"/><circle cx="976.9" cy="646.8" r="0.9" fill="#a6c4e0"/><circle cx="977.5" cy="651.7" r="0.9" fill="#a6c4e0"/><circle cx="1020.7" cy="594.0" r="0.9" fill="#a6c4e0"/><circle cx="1022.8" cy="594.3" r="0.9" fill="#a6c4e0"/><circle cx="1021.5" cy="595.9" r="0.9" fill="#a6c4e0"/><circle cx="975.2" cy="595.5" r="0.9" fill="#a6c4e0"/><circle cx="965.7" cy="597.8" r="0.9" fill="#a6c4e0"/><circle cx="968.6" cy="598.8" r="0.9" fill="#a6c4e0"/><circle cx="1030.0" cy="569.7" r="0.9" fill="#a6c4e0"/><circle cx="1034.3" cy="569.1" r="0.9" fill="#a6c4e0"/><circle cx="1033.3" cy="567.2" r="0.9" fill="#a6c4e0"/><circle cx="1077.1" cy="678.2" r="0.9" fill="#a6c4e0"/><circle cx="1076.0" cy="679.4" r="0.9" fill="#a6c4e0"/><circle cx="1079.7" cy="680.2" r="0.9" fill="#a6c4e0"/><circle cx="1030.3" cy="653.0" r="0.9" fill="#a6c4e0"/><circle cx="1032.9" cy="661.4" r="0.9" fill="#a6c4e0"/><circle cx="1028.7" cy="656.1" r="0.9" fill="#a6c4e0"/><circle cx="1074.0" cy="617.7" r="0.9" fill="#a6c4e0"/><circle cx="1069.8" cy="617.4" r="0.9" fill="#a6c4e0"/><circle cx="1066.9" cy="615.6" r="0.9" fill="#a6c4e0"/><circle cx="1010.4" cy="621.7" r="0.9" fill="#a6c4e0"/><circle cx="1003.2" cy="618.6" r="0.9" fill="#a6c4e0"/><circle cx="1003.3" cy="626.4" r="0.9" fill="#a6c4e0"/><circle cx="1001.6" cy="662.9" r="0.9" fill="#a6c4e0"/><circle cx="998.1" cy="664.0" r="0.9" fill="#a6c4e0"/><circle cx="1002.3" cy="667.8" r="0.9" fill="#a6c4e0"/><circle cx="1082.2" cy="669.4" r="0.9" fill="#a6c4e0"/><circle cx="1075.9" cy="667.1" r="0.9" fill="#a6c4e0"/><circle cx="1075.1" cy="666.8" r="0.9" fill="#a6c4e0"/><circle cx="1071.1" cy="686.5" r="0.9" fill="#a6c4e0"/><circle cx="1070.3" cy="683.7" r="0.9" fill="#a6c4e0"/><circle cx="1068.9" cy="686.8" r="0.9" fill="#a6c4e0"/><circle cx="945.9" cy="581.4" r="0.9" fill="#a6c4e0"/><circle cx="948.2" cy="586.0" r="0.9" fill="#a6c4e0"/><circle cx="948.6" cy="582.0" r="0.9" fill="#a6c4e0"/><circle cx="1047.1" cy="654.9" r="0.9" fill="#a6c4e0"/><circle cx="1048.5" cy="654.0" r="0.9" fill="#a6c4e0"/><circle cx="1048.6" cy="653.6" r="0.9" fill="#a6c4e0"/><circle cx="1115.3" cy="602.3" r="0.9" fill="#a6c4e0"/><circle cx="1113.2" cy="602.5" r="0.9" fill="#a6c4e0"/><circle cx="1113.4" cy="599.6" r="0.9" fill="#a6c4e0"/><circle cx="1041.1" cy="604.5" r="0.9" fill="#a6c4e0"/><circle cx="1040.8" cy="604.6" r="0.9" fill="#a6c4e0"/><circle cx="1041.6" cy="605.3" r="0.9" fill="#a6c4e0"/><circle cx="989.1" cy="586.3" r="0.9" fill="#a6c4e0"/><circle cx="989.3" cy="586.7" r="0.9" fill="#a6c4e0"/><circle cx="990.7" cy="582.9" r="0.9" fill="#a6c4e0"/><circle cx="1019.3" cy="599.3" r="0.9" fill="#a6c4e0"/><circle cx="1021.3" cy="595.6" r="0.9" fill="#a6c4e0"/><circle cx="1017.4" cy="595.7" r="0.9" fill="#a6c4e0"/><circle cx="1079.5" cy="659.3" r="0.9" fill="#a6c4e0"/><circle cx="1078.4" cy="659.8" r="0.9" fill="#a6c4e0"/><circle cx="1073.8" cy="663.9" r="0.9" fill="#a6c4e0"/><circle cx="1043.4" cy="566.1" r="0.9" fill="#a6c4e0"/><circle cx="1044.7" cy="567.9" r="0.9" fill="#a6c4e0"/><circle cx="1043.3" cy="566.9" r="0.9" fill="#a6c4e0"/><circle cx="1047.2" cy="669.6" r="0.9" fill="#a6c4e0"/><circle cx="1050.1" cy="670.9" r="0.9" fill="#a6c4e0"/><circle cx="1047.8" cy="668.4" r="0.9" fill="#a6c4e0"/><circle cx="1069.9" cy="675.8" r="0.9" fill="#a6c4e0"/><circle cx="1067.6" cy="679.7" r="0.9" fill="#a6c4e0"/><circle cx="1070.9" cy="677.2" r="0.9" fill="#a6c4e0"/><circle cx="988.4" cy="635.9" r="0.9" fill="#a6c4e0"/><circle cx="984.8" cy="635.3" r="0.9" fill="#a6c4e0"/><circle cx="984.8" cy="638.0" r="0.9" fill="#a6c4e0"/><circle cx="995.6" cy="585.1" r="0.9" fill="#a6c4e0"/><circle cx="993.3" cy="580.9" r="0.9" fill="#a6c4e0"/><circle cx="994.2" cy="589.7" r="0.9" fill="#a6c4e0"/><circle cx="1051.8" cy="590.3" r="0.9" fill="#a6c4e0"/><circle cx="1056.1" cy="589.2" r="0.9" fill="#a6c4e0"/><circle cx="1059.4" cy="589.0" r="0.9" fill="#a6c4e0"/><circle cx="1074.2" cy="617.4" r="0.9" fill="#a6c4e0"/><circle cx="1073.3" cy="613.9" r="0.9" fill="#a6c4e0"/><circle cx="1072.2" cy="613.2" r="0.9" fill="#a6c4e0"/><circle cx="1073.4" cy="582.5" r="0.9" fill="#a6c4e0"/><circle cx="1070.5" cy="574.4" r="0.9" fill="#a6c4e0"/><circle cx="1072.2" cy="579.9" r="0.9" fill="#a6c4e0"/><circle cx="1084.6" cy="632.2" r="0.9" fill="#a6c4e0"/><circle cx="1088.7" cy="634.5" r="0.9" fill="#a6c4e0"/><circle cx="1088.9" cy="636.2" r="0.9" fill="#a6c4e0"/><circle cx="1092.4" cy="617.1" r="0.9" fill="#a6c4e0"/><circle cx="1090.2" cy="610.5" r="0.9" fill="#a6c4e0"/><circle cx="1091.4" cy="612.0" r="0.9" fill="#a6c4e0"/><circle cx="1099.9" cy="658.6" r="0.9" fill="#a6c4e0"/><circle cx="1102.5" cy="660.1" r="0.9" fill="#a6c4e0"/><circle cx="1099.2" cy="660.9" r="0.9" fill="#a6c4e0"/><circle cx="973.2" cy="631.3" r="0.9" fill="#a6c4e0"/><circle cx="971.0" cy="631.3" r="0.9" fill="#a6c4e0"/><circle cx="970.9" cy="632.6" r="0.9" fill="#a6c4e0"/><circle cx="1044.5" cy="615.7" r="0.9" fill="#a6c4e0"/><circle cx="1039.6" cy="614.9" r="0.9" fill="#a6c4e0"/><circle cx="1043.8" cy="609.6" r="0.9" fill="#a6c4e0"/><circle cx="1088.1" cy="567.9" r="0.9" fill="#a6c4e0"/><circle cx="1086.6" cy="562.5" r="0.9" fill="#a6c4e0"/><circle cx="1090.6" cy="562.0" r="0.9" fill="#a6c4e0"/><circle cx="1049.5" cy="579.6" r="0.9" fill="#a6c4e0"/><circle cx="1046.2" cy="581.4" r="0.9" fill="#a6c4e0"/><circle cx="1047.8" cy="578.8" r="0.9" fill="#a6c4e0"/><circle cx="965.4" cy="676.1" r="0.9" fill="#a6c4e0"/><circle cx="962.7" cy="675.7" r="0.9" fill="#a6c4e0"/><circle cx="965.0" cy="675.0" r="0.9" fill="#a6c4e0"/><circle cx="996.1" cy="679.6" r="0.9" fill="#a6c4e0"/><circle cx="995.0" cy="678.6" r="0.9" fill="#a6c4e0"/><circle cx="996.1" cy="678.8" r="0.9" fill="#a6c4e0"/><circle cx="1000.8" cy="586.4" r="0.9" fill="#a6c4e0"/><circle cx="1005.3" cy="587.4" r="0.9" fill="#a6c4e0"/><circle cx="1002.1" cy="588.0" r="0.9" fill="#a6c4e0"/><circle cx="1093.7" cy="572.4" r="0.9" fill="#a6c4e0"/><circle cx="1094.7" cy="580.3" r="0.9" fill="#a6c4e0"/><circle cx="1093.1" cy="575.8" r="0.9" fill="#a6c4e0"/><circle cx="1025.0" cy="625.6" r="0.9" fill="#a6c4e0"/><circle cx="1025.6" cy="625.3" r="0.9" fill="#a6c4e0"/><circle cx="1026.8" cy="625.6" r="0.9" fill="#a6c4e0"/><circle cx="985.2" cy="645.7" r="0.9" fill="#a6c4e0"/><circle cx="985.5" cy="639.9" r="0.9" fill="#a6c4e0"/><circle cx="982.9" cy="647.1" r="0.9" fill="#a6c4e0"/><circle cx="1035.0" cy="661.0" r="0.9" fill="#a6c4e0"/><circle cx="1029.3" cy="666.3" r="0.9" fill="#a6c4e0"/><circle cx="1032.4" cy="661.4" r="0.9" fill="#a6c4e0"/><circle cx="1061.7" cy="584.9" r="0.9" fill="#a6c4e0"/><circle cx="1063.6" cy="590.9" r="0.9" fill="#a6c4e0"/><circle cx="1061.2" cy="585.0" r="0.9" fill="#a6c4e0"/><circle cx="1047.3" cy="585.2" r="0.9" fill="#a6c4e0"/><circle cx="1044.4" cy="584.9" r="0.9" fill="#a6c4e0"/><circle cx="1045.9" cy="584.8" r="0.9" fill="#a6c4e0"/><circle cx="967.7" cy="570.0" r="0.9" fill="#a6c4e0"/><circle cx="964.9" cy="569.5" r="0.9" fill="#a6c4e0"/><circle cx="965.6" cy="570.0" r="0.9" fill="#a6c4e0"/><circle cx="999.9" cy="647.5" r="0.9" fill="#a6c4e0"/><circle cx="1002.9" cy="640.9" r="0.9" fill="#a6c4e0"/><circle cx="1001.1" cy="644.7" r="0.9" fill="#a6c4e0"/><circle cx="938.4" cy="628.9" r="0.9" fill="#a6c4e0"/><circle cx="939.3" cy="627.6" r="0.9" fill="#a6c4e0"/><circle cx="938.3" cy="629.6" r="0.9" fill="#a6c4e0"/><circle cx="937.1" cy="640.5" r="0.9" fill="#a6c4e0"/><circle cx="938.2" cy="638.3" r="0.9" fill="#a6c4e0"/><circle cx="935.8" cy="639.3" r="0.9" fill="#a6c4e0"/><circle cx="974.3" cy="602.0" r="0.9" fill="#a6c4e0"/><circle cx="975.0" cy="601.1" r="0.9" fill="#a6c4e0"/><circle cx="972.6" cy="602.1" r="0.9" fill="#a6c4e0"/><circle cx="955.0" cy="678.0" r="0.9" fill="#a6c4e0"/><circle cx="957.0" cy="676.1" r="0.9" fill="#a6c4e0"/><circle cx="955.0" cy="676.9" r="0.9" fill="#a6c4e0"/><circle cx="988.1" cy="705.8" r="0.9" fill="#a6c4e0"/><circle cx="986.3" cy="705.7" r="0.9" fill="#a6c4e0"/><circle cx="991.4" cy="708.5" r="0.9" fill="#a6c4e0"/><circle cx="958.3" cy="634.0" r="0.9" fill="#a6c4e0"/><circle cx="957.4" cy="635.5" r="0.9" fill="#a6c4e0"/><circle cx="954.0" cy="634.9" r="0.9" fill="#a6c4e0"/><circle cx="963.6" cy="593.3" r="0.9" fill="#a6c4e0"/><circle cx="963.0" cy="592.0" r="0.9" fill="#a6c4e0"/><circle cx="968.9" cy="593.8" r="0.9" fill="#a6c4e0"/><circle cx="1105.3" cy="642.1" r="0.9" fill="#a6c4e0"/><circle cx="1100.7" cy="645.7" r="0.9" fill="#a6c4e0"/><circle cx="1108.3" cy="643.4" r="0.9" fill="#a6c4e0"/><circle cx="1086.4" cy="685.4" r="0.9" fill="#a6c4e0"/><circle cx="1081.8" cy="684.1" r="0.9" fill="#a6c4e0"/><circle cx="1088.4" cy="684.6" r="0.9" fill="#a6c4e0"/><circle cx="1014.5" cy="636.2" r="0.9" fill="#a6c4e0"/><circle cx="1014.8" cy="633.3" r="0.9" fill="#a6c4e0"/><circle cx="1010.8" cy="635.4" r="0.9" fill="#a6c4e0"/><circle cx="1012.7" cy="660.0" r="0.9" fill="#a6c4e0"/><circle cx="1014.3" cy="653.8" r="0.9" fill="#a6c4e0"/><circle cx="1010.1" cy="660.7" r="0.9" fill="#a6c4e0"/><circle cx="1101.9" cy="590.2" r="0.9" fill="#a6c4e0"/><circle cx="1100.8" cy="592.4" r="0.9" fill="#a6c4e0"/><circle cx="1101.9" cy="591.5" r="0.9" fill="#a6c4e0"/><circle cx="1055.5" cy="590.8" r="0.9" fill="#a6c4e0"/><circle cx="1059.6" cy="593.0" r="0.9" fill="#a6c4e0"/><circle cx="1059.4" cy="586.7" r="0.9" fill="#a6c4e0"/><circle cx="1044.5" cy="562.7" r="0.9" fill="#a6c4e0"/><circle cx="1045.0" cy="562.0" r="0.9" fill="#a6c4e0"/><circle cx="1045.9" cy="560.9" r="0.9" fill="#a6c4e0"/><circle cx="1080.0" cy="597.1" r="0.9" fill="#a6c4e0"/><circle cx="1078.7" cy="598.7" r="0.9" fill="#a6c4e0"/><circle cx="1081.3" cy="595.6" r="0.9" fill="#a6c4e0"/><circle cx="1032.6" cy="559.2" r="0.9" fill="#a6c4e0"/><circle cx="1035.3" cy="560.7" r="0.9" fill="#a6c4e0"/><circle cx="1035.5" cy="556.7" r="0.9" fill="#a6c4e0"/><circle cx="988.7" cy="587.8" r="0.9" fill="#a6c4e0"/><circle cx="986.6" cy="586.2" r="0.9" fill="#a6c4e0"/><circle cx="992.3" cy="588.7" r="0.9" fill="#a6c4e0"/><circle cx="974.8" cy="591.2" r="0.9" fill="#a6c4e0"/><circle cx="969.0" cy="588.9" r="0.9" fill="#a6c4e0"/><circle cx="967.6" cy="587.3" r="0.9" fill="#a6c4e0"/><circle cx="983.5" cy="580.7" r="0.9" fill="#a6c4e0"/><circle cx="981.4" cy="575.4" r="0.9" fill="#a6c4e0"/><circle cx="978.4" cy="574.8" r="0.9" fill="#a6c4e0"/><circle cx="1018.7" cy="696.8" r="0.9" fill="#a6c4e0"/><circle cx="1020.3" cy="696.4" r="0.9" fill="#a6c4e0"/><circle cx="1020.9" cy="698.1" r="0.9" fill="#a6c4e0"/><circle cx="1068.8" cy="615.7" r="0.9" fill="#a6c4e0"/><circle cx="1066.0" cy="611.0" r="0.9" fill="#a6c4e0"/><circle cx="1066.8" cy="614.4" r="0.9" fill="#a6c4e0"/><circle cx="1024.2" cy="645.6" r="0.9" fill="#a6c4e0"/><circle cx="1024.1" cy="646.9" r="0.9" fill="#a6c4e0"/><circle cx="1024.2" cy="651.7" r="0.9" fill="#a6c4e0"/><circle cx="1047.8" cy="607.2" r="0.9" fill="#a6c4e0"/><circle cx="1045.1" cy="602.6" r="0.9" fill="#a6c4e0"/><circle cx="1043.4" cy="607.5" r="0.9" fill="#a6c4e0"/><circle cx="1039.4" cy="604.5" r="0.9" fill="#a6c4e0"/><circle cx="1038.3" cy="604.8" r="0.9" fill="#a6c4e0"/><circle cx="1039.7" cy="609.9" r="0.9" fill="#a6c4e0"/><circle cx="947.2" cy="670.2" r="0.9" fill="#a6c4e0"/><circle cx="947.9" cy="665.8" r="0.9" fill="#a6c4e0"/><circle cx="944.5" cy="667.7" r="0.9" fill="#a6c4e0"/><circle cx="980.0" cy="653.4" r="0.9" fill="#a6c4e0"/><circle cx="978.7" cy="654.2" r="0.9" fill="#a6c4e0"/><circle cx="980.1" cy="653.2" r="0.9" fill="#a6c4e0"/><circle cx="1068.2" cy="602.8" r="0.9" fill="#a6c4e0"/><circle cx="1068.3" cy="605.0" r="0.9" fill="#a6c4e0"/><circle cx="1067.0" cy="607.8" r="0.9" fill="#a6c4e0"/><circle cx="1034.0" cy="690.9" r="0.9" fill="#a6c4e0"/><circle cx="1036.4" cy="692.4" r="0.9" fill="#a6c4e0"/><circle cx="1034.1" cy="697.6" r="0.9" fill="#a6c4e0"/><circle cx="996.2" cy="670.8" r="0.9" fill="#a6c4e0"/><circle cx="998.7" cy="666.8" r="0.9" fill="#a6c4e0"/><circle cx="1002.5" cy="670.5" r="0.9" fill="#a6c4e0"/><circle cx="1005.2" cy="583.2" r="0.9" fill="#a6c4e0"/><circle cx="1005.2" cy="586.3" r="0.9" fill="#a6c4e0"/><circle cx="1006.7" cy="582.0" r="0.9" fill="#a6c4e0"/><circle cx="949.5" cy="592.2" r="0.9" fill="#a6c4e0"/><circle cx="950.6" cy="595.4" r="0.9" fill="#a6c4e0"/><circle cx="945.8" cy="597.7" r="0.9" fill="#a6c4e0"/><circle cx="1064.9" cy="653.7" r="0.9" fill="#a6c4e0"/><circle cx="1062.6" cy="653.7" r="0.9" fill="#a6c4e0"/><circle cx="1064.7" cy="657.6" r="0.9" fill="#a6c4e0"/><circle cx="978.8" cy="567.4" r="0.9" fill="#a6c4e0"/><circle cx="971.3" cy="567.7" r="0.9" fill="#a6c4e0"/><circle cx="976.0" cy="567.2" r="0.9" fill="#a6c4e0"/><circle cx="1047.2" cy="644.7" r="0.9" fill="#a6c4e0"/><circle cx="1049.3" cy="646.9" r="0.9" fill="#a6c4e0"/><circle cx="1049.5" cy="647.2" r="0.9" fill="#a6c4e0"/><circle cx="1068.4" cy="569.6" r="0.9" fill="#a6c4e0"/><circle cx="1071.2" cy="568.3" r="0.9" fill="#a6c4e0"/><circle cx="1071.1" cy="564.1" r="0.9" fill="#a6c4e0"/><circle cx="1089.9" cy="625.0" r="0.9" fill="#a6c4e0"/><circle cx="1089.2" cy="627.2" r="0.9" fill="#a6c4e0"/><circle cx="1092.8" cy="624.8" r="0.9" fill="#a6c4e0"/><circle cx="1095.6" cy="664.3" r="0.9" fill="#a6c4e0"/><circle cx="1095.4" cy="662.7" r="0.9" fill="#a6c4e0"/><circle cx="1092.4" cy="660.5" r="0.9" fill="#a6c4e0"/><circle cx="1056.8" cy="592.9" r="0.9" fill="#a6c4e0"/><circle cx="1059.4" cy="595.6" r="0.9" fill="#a6c4e0"/><circle cx="1060.3" cy="591.8" r="0.9" fill="#a6c4e0"/><circle cx="1073.8" cy="675.5" r="0.9" fill="#a6c4e0"/><circle cx="1074.1" cy="675.3" r="0.9" fill="#a6c4e0"/><circle cx="1073.3" cy="675.3" r="0.9" fill="#a6c4e0"/><circle cx="1057.7" cy="660.6" r="0.9" fill="#a6c4e0"/><circle cx="1055.4" cy="656.1" r="0.9" fill="#a6c4e0"/><circle cx="1060.9" cy="664.1" r="0.9" fill="#a6c4e0"/><circle cx="1066.2" cy="561.8" r="0.9" fill="#a6c4e0"/><circle cx="1064.9" cy="562.0" r="0.9" fill="#a6c4e0"/><circle cx="1067.9" cy="563.2" r="0.9" fill="#a6c4e0"/><circle cx="959.7" cy="652.1" r="0.9" fill="#a6c4e0"/><circle cx="960.2" cy="650.4" r="0.9" fill="#a6c4e0"/><circle cx="958.4" cy="654.9" r="0.9" fill="#a6c4e0"/><circle cx="999.1" cy="647.7" r="0.9" fill="#a6c4e0"/><circle cx="992.6" cy="648.6" r="0.9" fill="#a6c4e0"/><circle cx="993.7" cy="647.7" r="0.9" fill="#a6c4e0"/><circle cx="999.2" cy="612.4" r="0.9" fill="#a6c4e0"/><circle cx="998.1" cy="616.2" r="0.9" fill="#a6c4e0"/><circle cx="995.2" cy="614.8" r="0.9" fill="#a6c4e0"/><circle cx="1047.4" cy="626.9" r="0.9" fill="#a6c4e0"/><circle cx="1049.8" cy="631.1" r="0.9" fill="#a6c4e0"/><circle cx="1051.4" cy="629.8" r="0.9" fill="#a6c4e0"/><circle cx="1055.7" cy="658.9" r="0.9" fill="#a6c4e0"/><circle cx="1051.8" cy="659.6" r="0.9" fill="#a6c4e0"/><circle cx="1053.7" cy="658.7" r="0.9" fill="#a6c4e0"/><circle cx="1002.6" cy="611.6" r="0.9" fill="#a6c4e0"/><circle cx="1001.4" cy="610.6" r="0.9" fill="#a6c4e0"/><circle cx="998.5" cy="609.3" r="0.9" fill="#a6c4e0"/><circle cx="996.4" cy="616.8" r="0.9" fill="#a6c4e0"/><circle cx="995.8" cy="617.4" r="0.9" fill="#a6c4e0"/><circle cx="995.5" cy="617.2" r="0.9" fill="#a6c4e0"/><circle cx="964.1" cy="616.4" r="0.9" fill="#a6c4e0"/><circle cx="966.1" cy="614.9" r="0.9" fill="#a6c4e0"/><circle cx="964.9" cy="610.3" r="0.9" fill="#a6c4e0"/><circle cx="970.1" cy="621.1" r="0.9" fill="#a6c4e0"/><circle cx="969.7" cy="620.9" r="0.9" fill="#a6c4e0"/><circle cx="970.0" cy="620.0" r="0.9" fill="#a6c4e0"/><circle cx="1047.3" cy="594.7" r="0.9" fill="#a6c4e0"/><circle cx="1051.2" cy="596.2" r="0.9" fill="#a6c4e0"/><circle cx="1051.0" cy="596.7" r="0.9" fill="#a6c4e0"/><circle cx="957.7" cy="688.0" r="0.9" fill="#a6c4e0"/><circle cx="958.0" cy="694.4" r="0.9" fill="#a6c4e0"/><circle cx="955.4" cy="692.6" r="0.9" fill="#a6c4e0"/><circle cx="1111.2" cy="653.3" r="0.9" fill="#a6c4e0"/><circle cx="1111.2" cy="654.1" r="0.9" fill="#a6c4e0"/><circle cx="1108.9" cy="649.2" r="0.9" fill="#a6c4e0"/><circle cx="1090.6" cy="634.8" r="0.9" fill="#a6c4e0"/><circle cx="1091.6" cy="630.3" r="0.9" fill="#a6c4e0"/><circle cx="1089.7" cy="635.0" r="0.9" fill="#a6c4e0"/><circle cx="959.9" cy="688.4" r="0.9" fill="#a6c4e0"/><circle cx="956.6" cy="691.8" r="0.9" fill="#a6c4e0"/><circle cx="953.6" cy="685.6" r="0.9" fill="#a6c4e0"/><circle cx="1009.5" cy="580.5" r="0.9" fill="#a6c4e0"/><circle cx="1013.6" cy="578.9" r="0.9" fill="#a6c4e0"/><circle cx="1012.5" cy="580.3" r="0.9" fill="#a6c4e0"/><circle cx="1030.7" cy="587.5" r="0.9" fill="#a6c4e0"/><circle cx="1031.7" cy="589.5" r="0.9" fill="#a6c4e0"/><circle cx="1027.6" cy="592.6" r="0.9" fill="#a6c4e0"/><circle cx="965.3" cy="660.1" r="0.9" fill="#a6c4e0"/><circle cx="972.0" cy="658.4" r="0.9" fill="#a6c4e0"/><circle cx="964.8" cy="665.5" r="0.9" fill="#a6c4e0"/><circle cx="969.8" cy="639.2" r="0.9" fill="#a6c4e0"/><circle cx="968.8" cy="633.6" r="0.9" fill="#a6c4e0"/><circle cx="972.7" cy="632.7" r="0.9" fill="#a6c4e0"/><circle cx="974.8" cy="615.7" r="0.9" fill="#a6c4e0"/><circle cx="975.4" cy="615.1" r="0.9" fill="#a6c4e0"/><circle cx="977.8" cy="613.5" r="0.9" fill="#a6c4e0"/><circle cx="1075.9" cy="589.1" r="0.9" fill="#a6c4e0"/><circle cx="1079.0" cy="589.4" r="0.9" fill="#a6c4e0"/><circle cx="1074.7" cy="584.4" r="0.9" fill="#a6c4e0"/><circle cx="991.2" cy="702.6" r="0.9" fill="#a6c4e0"/><circle cx="986.9" cy="705.5" r="0.9" fill="#a6c4e0"/><circle cx="991.1" cy="703.5" r="0.9" fill="#a6c4e0"/><circle cx="1102.2" cy="621.3" r="0.9" fill="#a6c4e0"/><circle cx="1101.2" cy="613.6" r="0.9" fill="#a6c4e0"/><circle cx="1101.1" cy="615.8" r="0.9" fill="#a6c4e0"/><circle cx="949.0" cy="600.2" r="0.9" fill="#a6c4e0"/><circle cx="947.7" cy="600.6" r="0.9" fill="#a6c4e0"/><circle cx="947.1" cy="605.0" r="0.9" fill="#a6c4e0"/><circle cx="947.6" cy="601.9" r="0.9" fill="#a6c4e0"/><circle cx="948.4" cy="609.1" r="0.9" fill="#a6c4e0"/><circle cx="948.5" cy="602.6" r="0.9" fill="#a6c4e0"/><circle cx="1053.2" cy="683.8" r="0.9" fill="#a6c4e0"/><circle cx="1050.8" cy="683.0" r="0.9" fill="#a6c4e0"/><circle cx="1052.7" cy="682.1" r="0.9" fill="#a6c4e0"/><circle cx="983.8" cy="605.8" r="0.9" fill="#a6c4e0"/><circle cx="986.4" cy="607.5" r="0.9" fill="#a6c4e0"/><circle cx="982.1" cy="609.3" r="0.9" fill="#a6c4e0"/><circle cx="1023.3" cy="568.7" r="0.9" fill="#a6c4e0"/><circle cx="1020.4" cy="568.8" r="0.9" fill="#a6c4e0"/><circle cx="1023.8" cy="567.9" r="0.9" fill="#a6c4e0"/><circle cx="1067.6" cy="615.1" r="0.9" fill="#a6c4e0"/><circle cx="1064.8" cy="620.7" r="0.9" fill="#a6c4e0"/><circle cx="1065.9" cy="614.8" r="0.9" fill="#a6c4e0"/><circle cx="994.9" cy="651.8" r="0.9" fill="#a6c4e0"/><circle cx="993.0" cy="653.7" r="0.9" fill="#a6c4e0"/><circle cx="996.5" cy="654.6" r="0.9" fill="#a6c4e0"/><circle cx="1037.6" cy="598.6" r="0.9" fill="#a6c4e0"/><circle cx="1038.6" cy="599.5" r="0.9" fill="#a6c4e0"/><circle cx="1038.7" cy="599.3" r="0.9" fill="#a6c4e0"/><circle cx="983.7" cy="638.8" r="0.9" fill="#a6c4e0"/><circle cx="980.7" cy="638.0" r="0.9" fill="#a6c4e0"/><circle cx="984.5" cy="637.8" r="0.9" fill="#a6c4e0"/><circle cx="995.7" cy="601.0" r="0.9" fill="#a6c4e0"/><circle cx="996.8" cy="596.8" r="0.9" fill="#a6c4e0"/><circle cx="991.8" cy="596.0" r="0.9" fill="#a6c4e0"/><circle cx="1029.8" cy="621.6" r="0.9" fill="#a6c4e0"/><circle cx="1025.0" cy="620.8" r="0.9" fill="#a6c4e0"/><circle cx="1028.4" cy="619.8" r="0.9" fill="#a6c4e0"/><circle cx="974.0" cy="574.5" r="0.9" fill="#a6c4e0"/><circle cx="972.5" cy="577.8" r="0.9" fill="#a6c4e0"/><circle cx="975.7" cy="578.8" r="0.9" fill="#a6c4e0"/><circle cx="1042.1" cy="637.0" r="0.9" fill="#a6c4e0"/><circle cx="1038.1" cy="639.5" r="0.9" fill="#a6c4e0"/><circle cx="1037.5" cy="640.1" r="0.9" fill="#a6c4e0"/><circle cx="1077.6" cy="624.9" r="0.9" fill="#a6c4e0"/><circle cx="1078.4" cy="622.2" r="0.9" fill="#a6c4e0"/><circle cx="1077.5" cy="619.6" r="0.9" fill="#a6c4e0"/><circle cx="1019.4" cy="656.3" r="0.9" fill="#a6c4e0"/><circle cx="1024.7" cy="655.5" r="0.9" fill="#a6c4e0"/><circle cx="1020.0" cy="657.0" r="0.9" fill="#a6c4e0"/><circle cx="1068.6" cy="634.1" r="0.9" fill="#a6c4e0"/><circle cx="1065.5" cy="633.7" r="0.9" fill="#a6c4e0"/><circle cx="1068.9" cy="634.8" r="0.9" fill="#a6c4e0"/><circle cx="1009.3" cy="561.6" r="0.9" fill="#a6c4e0"/><circle cx="1011.2" cy="562.1" r="0.9" fill="#a6c4e0"/><circle cx="1013.4" cy="560.4" r="0.9" fill="#a6c4e0"/><circle cx="1013.6" cy="631.5" r="0.9" fill="#a6c4e0"/><circle cx="1007.6" cy="631.0" r="0.9" fill="#a6c4e0"/><circle cx="1008.5" cy="629.7" r="0.9" fill="#a6c4e0"/><circle cx="989.8" cy="616.8" r="0.9" fill="#a6c4e0"/><circle cx="987.1" cy="615.1" r="0.9" fill="#a6c4e0"/><circle cx="983.8" cy="619.9" r="0.9" fill="#a6c4e0"/><circle cx="954.7" cy="675.0" r="0.9" fill="#a6c4e0"/><circle cx="951.9" cy="682.9" r="0.9" fill="#a6c4e0"/><circle cx="952.8" cy="680.3" r="0.9" fill="#a6c4e0"/><circle cx="1007.8" cy="661.3" r="0.9" fill="#a6c4e0"/><circle cx="1010.1" cy="664.6" r="0.9" fill="#a6c4e0"/><circle cx="1011.6" cy="664.2" r="0.9" fill="#a6c4e0"/><circle cx="947.5" cy="663.5" r="0.9" fill="#a6c4e0"/><circle cx="946.1" cy="661.1" r="0.9" fill="#a6c4e0"/><circle cx="942.0" cy="658.1" r="0.9" fill="#a6c4e0"/><circle cx="1034.3" cy="626.6" r="0.9" fill="#a6c4e0"/><circle cx="1034.0" cy="626.2" r="0.9" fill="#a6c4e0"/><circle cx="1039.1" cy="628.2" r="0.9" fill="#a6c4e0"/><circle cx="980.1" cy="597.5" r="0.9" fill="#a6c4e0"/><circle cx="983.2" cy="595.0" r="0.9" fill="#a6c4e0"/><circle cx="981.3" cy="595.8" r="0.9" fill="#a6c4e0"/><circle cx="969.1" cy="694.8" r="0.9" fill="#a6c4e0"/><circle cx="970.0" cy="693.8" r="0.9" fill="#a6c4e0"/><circle cx="968.9" cy="695.4" r="0.9" fill="#a6c4e0"/><circle cx="988.8" cy="681.3" r="0.9" fill="#a6c4e0"/><circle cx="985.6" cy="681.0" r="0.9" fill="#a6c4e0"/><circle cx="986.9" cy="675.3" r="0.9" fill="#a6c4e0"/><circle cx="1053.1" cy="655.3" r="0.9" fill="#a6c4e0"/><circle cx="1051.9" cy="658.6" r="0.9" fill="#a6c4e0"/><circle cx="1053.0" cy="651.9" r="0.9" fill="#a6c4e0"/><circle cx="985.0" cy="588.3" r="0.9" fill="#a6c4e0"/><circle cx="984.1" cy="587.6" r="0.9" fill="#a6c4e0"/><circle cx="984.2" cy="584.1" r="0.9" fill="#a6c4e0"/><circle cx="966.8" cy="629.0" r="0.9" fill="#a6c4e0"/><circle cx="965.4" cy="625.4" r="0.9" fill="#a6c4e0"/><circle cx="968.5" cy="630.3" r="0.9" fill="#a6c4e0"/><circle cx="952.2" cy="651.6" r="0.9" fill="#a6c4e0"/><circle cx="955.1" cy="652.4" r="0.9" fill="#a6c4e0"/><circle cx="951.5" cy="654.1" r="0.9" fill="#a6c4e0"/><circle cx="1023.6" cy="658.6" r="0.9" fill="#a6c4e0"/><circle cx="1027.3" cy="661.4" r="0.9" fill="#a6c4e0"/><circle cx="1029.4" cy="658.5" r="0.9" fill="#a6c4e0"/><circle cx="983.6" cy="668.3" r="0.9" fill="#a6c4e0"/><circle cx="979.9" cy="669.3" r="0.9" fill="#a6c4e0"/><circle cx="983.9" cy="668.2" r="0.9" fill="#a6c4e0"/><circle cx="954.7" cy="605.2" r="0.9" fill="#a6c4e0"/><circle cx="948.6" cy="599.0" r="0.9" fill="#a6c4e0"/><circle cx="952.0" cy="602.4" r="0.9" fill="#a6c4e0"/><circle cx="1033.5" cy="698.3" r="0.9" fill="#a6c4e0"/><circle cx="1030.5" cy="699.1" r="0.9" fill="#a6c4e0"/><circle cx="1028.3" cy="696.2" r="0.9" fill="#a6c4e0"/><circle cx="1083.6" cy="652.8" r="0.9" fill="#a6c4e0"/><circle cx="1082.0" cy="654.3" r="0.9" fill="#a6c4e0"/><circle cx="1080.8" cy="648.8" r="0.9" fill="#a6c4e0"/><circle cx="1049.5" cy="576.7" r="0.9" fill="#a6c4e0"/><circle cx="1052.0" cy="577.3" r="0.9" fill="#a6c4e0"/><circle cx="1049.2" cy="575.6" r="0.9" fill="#a6c4e0"/><circle cx="1109.2" cy="625.5" r="0.9" fill="#a6c4e0"/><circle cx="1110.1" cy="625.0" r="0.9" fill="#a6c4e0"/><circle cx="1112.4" cy="626.3" r="0.9" fill="#a6c4e0"/><circle cx="989.9" cy="573.6" r="0.9" fill="#a6c4e0"/><circle cx="995.9" cy="577.8" r="0.9" fill="#a6c4e0"/><circle cx="992.2" cy="575.0" r="0.9" fill="#a6c4e0"/><circle cx="950.7" cy="648.8" r="0.9" fill="#a6c4e0"/><circle cx="951.9" cy="651.3" r="0.9" fill="#a6c4e0"/><circle cx="953.5" cy="650.8" r="0.9" fill="#a6c4e0"/><circle cx="1019.9" cy="620.7" r="0.9" fill="#a6c4e0"/><circle cx="1023.9" cy="615.9" r="0.9" fill="#a6c4e0"/><circle cx="1022.7" cy="617.2" r="0.9" fill="#a6c4e0"/><circle cx="983.5" cy="570.8" r="0.9" fill="#a6c4e0"/><circle cx="983.3" cy="569.9" r="0.9" fill="#a6c4e0"/><circle cx="981.5" cy="577.7" r="0.9" fill="#a6c4e0"/><circle cx="1055.1" cy="569.2" r="0.9" fill="#a6c4e0"/><circle cx="1057.4" cy="569.5" r="0.9" fill="#a6c4e0"/><circle cx="1051.4" cy="571.4" r="0.9" fill="#a6c4e0"/><circle cx="1064.5" cy="632.2" r="0.9" fill="#a6c4e0"/><circle cx="1064.5" cy="637.3" r="0.9" fill="#a6c4e0"/><circle cx="1064.1" cy="632.4" r="0.9" fill="#a6c4e0"/><circle cx="976.9" cy="638.9" r="0.9" fill="#a6c4e0"/><circle cx="980.6" cy="631.2" r="0.9" fill="#a6c4e0"/><circle cx="979.6" cy="636.4" r="0.9" fill="#a6c4e0"/><circle cx="942.2" cy="669.4" r="0.9" fill="#a6c4e0"/><circle cx="944.1" cy="668.7" r="0.9" fill="#a6c4e0"/><circle cx="942.1" cy="672.3" r="0.9" fill="#a6c4e0"/><circle cx="959.4" cy="640.8" r="0.9" fill="#a6c4e0"/><circle cx="960.2" cy="643.8" r="0.9" fill="#a6c4e0"/><circle cx="960.7" cy="644.8" r="0.9" fill="#a6c4e0"/><circle cx="997.8" cy="695.5" r="0.9" fill="#a6c4e0"/><circle cx="998.2" cy="696.2" r="0.9" fill="#a6c4e0"/><circle cx="997.2" cy="697.0" r="0.9" fill="#a6c4e0"/><circle cx="1072.6" cy="645.9" r="0.9" fill="#a6c4e0"/><circle cx="1073.0" cy="641.5" r="0.9" fill="#a6c4e0"/><circle cx="1079.1" cy="645.3" r="0.9" fill="#a6c4e0"/><circle cx="1095.8" cy="576.1" r="0.9" fill="#a6c4e0"/><circle cx="1097.8" cy="572.1" r="0.9" fill="#a6c4e0"/><circle cx="1095.5" cy="569.2" r="0.9" fill="#a6c4e0"/><circle cx="953.7" cy="680.8" r="0.9" fill="#a6c4e0"/><circle cx="952.1" cy="677.6" r="0.9" fill="#a6c4e0"/><circle cx="953.8" cy="683.1" r="0.9" fill="#a6c4e0"/><circle cx="1019.6" cy="617.2" r="0.9" fill="#a6c4e0"/><circle cx="1021.1" cy="621.0" r="0.9" fill="#a6c4e0"/><circle cx="1021.9" cy="621.2" r="0.9" fill="#a6c4e0"/><circle cx="1109.2" cy="644.4" r="0.9" fill="#a6c4e0"/><circle cx="1106.1" cy="637.4" r="0.9" fill="#a6c4e0"/><circle cx="1107.9" cy="642.9" r="0.9" fill="#a6c4e0"/><circle cx="1016.6" cy="633.3" r="0.9" fill="#a6c4e0"/><circle cx="1012.8" cy="639.4" r="0.9" fill="#a6c4e0"/><circle cx="1016.0" cy="635.0" r="0.9" fill="#a6c4e0"/><circle cx="1047.6" cy="590.6" r="0.9" fill="#a6c4e0"/><circle cx="1045.6" cy="593.2" r="0.9" fill="#a6c4e0"/><circle cx="1047.5" cy="590.6" r="0.9" fill="#a6c4e0"/><circle cx="1025.4" cy="579.0" r="0.9" fill="#a6c4e0"/><circle cx="1020.7" cy="578.2" r="0.9" fill="#a6c4e0"/><circle cx="1023.4" cy="582.4" r="0.9" fill="#a6c4e0"/><circle cx="1090.1" cy="675.8" r="0.9" fill="#a6c4e0"/><circle cx="1087.2" cy="681.8" r="0.9" fill="#a6c4e0"/><circle cx="1086.2" cy="677.4" r="0.9" fill="#a6c4e0"/><circle cx="1073.4" cy="606.1" r="0.9" fill="#a6c4e0"/><circle cx="1072.3" cy="603.2" r="0.9" fill="#a6c4e0"/><circle cx="1077.3" cy="605.8" r="0.9" fill="#a6c4e0"/><circle cx="970.0" cy="573.0" r="0.9" fill="#a6c4e0"/><circle cx="963.9" cy="573.5" r="0.9" fill="#a6c4e0"/><circle cx="966.2" cy="569.7" r="0.9" fill="#a6c4e0"/><circle cx="1090.8" cy="618.0" r="0.9" fill="#a6c4e0"/><circle cx="1093.9" cy="618.4" r="0.9" fill="#a6c4e0"/><circle cx="1096.2" cy="622.5" r="0.9" fill="#a6c4e0"/><circle cx="1061.8" cy="574.2" r="0.9" fill="#a6c4e0"/><circle cx="1058.4" cy="572.0" r="0.9" fill="#a6c4e0"/><circle cx="1061.0" cy="573.7" r="0.9" fill="#a6c4e0"/><circle cx="1077.8" cy="635.0" r="0.9" fill="#a6c4e0"/><circle cx="1083.9" cy="632.6" r="0.9" fill="#a6c4e0"/><circle cx="1083.6" cy="635.8" r="0.9" fill="#a6c4e0"/><circle cx="975.3" cy="612.5" r="0.9" fill="#a6c4e0"/><circle cx="980.0" cy="616.6" r="0.9" fill="#a6c4e0"/><circle cx="979.2" cy="619.2" r="0.9" fill="#a6c4e0"/><circle cx="1023.2" cy="581.7" r="0.9" fill="#a6c4e0"/><circle cx="1019.7" cy="585.4" r="0.9" fill="#a6c4e0"/><circle cx="1017.7" cy="587.1" r="0.9" fill="#a6c4e0"/><circle cx="950.8" cy="641.0" r="0.9" fill="#a6c4e0"/><circle cx="952.6" cy="641.2" r="0.9" fill="#a6c4e0"/><circle cx="952.8" cy="642.2" r="0.9" fill="#a6c4e0"/><circle cx="991.5" cy="577.2" r="0.9" fill="#a6c4e0"/><circle cx="993.0" cy="576.6" r="0.9" fill="#a6c4e0"/><circle cx="993.0" cy="572.0" r="0.9" fill="#a6c4e0"/><circle cx="1100.7" cy="653.1" r="0.9" fill="#a6c4e0"/><circle cx="1103.5" cy="654.9" r="0.9" fill="#a6c4e0"/><circle cx="1101.2" cy="655.0" r="0.9" fill="#a6c4e0"/><circle cx="1046.8" cy="592.5" r="0.9" fill="#a6c4e0"/><circle cx="1049.2" cy="592.2" r="0.9" fill="#a6c4e0"/><circle cx="1046.8" cy="589.9" r="0.9" fill="#a6c4e0"/><circle cx="975.1" cy="564.4" r="0.9" fill="#a6c4e0"/><circle cx="974.7" cy="562.4" r="0.9" fill="#a6c4e0"/><circle cx="974.0" cy="564.4" r="0.9" fill="#a6c4e0"/><circle cx="1079.4" cy="688.9" r="0.9" fill="#a6c4e0"/><circle cx="1082.1" cy="687.0" r="0.9" fill="#a6c4e0"/><circle cx="1082.1" cy="686.0" r="0.9" fill="#a6c4e0"/><circle cx="1018.7" cy="665.1" r="0.9" fill="#a6c4e0"/><circle cx="1019.0" cy="670.2" r="0.9" fill="#a6c4e0"/><circle cx="1022.8" cy="670.3" r="0.9" fill="#a6c4e0"/><circle cx="1026.4" cy="670.1" r="0.9" fill="#a6c4e0"/><circle cx="1031.5" cy="668.4" r="0.9" fill="#a6c4e0"/><circle cx="1029.5" cy="667.1" r="0.9" fill="#a6c4e0"/><circle cx="944.0" cy="589.6" r="0.9" fill="#a6c4e0"/><circle cx="946.5" cy="591.9" r="0.9" fill="#a6c4e0"/><circle cx="949.0" cy="592.8" r="0.9" fill="#a6c4e0"/><circle cx="987.1" cy="669.9" r="0.9" fill="#a6c4e0"/><circle cx="984.7" cy="670.1" r="0.9" fill="#a6c4e0"/><circle cx="986.6" cy="669.3" r="0.9" fill="#a6c4e0"/><circle cx="1100.9" cy="627.1" r="0.9" fill="#a6c4e0"/><circle cx="1104.2" cy="630.7" r="0.9" fill="#a6c4e0"/><circle cx="1099.2" cy="623.6" r="0.9" fill="#a6c4e0"/><circle cx="1033.0" cy="676.0" r="0.9" fill="#a6c4e0"/><circle cx="1036.0" cy="675.2" r="0.9" fill="#a6c4e0"/><circle cx="1036.5" cy="673.7" r="0.9" fill="#a6c4e0"/><circle cx="996.3" cy="612.4" r="0.9" fill="#a6c4e0"/><circle cx="996.4" cy="616.0" r="0.9" fill="#a6c4e0"/><circle cx="998.9" cy="614.0" r="0.9" fill="#a6c4e0"/><circle cx="1064.6" cy="646.7" r="0.9" fill="#a6c4e0"/><circle cx="1062.4" cy="647.4" r="0.9" fill="#a6c4e0"/><circle cx="1060.1" cy="644.2" r="0.9" fill="#a6c4e0"/><circle cx="1018.1" cy="625.5" r="0.9" fill="#a6c4e0"/><circle cx="1021.1" cy="629.4" r="0.9" fill="#a6c4e0"/><circle cx="1022.9" cy="627.8" r="0.9" fill="#a6c4e0"/><circle cx="1109.0" cy="669.0" r="0.9" fill="#a6c4e0"/><circle cx="1108.5" cy="670.1" r="0.9" fill="#a6c4e0"/><circle cx="1107.3" cy="665.5" r="0.9" fill="#a6c4e0"/><circle cx="987.2" cy="658.1" r="0.9" fill="#a6c4e0"/><circle cx="989.6" cy="660.2" r="0.9" fill="#a6c4e0"/><circle cx="992.0" cy="656.5" r="0.9" fill="#a6c4e0"/><circle cx="990.0" cy="649.0" r="0.9" fill="#a6c4e0"/><circle cx="983.5" cy="642.6" r="0.9" fill="#a6c4e0"/><circle cx="987.0" cy="650.4" r="0.9" fill="#a6c4e0"/><circle cx="1012.2" cy="609.9" r="0.9" fill="#a6c4e0"/><circle cx="1010.2" cy="610.4" r="0.9" fill="#a6c4e0"/><circle cx="1010.9" cy="614.5" r="0.9" fill="#a6c4e0"/><circle cx="1027.1" cy="565.9" r="0.9" fill="#a6c4e0"/><circle cx="1024.2" cy="563.6" r="0.9" fill="#a6c4e0"/><circle cx="1023.2" cy="565.1" r="0.9" fill="#a6c4e0"/><circle cx="957.9" cy="613.2" r="0.9" fill="#a6c4e0"/><circle cx="952.0" cy="615.2" r="0.9" fill="#a6c4e0"/><circle cx="952.8" cy="618.0" r="0.9" fill="#a6c4e0"/><circle cx="1086.4" cy="612.7" r="0.9" fill="#a6c4e0"/><circle cx="1087.7" cy="607.2" r="0.9" fill="#a6c4e0"/><circle cx="1085.9" cy="615.3" r="0.9" fill="#a6c4e0"/><circle cx="1060.6" cy="676.1" r="0.9" fill="#a6c4e0"/><circle cx="1057.2" cy="676.0" r="0.9" fill="#a6c4e0"/><circle cx="1064.3" cy="671.1" r="0.9" fill="#a6c4e0"/><circle cx="1110.8" cy="599.6" r="0.9" fill="#a6c4e0"/><circle cx="1107.8" cy="608.4" r="0.9" fill="#a6c4e0"/><circle cx="1104.1" cy="604.5" r="0.9" fill="#a6c4e0"/><circle cx="1098.6" cy="681.4" r="0.9" fill="#a6c4e0"/><circle cx="1101.4" cy="683.4" r="0.9" fill="#a6c4e0"/><circle cx="1097.4" cy="679.9" r="0.9" fill="#a6c4e0"/><circle cx="986.8" cy="684.8" r="0.9" fill="#a6c4e0"/><circle cx="982.0" cy="684.7" r="0.9" fill="#a6c4e0"/><circle cx="985.2" cy="686.1" r="0.9" fill="#a6c4e0"/><circle cx="1022.4" cy="586.9" r="0.9" fill="#a6c4e0"/><circle cx="1018.5" cy="582.8" r="0.9" fill="#a6c4e0"/><circle cx="1019.1" cy="588.8" r="0.9" fill="#a6c4e0"/><circle cx="1103.4" cy="634.4" r="0.9" fill="#a6c4e0"/><circle cx="1100.8" cy="633.8" r="0.9" fill="#a6c4e0"/><circle cx="1101.7" cy="641.4" r="0.9" fill="#a6c4e0"/><circle cx="1046.6" cy="573.5" r="0.9" fill="#a6c4e0"/><circle cx="1048.6" cy="577.2" r="0.9" fill="#a6c4e0"/><circle cx="1050.2" cy="570.0" r="0.9" fill="#a6c4e0"/><circle cx="1109.6" cy="581.4" r="0.9" fill="#a6c4e0"/><circle cx="1106.0" cy="582.9" r="0.9" fill="#a6c4e0"/><circle cx="1106.2" cy="586.2" r="0.9" fill="#a6c4e0"/><circle cx="986.9" cy="670.5" r="0.9" fill="#a6c4e0"/><circle cx="988.6" cy="669.6" r="0.9" fill="#a6c4e0"/><circle cx="990.2" cy="664.8" r="0.9" fill="#a6c4e0"/><circle cx="966.2" cy="574.8" r="0.9" fill="#a6c4e0"/><circle cx="965.9" cy="572.2" r="0.9" fill="#a6c4e0"/><circle cx="965.8" cy="575.8" r="0.9" fill="#a6c4e0"/><circle cx="1103.3" cy="603.0" r="0.9" fill="#a6c4e0"/><circle cx="1102.2" cy="603.9" r="0.9" fill="#a6c4e0"/><circle cx="1097.9" cy="603.2" r="0.9" fill="#a6c4e0"/><circle cx="1045.5" cy="562.6" r="0.9" fill="#a6c4e0"/><circle cx="1045.6" cy="563.4" r="0.9" fill="#a6c4e0"/><circle cx="1049.0" cy="560.1" r="0.9" fill="#a6c4e0"/><circle cx="981.1" cy="566.6" r="0.9" fill="#a6c4e0"/><circle cx="982.2" cy="569.6" r="0.9" fill="#a6c4e0"/><circle cx="980.1" cy="564.9" r="0.9" fill="#a6c4e0"/><circle cx="961.1" cy="593.5" r="0.9" fill="#a6c4e0"/><circle cx="963.7" cy="589.3" r="0.9" fill="#a6c4e0"/><circle cx="964.3" cy="589.5" r="0.9" fill="#a6c4e0"/><circle cx="973.6" cy="686.7" r="0.9" fill="#a6c4e0"/><circle cx="972.9" cy="687.3" r="0.9" fill="#a6c4e0"/><circle cx="973.7" cy="683.6" r="0.9" fill="#a6c4e0"/><circle cx="1022.1" cy="587.7" r="0.9" fill="#a6c4e0"/><circle cx="1020.0" cy="582.5" r="0.9" fill="#a6c4e0"/><circle cx="1024.1" cy="584.7" r="0.9" fill="#a6c4e0"/><circle cx="1074.2" cy="663.8" r="0.9" fill="#a6c4e0"/><circle cx="1071.6" cy="658.3" r="0.9" fill="#a6c4e0"/><circle cx="1073.7" cy="658.6" r="0.9" fill="#a6c4e0"/><circle cx="1097.9" cy="594.4" r="0.9" fill="#a6c4e0"/><circle cx="1095.7" cy="591.5" r="0.9" fill="#a6c4e0"/><circle cx="1094.9" cy="600.0" r="0.9" fill="#a6c4e0"/><circle cx="995.9" cy="686.8" r="0.9" fill="#a6c4e0"/><circle cx="991.9" cy="679.4" r="0.9" fill="#a6c4e0"/><circle cx="994.2" cy="678.3" r="0.9" fill="#a6c4e0"/><circle cx="948.9" cy="608.2" r="0.9" fill="#a6c4e0"/><circle cx="943.8" cy="608.4" r="0.9" fill="#a6c4e0"/><circle cx="948.3" cy="606.2" r="0.9" fill="#a6c4e0"/><circle cx="1019.8" cy="593.3" r="0.9" fill="#a6c4e0"/><circle cx="1019.8" cy="592.4" r="0.9" fill="#a6c4e0"/><circle cx="1020.4" cy="593.7" r="0.9" fill="#a6c4e0"/><circle cx="1089.2" cy="665.1" r="0.9" fill="#a6c4e0"/><circle cx="1093.1" cy="666.1" r="0.9" fill="#a6c4e0"/><circle cx="1084.1" cy="663.9" r="0.9" fill="#a6c4e0"/><circle cx="1024.0" cy="665.0" r="0.9" fill="#a6c4e0"/><circle cx="1024.0" cy="666.8" r="0.9" fill="#a6c4e0"/><circle cx="1025.4" cy="665.8" r="0.9" fill="#a6c4e0"/><circle cx="1088.2" cy="567.4" r="0.9" fill="#a6c4e0"/><circle cx="1087.0" cy="573.3" r="0.9" fill="#a6c4e0"/><circle cx="1088.5" cy="567.1" r="0.9" fill="#a6c4e0"/><circle cx="1021.6" cy="681.3" r="0.9" fill="#a6c4e0"/><circle cx="1025.8" cy="683.0" r="0.9" fill="#a6c4e0"/><circle cx="1024.7" cy="681.6" r="0.9" fill="#a6c4e0"/><circle cx="991.0" cy="680.1" r="0.9" fill="#a6c4e0"/><circle cx="992.2" cy="675.9" r="0.9" fill="#a6c4e0"/><circle cx="988.5" cy="683.1" r="0.9" fill="#a6c4e0"/><circle cx="1022.0" cy="629.7" r="0.9" fill="#a6c4e0"/><circle cx="1027.8" cy="631.8" r="0.9" fill="#a6c4e0"/><circle cx="1025.2" cy="635.9" r="0.9" fill="#a6c4e0"/><circle cx="1009.5" cy="558.1" r="0.9" fill="#a6c4e0"/><circle cx="1012.0" cy="561.3" r="0.9" fill="#a6c4e0"/><circle cx="1013.2" cy="561.5" r="0.9" fill="#a6c4e0"/><circle cx="1093.3" cy="573.0" r="0.9" fill="#a6c4e0"/><circle cx="1095.7" cy="573.6" r="0.9" fill="#a6c4e0"/><circle cx="1097.0" cy="571.2" r="0.9" fill="#a6c4e0"/><circle cx="996.9" cy="583.0" r="0.9" fill="#a6c4e0"/><circle cx="997.3" cy="586.0" r="0.9" fill="#a6c4e0"/><circle cx="995.3" cy="580.5" r="0.9" fill="#a6c4e0"/><circle cx="1024.5" cy="593.1" r="0.9" fill="#a6c4e0"/><circle cx="1027.3" cy="595.4" r="0.9" fill="#a6c4e0"/><circle cx="1026.2" cy="594.3" r="0.9" fill="#a6c4e0"/><circle cx="944.1" cy="652.9" r="0.9" fill="#a6c4e0"/><circle cx="944.7" cy="648.8" r="0.9" fill="#a6c4e0"/><circle cx="943.1" cy="652.5" r="0.9" fill="#a6c4e0"/><circle cx="1019.4" cy="613.3" r="0.9" fill="#a6c4e0"/><circle cx="1028.6" cy="610.9" r="0.9" fill="#a6c4e0"/><circle cx="1019.4" cy="613.2" r="0.9" fill="#a6c4e0"/><circle cx="1030.2" cy="569.5" r="0.9" fill="#a6c4e0"/><circle cx="1026.7" cy="569.7" r="0.9" fill="#a6c4e0"/><circle cx="1026.6" cy="571.5" r="0.9" fill="#a6c4e0"/></g>
<circle cx="1036.2" cy="641.9" r="1.3" fill="#4e9a3a"/><circle cx="973.4" cy="655.2" r="0.9" fill="#c83a2a"/><circle cx="1076.8" cy="639.3" r="0.9" fill="#c83a2a"/><circle cx="1087.8" cy="589.7" r="0.9" fill="#ffffff"/><circle cx="1074.6" cy="662.4" r="1.3" fill="#4e9a3a"/><circle cx="981.0" cy="595.5" r="0.9" fill="#c83a2a"/><circle cx="1060.6" cy="687.8" r="0.9" fill="#ffffff"/><circle cx="981.1" cy="685.3" r="0.9" fill="#c83a2a"/><circle cx="1026.8" cy="655.7" r="1.3" fill="#4e9a3a"/><circle cx="961.8" cy="685.0" r="0.9" fill="#ffffff"/><circle cx="1045.2" cy="613.0" r="0.9" fill="#c83a2a"/><circle cx="1084.0" cy="641.3" r="0.9" fill="#c83a2a"/><circle cx="978.7" cy="686.4" r="1.3" fill="#4e9a3a"/><circle cx="1021.5" cy="641.8" r="0.9" fill="#c83a2a"/><circle cx="1074.5" cy="561.2" r="0.9" fill="#c83a2a"/><circle cx="1045.5" cy="602.2" r="0.9" fill="#ffffff"/><circle cx="1042.6" cy="587.7" r="1.3" fill="#4e9a3a"/><circle cx="1011.5" cy="630.0" r="0.9" fill="#c83a2a"/><circle cx="956.2" cy="676.9" r="0.9" fill="#ffffff"/><circle cx="973.5" cy="644.2" r="0.9" fill="#c83a2a"/><circle cx="960.4" cy="568.5" r="1.3" fill="#4e9a3a"/><circle cx="960.6" cy="692.8" r="0.9" fill="#ffffff"/><circle cx="977.2" cy="573.0" r="0.9" fill="#c83a2a"/><circle cx="1072.2" cy="650.4" r="0.9" fill="#c83a2a"/><circle cx="946.9" cy="674.6" r="1.3" fill="#4e9a3a"/><circle cx="993.2" cy="682.7" r="0.9" fill="#c83a2a"/><circle cx="973.6" cy="656.2" r="0.9" fill="#c83a2a"/><circle cx="1009.0" cy="629.9" r="0.9" fill="#ffffff"/><circle cx="1087.8" cy="659.7" r="1.3" fill="#4e9a3a"/><circle cx="969.6" cy="570.4" r="0.9" fill="#c83a2a"/><circle cx="1022.4" cy="614.0" r="0.9" fill="#ffffff"/><circle cx="962.4" cy="681.6" r="0.9" fill="#c83a2a"/><circle cx="982.0" cy="709.5" r="1.3" fill="#4e9a3a"/><circle cx="1082.1" cy="661.1" r="0.9" fill="#ffffff"/><circle cx="1071.7" cy="649.2" r="0.9" fill="#c83a2a"/><circle cx="1036.2" cy="650.9" r="0.9" fill="#c83a2a"/><circle cx="942.3" cy="647.8" r="1.3" fill="#4e9a3a"/><circle cx="1090.5" cy="681.5" r="0.9" fill="#c83a2a"/><circle cx="947.2" cy="635.4" r="0.9" fill="#c83a2a"/><circle cx="943.1" cy="651.6" r="0.9" fill="#ffffff"/><circle cx="1023.5" cy="600.1" r="1.3" fill="#4e9a3a"/><circle cx="1061.0" cy="607.5" r="0.9" fill="#c83a2a"/><circle cx="951.6" cy="678.1" r="0.9" fill="#ffffff"/><circle cx="1039.9" cy="562.3" r="0.9" fill="#c83a2a"/><circle cx="952.0" cy="631.3" r="1.3" fill="#4e9a3a"/><circle cx="1084.2" cy="624.0" r="0.9" fill="#ffffff"/><circle cx="1042.0" cy="697.5" r="0.9" fill="#c83a2a"/><circle cx="1085.3" cy="601.0" r="0.9" fill="#c83a2a"/><circle cx="1106.7" cy="636.4" r="1.3" fill="#4e9a3a"/><circle cx="936.3" cy="647.9" r="0.9" fill="#c83a2a"/><circle cx="958.9" cy="605.9" r="0.9" fill="#c83a2a"/><circle cx="1054.6" cy="618.1" r="0.9" fill="#ffffff"/><circle cx="999.6" cy="626.5" r="1.3" fill="#4e9a3a"/><circle cx="1029.1" cy="607.2" r="0.9" fill="#c83a2a"/><circle cx="1013.1" cy="587.5" r="0.9" fill="#ffffff"/><circle cx="1068.1" cy="627.5" r="0.9" fill="#c83a2a"/><circle cx="1072.8" cy="676.6" r="1.3" fill="#4e9a3a"/><circle cx="992.4" cy="696.4" r="0.9" fill="#ffffff"/><circle cx="1022.6" cy="588.9" r="0.9" fill="#c83a2a"/><circle cx="1041.4" cy="664.0" r="0.9" fill="#c83a2a"/><circle cx="937.4" cy="647.5" r="1.3" fill="#4e9a3a"/><circle cx="997.6" cy="593.4" r="0.9" fill="#c83a2a"/><circle cx="971.7" cy="633.4" r="0.9" fill="#c83a2a"/><circle cx="974.0" cy="567.8" r="0.9" fill="#ffffff"/><circle cx="1040.4" cy="689.5" r="1.3" fill="#4e9a3a"/><circle cx="1042.0" cy="609.8" r="0.9" fill="#c83a2a"/><circle cx="988.2" cy="582.9" r="0.9" fill="#ffffff"/><circle cx="988.8" cy="578.7" r="0.9" fill="#c83a2a"/><circle cx="1019.5" cy="560.5" r="1.3" fill="#4e9a3a"/><circle cx="1032.9" cy="631.9" r="0.9" fill="#ffffff"/><circle cx="950.1" cy="584.5" r="0.9" fill="#c83a2a"/><circle cx="1014.7" cy="586.5" r="0.9" fill="#c83a2a"/><circle cx="1069.2" cy="639.6" r="1.3" fill="#4e9a3a"/><circle cx="1012.6" cy="567.9" r="0.9" fill="#c83a2a"/><circle cx="1006.4" cy="609.9" r="0.9" fill="#c83a2a"/><circle cx="1088.9" cy="633.9" r="0.9" fill="#ffffff"/><circle cx="1032.9" cy="668.2" r="1.3" fill="#4e9a3a"/><circle cx="1049.8" cy="583.3" r="0.9" fill="#c83a2a"/><circle cx="995.1" cy="659.1" r="0.9" fill="#ffffff"/><circle cx="1077.6" cy="669.9" r="0.9" fill="#c83a2a"/><circle cx="986.0" cy="581.2" r="1.3" fill="#4e9a3a"/><circle cx="1079.0" cy="634.7" r="0.9" fill="#ffffff"/><circle cx="994.4" cy="647.7" r="0.9" fill="#c83a2a"/><circle cx="988.2" cy="645.0" r="0.9" fill="#c83a2a"/><circle cx="969.5" cy="585.3" r="1.3" fill="#4e9a3a"/><circle cx="1032.5" cy="622.9" r="0.9" fill="#c83a2a"/><circle cx="1003.8" cy="602.6" r="0.9" fill="#c83a2a"/><circle cx="1078.5" cy="601.5" r="0.9" fill="#ffffff"/><circle cx="1027.1" cy="661.4" r="1.3" fill="#4e9a3a"/><circle cx="1026.9" cy="570.0" r="0.9" fill="#c83a2a"/>
<defs><pattern id="slC" patternUnits="userSpaceOnUse" x="428.20" y="786.30" width="11.55" height="12.8">
<rect width="11.55" height="12.8" fill="#78a8da"/>
<path d="M0,0 L5.775,6.4 L0,12.8 Z" fill="#8cbbe9"/><path d="M11.55,0 L5.775,6.4 L11.55,12.8 Z" fill="#6394c8"/>
<path d="M5.775,0.6 L10.950000000000001,6.4 L5.775,12.200000000000001 L0.6,6.4 Z" fill="#fdfdfd" stroke="#4a5a88" stroke-width="0.7"/>
<path d="M0,0 L11.55,0 M0,12.8 L11.55,12.8 M0,0 L0,12.8 M11.55,0 L11.55,12.8" stroke="#5577aa" stroke-width="0.6"/>
<circle cx="5.775" cy="0" r="1.1" fill="#8a4f9e"/><circle cx="5.775" cy="12.8" r="1.1" fill="#8a4f9e"/><circle cx="0" cy="6.4" r="1.1" fill="#8a4f9e"/><circle cx="11.55" cy="6.4" r="1.1" fill="#8a4f9e"/>
<path d="M3.9750000000000005,4.2 L7.275,5.9 L5.275,8.8 L6.9750000000000005,7.9 Z" fill="#34408a" stroke="#34408a" stroke-width="0.8"/>
</pattern><pattern id="slE" patternUnits="userSpaceOnUse" x="929.50" y="786.30" width="11.6" height="12.8">
<rect width="11.6" height="12.8" fill="#78a8da"/>
<path d="M0,0 L5.8,6.4 L0,12.8 Z" fill="#8cbbe9"/><path d="M11.6,0 L5.8,6.4 L11.6,12.8 Z" fill="#6394c8"/>
<path d="M5.8,0.6 L11.0,6.4 L5.8,12.200000000000001 L0.6,6.4 Z" fill="#fdfdfd" stroke="#4a5a88" stroke-width="0.7"/>
<path d="M0,0 L11.6,0 M0,12.8 L11.6,12.8 M0,0 L0,12.8 M11.6,0 L11.6,12.8" stroke="#5577aa" stroke-width="0.6"/>
<circle cx="5.8" cy="0" r="1.1" fill="#8a4f9e"/><circle cx="5.8" cy="12.8" r="1.1" fill="#8a4f9e"/><circle cx="0" cy="6.4" r="1.1" fill="#8a4f9e"/><circle cx="11.6" cy="6.4" r="1.1" fill="#8a4f9e"/>
<path d="M4.0,4.2 L7.3,5.9 L5.3,8.8 L7.0,7.9 Z" fill="#34408a" stroke="#34408a" stroke-width="0.8"/>
</pattern></defs>
<defs><clipPath id="bx5"><rect x="419.5" y="734" width="201" height="62"/></clipPath><clipPath id="bx6"><rect x="920.5" y="734" width="201" height="62"/></clipPath><clipPath id="clip_5"><path d="M423,776 L431,768 L442.4,764.7 L458.6,756.7 L471.5,751.8 L482.8,751 L495.8,750.2 L507,748.6 L515.2,751.8 L523.3,753.4 L539.5,751.8 L550.8,748.6 L559,744.5 L568.6,745.3 L578.3,753.4 L588,761.5 L597.8,769.6 L604.2,779.3 L603.4,785.8 L596,788.2 L520,788.2 L520,797 L440,797 L423,787.4 Z M608.3,766 a6,6 0 1,0 0.1,0 Z"/></clipPath><clipPath id="clip_6"><path d="M924.6,758.3 L934.3,755 L955.3,750.2 L974.7,751.8 L999,750.2 L1023.3,751.8 L1039.5,747 L1063.8,743.7 L1088,748.6 L1104.2,755 L1115.6,761.5 L1118.8,772.8 L1117.2,785.8 L1110,788.2 L1021,788.2 L1021,795.5 L935,795.5 L923,784.2 Z"/></clipPath></defs>
<path d="M428.20,797.50 L520.10,797.50 L520.10,790.50 L613.00,790.50 L618.77,799.10 L613.00,805.50 L618.77,811.90 L613.00,825.40 L428.20,825.40 L422.43,811.90 L428.20,805.50 L422.43,799.10Z" fill="url(#slC)"/>
<g clip-path="url(#bx5)"><g filter="url(#tex)"><path d="M423,776 L431,768 L442.4,764.7 L458.6,756.7 L471.5,751.8 L482.8,751 L495.8,750.2 L507,748.6 L515.2,751.8 L523.3,753.4 L539.5,751.8 L550.8,748.6 L559,744.5 L568.6,745.3 L578.3,753.4 L588,761.5 L597.8,769.6 L604.2,779.3 L603.4,785.8 L596,788.2 L520,788.2 L520,797 L440,797 L423,787.4 Z M608.3,766 a6,6 0 1,0 0.1,0 Z" fill="#c6b36a"/><circle cx="431.0" cy="774.0" r="6.9" fill="#c6b36a"/><circle cx="436.7" cy="772.4" r="5.0" fill="#c6b36a"/><circle cx="442.4" cy="770.7" r="6.5" fill="#c6b36a"/><circle cx="450.5" cy="766.7" r="5.3" fill="#c6b36a"/><circle cx="458.6" cy="762.7" r="7.0" fill="#c6b36a"/><circle cx="465.1" cy="760.2" r="5.0" fill="#c6b36a"/><circle cx="471.5" cy="757.8" r="6.8" fill="#c6b36a"/><circle cx="477.1" cy="757.4" r="6.4" fill="#c6b36a"/><circle cx="482.8" cy="757.0" r="6.7" fill="#c6b36a"/><circle cx="489.3" cy="756.6" r="7.0" fill="#c6b36a"/><circle cx="495.8" cy="756.2" r="5.5" fill="#c6b36a"/><circle cx="501.4" cy="755.4" r="5.7" fill="#c6b36a"/><circle cx="507.0" cy="754.6" r="6.4" fill="#c6b36a"/><circle cx="511.1" cy="756.2" r="5.6" fill="#c6b36a"/><circle cx="515.2" cy="757.8" r="5.5" fill="#c6b36a"/><circle cx="519.2" cy="758.6" r="5.5" fill="#c6b36a"/><circle cx="523.3" cy="759.4" r="6.7" fill="#c6b36a"/><circle cx="531.4" cy="758.6" r="6.7" fill="#c6b36a"/><circle cx="539.5" cy="757.8" r="6.6" fill="#c6b36a"/><circle cx="545.1" cy="756.2" r="5.4" fill="#c6b36a"/><circle cx="550.8" cy="754.6" r="6.8" fill="#c6b36a"/><circle cx="554.9" cy="752.5" r="6.0" fill="#c6b36a"/><circle cx="559.0" cy="750.5" r="5.5" fill="#c6b36a"/><circle cx="563.8" cy="750.9" r="5.9" fill="#c6b36a"/><circle cx="568.6" cy="751.3" r="5.8" fill="#c6b36a"/><circle cx="573.5" cy="755.3" r="5.2" fill="#c6b36a"/><circle cx="578.3" cy="759.4" r="6.1" fill="#c6b36a"/><circle cx="583.1" cy="763.5" r="5.7" fill="#c6b36a"/><circle cx="588.0" cy="767.5" r="6.1" fill="#c6b36a"/><circle cx="592.9" cy="771.5" r="6.9" fill="#c6b36a"/><circle cx="597.8" cy="775.6" r="6.3" fill="#c6b36a"/><circle cx="601.0" cy="780.5" r="5.8" fill="#c6b36a"/></g></g>
<g clip-path="url(#clip_5)"><circle cx="539.9" cy="784.2" r="0.8" fill="#a6c4e0"/><circle cx="571.8" cy="791.8" r="0.8" fill="#c83a2a"/><circle cx="561.5" cy="791.0" r="0.8" fill="#ffffff"/><circle cx="429.9" cy="773.7" r="0.8" fill="#a6c4e0"/><circle cx="599.2" cy="780.7" r="0.8" fill="#ffffff"/><circle cx="591.3" cy="760.3" r="0.8" fill="#c83a2a"/><circle cx="511.4" cy="765.4" r="0.8" fill="#a6c4e0"/><circle cx="525.2" cy="777.8" r="0.8" fill="#c83a2a"/><circle cx="426.9" cy="764.2" r="0.8" fill="#ffffff"/><circle cx="476.3" cy="790.8" r="0.8" fill="#a6c4e0"/><circle cx="566.3" cy="762.1" r="0.8" fill="#ffffff"/><circle cx="572.1" cy="761.3" r="0.8" fill="#c83a2a"/><circle cx="538.9" cy="760.8" r="0.8" fill="#a6c4e0"/><circle cx="424.8" cy="789.1" r="0.8" fill="#c83a2a"/><circle cx="463.3" cy="764.2" r="0.8" fill="#ffffff"/><circle cx="606.4" cy="789.2" r="0.8" fill="#a6c4e0"/><circle cx="478.1" cy="792.5" r="0.8" fill="#ffffff"/><circle cx="524.4" cy="781.8" r="0.8" fill="#c83a2a"/><circle cx="462.4" cy="791.8" r="0.8" fill="#a6c4e0"/><circle cx="552.4" cy="792.7" r="0.8" fill="#c83a2a"/><circle cx="590.0" cy="767.4" r="0.8" fill="#ffffff"/><circle cx="491.4" cy="762.3" r="0.8" fill="#a6c4e0"/><circle cx="451.5" cy="758.5" r="0.8" fill="#ffffff"/><circle cx="480.3" cy="778.9" r="0.8" fill="#c83a2a"/><circle cx="425.1" cy="781.8" r="0.8" fill="#a6c4e0"/><circle cx="487.1" cy="767.8" r="0.8" fill="#c83a2a"/><circle cx="576.1" cy="774.3" r="0.8" fill="#ffffff"/><circle cx="483.0" cy="774.3" r="0.8" fill="#a6c4e0"/><circle cx="555.0" cy="758.2" r="0.8" fill="#ffffff"/><circle cx="605.1" cy="756.9" r="0.8" fill="#c83a2a"/><circle cx="563.4" cy="788.1" r="0.8" fill="#a6c4e0"/><circle cx="427.8" cy="785.9" r="0.8" fill="#c83a2a"/><circle cx="492.3" cy="778.0" r="0.8" fill="#ffffff"/><circle cx="426.2" cy="757.8" r="0.8" fill="#a6c4e0"/><circle cx="458.0" cy="792.3" r="0.8" fill="#ffffff"/><circle cx="460.9" cy="784.7" r="0.8" fill="#c83a2a"/><circle cx="596.7" cy="791.8" r="0.8" fill="#a6c4e0"/><circle cx="488.3" cy="769.5" r="0.8" fill="#c83a2a"/><circle cx="521.7" cy="785.5" r="0.8" fill="#ffffff"/><circle cx="444.5" cy="784.4" r="0.8" fill="#a6c4e0"/><circle cx="572.1" cy="788.7" r="0.8" fill="#ffffff"/><circle cx="431.3" cy="791.9" r="0.8" fill="#c83a2a"/><circle cx="441.4" cy="768.9" r="0.8" fill="#a6c4e0"/><circle cx="537.6" cy="790.9" r="0.8" fill="#c83a2a"/><circle cx="487.5" cy="791.1" r="0.8" fill="#ffffff"/><circle cx="525.5" cy="767.9" r="0.8" fill="#a6c4e0"/><circle cx="483.2" cy="762.7" r="0.8" fill="#ffffff"/><circle cx="439.0" cy="761.7" r="0.8" fill="#c83a2a"/><circle cx="552.1" cy="793.9" r="0.8" fill="#a6c4e0"/><circle cx="454.4" cy="757.8" r="0.8" fill="#c83a2a"/><circle cx="607.2" cy="776.3" r="0.8" fill="#ffffff"/><circle cx="499.7" cy="765.0" r="0.8" fill="#a6c4e0"/><circle cx="534.5" cy="787.4" r="0.8" fill="#ffffff"/><circle cx="508.9" cy="772.0" r="0.8" fill="#c83a2a"/><circle cx="434.8" cy="790.8" r="0.8" fill="#a6c4e0"/><circle cx="430.6" cy="774.8" r="0.8" fill="#c83a2a"/><circle cx="579.8" cy="761.0" r="0.8" fill="#ffffff"/><circle cx="560.0" cy="792.1" r="0.8" fill="#a6c4e0"/><circle cx="541.2" cy="785.9" r="0.8" fill="#ffffff"/><circle cx="444.2" cy="772.5" r="0.8" fill="#c83a2a"/><circle cx="452.1" cy="788.1" r="0.8" fill="#a6c4e0"/><circle cx="479.1" cy="773.2" r="0.8" fill="#c83a2a"/><circle cx="609.6" cy="788.4" r="0.8" fill="#ffffff"/><circle cx="605.3" cy="773.2" r="0.8" fill="#a6c4e0"/><circle cx="514.9" cy="783.7" r="0.8" fill="#ffffff"/><circle cx="513.2" cy="767.1" r="0.8" fill="#c83a2a"/><circle cx="499.3" cy="761.6" r="0.8" fill="#a6c4e0"/><circle cx="494.3" cy="793.6" r="0.8" fill="#c83a2a"/><circle cx="602.3" cy="779.8" r="0.8" fill="#ffffff"/><circle cx="517.0" cy="768.9" r="0.8" fill="#a6c4e0"/><circle cx="441.0" cy="766.3" r="0.8" fill="#ffffff"/><circle cx="569.3" cy="789.0" r="0.8" fill="#c83a2a"/><circle cx="491.4" cy="785.9" r="0.8" fill="#a6c4e0"/><circle cx="568.0" cy="782.4" r="0.8" fill="#c83a2a"/><circle cx="547.5" cy="784.9" r="0.8" fill="#ffffff"/><circle cx="491.8" cy="782.8" r="0.8" fill="#a6c4e0"/><circle cx="476.5" cy="774.5" r="0.8" fill="#ffffff"/><circle cx="567.1" cy="782.3" r="0.8" fill="#c83a2a"/><circle cx="478.9" cy="791.9" r="0.8" fill="#a6c4e0"/><circle cx="544.8" cy="778.1" r="0.8" fill="#c83a2a"/><circle cx="426.6" cy="776.8" r="0.8" fill="#ffffff"/><circle cx="470.9" cy="781.5" r="0.8" fill="#a6c4e0"/><circle cx="510.2" cy="787.0" r="0.8" fill="#ffffff"/><circle cx="544.4" cy="786.3" r="0.8" fill="#c83a2a"/><circle cx="488.9" cy="780.5" r="0.8" fill="#a6c4e0"/><circle cx="561.1" cy="787.5" r="0.8" fill="#c83a2a"/><circle cx="489.3" cy="788.0" r="0.8" fill="#ffffff"/><circle cx="585.6" cy="782.2" r="0.8" fill="#a6c4e0"/><circle cx="605.3" cy="792.3" r="0.8" fill="#ffffff"/><circle cx="520.5" cy="776.1" r="0.8" fill="#c83a2a"/><circle cx="455.3" cy="787.8" r="0.8" fill="#a6c4e0"/><circle cx="598.1" cy="774.1" r="0.8" fill="#c83a2a"/><circle cx="552.6" cy="783.3" r="0.8" fill="#ffffff"/><circle cx="559.8" cy="762.5" r="0.8" fill="#a6c4e0"/><circle cx="569.0" cy="778.1" r="0.8" fill="#ffffff"/><circle cx="547.8" cy="772.0" r="0.8" fill="#c83a2a"/><circle cx="540.0" cy="785.4" r="0.8" fill="#a6c4e0"/><circle cx="542.4" cy="783.4" r="0.8" fill="#c83a2a"/><circle cx="429.6" cy="762.1" r="0.8" fill="#ffffff"/><circle cx="506.2" cy="780.7" r="0.8" fill="#a6c4e0"/><circle cx="465.1" cy="782.1" r="0.8" fill="#ffffff"/><circle cx="541.3" cy="757.6" r="0.8" fill="#c83a2a"/><circle cx="511.8" cy="764.6" r="0.8" fill="#a6c4e0"/><circle cx="434.5" cy="761.1" r="0.8" fill="#c83a2a"/><circle cx="483.3" cy="762.9" r="0.8" fill="#ffffff"/><circle cx="460.3" cy="757.4" r="0.8" fill="#a6c4e0"/><circle cx="510.7" cy="770.5" r="0.8" fill="#ffffff"/><circle cx="537.8" cy="778.4" r="0.8" fill="#c83a2a"/><circle cx="468.5" cy="790.3" r="0.8" fill="#a6c4e0"/><circle cx="424.6" cy="771.4" r="0.8" fill="#c83a2a"/></g>
<path d="M929.50,797.50 L1021.10,797.50 L1021.10,790.50 L1115.10,790.50 L1120.90,799.10 L1115.10,805.50 L1120.90,811.90 L1115.10,825.40 L929.50,825.40 L923.70,811.90 L929.50,805.50 L923.70,799.10Z" fill="url(#slE)"/>
<g clip-path="url(#bx6)"><g filter="url(#tex)"><path d="M924.6,758.3 L934.3,755 L955.3,750.2 L974.7,751.8 L999,750.2 L1023.3,751.8 L1039.5,747 L1063.8,743.7 L1088,748.6 L1104.2,755 L1115.6,761.5 L1118.8,772.8 L1117.2,785.8 L1110,788.2 L1021,788.2 L1021,795.5 L935,795.5 L923,784.2 Z" fill="#c6b36a"/><circle cx="924.6" cy="764.3" r="5.4" fill="#c6b36a"/><circle cx="929.5" cy="762.6" r="6.3" fill="#c6b36a"/><circle cx="934.3" cy="761.0" r="5.7" fill="#c6b36a"/><circle cx="944.8" cy="758.6" r="5.4" fill="#c6b36a"/><circle cx="955.3" cy="756.2" r="6.0" fill="#c6b36a"/><circle cx="965.0" cy="757.0" r="6.0" fill="#c6b36a"/><circle cx="974.7" cy="757.8" r="6.0" fill="#c6b36a"/><circle cx="986.9" cy="757.0" r="5.9" fill="#c6b36a"/><circle cx="999.0" cy="756.2" r="5.5" fill="#c6b36a"/><circle cx="1011.1" cy="757.0" r="5.5" fill="#c6b36a"/><circle cx="1023.3" cy="757.8" r="6.4" fill="#c6b36a"/><circle cx="1031.4" cy="755.4" r="5.6" fill="#c6b36a"/><circle cx="1039.5" cy="753.0" r="6.3" fill="#c6b36a"/><circle cx="1051.7" cy="751.4" r="6.6" fill="#c6b36a"/><circle cx="1063.8" cy="749.7" r="6.7" fill="#c6b36a"/><circle cx="1075.9" cy="752.2" r="6.9" fill="#c6b36a"/><circle cx="1088.0" cy="754.6" r="5.5" fill="#c6b36a"/><circle cx="1096.1" cy="757.8" r="5.5" fill="#c6b36a"/><circle cx="1104.2" cy="761.0" r="6.5" fill="#c6b36a"/><circle cx="1109.9" cy="764.2" r="6.2" fill="#c6b36a"/><circle cx="1115.6" cy="767.5" r="5.4" fill="#c6b36a"/><circle cx="1117.2" cy="773.1" r="6.4" fill="#c6b36a"/></g></g>
<g clip-path="url(#clip_6)"><circle cx="1072.4" cy="787.2" r="1.2" fill="#4e9a3a"/><circle cx="1015.3" cy="765.9" r="0.8" fill="#c83a2a"/><circle cx="925.7" cy="781.2" r="0.8" fill="#ffffff"/><circle cx="1012.6" cy="784.9" r="0.8" fill="#a6c4e0"/><circle cx="994.6" cy="785.3" r="0.8" fill="#ffffff"/><circle cx="976.0" cy="786.5" r="1.2" fill="#4e9a3a"/><circle cx="1060.6" cy="771.7" r="0.8" fill="#a6c4e0"/><circle cx="1025.2" cy="781.9" r="0.8" fill="#c83a2a"/><circle cx="961.3" cy="777.0" r="0.8" fill="#ffffff"/><circle cx="1074.5" cy="766.1" r="0.8" fill="#a6c4e0"/><circle cx="1074.2" cy="782.1" r="1.2" fill="#4e9a3a"/><circle cx="1081.8" cy="768.8" r="0.8" fill="#c83a2a"/><circle cx="942.8" cy="786.4" r="0.8" fill="#a6c4e0"/><circle cx="1074.5" cy="772.9" r="0.8" fill="#c83a2a"/><circle cx="942.9" cy="763.5" r="0.8" fill="#ffffff"/><circle cx="1043.1" cy="767.1" r="1.2" fill="#4e9a3a"/><circle cx="1101.6" cy="778.4" r="0.8" fill="#ffffff"/><circle cx="962.8" cy="780.9" r="0.8" fill="#c83a2a"/><circle cx="992.3" cy="791.4" r="0.8" fill="#a6c4e0"/><circle cx="1093.9" cy="775.6" r="0.8" fill="#c83a2a"/><circle cx="1044.8" cy="782.5" r="1.2" fill="#4e9a3a"/><circle cx="1074.6" cy="793.1" r="0.8" fill="#a6c4e0"/><circle cx="930.9" cy="769.7" r="0.8" fill="#ffffff"/><circle cx="1036.9" cy="767.6" r="0.8" fill="#c83a2a"/><circle cx="1034.6" cy="759.4" r="0.8" fill="#a6c4e0"/><circle cx="1088.4" cy="776.0" r="1.2" fill="#4e9a3a"/><circle cx="947.2" cy="781.2" r="0.8" fill="#ffffff"/><circle cx="983.4" cy="763.5" r="0.8" fill="#a6c4e0"/><circle cx="1015.1" cy="761.2" r="0.8" fill="#ffffff"/><circle cx="964.4" cy="788.9" r="0.8" fill="#c83a2a"/><circle cx="1054.8" cy="756.5" r="1.2" fill="#4e9a3a"/><circle cx="1069.5" cy="756.6" r="0.8" fill="#c83a2a"/><circle cx="987.2" cy="790.4" r="0.8" fill="#ffffff"/><circle cx="1040.3" cy="767.6" r="0.8" fill="#a6c4e0"/><circle cx="995.4" cy="770.8" r="0.8" fill="#ffffff"/><circle cx="949.1" cy="794.0" r="1.2" fill="#4e9a3a"/><circle cx="935.6" cy="772.1" r="0.8" fill="#a6c4e0"/><circle cx="1063.7" cy="771.1" r="0.8" fill="#c83a2a"/><circle cx="1107.1" cy="765.3" r="0.8" fill="#ffffff"/><circle cx="1106.8" cy="789.9" r="0.8" fill="#a6c4e0"/><circle cx="1049.6" cy="789.8" r="1.2" fill="#4e9a3a"/><circle cx="1008.3" cy="787.6" r="0.8" fill="#c83a2a"/><circle cx="1072.9" cy="775.6" r="0.8" fill="#a6c4e0"/><circle cx="1012.7" cy="782.8" r="0.8" fill="#c83a2a"/><circle cx="1001.3" cy="759.3" r="0.8" fill="#ffffff"/><circle cx="1063.7" cy="766.1" r="1.2" fill="#4e9a3a"/><circle cx="1015.8" cy="785.8" r="0.8" fill="#ffffff"/><circle cx="957.4" cy="756.8" r="0.8" fill="#c83a2a"/><circle cx="948.4" cy="778.4" r="0.8" fill="#a6c4e0"/><circle cx="992.4" cy="765.7" r="0.8" fill="#c83a2a"/><circle cx="1009.1" cy="791.2" r="1.2" fill="#4e9a3a"/><circle cx="972.7" cy="771.6" r="0.8" fill="#a6c4e0"/><circle cx="1088.3" cy="779.3" r="0.8" fill="#ffffff"/><circle cx="975.2" cy="774.0" r="0.8" fill="#c83a2a"/><circle cx="1014.1" cy="761.4" r="0.8" fill="#a6c4e0"/><circle cx="995.4" cy="767.6" r="1.2" fill="#4e9a3a"/><circle cx="1074.5" cy="768.3" r="0.8" fill="#ffffff"/><circle cx="1047.6" cy="792.9" r="0.8" fill="#a6c4e0"/><circle cx="1096.4" cy="770.3" r="0.8" fill="#ffffff"/><circle cx="1037.2" cy="768.2" r="0.8" fill="#c83a2a"/><circle cx="999.3" cy="774.5" r="1.2" fill="#4e9a3a"/><circle cx="1072.4" cy="791.6" r="0.8" fill="#c83a2a"/><circle cx="979.4" cy="756.2" r="0.8" fill="#ffffff"/><circle cx="1008.7" cy="758.2" r="0.8" fill="#a6c4e0"/><circle cx="931.2" cy="785.4" r="0.8" fill="#ffffff"/><circle cx="946.3" cy="783.3" r="1.2" fill="#4e9a3a"/><circle cx="992.6" cy="791.7" r="0.8" fill="#a6c4e0"/><circle cx="1083.5" cy="758.4" r="0.8" fill="#c83a2a"/><circle cx="961.2" cy="792.0" r="0.8" fill="#ffffff"/><circle cx="1039.1" cy="772.0" r="0.8" fill="#a6c4e0"/><circle cx="1070.3" cy="786.9" r="1.2" fill="#4e9a3a"/><circle cx="1016.6" cy="773.8" r="0.8" fill="#c83a2a"/><circle cx="944.1" cy="769.8" r="0.8" fill="#a6c4e0"/><circle cx="952.4" cy="779.8" r="0.8" fill="#c83a2a"/><circle cx="1037.8" cy="761.5" r="0.8" fill="#ffffff"/><circle cx="1041.8" cy="759.7" r="1.2" fill="#4e9a3a"/><circle cx="945.1" cy="780.5" r="0.8" fill="#ffffff"/><circle cx="1011.2" cy="790.2" r="0.8" fill="#c83a2a"/><circle cx="1042.0" cy="782.7" r="0.8" fill="#a6c4e0"/><circle cx="949.1" cy="787.6" r="0.8" fill="#c83a2a"/><circle cx="941.1" cy="779.5" r="1.2" fill="#4e9a3a"/><circle cx="1094.2" cy="790.5" r="0.8" fill="#a6c4e0"/><circle cx="1090.9" cy="773.2" r="0.8" fill="#ffffff"/><circle cx="1054.0" cy="786.1" r="0.8" fill="#c83a2a"/><circle cx="951.0" cy="791.8" r="0.8" fill="#a6c4e0"/><circle cx="1093.7" cy="772.8" r="1.2" fill="#4e9a3a"/><circle cx="1069.6" cy="773.0" r="0.8" fill="#ffffff"/><circle cx="976.7" cy="783.1" r="0.8" fill="#a6c4e0"/><circle cx="937.4" cy="786.4" r="0.8" fill="#ffffff"/><circle cx="1106.5" cy="766.9" r="0.8" fill="#c83a2a"/><circle cx="1099.4" cy="759.2" r="1.2" fill="#4e9a3a"/><circle cx="1084.3" cy="766.6" r="0.8" fill="#c83a2a"/><circle cx="1104.4" cy="772.4" r="0.8" fill="#ffffff"/><circle cx="1096.2" cy="757.2" r="0.8" fill="#a6c4e0"/><circle cx="941.4" cy="787.0" r="0.8" fill="#ffffff"/><circle cx="1043.7" cy="776.3" r="1.2" fill="#4e9a3a"/><circle cx="931.7" cy="762.6" r="0.8" fill="#a6c4e0"/><circle cx="994.1" cy="758.0" r="0.8" fill="#c83a2a"/><circle cx="1109.3" cy="785.1" r="0.8" fill="#ffffff"/><circle cx="1101.3" cy="782.6" r="0.8" fill="#a6c4e0"/><circle cx="989.1" cy="758.9" r="1.2" fill="#4e9a3a"/><circle cx="1060.9" cy="760.3" r="0.8" fill="#c83a2a"/><circle cx="1026.8" cy="773.6" r="0.8" fill="#a6c4e0"/><circle cx="1017.1" cy="758.9" r="0.8" fill="#c83a2a"/><circle cx="939.3" cy="775.8" r="0.8" fill="#ffffff"/><circle cx="931.2" cy="776.0" r="1.2" fill="#4e9a3a"/><circle cx="953.4" cy="766.7" r="0.8" fill="#ffffff"/><circle cx="953.5" cy="777.6" r="0.8" fill="#c83a2a"/><circle cx="997.4" cy="764.5" r="0.8" fill="#a6c4e0"/><circle cx="966.6" cy="777.4" r="0.8" fill="#c83a2a"/></g>
<path d="M418.5,454.6 L621.7,454.6 L621.7,828.7 L418.5,828.7 Z M418.5,732.9 L621.7,732.9" fill="none" stroke="#444" stroke-width="1.3"/>
<path d="M520.1,476 L520.1,733 M520.1,733 L520.1,760" stroke="#777" stroke-width="1.2" stroke-dasharray="3,2.5"/><path d="M520.1,790 L520.1,828.7" stroke="#666" stroke-width="1"/>
<path d="M919.6,456.3 L1122.6,456.3 L1122.6,829.5 L919.6,829.5 Z M919.6,732.4 L1124,732.4" fill="none" stroke="#444" stroke-width="1.3"/>
<path d="M1021.1,478 L1021.1,733 M1021.1,733 L1021.1,760" stroke="#777" stroke-width="1.2" stroke-dasharray="3,2.5"/><path d="M1021.1,790 L1021.1,829.5" stroke="#666" stroke-width="1"/>
<text x="421.7" y="745.6" font-size="14" fill="#7a7a7a" textLength="70" lengthAdjust="spacingAndGlyphs" stroke="#7a7a7a" stroke-width="0.3" >Side view</text>
<text x="927" y="745.6" font-size="14" fill="#7a7a7a" textLength="70" lengthAdjust="spacingAndGlyphs" stroke="#7a7a7a" stroke-width="0.3" >Side view</text>
<path d="M701,453.8 L701,655.2 L874.9,655.2" fill="none" stroke="#3a3a3a" stroke-width="1.2"/>
<path d="M695,453.8L701,453.8M695,554.5L701,554.5M695,655.2L701,655.2" stroke="#3a3a3a" stroke-width="1.2"/>
<text x="688.5" y="458.5" font-size="13.2" fill="#1a1a1a" text-anchor="end" stroke="#1a1a1a" stroke-width="0.3" >80</text>
<text x="688.5" y="559.2" font-size="13.2" fill="#1a1a1a" text-anchor="end" stroke="#1a1a1a" stroke-width="0.3" >60</text>
<text x="688.5" y="659.9000000000001" font-size="13.2" fill="#1a1a1a" text-anchor="end" stroke="#1a1a1a" stroke-width="0.3" >40</text>
<rect x="734" y="529.4" width="43.4" height="125.8" fill="#cfa54a"/>
<rect x="798.8" y="635.2" width="43.7" height="20.0" fill="#dcc07e"/>
<rect x="712" y="462.9" width="13.7" height="13.7" fill="#cfa54a"/>
<text x="734" y="474.5" font-size="14" fill="#1a1a1a" textLength="38.5" lengthAdjust="spacingAndGlyphs" stroke="#1a1a1a" stroke-width="0.3" >@Left</text>
<rect x="798.8" y="462.9" width="13.7" height="13.7" fill="#dcc07e"/>
<text x="820.8" y="474.5" font-size="14" fill="#1a1a1a" textLength="51" lengthAdjust="spacingAndGlyphs" stroke="#1a1a1a" stroke-width="0.3" >@Right</text>
<path d="M1199.9,455.8 L1199.9,657.1 L1373,657.1" fill="none" stroke="#3a3a3a" stroke-width="1.2"/>
<path d="M1193.9,455.8L1199.9,455.8M1193.9,556.45L1199.9,556.45M1193.9,657.1L1199.9,657.1" stroke="#3a3a3a" stroke-width="1.2"/>
<text x="1187.4" y="460.5" font-size="13.2" fill="#1a1a1a" text-anchor="end" stroke="#1a1a1a" stroke-width="0.3" >80</text>
<text x="1187.4" y="561.1500000000001" font-size="13.2" fill="#1a1a1a" text-anchor="end" stroke="#1a1a1a" stroke-width="0.3" >60</text>
<text x="1187.4" y="661.8000000000001" font-size="13.2" fill="#1a1a1a" text-anchor="end" stroke="#1a1a1a" stroke-width="0.3" >40</text>
<rect x="1232" y="551.9" width="44.0" height="105.2" fill="#23468a"/>
<rect x="1297.1" y="551.9" width="43.4" height="105.2" fill="#3e6aa6"/>
<rect x="1208.1" y="462.9" width="13.7" height="13.7" fill="#23468a"/>
<text x="1229.3" y="474.5" font-size="14" fill="#1a1a1a" textLength="38.5" lengthAdjust="spacingAndGlyphs" stroke="#1a1a1a" stroke-width="0.3" >@Left</text>
<rect x="1293.8" y="462.9" width="13.7" height="13.7" fill="#3e6aa6"/>
<text x="1316.4" y="474.5" font-size="14" fill="#1a1a1a" textLength="51" lengthAdjust="spacingAndGlyphs" stroke="#1a1a1a" stroke-width="0.3" >@Right</text>
<text transform="translate(660,555.5) rotate(-90)" font-size="14.5" text-anchor="middle" fill="#1a1a1a" textLength="131" lengthAdjust="spacingAndGlyphs">Coverage ratio (%)</text>
<text transform="translate(1158.5,556) rotate(-90)" font-size="14.5" text-anchor="middle" fill="#1a1a1a" textLength="131" lengthAdjust="spacingAndGlyphs">Coverage ratio (%)</text>
<defs><clipPath id="cd"><circle cx="778.6" cy="759.3" r="87.6"/></clipPath><clipPath id="cf"><circle cx="1281" cy="761.5" r="87.4"/></clipPath><linearGradient id="surf" x1="0" y1="0" x2="0" y2="1"><stop offset="0" stop-color="#5b9ec0"/><stop offset="1" stop-color="#3f7fa3"/></linearGradient><marker id="ahRed" viewBox="0 0 10 10" refX="6" refY="5" markerWidth="4" markerHeight="4" orient="auto"><path d="M0,0 L10,5 L0,10 Z" fill="#d2403e"/></marker></defs>
<circle cx="778.6" cy="759.3" r="87.6" fill="#fff"/>
<g clip-path="url(#cd)"><defs><clipPath id="s3"><path d="M690.0,778.0 L721.7,773.6 L747.0,774.2 L778.7,774.2 L796.4,762.8 L804.0,767.9 L826.8,763.4 L858.5,766.6 L870.0,770.4 L870.6,854.3 L686.6,854.3 Z"/></clipPath></defs><path d="M690.0,778.0 L721.7,773.6 L747.0,774.2 L778.7,774.2 L796.4,762.8 L804.0,767.9 L826.8,763.4 L858.5,766.6 L870.0,770.4 L870.6,854.3 L686.6,854.3 Z" fill="#5698b6"/><g clip-path="url(#s3)">
<path d="M677.0,760.1L693.8,760.4L690.9,773.3Z" fill="#5698b6"/>
<path d="M693.8,760.4L711.4,757.2L711.0,772.6Z" fill="#5e9cba"/>
<path d="M711.4,757.2L723.7,761.8L711.0,772.6Z" fill="#72b2d0"/>
<path d="M723.7,761.8L741.2,758.2L733.3,773.4Z" fill="#62a4c2"/>
<path d="M741.2,758.2L761.6,759.6L757.9,768.4Z" fill="#5698b6"/>
<path d="M761.6,759.6L776.6,759.7L775.4,769.1Z" fill="#5e9cba"/>
<path d="M776.6,759.7L791.4,757.7L775.4,769.1Z" fill="#5e9cba"/>
<path d="M791.4,757.7L807.4,762.0L802.4,770.4Z" fill="#4582a2"/>
<path d="M807.4,762.0L822.7,761.2L822.4,769.6Z" fill="#4a8aa8"/>
<path d="M822.7,761.2L839.6,757.2L822.4,769.6Z" fill="#62a4c2"/>
<path d="M839.6,757.2L856.1,760.3L843.6,770.1Z" fill="#4582a2"/>
<path d="M856.1,760.3L869.4,757.0L864.7,771.3Z" fill="#4582a2"/>
<path d="M869.4,757.0L888.8,759.6L888.1,773.2Z" fill="#72b2d0"/>
<path d="M668.9,773.1L690.9,773.3L677.0,760.1Z" fill="#5698b6"/>
<path d="M690.9,773.3L711.0,772.6L693.8,760.4Z" fill="#72b2d0"/>
<path d="M711.0,772.6L733.3,773.4L723.7,761.8Z" fill="#4582a2"/>
<path d="M733.3,773.4L757.9,768.4L741.2,758.2Z" fill="#72b2d0"/>
<path d="M757.9,768.4L775.4,769.1L761.6,759.6Z" fill="#5e9cba"/>
<path d="M775.4,769.1L802.4,770.4L791.4,757.7Z" fill="#4582a2"/>
<path d="M802.4,770.4L822.4,769.6L807.4,762.0Z" fill="#72b2d0"/>
<path d="M822.4,769.6L843.6,770.1L839.6,757.2Z" fill="#4582a2"/>
<path d="M843.6,770.1L864.7,771.3L856.1,760.3Z" fill="#5698b6"/>
<path d="M864.7,771.3L888.1,773.2L869.4,757.0Z" fill="#62a4c2"/>
<path d="M668.9,773.1L690.9,773.3L679.7,786.4Z" fill="#5e9cba"/>
<path d="M690.9,773.3L711.0,772.6L708.7,786.7Z" fill="#62a4c2"/>
<path d="M711.0,772.6L733.3,773.4L708.7,786.7Z" fill="#4582a2"/>
<path d="M733.3,773.4L757.9,768.4L735.6,781.8Z" fill="#62a4c2"/>
<path d="M757.9,768.4L775.4,769.1L764.8,786.6Z" fill="#72b2d0"/>
<path d="M775.4,769.1L802.4,770.4L793.0,784.2Z" fill="#72b2d0"/>
<path d="M802.4,770.4L822.4,769.6L819.9,782.1Z" fill="#4582a2"/>
<path d="M822.4,769.6L843.6,770.1L819.9,782.1Z" fill="#5698b6"/>
<path d="M843.6,770.1L864.7,771.3L848.6,784.2Z" fill="#72b2d0"/>
<path d="M864.7,771.3L888.1,773.2L873.3,781.2Z" fill="#5e9cba"/>
<path d="M679.7,786.4L708.7,786.7L690.9,773.3Z" fill="#5e9cba"/>
<path d="M708.7,786.7L735.6,781.8L733.3,773.4Z" fill="#72b2d0"/>
<path d="M735.6,781.8L764.8,786.6L757.9,768.4Z" fill="#4a8aa8"/>
<path d="M764.8,786.6L793.0,784.2L775.4,769.1Z" fill="#72b2d0"/>
<path d="M793.0,784.2L819.9,782.1L802.4,770.4Z" fill="#4a8aa8"/>
<path d="M819.9,782.1L848.6,784.2L843.6,770.1Z" fill="#72b2d0"/>
<path d="M848.6,784.2L873.3,781.2L864.7,771.3Z" fill="#72b2d0"/>
<path d="M679.7,786.4L708.7,786.7L693.1,802.6Z" fill="#5e9cba"/>
<path d="M708.7,786.7L735.6,781.8L729.1,798.7Z" fill="#72b2d0"/>
<path d="M735.6,781.8L764.8,786.6L762.4,802.4Z" fill="#72b2d0"/>
<path d="M764.8,786.6L793.0,784.2L762.4,802.4Z" fill="#5698b6"/>
<path d="M793.0,784.2L819.9,782.1L799.8,798.1Z" fill="#62a4c2"/>
<path d="M819.9,782.1L848.6,784.2L832.3,798.1Z" fill="#62a4c2"/>
<path d="M848.6,784.2L873.3,781.2L866.9,799.8Z" fill="#5e9cba"/>
<path d="M663.7,803.7L693.1,802.6L679.7,786.4Z" fill="#4582a2"/>
<path d="M693.1,802.6L729.1,798.7L708.7,786.7Z" fill="#4582a2"/>
<path d="M729.1,798.7L762.4,802.4L735.6,781.8Z" fill="#4a8aa8"/>
<path d="M762.4,802.4L799.8,798.1L793.0,784.2Z" fill="#72b2d0"/>
<path d="M799.8,798.1L832.3,798.1L819.9,782.1Z" fill="#5e9cba"/>
<path d="M832.3,798.1L866.9,799.8L848.6,784.2Z" fill="#4a8aa8"/>
<path d="M663.7,803.7L693.1,802.6L680.9,825.7Z" fill="#4582a2"/>
<path d="M693.1,802.6L729.1,798.7L718.6,825.8Z" fill="#72b2d0"/>
<path d="M729.1,798.7L762.4,802.4L757.5,820.3Z" fill="#4a8aa8"/>
<path d="M762.4,802.4L799.8,798.1L799.2,820.0Z" fill="#72b2d0"/>
<path d="M799.8,798.1L832.3,798.1L799.2,820.0Z" fill="#4a8aa8"/>
<path d="M832.3,798.1L866.9,799.8L836.8,822.2Z" fill="#4582a2"/>
<path d="M680.9,825.7L718.6,825.8L693.1,802.6Z" fill="#5698b6"/>
<path d="M718.6,825.8L757.5,820.3L729.1,798.7Z" fill="#4582a2"/>
<path d="M757.5,820.3L799.2,820.0L762.4,802.4Z" fill="#4582a2"/>
<path d="M799.2,820.0L836.8,822.2L832.3,798.1Z" fill="#62a4c2"/>
<path d="M836.8,822.2L879.3,820.7L866.9,799.8Z" fill="#62a4c2"/>
<path d="M680.9,825.7L718.6,825.8L700.5,851.6Z" fill="#5e9cba"/>
<path d="M718.6,825.8L757.5,820.3L750.0,848.1Z" fill="#72b2d0"/>
<path d="M757.5,820.3L799.2,820.0L793.4,848.9Z" fill="#72b2d0"/>
<path d="M799.2,820.0L836.8,822.2L840.5,849.4Z" fill="#4582a2"/>
<path d="M836.8,822.2L879.3,820.7L840.5,849.4Z" fill="#4a8aa8"/>
<path d="M652.9,851.0L700.5,851.6L680.9,825.7Z" fill="#5698b6"/>
<path d="M700.5,851.6L750.0,848.1L718.6,825.8Z" fill="#4a8aa8"/>
<path d="M750.0,848.1L793.4,848.9L757.5,820.3Z" fill="#62a4c2"/>
<path d="M793.4,848.9L840.5,849.4L799.2,820.0Z" fill="#72b2d0"/>
<path d="M840.5,849.4L886.0,849.5L879.3,820.7Z" fill="#4582a2"/>
<path d="M652.9,851.0L700.5,851.6L681.2,874.8Z" fill="#4582a2"/>
<path d="M700.5,851.6L750.0,848.1L730.2,876.1Z" fill="#4a8aa8"/>
<path d="M750.0,848.1L793.4,848.9L781.0,873.6Z" fill="#5e9cba"/>
<path d="M793.4,848.9L840.5,849.4L837.5,874.9Z" fill="#5698b6"/>
<path d="M840.5,849.4L886.0,849.5L886.9,871.9Z" fill="#72b2d0"/>
<path d="M681.2,874.8L730.2,876.1L700.5,851.6Z" fill="#4a8aa8"/>
<path d="M730.2,876.1L781.0,873.6L750.0,848.1Z" fill="#62a4c2"/>
<path d="M781.0,873.6L837.5,874.9L793.4,848.9Z" fill="#62a4c2"/>
<path d="M837.5,874.9L886.9,871.9L840.5,849.4Z" fill="#5e9cba"/>
<path d="M677.0,760.1L693.8,760.4M693.8,760.4L690.9,773.3M690.9,773.3L677.0,760.1M693.8,760.4L711.4,757.2M711.4,757.2L711.0,772.6M711.0,772.6L693.8,760.4M711.4,757.2L723.7,761.8M723.7,761.8L711.0,772.6M711.0,772.6L711.4,757.2M723.7,761.8L741.2,758.2M741.2,758.2L733.3,773.4M733.3,773.4L723.7,761.8M741.2,758.2L761.6,759.6M761.6,759.6L757.9,768.4M757.9,768.4L741.2,758.2M761.6,759.6L776.6,759.7M776.6,759.7L775.4,769.1M775.4,769.1L761.6,759.6M776.6,759.7L791.4,757.7M791.4,757.7L775.4,769.1M775.4,769.1L776.6,759.7M791.4,757.7L807.4,762.0M807.4,762.0L802.4,770.4M802.4,770.4L791.4,757.7M807.4,762.0L822.7,761.2M822.7,761.2L822.4,769.6M822.4,769.6L807.4,762.0M822.7,761.2L839.6,757.2M839.6,757.2L822.4,769.6M822.4,769.6L822.7,761.2M839.6,757.2L856.1,760.3M856.1,760.3L843.6,770.1M843.6,770.1L839.6,757.2M856.1,760.3L869.4,757.0M869.4,757.0L864.7,771.3M864.7,771.3L856.1,760.3M869.4,757.0L888.8,759.6M888.8,759.6L888.1,773.2M888.1,773.2L869.4,757.0M668.9,773.1L690.9,773.3M690.9,773.3L677.0,760.1M677.0,760.1L668.9,773.1M690.9,773.3L711.0,772.6M711.0,772.6L693.8,760.4M693.8,760.4L690.9,773.3M711.0,772.6L733.3,773.4M733.3,773.4L723.7,761.8M723.7,761.8L711.0,772.6M733.3,773.4L757.9,768.4M757.9,768.4L741.2,758.2M741.2,758.2L733.3,773.4M757.9,768.4L775.4,769.1M775.4,769.1L761.6,759.6M761.6,759.6L757.9,768.4M775.4,769.1L802.4,770.4M802.4,770.4L791.4,757.7M791.4,757.7L775.4,769.1M802.4,770.4L822.4,769.6M822.4,769.6L807.4,762.0M807.4,762.0L802.4,770.4M822.4,769.6L843.6,770.1M843.6,770.1L839.6,757.2M839.6,757.2L822.4,769.6M843.6,770.1L864.7,771.3M864.7,771.3L856.1,760.3M856.1,760.3L843.6,770.1M864.7,771.3L888.1,773.2M888.1,773.2L869.4,757.0M869.4,757.0L864.7,771.3M668.9,773.1L690.9,773.3M690.9,773.3L679.7,786.4M679.7,786.4L668.9,773.1M690.9,773.3L711.0,772.6M711.0,772.6L708.7,786.7M708.7,786.7L690.9,773.3M711.0,772.6L733.3,773.4M733.3,773.4L708.7,786.7M708.7,786.7L711.0,772.6M733.3,773.4L757.9,768.4M757.9,768.4L735.6,781.8M735.6,781.8L733.3,773.4M757.9,768.4L775.4,769.1M775.4,769.1L764.8,786.6M764.8,786.6L757.9,768.4M775.4,769.1L802.4,770.4M802.4,770.4L793.0,784.2M793.0,784.2L775.4,769.1M802.4,770.4L822.4,769.6M822.4,769.6L819.9,782.1M819.9,782.1L802.4,770.4M822.4,769.6L843.6,770.1M843.6,770.1L819.9,782.1M819.9,782.1L822.4,769.6M843.6,770.1L864.7,771.3M864.7,771.3L848.6,784.2M848.6,784.2L843.6,770.1M864.7,771.3L888.1,773.2M888.1,773.2L873.3,781.2M873.3,781.2L864.7,771.3M679.7,786.4L708.7,786.7M708.7,786.7L690.9,773.3M690.9,773.3L679.7,786.4M708.7,786.7L735.6,781.8M735.6,781.8L733.3,773.4M733.3,773.4L708.7,786.7M735.6,781.8L764.8,786.6M764.8,786.6L757.9,768.4M757.9,768.4L735.6,781.8M764.8,786.6L793.0,784.2M793.0,784.2L775.4,769.1M775.4,769.1L764.8,786.6M793.0,784.2L819.9,782.1M819.9,782.1L802.4,770.4M802.4,770.4L793.0,784.2M819.9,782.1L848.6,784.2M848.6,784.2L843.6,770.1M843.6,770.1L819.9,782.1M848.6,784.2L873.3,781.2M873.3,781.2L864.7,771.3M864.7,771.3L848.6,784.2M679.7,786.4L708.7,786.7M708.7,786.7L693.1,802.6M693.1,802.6L679.7,786.4M708.7,786.7L735.6,781.8M735.6,781.8L729.1,798.7M729.1,798.7L708.7,786.7M735.6,781.8L764.8,786.6M764.8,786.6L762.4,802.4M762.4,802.4L735.6,781.8M764.8,786.6L793.0,784.2M793.0,784.2L762.4,802.4M762.4,802.4L764.8,786.6M793.0,784.2L819.9,782.1M819.9,782.1L799.8,798.1M799.8,798.1L793.0,784.2M819.9,782.1L848.6,784.2M848.6,784.2L832.3,798.1M832.3,798.1L819.9,782.1M848.6,784.2L873.3,781.2M873.3,781.2L866.9,799.8M866.9,799.8L848.6,784.2M663.7,803.7L693.1,802.6M693.1,802.6L679.7,786.4M679.7,786.4L663.7,803.7M693.1,802.6L729.1,798.7M729.1,798.7L708.7,786.7M708.7,786.7L693.1,802.6M729.1,798.7L762.4,802.4M762.4,802.4L735.6,781.8M735.6,781.8L729.1,798.7M762.4,802.4L799.8,798.1M799.8,798.1L793.0,784.2M793.0,784.2L762.4,802.4M799.8,798.1L832.3,798.1M832.3,798.1L819.9,782.1M819.9,782.1L799.8,798.1M832.3,798.1L866.9,799.8M866.9,799.8L848.6,784.2M848.6,784.2L832.3,798.1M663.7,803.7L693.1,802.6M693.1,802.6L680.9,825.7M680.9,825.7L663.7,803.7M693.1,802.6L729.1,798.7M729.1,798.7L718.6,825.8M718.6,825.8L693.1,802.6M729.1,798.7L762.4,802.4M762.4,802.4L757.5,820.3M757.5,820.3L729.1,798.7M762.4,802.4L799.8,798.1M799.8,798.1L799.2,820.0M799.2,820.0L762.4,802.4M799.8,798.1L832.3,798.1M832.3,798.1L799.2,820.0M799.2,820.0L799.8,798.1M832.3,798.1L866.9,799.8M866.9,799.8L836.8,822.2M836.8,822.2L832.3,798.1M680.9,825.7L718.6,825.8M718.6,825.8L693.1,802.6M693.1,802.6L680.9,825.7M718.6,825.8L757.5,820.3M757.5,820.3L729.1,798.7M729.1,798.7L718.6,825.8M757.5,820.3L799.2,820.0M799.2,820.0L762.4,802.4M762.4,802.4L757.5,820.3M799.2,820.0L836.8,822.2M836.8,822.2L832.3,798.1M832.3,798.1L799.2,820.0M836.8,822.2L879.3,820.7M879.3,820.7L866.9,799.8M866.9,799.8L836.8,822.2M680.9,825.7L718.6,825.8M718.6,825.8L700.5,851.6M700.5,851.6L680.9,825.7M718.6,825.8L757.5,820.3M757.5,820.3L750.0,848.1M750.0,848.1L718.6,825.8M757.5,820.3L799.2,820.0M799.2,820.0L793.4,848.9M793.4,848.9L757.5,820.3M799.2,820.0L836.8,822.2M836.8,822.2L840.5,849.4M840.5,849.4L799.2,820.0M836.8,822.2L879.3,820.7M879.3,820.7L840.5,849.4M840.5,849.4L836.8,822.2M652.9,851.0L700.5,851.6M700.5,851.6L680.9,825.7M680.9,825.7L652.9,851.0M700.5,851.6L750.0,848.1M750.0,848.1L718.6,825.8M718.6,825.8L700.5,851.6M750.0,848.1L793.4,848.9M793.4,848.9L757.5,820.3M757.5,820.3L750.0,848.1M793.4,848.9L840.5,849.4M840.5,849.4L799.2,820.0M799.2,820.0L793.4,848.9M840.5,849.4L886.0,849.5M886.0,849.5L879.3,820.7M879.3,820.7L840.5,849.4M652.9,851.0L700.5,851.6M700.5,851.6L681.2,874.8M681.2,874.8L652.9,851.0M700.5,851.6L750.0,848.1M750.0,848.1L730.2,876.1M730.2,876.1L700.5,851.6M750.0,848.1L793.4,848.9M793.4,848.9L781.0,873.6M781.0,873.6L750.0,848.1M793.4,848.9L840.5,849.4M840.5,849.4L837.5,874.9M837.5,874.9L793.4,848.9M840.5,849.4L886.0,849.5M886.0,849.5L886.9,871.9M886.9,871.9L840.5,849.4M681.2,874.8L730.2,876.1M730.2,876.1L700.5,851.6M700.5,851.6L681.2,874.8M730.2,876.1L781.0,873.6M781.0,873.6L750.0,848.1M750.0,848.1L730.2,876.1M781.0,873.6L837.5,874.9M837.5,874.9L793.4,848.9M793.4,848.9L781.0,873.6M837.5,874.9L886.9,871.9M886.9,871.9L840.5,849.4M840.5,849.4L837.5,874.9" stroke="#a8a6a6" stroke-width="1.5"/>
<circle cx="677.0" cy="760.1" r="1.8" fill="#b98ed2"/>
<circle cx="693.8" cy="760.4" r="1.8" fill="#b98ed2"/>
<circle cx="711.4" cy="757.2" r="1.8" fill="#b98ed2"/>
<circle cx="723.7" cy="761.8" r="1.8" fill="#b98ed2"/>
<circle cx="741.2" cy="758.2" r="1.8" fill="#b98ed2"/>
<circle cx="761.6" cy="759.6" r="1.8" fill="#b98ed2"/>
<circle cx="776.6" cy="759.7" r="1.8" fill="#b98ed2"/>
<circle cx="791.4" cy="757.7" r="1.8" fill="#b98ed2"/>
<circle cx="807.4" cy="762.0" r="1.8" fill="#b98ed2"/>
<circle cx="822.7" cy="761.2" r="1.8" fill="#b98ed2"/>
<circle cx="839.6" cy="757.2" r="1.8" fill="#b98ed2"/>
<circle cx="856.1" cy="760.3" r="1.8" fill="#b98ed2"/>
<circle cx="869.4" cy="757.0" r="1.8" fill="#b98ed2"/>
<circle cx="888.8" cy="759.6" r="1.8" fill="#b98ed2"/>
<circle cx="668.9" cy="773.1" r="2.4" fill="#b98ed2"/>
<circle cx="690.9" cy="773.3" r="2.4" fill="#b98ed2"/>
<circle cx="711.0" cy="772.6" r="2.4" fill="#b98ed2"/>
<circle cx="733.3" cy="773.4" r="2.4" fill="#b98ed2"/>
<circle cx="757.9" cy="768.4" r="2.4" fill="#b98ed2"/>
<circle cx="775.4" cy="769.1" r="2.4" fill="#b98ed2"/>
<circle cx="802.4" cy="770.4" r="2.4" fill="#b98ed2"/>
<circle cx="822.4" cy="769.6" r="2.4" fill="#b98ed2"/>
<circle cx="843.6" cy="770.1" r="2.4" fill="#b98ed2"/>
<circle cx="864.7" cy="771.3" r="2.4" fill="#b98ed2"/>
<circle cx="888.1" cy="773.2" r="2.4" fill="#b98ed2"/>
<circle cx="679.7" cy="786.4" r="2.9" fill="#b98ed2"/>
<circle cx="708.7" cy="786.7" r="2.9" fill="#b98ed2"/>
<circle cx="735.6" cy="781.8" r="2.9" fill="#b98ed2"/>
<circle cx="764.8" cy="786.6" r="2.9" fill="#b98ed2"/>
<circle cx="793.0" cy="784.2" r="2.9" fill="#b98ed2"/>
<circle cx="819.9" cy="782.1" r="2.9" fill="#b98ed2"/>
<circle cx="848.6" cy="784.2" r="2.9" fill="#b98ed2"/>
<circle cx="873.3" cy="781.2" r="2.9" fill="#b98ed2"/>
<circle cx="663.7" cy="803.7" r="3.5" fill="#b98ed2"/>
<circle cx="693.1" cy="802.6" r="3.5" fill="#b98ed2"/>
<circle cx="729.1" cy="798.7" r="3.5" fill="#b98ed2"/>
<circle cx="762.4" cy="802.4" r="3.5" fill="#b98ed2"/>
<circle cx="799.8" cy="798.1" r="3.5" fill="#b98ed2"/>
<circle cx="832.3" cy="798.1" r="3.5" fill="#b98ed2"/>
<circle cx="866.9" cy="799.8" r="3.5" fill="#b98ed2"/>
<circle cx="680.9" cy="825.7" r="4.0" fill="#b98ed2"/>
<circle cx="718.6" cy="825.8" r="4.0" fill="#b98ed2"/>
<circle cx="757.5" cy="820.3" r="4.0" fill="#b98ed2"/>
<circle cx="799.2" cy="820.0" r="4.0" fill="#b98ed2"/>
<circle cx="836.8" cy="822.2" r="4.0" fill="#b98ed2"/>
<circle cx="879.3" cy="820.7" r="4.0" fill="#b98ed2"/>
<circle cx="652.9" cy="851.0" r="4.5" fill="#b98ed2"/>
<circle cx="700.5" cy="851.6" r="4.5" fill="#b98ed2"/>
<circle cx="750.0" cy="848.1" r="4.5" fill="#b98ed2"/>
<circle cx="793.4" cy="848.9" r="4.5" fill="#b98ed2"/>
<circle cx="840.5" cy="849.4" r="4.5" fill="#b98ed2"/>
<circle cx="886.0" cy="849.5" r="4.5" fill="#b98ed2"/>
<circle cx="681.2" cy="874.8" r="5.1" fill="#b98ed2"/>
<circle cx="730.2" cy="876.1" r="5.1" fill="#b98ed2"/>
<circle cx="781.0" cy="873.6" r="5.1" fill="#b98ed2"/>
<circle cx="837.5" cy="874.9" r="5.1" fill="#b98ed2"/>
<circle cx="886.9" cy="871.9" r="5.1" fill="#b98ed2"/>
<circle cx="842.7" cy="801.6" r="3" fill="#d8d090" opacity="0.7"/>
<circle cx="825.7" cy="815.9" r="3" fill="#d8d090" opacity="0.7"/>
<circle cx="829.5" cy="803.0" r="3" fill="#d8d090" opacity="0.7"/>
<circle cx="824.5" cy="789.0" r="3" fill="#d8d090" opacity="0.7"/>
<circle cx="795.3" cy="816.7" r="3" fill="#d8d090" opacity="0.7"/>
<circle cx="767.6" cy="812.8" r="3" fill="#d8d090" opacity="0.7"/>
<path d="M827.6,804.5 l5,-2 M829.6,807.5 l4,-3" stroke="#f4f4f4" stroke-width="1.6" fill="none"/>
<path d="M797.4,793.2 l5,-2 M799.4,796.2 l4,-3" stroke="#f4f4f4" stroke-width="1.6" fill="none"/>
<path d="M788.2,776.6 l5,-2 M790.2,779.6 l4,-3" stroke="#f4f4f4" stroke-width="1.6" fill="none"/>
<path d="M766.5,787.3 l5,-2 M768.5,790.3 l4,-3" stroke="#f4f4f4" stroke-width="1.6" fill="none"/>
<path d="M775.4,828.4 l5,-2 M777.4,831.4 l4,-3" stroke="#f4f4f4" stroke-width="1.6" fill="none"/>
<path d="M795.8,807.5 l5,-2 M797.8,810.5 l4,-3" stroke="#f4f4f4" stroke-width="1.6" fill="none"/>
<path d="M786.8,838.4 l5,-2 M788.8,841.4 l4,-3" stroke="#f4f4f4" stroke-width="1.6" fill="none"/>
<path d="M809.0,776.4 l5,-2 M811.0,779.4 l4,-3" stroke="#f4f4f4" stroke-width="1.6" fill="none"/>
</g></g>
<g clip-path="url(#cd)"><path d="M771.37,737.68L773.87,740.59M771.37,737.68L767.90,730.40M771.37,737.68L767.60,742.52M766.92,726.04L760.04,722.01M766.92,726.04L767.90,730.40M773.87,740.59L772.60,748.34M761.80,738.24L754.73,741.71M761.80,738.24L761.98,730.75M761.80,738.24L767.60,742.52M735.10,745.78L736.97,740.73M735.10,745.78L738.58,753.06M735.10,745.78L734.13,741.41M749.72,759.56L747.96,759.99M749.72,759.56L743.92,755.28M749.72,759.56L757.39,758.79M742.68,727.97L746.45,723.13M742.68,727.97L748.02,730.20M742.68,727.97L737.16,733.24M746.45,723.13L744.69,723.55M746.45,723.13L754.12,722.36M768.83,753.18L766.33,750.27M768.83,753.18L763.31,758.45M768.83,753.18L772.60,748.34M766.33,750.27L759.26,753.74M766.33,750.27L767.60,742.52M760.04,722.01L754.12,722.36M753.46,749.46L754.73,741.71M753.46,749.46L745.79,750.23M753.46,749.46L759.26,753.74M754.73,741.71L747.84,737.69M763.31,758.45L757.39,758.79M745.79,750.23L743.92,755.28M745.79,750.23L742.32,742.95M736.97,740.73L742.32,742.95M736.97,740.73L737.16,733.24M748.02,730.20L755.09,726.73M748.02,730.20L747.84,737.69M759.26,753.74L757.39,758.79M755.09,726.73L761.98,730.75M755.09,726.73L754.12,722.36M767.90,730.40L761.98,730.75M747.84,737.69L742.32,742.95M743.92,755.28L738.58,753.06M741.08,755.96L738.58,753.06M735.40,733.66L737.16,733.24" stroke="#9a8a5a" stroke-width="1.6" fill="none"/>
<path d="M766.92,726.04L769.42,728.94M748.74,728.26L754.54,732.54M748.74,728.26L750.61,723.21M748.74,728.26L741.67,731.73M773.87,740.59L772.90,736.22M769.42,728.94L772.90,736.22M769.42,728.94L764.08,726.72M752.91,755.27L746.02,751.25M752.91,755.27L753.88,759.64M752.91,755.27L759.98,751.80M754.54,732.54L753.27,740.29M754.54,732.54L762.21,731.77M746.45,723.13L744.69,723.55M758.28,722.44L760.04,722.01M758.28,722.44L750.61,723.21M758.28,722.44L764.08,726.72M753.27,740.29L760.16,744.31M753.27,740.29L746.20,743.76M744.69,723.55L750.61,723.21M744.69,723.55L739.17,728.82M746.02,751.25L740.10,751.60M746.02,751.25L746.20,743.76M761.55,758.87L763.31,758.45M761.55,758.87L753.88,759.64M761.55,758.87L765.32,754.03M772.90,736.22L771.03,741.27M753.88,759.64L747.96,759.99M765.32,754.03L770.84,748.76M765.32,754.03L759.98,751.80M772.60,748.34L770.84,748.76M747.96,759.99L741.08,755.96M771.03,741.27L765.68,739.05M771.03,741.27L770.84,748.76M740.40,739.48L741.67,731.73M740.40,739.48L736.63,744.32M740.40,739.48L746.20,743.76M760.16,744.31L765.68,739.05M760.16,744.31L759.98,751.80M739.17,728.82L741.67,731.73M739.17,728.82L735.40,733.66M765.68,739.05L762.21,731.77M740.10,751.60L741.08,755.96M740.10,751.60L736.63,744.32M764.08,726.72L762.21,731.77M741.08,755.96L738.58,753.06M736.63,744.32L734.13,741.41M734.13,741.41L735.40,733.66" stroke="#6e5e30" stroke-width="3.6" fill="none" stroke-linejoin="round"/><path d="M771.37,737.68L773.87,740.59M771.37,737.68L767.90,730.40M771.37,737.68L767.60,742.52M766.92,726.04L760.04,722.01M766.92,726.04L767.90,730.40M773.87,740.59L772.60,748.34M761.80,738.24L754.73,741.71M761.80,738.24L761.98,730.75M761.80,738.24L767.60,742.52M735.10,745.78L736.97,740.73M735.10,745.78L738.58,753.06M735.10,745.78L734.13,741.41M749.72,759.56L747.96,759.99M749.72,759.56L743.92,755.28M749.72,759.56L757.39,758.79M742.68,727.97L746.45,723.13M742.68,727.97L748.02,730.20M742.68,727.97L737.16,733.24M746.45,723.13L744.69,723.55M746.45,723.13L754.12,722.36M768.83,753.18L766.33,750.27M768.83,753.18L763.31,758.45M768.83,753.18L772.60,748.34M766.33,750.27L759.26,753.74M766.33,750.27L767.60,742.52M760.04,722.01L754.12,722.36M753.46,749.46L754.73,741.71M753.46,749.46L745.79,750.23M753.46,749.46L759.26,753.74M754.73,741.71L747.84,737.69M763.31,758.45L757.39,758.79M745.79,750.23L743.92,755.28M745.79,750.23L742.32,742.95M736.97,740.73L742.32,742.95M736.97,740.73L737.16,733.24M748.02,730.20L755.09,726.73M748.02,730.20L747.84,737.69M759.26,753.74L757.39,758.79M755.09,726.73L761.98,730.75M755.09,726.73L754.12,722.36M767.90,730.40L761.98,730.75M747.84,737.69L742.32,742.95M743.92,755.28L738.58,753.06M741.08,755.96L738.58,753.06M735.40,733.66L737.16,733.24" stroke="#c8b878" stroke-width="0.9" fill="none"/>
<path d="M766.92,726.04L769.42,728.94M748.74,728.26L754.54,732.54M748.74,728.26L750.61,723.21M748.74,728.26L741.67,731.73M773.87,740.59L772.90,736.22M769.42,728.94L772.90,736.22M769.42,728.94L764.08,726.72M752.91,755.27L746.02,751.25M752.91,755.27L753.88,759.64M752.91,755.27L759.98,751.80M754.54,732.54L753.27,740.29M754.54,732.54L762.21,731.77M746.45,723.13L744.69,723.55M758.28,722.44L760.04,722.01M758.28,722.44L750.61,723.21M758.28,722.44L764.08,726.72M753.27,740.29L760.16,744.31M753.27,740.29L746.20,743.76M744.69,723.55L750.61,723.21M744.69,723.55L739.17,728.82M746.02,751.25L740.10,751.60M746.02,751.25L746.20,743.76M761.55,758.87L763.31,758.45M761.55,758.87L753.88,759.64M761.55,758.87L765.32,754.03M772.90,736.22L771.03,741.27M753.88,759.64L747.96,759.99M765.32,754.03L770.84,748.76M765.32,754.03L759.98,751.80M772.60,748.34L770.84,748.76M747.96,759.99L741.08,755.96M771.03,741.27L765.68,739.05M771.03,741.27L770.84,748.76M740.40,739.48L741.67,731.73M740.40,739.48L736.63,744.32M740.40,739.48L746.20,743.76M760.16,744.31L765.68,739.05M760.16,744.31L759.98,751.80M739.17,728.82L741.67,731.73M739.17,728.82L735.40,733.66M765.68,739.05L762.21,731.77M740.10,751.60L741.08,755.96M740.10,751.60L736.63,744.32M764.08,726.72L762.21,731.77M741.08,755.96L738.58,753.06M736.63,744.32L734.13,741.41M734.13,741.41L735.40,733.66" stroke="#d8c888" stroke-width="2.4" fill="none" stroke-linejoin="round"/><path d="M819.15,716.78L822.48,723.44M819.15,716.78L817.33,708.99M819.15,716.78L812.85,718.41M818.84,707.84L817.33,708.99M822.48,723.44L823.98,722.30M822.48,723.44L819.51,731.72M807.14,711.61L798.46,713.10M807.14,711.61L809.91,705.79M807.14,711.61L812.85,718.41M780.02,721.70L782.05,714.13M780.02,721.70L781.84,729.50M791.41,736.52L791.08,740.50M791.41,736.52L785.70,729.73M791.41,736.52L799.16,735.75M791.45,702.71L795.31,702.93M813.21,733.34L809.88,726.69M813.21,733.34L806.58,738.94M813.21,733.34L819.51,731.72M809.88,726.69L801.20,728.17M809.88,726.69L812.85,718.41M795.49,721.38L798.46,713.10M795.49,721.38L787.74,722.16M795.49,721.38L801.20,728.17M806.25,742.92L806.58,738.94M806.25,742.92L798.50,743.69M806.25,742.92L812.55,741.29M798.46,713.10L792.54,708.76M806.58,738.94L799.16,735.75M798.50,743.69L791.08,740.50M787.74,722.16L785.70,729.73M787.74,722.16L785.92,714.36M782.05,714.13L785.92,714.36M782.05,714.13L784.82,708.31M812.55,741.29L819.18,735.69M819.51,731.72L819.18,735.69M795.31,702.93L803.99,701.45M795.31,702.93L792.54,708.76M801.20,728.17L799.16,735.75M803.99,701.45L809.91,705.79M803.99,701.45L805.50,700.31M791.08,740.50L785.16,736.16M817.33,708.99L809.91,705.79M792.54,708.76L785.92,714.36M785.70,729.73L781.84,729.50M785.16,736.16L781.84,729.50" stroke="#9a8a5a" stroke-width="1.6" fill="none"/>
<path d="M818.84,707.84L822.16,714.50M818.84,707.84L812.92,703.50M802.80,715.83L808.51,722.62M802.80,715.83L804.84,708.25M802.80,715.83L794.12,717.31M822.16,714.50L823.98,722.30M822.16,714.50L818.30,714.27M780.02,721.70L781.52,720.56M800.01,742.55L794.09,738.21M800.01,742.55L798.50,743.69M800.01,742.55L808.69,741.07M791.45,702.71L797.75,701.08M791.45,702.71L784.82,708.31M808.51,722.62L805.54,730.90M808.51,722.62L816.26,721.84M797.75,701.08L797.42,705.06M797.75,701.08L805.50,700.31M812.59,707.48L812.92,703.50M812.59,707.48L804.84,708.25M812.59,707.48L818.30,714.27M805.54,730.90L811.46,735.24M805.54,730.90L796.86,732.39M812.92,703.50L805.50,700.31M797.42,705.06L804.84,708.25M797.42,705.06L790.79,710.66M794.09,738.21L786.67,735.01M794.09,738.21L796.86,732.39M823.98,722.30L821.95,729.87M812.55,741.29L819.18,735.69M812.55,741.29L808.69,741.07M821.95,729.87L818.08,729.64M821.95,729.87L819.18,735.69M791.15,725.59L794.12,717.31M791.15,725.59L784.85,727.22M791.15,725.59L796.86,732.39M811.46,735.24L818.08,729.64M811.46,735.24L808.69,741.07M790.79,710.66L794.12,717.31M790.79,710.66L784.49,712.28M818.08,729.64L816.26,721.84M786.67,735.01L785.16,736.16M786.67,735.01L784.85,727.22M818.30,714.27L816.26,721.84M784.85,727.22L781.52,720.56M781.52,720.56L784.49,712.28M784.49,712.28L784.82,708.31" stroke="#6e5e30" stroke-width="3.6" fill="none" stroke-linejoin="round"/><path d="M819.15,716.78L822.48,723.44M819.15,716.78L817.33,708.99M819.15,716.78L812.85,718.41M818.84,707.84L817.33,708.99M822.48,723.44L823.98,722.30M822.48,723.44L819.51,731.72M807.14,711.61L798.46,713.10M807.14,711.61L809.91,705.79M807.14,711.61L812.85,718.41M780.02,721.70L782.05,714.13M780.02,721.70L781.84,729.50M791.41,736.52L791.08,740.50M791.41,736.52L785.70,729.73M791.41,736.52L799.16,735.75M791.45,702.71L795.31,702.93M813.21,733.34L809.88,726.69M813.21,733.34L806.58,738.94M813.21,733.34L819.51,731.72M809.88,726.69L801.20,728.17M809.88,726.69L812.85,718.41M795.49,721.38L798.46,713.10M795.49,721.38L787.74,722.16M795.49,721.38L801.20,728.17M806.25,742.92L806.58,738.94M806.25,742.92L798.50,743.69M806.25,742.92L812.55,741.29M798.46,713.10L792.54,708.76M806.58,738.94L799.16,735.75M798.50,743.69L791.08,740.50M787.74,722.16L785.70,729.73M787.74,722.16L785.92,714.36M782.05,714.13L785.92,714.36M782.05,714.13L784.82,708.31M812.55,741.29L819.18,735.69M819.51,731.72L819.18,735.69M795.31,702.93L803.99,701.45M795.31,702.93L792.54,708.76M801.20,728.17L799.16,735.75M803.99,701.45L809.91,705.79M803.99,701.45L805.50,700.31M791.08,740.50L785.16,736.16M817.33,708.99L809.91,705.79M792.54,708.76L785.92,714.36M785.70,729.73L781.84,729.50M785.16,736.16L781.84,729.50" stroke="#c8b878" stroke-width="0.9" fill="none"/>
<path d="M818.84,707.84L822.16,714.50M818.84,707.84L812.92,703.50M802.80,715.83L808.51,722.62M802.80,715.83L804.84,708.25M802.80,715.83L794.12,717.31M822.16,714.50L823.98,722.30M822.16,714.50L818.30,714.27M780.02,721.70L781.52,720.56M800.01,742.55L794.09,738.21M800.01,742.55L798.50,743.69M800.01,742.55L808.69,741.07M791.45,702.71L797.75,701.08M791.45,702.71L784.82,708.31M808.51,722.62L805.54,730.90M808.51,722.62L816.26,721.84M797.75,701.08L797.42,705.06M797.75,701.08L805.50,700.31M812.59,707.48L812.92,703.50M812.59,707.48L804.84,708.25M812.59,707.48L818.30,714.27M805.54,730.90L811.46,735.24M805.54,730.90L796.86,732.39M812.92,703.50L805.50,700.31M797.42,705.06L804.84,708.25M797.42,705.06L790.79,710.66M794.09,738.21L786.67,735.01M794.09,738.21L796.86,732.39M823.98,722.30L821.95,729.87M812.55,741.29L819.18,735.69M812.55,741.29L808.69,741.07M821.95,729.87L818.08,729.64M821.95,729.87L819.18,735.69M791.15,725.59L794.12,717.31M791.15,725.59L784.85,727.22M791.15,725.59L796.86,732.39M811.46,735.24L818.08,729.64M811.46,735.24L808.69,741.07M790.79,710.66L794.12,717.31M790.79,710.66L784.49,712.28M818.08,729.64L816.26,721.84M786.67,735.01L785.16,736.16M786.67,735.01L784.85,727.22M818.30,714.27L816.26,721.84M784.85,727.22L781.52,720.56M781.52,720.56L784.49,712.28M784.49,712.28L784.82,708.31" stroke="#d8c888" stroke-width="2.4" fill="none" stroke-linejoin="round"/><path d="M709,744.3 l7.8,-4.5 l7.8,4.5 l0,9 l-7.8,4.5 l-7.8,-4.5 Z M724.6,744.3 l10,-3 M760,757 l8,6 l6,-3 l8,6 M833,730.8 l7.8,-4.5 l7.8,4.5 l0,9 l-7.8,4.5 l-7.8,-4.5 Z M833,735 l-10,-6" fill="none" stroke="#6e5e30" stroke-width="3.3" stroke-linejoin="round"/><path d="M709,744.3 l7.8,-4.5 l7.8,4.5 l0,9 l-7.8,4.5 l-7.8,-4.5 Z M724.6,744.3 l10,-3 M760,757 l8,6 l6,-3 l8,6 M833,730.8 l7.8,-4.5 l7.8,4.5 l0,9 l-7.8,4.5 l-7.8,-4.5 Z M833,735 l-10,-6" fill="none" stroke="#d8c888" stroke-width="2.2" stroke-linejoin="round"/><path d="M709,744.3 l-5,-2 M716.8,739.8 l0,-5 M724.6,757.8 l3,4 M840.8,726.3 l0,-5 M848.6,739.8 l5,2 M840.8,748.8 l0,5 M705,755 l-4,3" stroke="#e8e8e8" stroke-width="2"/><path d="M852,708 C842,730 825,745 778,757" fill="none" stroke="#d2403e" stroke-width="3.2" marker-end="url(#ahRed)"/><path d="M768,760 l6,-4 l3,6 M800,705 l6,8" stroke="#cc2a2a" stroke-width="1.8" fill="none"/><path d="M820,760 l8,4 l8,-4 l8,4 M830,772 l8,4 l8,-4" stroke="#3050b0" stroke-width="1.6" fill="none"/></g>
<text transform="translate(710,725) rotate(-21)" font-size="14.5" fill="#d0474c" textLength="100" lengthAdjust="spacingAndGlyphs">Accumulation</text>
<circle cx="778.6" cy="759.3" r="87.6" fill="none" stroke="#1a1a1a" stroke-width="1.5"/>
<circle cx="1281" cy="761.5" r="87.4" fill="#fff"/>
<g clip-path="url(#cf)"><defs><clipPath id="s8"><path d="M1193.0,781.0 L1240.0,778.0 L1262.0,776.0 L1290.0,765.0 L1320.0,770.0 L1370.0,770.0 L1373,856.5 L1189,856.5 Z"/></clipPath></defs><path d="M1193.0,781.0 L1240.0,778.0 L1262.0,776.0 L1290.0,765.0 L1320.0,770.0 L1370.0,770.0 L1373,856.5 L1189,856.5 Z" fill="#5698b6"/><g clip-path="url(#s8)">
<path d="M1179.4,764.8L1194.8,763.2L1192.0,773.9Z" fill="#5e9cba"/>
<path d="M1194.8,763.2L1210.5,760.5L1192.0,773.9Z" fill="#4a8aa8"/>
<path d="M1210.5,760.5L1232.0,760.3L1216.4,773.5Z" fill="#4a8aa8"/>
<path d="M1232.0,760.3L1245.9,761.8L1233.9,770.4Z" fill="#72b2d0"/>
<path d="M1245.9,761.8L1260.7,762.0L1260.7,772.9Z" fill="#5698b6"/>
<path d="M1260.7,762.0L1275.2,764.0L1260.7,772.9Z" fill="#5698b6"/>
<path d="M1275.2,764.0L1290.5,760.4L1278.2,775.7Z" fill="#62a4c2"/>
<path d="M1290.5,760.4L1306.1,760.6L1302.5,774.4Z" fill="#62a4c2"/>
<path d="M1306.1,760.6L1324.4,764.4L1326.3,771.7Z" fill="#4a8aa8"/>
<path d="M1324.4,764.4L1340.3,759.7L1326.3,771.7Z" fill="#5e9cba"/>
<path d="M1340.3,759.7L1355.6,764.9L1345.1,775.3Z" fill="#4a8aa8"/>
<path d="M1355.6,764.9L1370.4,762.7L1365.8,774.6Z" fill="#5698b6"/>
<path d="M1370.4,762.7L1388.3,763.0L1387.6,774.1Z" fill="#5698b6"/>
<path d="M1169.0,774.1L1192.0,773.9L1179.4,764.8Z" fill="#4a8aa8"/>
<path d="M1192.0,773.9L1216.4,773.5L1210.5,760.5Z" fill="#5698b6"/>
<path d="M1216.4,773.5L1233.9,770.4L1232.0,760.3Z" fill="#62a4c2"/>
<path d="M1233.9,770.4L1260.7,772.9L1245.9,761.8Z" fill="#62a4c2"/>
<path d="M1260.7,772.9L1278.2,775.7L1275.2,764.0Z" fill="#5e9cba"/>
<path d="M1278.2,775.7L1302.5,774.4L1290.5,760.4Z" fill="#4582a2"/>
<path d="M1302.5,774.4L1326.3,771.7L1306.1,760.6Z" fill="#5698b6"/>
<path d="M1326.3,771.7L1345.1,775.3L1340.3,759.7Z" fill="#4582a2"/>
<path d="M1345.1,775.3L1365.8,774.6L1355.6,764.9Z" fill="#4a8aa8"/>
<path d="M1365.8,774.6L1387.6,774.1L1370.4,762.7Z" fill="#4582a2"/>
<path d="M1169.0,774.1L1192.0,773.9L1182.2,788.7Z" fill="#5698b6"/>
<path d="M1192.0,773.9L1216.4,773.5L1211.1,786.0Z" fill="#5e9cba"/>
<path d="M1216.4,773.5L1233.9,770.4L1235.2,783.9Z" fill="#4582a2"/>
<path d="M1233.9,770.4L1260.7,772.9L1235.2,783.9Z" fill="#62a4c2"/>
<path d="M1260.7,772.9L1278.2,775.7L1265.2,786.1Z" fill="#4582a2"/>
<path d="M1278.2,775.7L1302.5,774.4L1290.4,788.4Z" fill="#5698b6"/>
<path d="M1302.5,774.4L1326.3,771.7L1321.0,787.2Z" fill="#5e9cba"/>
<path d="M1326.3,771.7L1345.1,775.3L1347.3,784.5Z" fill="#5698b6"/>
<path d="M1345.1,775.3L1365.8,774.6L1347.3,784.5Z" fill="#72b2d0"/>
<path d="M1365.8,774.6L1387.6,774.1L1374.1,785.1Z" fill="#5698b6"/>
<path d="M1182.2,788.7L1211.1,786.0L1192.0,773.9Z" fill="#4a8aa8"/>
<path d="M1211.1,786.0L1235.2,783.9L1216.4,773.5Z" fill="#62a4c2"/>
<path d="M1235.2,783.9L1265.2,786.1L1260.7,772.9Z" fill="#4a8aa8"/>
<path d="M1265.2,786.1L1290.4,788.4L1278.2,775.7Z" fill="#62a4c2"/>
<path d="M1290.4,788.4L1321.0,787.2L1302.5,774.4Z" fill="#5698b6"/>
<path d="M1321.0,787.2L1347.3,784.5L1326.3,771.7Z" fill="#62a4c2"/>
<path d="M1347.3,784.5L1374.1,785.1L1365.8,774.6Z" fill="#62a4c2"/>
<path d="M1182.2,788.7L1211.1,786.0L1197.3,805.0Z" fill="#4a8aa8"/>
<path d="M1211.1,786.0L1235.2,783.9L1234.3,801.1Z" fill="#4582a2"/>
<path d="M1235.2,783.9L1265.2,786.1L1265.4,801.0Z" fill="#62a4c2"/>
<path d="M1265.2,786.1L1290.4,788.4L1265.4,801.0Z" fill="#4582a2"/>
<path d="M1290.4,788.4L1321.0,787.2L1301.0,805.8Z" fill="#5e9cba"/>
<path d="M1321.0,787.2L1347.3,784.5L1332.2,804.6Z" fill="#5e9cba"/>
<path d="M1347.3,784.5L1374.1,785.1L1366.8,800.1Z" fill="#62a4c2"/>
<path d="M1162.6,802.5L1197.3,805.0L1182.2,788.7Z" fill="#4582a2"/>
<path d="M1197.3,805.0L1234.3,801.1L1211.1,786.0Z" fill="#72b2d0"/>
<path d="M1234.3,801.1L1265.4,801.0L1235.2,783.9Z" fill="#5698b6"/>
<path d="M1265.4,801.0L1301.0,805.8L1290.4,788.4Z" fill="#5e9cba"/>
<path d="M1301.0,805.8L1332.2,804.6L1321.0,787.2Z" fill="#62a4c2"/>
<path d="M1332.2,804.6L1366.8,800.1L1347.3,784.5Z" fill="#4582a2"/>
<path d="M1162.6,802.5L1197.3,805.0L1182.6,824.1Z" fill="#5e9cba"/>
<path d="M1197.3,805.0L1234.3,801.1L1219.0,824.6Z" fill="#5e9cba"/>
<path d="M1234.3,801.1L1265.4,801.0L1259.4,824.5Z" fill="#4582a2"/>
<path d="M1265.4,801.0L1301.0,805.8L1300.7,824.5Z" fill="#5e9cba"/>
<path d="M1301.0,805.8L1332.2,804.6L1300.7,824.5Z" fill="#4a8aa8"/>
<path d="M1332.2,804.6L1366.8,800.1L1341.5,823.7Z" fill="#5e9cba"/>
<path d="M1182.6,824.1L1219.0,824.6L1197.3,805.0Z" fill="#4a8aa8"/>
<path d="M1219.0,824.6L1259.4,824.5L1234.3,801.1Z" fill="#72b2d0"/>
<path d="M1259.4,824.5L1300.7,824.5L1265.4,801.0Z" fill="#5e9cba"/>
<path d="M1300.7,824.5L1341.5,823.7L1332.2,804.6Z" fill="#5698b6"/>
<path d="M1341.5,823.7L1378.6,822.5L1366.8,800.1Z" fill="#4582a2"/>
<path d="M1182.6,824.1L1219.0,824.6L1203.2,852.8Z" fill="#5e9cba"/>
<path d="M1219.0,824.6L1259.4,824.5L1250.0,852.2Z" fill="#4582a2"/>
<path d="M1259.4,824.5L1300.7,824.5L1298.9,848.4Z" fill="#4a8aa8"/>
<path d="M1300.7,824.5L1341.5,823.7L1339.1,848.8Z" fill="#62a4c2"/>
<path d="M1341.5,823.7L1378.6,822.5L1339.1,848.8Z" fill="#72b2d0"/>
<path d="M1155.6,851.1L1203.2,852.8L1182.6,824.1Z" fill="#5e9cba"/>
<path d="M1203.2,852.8L1250.0,852.2L1219.0,824.6Z" fill="#72b2d0"/>
<path d="M1250.0,852.2L1298.9,848.4L1259.4,824.5Z" fill="#62a4c2"/>
<path d="M1298.9,848.4L1339.1,848.8L1300.7,824.5Z" fill="#4582a2"/>
<path d="M1339.1,848.8L1387.3,851.4L1378.6,822.5Z" fill="#72b2d0"/>
<path d="M1155.6,851.1L1203.2,852.8L1182.5,876.1Z" fill="#5698b6"/>
<path d="M1203.2,852.8L1250.0,852.2L1235.8,874.0Z" fill="#4a8aa8"/>
<path d="M1250.0,852.2L1298.9,848.4L1287.0,875.3Z" fill="#4582a2"/>
<path d="M1298.9,848.4L1339.1,848.8L1339.3,874.2Z" fill="#72b2d0"/>
<path d="M1339.1,848.8L1387.3,851.4L1339.3,874.2Z" fill="#62a4c2"/>
<path d="M1182.5,876.1L1235.8,874.0L1203.2,852.8Z" fill="#5e9cba"/>
<path d="M1235.8,874.0L1287.0,875.3L1250.0,852.2Z" fill="#5698b6"/>
<path d="M1287.0,875.3L1339.3,874.2L1298.9,848.4Z" fill="#4582a2"/>
<path d="M1339.3,874.2L1391.8,878.6L1387.3,851.4Z" fill="#72b2d0"/>
<path d="M1179.4,764.8L1194.8,763.2M1194.8,763.2L1192.0,773.9M1192.0,773.9L1179.4,764.8M1194.8,763.2L1210.5,760.5M1210.5,760.5L1192.0,773.9M1192.0,773.9L1194.8,763.2M1210.5,760.5L1232.0,760.3M1232.0,760.3L1216.4,773.5M1216.4,773.5L1210.5,760.5M1232.0,760.3L1245.9,761.8M1245.9,761.8L1233.9,770.4M1233.9,770.4L1232.0,760.3M1245.9,761.8L1260.7,762.0M1260.7,762.0L1260.7,772.9M1260.7,772.9L1245.9,761.8M1260.7,762.0L1275.2,764.0M1275.2,764.0L1260.7,772.9M1260.7,772.9L1260.7,762.0M1275.2,764.0L1290.5,760.4M1290.5,760.4L1278.2,775.7M1278.2,775.7L1275.2,764.0M1290.5,760.4L1306.1,760.6M1306.1,760.6L1302.5,774.4M1302.5,774.4L1290.5,760.4M1306.1,760.6L1324.4,764.4M1324.4,764.4L1326.3,771.7M1326.3,771.7L1306.1,760.6M1324.4,764.4L1340.3,759.7M1340.3,759.7L1326.3,771.7M1326.3,771.7L1324.4,764.4M1340.3,759.7L1355.6,764.9M1355.6,764.9L1345.1,775.3M1345.1,775.3L1340.3,759.7M1355.6,764.9L1370.4,762.7M1370.4,762.7L1365.8,774.6M1365.8,774.6L1355.6,764.9M1370.4,762.7L1388.3,763.0M1388.3,763.0L1387.6,774.1M1387.6,774.1L1370.4,762.7M1169.0,774.1L1192.0,773.9M1192.0,773.9L1179.4,764.8M1179.4,764.8L1169.0,774.1M1192.0,773.9L1216.4,773.5M1216.4,773.5L1210.5,760.5M1210.5,760.5L1192.0,773.9M1216.4,773.5L1233.9,770.4M1233.9,770.4L1232.0,760.3M1232.0,760.3L1216.4,773.5M1233.9,770.4L1260.7,772.9M1260.7,772.9L1245.9,761.8M1245.9,761.8L1233.9,770.4M1260.7,772.9L1278.2,775.7M1278.2,775.7L1275.2,764.0M1275.2,764.0L1260.7,772.9M1278.2,775.7L1302.5,774.4M1302.5,774.4L1290.5,760.4M1290.5,760.4L1278.2,775.7M1302.5,774.4L1326.3,771.7M1326.3,771.7L1306.1,760.6M1306.1,760.6L1302.5,774.4M1326.3,771.7L1345.1,775.3M1345.1,775.3L1340.3,759.7M1340.3,759.7L1326.3,771.7M1345.1,775.3L1365.8,774.6M1365.8,774.6L1355.6,764.9M1355.6,764.9L1345.1,775.3M1365.8,774.6L1387.6,774.1M1387.6,774.1L1370.4,762.7M1370.4,762.7L1365.8,774.6M1169.0,774.1L1192.0,773.9M1192.0,773.9L1182.2,788.7M1182.2,788.7L1169.0,774.1M1192.0,773.9L1216.4,773.5M1216.4,773.5L1211.1,786.0M1211.1,786.0L1192.0,773.9M1216.4,773.5L1233.9,770.4M1233.9,770.4L1235.2,783.9M1235.2,783.9L1216.4,773.5M1233.9,770.4L1260.7,772.9M1260.7,772.9L1235.2,783.9M1235.2,783.9L1233.9,770.4M1260.7,772.9L1278.2,775.7M1278.2,775.7L1265.2,786.1M1265.2,786.1L1260.7,772.9M1278.2,775.7L1302.5,774.4M1302.5,774.4L1290.4,788.4M1290.4,788.4L1278.2,775.7M1302.5,774.4L1326.3,771.7M1326.3,771.7L1321.0,787.2M1321.0,787.2L1302.5,774.4M1326.3,771.7L1345.1,775.3M1345.1,775.3L1347.3,784.5M1347.3,784.5L1326.3,771.7M1345.1,775.3L1365.8,774.6M1365.8,774.6L1347.3,784.5M1347.3,784.5L1345.1,775.3M1365.8,774.6L1387.6,774.1M1387.6,774.1L1374.1,785.1M1374.1,785.1L1365.8,774.6M1182.2,788.7L1211.1,786.0M1211.1,786.0L1192.0,773.9M1192.0,773.9L1182.2,788.7M1211.1,786.0L1235.2,783.9M1235.2,783.9L1216.4,773.5M1216.4,773.5L1211.1,786.0M1235.2,783.9L1265.2,786.1M1265.2,786.1L1260.7,772.9M1260.7,772.9L1235.2,783.9M1265.2,786.1L1290.4,788.4M1290.4,788.4L1278.2,775.7M1278.2,775.7L1265.2,786.1M1290.4,788.4L1321.0,787.2M1321.0,787.2L1302.5,774.4M1302.5,774.4L1290.4,788.4M1321.0,787.2L1347.3,784.5M1347.3,784.5L1326.3,771.7M1326.3,771.7L1321.0,787.2M1347.3,784.5L1374.1,785.1M1374.1,785.1L1365.8,774.6M1365.8,774.6L1347.3,784.5M1182.2,788.7L1211.1,786.0M1211.1,786.0L1197.3,805.0M1197.3,805.0L1182.2,788.7M1211.1,786.0L1235.2,783.9M1235.2,783.9L1234.3,801.1M1234.3,801.1L1211.1,786.0M1235.2,783.9L1265.2,786.1M1265.2,786.1L1265.4,801.0M1265.4,801.0L1235.2,783.9M1265.2,786.1L1290.4,788.4M1290.4,788.4L1265.4,801.0M1265.4,801.0L1265.2,786.1M1290.4,788.4L1321.0,787.2M1321.0,787.2L1301.0,805.8M1301.0,805.8L1290.4,788.4M1321.0,787.2L1347.3,784.5M1347.3,784.5L1332.2,804.6M1332.2,804.6L1321.0,787.2M1347.3,784.5L1374.1,785.1M1374.1,785.1L1366.8,800.1M1366.8,800.1L1347.3,784.5M1162.6,802.5L1197.3,805.0M1197.3,805.0L1182.2,788.7M1182.2,788.7L1162.6,802.5M1197.3,805.0L1234.3,801.1M1234.3,801.1L1211.1,786.0M1211.1,786.0L1197.3,805.0M1234.3,801.1L1265.4,801.0M1265.4,801.0L1235.2,783.9M1235.2,783.9L1234.3,801.1M1265.4,801.0L1301.0,805.8M1301.0,805.8L1290.4,788.4M1290.4,788.4L1265.4,801.0M1301.0,805.8L1332.2,804.6M1332.2,804.6L1321.0,787.2M1321.0,787.2L1301.0,805.8M1332.2,804.6L1366.8,800.1M1366.8,800.1L1347.3,784.5M1347.3,784.5L1332.2,804.6M1162.6,802.5L1197.3,805.0M1197.3,805.0L1182.6,824.1M1182.6,824.1L1162.6,802.5M1197.3,805.0L1234.3,801.1M1234.3,801.1L1219.0,824.6M1219.0,824.6L1197.3,805.0M1234.3,801.1L1265.4,801.0M1265.4,801.0L1259.4,824.5M1259.4,824.5L1234.3,801.1M1265.4,801.0L1301.0,805.8M1301.0,805.8L1300.7,824.5M1300.7,824.5L1265.4,801.0M1301.0,805.8L1332.2,804.6M1332.2,804.6L1300.7,824.5M1300.7,824.5L1301.0,805.8M1332.2,804.6L1366.8,800.1M1366.8,800.1L1341.5,823.7M1341.5,823.7L1332.2,804.6M1182.6,824.1L1219.0,824.6M1219.0,824.6L1197.3,805.0M1197.3,805.0L1182.6,824.1M1219.0,824.6L1259.4,824.5M1259.4,824.5L1234.3,801.1M1234.3,801.1L1219.0,824.6M1259.4,824.5L1300.7,824.5M1300.7,824.5L1265.4,801.0M1265.4,801.0L1259.4,824.5M1300.7,824.5L1341.5,823.7M1341.5,823.7L1332.2,804.6M1332.2,804.6L1300.7,824.5M1341.5,823.7L1378.6,822.5M1378.6,822.5L1366.8,800.1M1366.8,800.1L1341.5,823.7M1182.6,824.1L1219.0,824.6M1219.0,824.6L1203.2,852.8M1203.2,852.8L1182.6,824.1M1219.0,824.6L1259.4,824.5M1259.4,824.5L1250.0,852.2M1250.0,852.2L1219.0,824.6M1259.4,824.5L1300.7,824.5M1300.7,824.5L1298.9,848.4M1298.9,848.4L1259.4,824.5M1300.7,824.5L1341.5,823.7M1341.5,823.7L1339.1,848.8M1339.1,848.8L1300.7,824.5M1341.5,823.7L1378.6,822.5M1378.6,822.5L1339.1,848.8M1339.1,848.8L1341.5,823.7M1155.6,851.1L1203.2,852.8M1203.2,852.8L1182.6,824.1M1182.6,824.1L1155.6,851.1M1203.2,852.8L1250.0,852.2M1250.0,852.2L1219.0,824.6M1219.0,824.6L1203.2,852.8M1250.0,852.2L1298.9,848.4M1298.9,848.4L1259.4,824.5M1259.4,824.5L1250.0,852.2M1298.9,848.4L1339.1,848.8M1339.1,848.8L1300.7,824.5M1300.7,824.5L1298.9,848.4M1339.1,848.8L1387.3,851.4M1387.3,851.4L1378.6,822.5M1378.6,822.5L1339.1,848.8M1155.6,851.1L1203.2,852.8M1203.2,852.8L1182.5,876.1M1182.5,876.1L1155.6,851.1M1203.2,852.8L1250.0,852.2M1250.0,852.2L1235.8,874.0M1235.8,874.0L1203.2,852.8M1250.0,852.2L1298.9,848.4M1298.9,848.4L1287.0,875.3M1287.0,875.3L1250.0,852.2M1298.9,848.4L1339.1,848.8M1339.1,848.8L1339.3,874.2M1339.3,874.2L1298.9,848.4M1339.1,848.8L1387.3,851.4M1387.3,851.4L1339.3,874.2M1339.3,874.2L1339.1,848.8M1182.5,876.1L1235.8,874.0M1235.8,874.0L1203.2,852.8M1203.2,852.8L1182.5,876.1M1235.8,874.0L1287.0,875.3M1287.0,875.3L1250.0,852.2M1250.0,852.2L1235.8,874.0M1287.0,875.3L1339.3,874.2M1339.3,874.2L1298.9,848.4M1298.9,848.4L1287.0,875.3M1339.3,874.2L1391.8,878.6M1391.8,878.6L1387.3,851.4M1387.3,851.4L1339.3,874.2" stroke="#a8a6a6" stroke-width="1.5"/>
<circle cx="1179.4" cy="764.8" r="1.8" fill="#b98ed2"/>
<circle cx="1194.8" cy="763.2" r="1.8" fill="#b98ed2"/>
<circle cx="1210.5" cy="760.5" r="1.8" fill="#b98ed2"/>
<circle cx="1232.0" cy="760.3" r="1.8" fill="#b98ed2"/>
<circle cx="1245.9" cy="761.8" r="1.8" fill="#b98ed2"/>
<circle cx="1260.7" cy="762.0" r="1.8" fill="#b98ed2"/>
<circle cx="1275.2" cy="764.0" r="1.8" fill="#b98ed2"/>
<circle cx="1290.5" cy="760.4" r="1.8" fill="#b98ed2"/>
<circle cx="1306.1" cy="760.6" r="1.8" fill="#b98ed2"/>
<circle cx="1324.4" cy="764.4" r="1.8" fill="#b98ed2"/>
<circle cx="1340.3" cy="759.7" r="1.8" fill="#b98ed2"/>
<circle cx="1355.6" cy="764.9" r="1.8" fill="#b98ed2"/>
<circle cx="1370.4" cy="762.7" r="1.8" fill="#b98ed2"/>
<circle cx="1388.3" cy="763.0" r="1.8" fill="#b98ed2"/>
<circle cx="1169.0" cy="774.1" r="2.4" fill="#b98ed2"/>
<circle cx="1192.0" cy="773.9" r="2.4" fill="#b98ed2"/>
<circle cx="1216.4" cy="773.5" r="2.4" fill="#b98ed2"/>
<circle cx="1233.9" cy="770.4" r="2.4" fill="#b98ed2"/>
<circle cx="1260.7" cy="772.9" r="2.4" fill="#b98ed2"/>
<circle cx="1278.2" cy="775.7" r="2.4" fill="#b98ed2"/>
<circle cx="1302.5" cy="774.4" r="2.4" fill="#b98ed2"/>
<circle cx="1326.3" cy="771.7" r="2.4" fill="#b98ed2"/>
<circle cx="1345.1" cy="775.3" r="2.4" fill="#b98ed2"/>
<circle cx="1365.8" cy="774.6" r="2.4" fill="#b98ed2"/>
<circle cx="1387.6" cy="774.1" r="2.4" fill="#b98ed2"/>
<circle cx="1182.2" cy="788.7" r="2.9" fill="#b98ed2"/>
<circle cx="1211.1" cy="786.0" r="2.9" fill="#b98ed2"/>
<circle cx="1235.2" cy="783.9" r="2.9" fill="#b98ed2"/>
<circle cx="1265.2" cy="786.1" r="2.9" fill="#b98ed2"/>
<circle cx="1290.4" cy="788.4" r="2.9" fill="#b98ed2"/>
<circle cx="1321.0" cy="787.2" r="2.9" fill="#b98ed2"/>
<circle cx="1347.3" cy="784.5" r="2.9" fill="#b98ed2"/>
<circle cx="1374.1" cy="785.1" r="2.9" fill="#b98ed2"/>
<circle cx="1162.6" cy="802.5" r="3.5" fill="#b98ed2"/>
<circle cx="1197.3" cy="805.0" r="3.5" fill="#b98ed2"/>
<circle cx="1234.3" cy="801.1" r="3.5" fill="#b98ed2"/>
<circle cx="1265.4" cy="801.0" r="3.5" fill="#b98ed2"/>
<circle cx="1301.0" cy="805.8" r="3.5" fill="#b98ed2"/>
<circle cx="1332.2" cy="804.6" r="3.5" fill="#b98ed2"/>
<circle cx="1366.8" cy="800.1" r="3.5" fill="#b98ed2"/>
<circle cx="1182.6" cy="824.1" r="4.0" fill="#b98ed2"/>
<circle cx="1219.0" cy="824.6" r="4.0" fill="#b98ed2"/>
<circle cx="1259.4" cy="824.5" r="4.0" fill="#b98ed2"/>
<circle cx="1300.7" cy="824.5" r="4.0" fill="#b98ed2"/>
<circle cx="1341.5" cy="823.7" r="4.0" fill="#b98ed2"/>
<circle cx="1378.6" cy="822.5" r="4.0" fill="#b98ed2"/>
<circle cx="1155.6" cy="851.1" r="4.5" fill="#b98ed2"/>
<circle cx="1203.2" cy="852.8" r="4.5" fill="#b98ed2"/>
<circle cx="1250.0" cy="852.2" r="4.5" fill="#b98ed2"/>
<circle cx="1298.9" cy="848.4" r="4.5" fill="#b98ed2"/>
<circle cx="1339.1" cy="848.8" r="4.5" fill="#b98ed2"/>
<circle cx="1387.3" cy="851.4" r="4.5" fill="#b98ed2"/>
<circle cx="1182.5" cy="876.1" r="5.1" fill="#b98ed2"/>
<circle cx="1235.8" cy="874.0" r="5.1" fill="#b98ed2"/>
<circle cx="1287.0" cy="875.3" r="5.1" fill="#b98ed2"/>
<circle cx="1339.3" cy="874.2" r="5.1" fill="#b98ed2"/>
<circle cx="1391.8" cy="878.6" r="5.1" fill="#b98ed2"/>
<circle cx="1323.9" cy="827.2" r="3" fill="#d8d090" opacity="0.7"/>
<circle cx="1255.9" cy="803.1" r="3" fill="#d8d090" opacity="0.7"/>
<circle cx="1327.4" cy="806.1" r="3" fill="#d8d090" opacity="0.7"/>
<circle cx="1336.3" cy="822.3" r="3" fill="#d8d090" opacity="0.7"/>
<circle cx="1226.3" cy="813.2" r="3" fill="#d8d090" opacity="0.7"/>
<circle cx="1264.0" cy="818.7" r="3" fill="#d8d090" opacity="0.7"/>
<path d="M1339.6,789.8 l5,-2 M1341.6,792.8 l4,-3" stroke="#f4f4f4" stroke-width="1.6" fill="none"/>
<path d="M1266.6,801.4 l5,-2 M1268.6,804.4 l4,-3" stroke="#f4f4f4" stroke-width="1.6" fill="none"/>
<path d="M1339.7,810.5 l5,-2 M1341.7,813.5 l4,-3" stroke="#f4f4f4" stroke-width="1.6" fill="none"/>
<path d="M1307.7,799.6 l5,-2 M1309.7,802.6 l4,-3" stroke="#f4f4f4" stroke-width="1.6" fill="none"/>
<path d="M1305.6,814.5 l5,-2 M1307.6,817.5 l4,-3" stroke="#f4f4f4" stroke-width="1.6" fill="none"/>
<path d="M1305.2,789.2 l5,-2 M1307.2,792.2 l4,-3" stroke="#f4f4f4" stroke-width="1.6" fill="none"/>
<path d="M1326.2,809.5 l5,-2 M1328.2,812.5 l4,-3" stroke="#f4f4f4" stroke-width="1.6" fill="none"/>
<path d="M1222.5,787.1 l5,-2 M1224.5,790.1 l4,-3" stroke="#f4f4f4" stroke-width="1.6" fill="none"/>
</g></g>
<g clip-path="url(#cf)"><path d="M1255.98,733.49L1257.50,736.65M1255.98,733.49L1253.19,727.23M1255.98,733.49L1253.11,737.02M1251.92,724.11L1253.19,727.23M1248.55,732.94L1242.65,735.53M1248.55,732.94L1248.60,726.88M1248.55,732.94L1253.11,737.02M1224.77,739.87L1226.90,735.11M1224.77,739.87L1227.56,746.14M1224.77,739.87L1223.50,736.75M1237.04,751.73L1234.93,752.75M1237.04,751.73L1232.48,747.65M1237.04,751.73L1243.73,751.06M1231.92,724.51L1234.79,720.98M1231.92,724.51L1236.84,726.02M1231.92,724.51L1226.95,729.05M1234.79,720.98L1241.48,720.31M1253.28,746.86L1251.76,743.71M1253.28,746.86L1248.31,751.41M1253.28,746.86L1256.15,743.33M1251.76,743.71L1245.86,746.30M1251.76,743.71L1253.11,737.02M1246.07,720.65L1241.48,720.31M1241.30,742.22L1242.65,735.53M1241.30,742.22L1234.61,742.89M1241.30,742.22L1245.86,746.30M1246.21,752.42L1248.31,751.41M1242.65,735.53L1236.79,732.07M1248.31,751.41L1243.73,751.06M1234.61,742.89L1232.48,747.65M1234.61,742.89L1231.82,736.62M1226.90,735.11L1231.82,736.62M1226.90,735.11L1226.95,729.05M1236.84,726.02L1242.75,723.42M1236.84,726.02L1236.79,732.07M1245.86,746.30L1243.73,751.06M1242.75,723.42L1248.60,726.88M1242.75,723.42L1241.48,720.31M1234.93,752.75L1229.08,749.29M1253.19,727.23L1248.60,726.88M1236.79,732.07L1231.82,736.62M1232.48,747.65L1227.56,746.14M1229.08,749.29L1227.56,746.14M1223.50,736.75L1224.85,730.07M1224.85,730.07L1226.95,729.05" stroke="#9a8a5a" stroke-width="1.6" fill="none"/>
<path d="M1251.92,724.11L1253.44,727.26M1251.92,724.11L1246.07,720.65M1235.14,727.10L1239.70,731.18M1235.14,727.10L1237.27,722.34M1235.14,727.10L1229.24,729.69M1257.50,736.65L1256.23,733.53M1257.50,736.65L1256.15,743.33M1253.44,727.26L1256.23,733.53M1253.44,727.26L1248.52,725.75M1238.25,749.98L1232.40,746.52M1238.25,749.98L1239.52,753.09M1238.25,749.98L1244.16,747.38M1239.70,731.18L1238.35,737.87M1239.70,731.18L1246.39,730.51M1234.79,720.98L1232.69,721.99M1243.96,721.67L1246.07,720.65M1243.96,721.67L1237.27,722.34M1243.96,721.67L1248.52,725.75M1238.35,737.87L1244.21,741.33M1238.35,737.87L1232.45,740.46M1232.69,721.99L1237.27,722.34M1232.69,721.99L1227.72,726.54M1232.40,746.52L1227.81,746.17M1232.40,746.52L1232.45,740.46M1246.21,752.42L1248.31,751.41M1246.21,752.42L1239.52,753.09M1246.21,752.42L1249.08,748.89M1256.23,733.53L1254.10,738.29M1239.52,753.09L1234.93,752.75M1249.08,748.89L1254.05,744.35M1249.08,748.89L1244.16,747.38M1256.15,743.33L1254.05,744.35M1234.93,752.75L1229.08,749.29M1254.10,738.29L1249.18,736.78M1254.10,738.29L1254.05,744.35M1227.89,736.38L1229.24,729.69M1227.89,736.38L1225.02,739.91M1227.89,736.38L1232.45,740.46M1244.21,741.33L1249.18,736.78M1244.21,741.33L1244.16,747.38M1227.72,726.54L1229.24,729.69M1227.72,726.54L1224.85,730.07M1249.18,736.78L1246.39,730.51M1227.81,746.17L1229.08,749.29M1227.81,746.17L1225.02,739.91M1248.52,725.75L1246.39,730.51M1225.02,739.91L1223.50,736.75M1223.50,736.75L1224.85,730.07" stroke="#6e5e30" stroke-width="3.6" fill="none" stroke-linejoin="round"/><path d="M1255.98,733.49L1257.50,736.65M1255.98,733.49L1253.19,727.23M1255.98,733.49L1253.11,737.02M1251.92,724.11L1253.19,727.23M1248.55,732.94L1242.65,735.53M1248.55,732.94L1248.60,726.88M1248.55,732.94L1253.11,737.02M1224.77,739.87L1226.90,735.11M1224.77,739.87L1227.56,746.14M1224.77,739.87L1223.50,736.75M1237.04,751.73L1234.93,752.75M1237.04,751.73L1232.48,747.65M1237.04,751.73L1243.73,751.06M1231.92,724.51L1234.79,720.98M1231.92,724.51L1236.84,726.02M1231.92,724.51L1226.95,729.05M1234.79,720.98L1241.48,720.31M1253.28,746.86L1251.76,743.71M1253.28,746.86L1248.31,751.41M1253.28,746.86L1256.15,743.33M1251.76,743.71L1245.86,746.30M1251.76,743.71L1253.11,737.02M1246.07,720.65L1241.48,720.31M1241.30,742.22L1242.65,735.53M1241.30,742.22L1234.61,742.89M1241.30,742.22L1245.86,746.30M1246.21,752.42L1248.31,751.41M1242.65,735.53L1236.79,732.07M1248.31,751.41L1243.73,751.06M1234.61,742.89L1232.48,747.65M1234.61,742.89L1231.82,736.62M1226.90,735.11L1231.82,736.62M1226.90,735.11L1226.95,729.05M1236.84,726.02L1242.75,723.42M1236.84,726.02L1236.79,732.07M1245.86,746.30L1243.73,751.06M1242.75,723.42L1248.60,726.88M1242.75,723.42L1241.48,720.31M1234.93,752.75L1229.08,749.29M1253.19,727.23L1248.60,726.88M1236.79,732.07L1231.82,736.62M1232.48,747.65L1227.56,746.14M1229.08,749.29L1227.56,746.14M1223.50,736.75L1224.85,730.07M1224.85,730.07L1226.95,729.05" stroke="#c8b878" stroke-width="0.9" fill="none"/>
<path d="M1251.92,724.11L1253.44,727.26M1251.92,724.11L1246.07,720.65M1235.14,727.10L1239.70,731.18M1235.14,727.10L1237.27,722.34M1235.14,727.10L1229.24,729.69M1257.50,736.65L1256.23,733.53M1257.50,736.65L1256.15,743.33M1253.44,727.26L1256.23,733.53M1253.44,727.26L1248.52,725.75M1238.25,749.98L1232.40,746.52M1238.25,749.98L1239.52,753.09M1238.25,749.98L1244.16,747.38M1239.70,731.18L1238.35,737.87M1239.70,731.18L1246.39,730.51M1234.79,720.98L1232.69,721.99M1243.96,721.67L1246.07,720.65M1243.96,721.67L1237.27,722.34M1243.96,721.67L1248.52,725.75M1238.35,737.87L1244.21,741.33M1238.35,737.87L1232.45,740.46M1232.69,721.99L1237.27,722.34M1232.69,721.99L1227.72,726.54M1232.40,746.52L1227.81,746.17M1232.40,746.52L1232.45,740.46M1246.21,752.42L1248.31,751.41M1246.21,752.42L1239.52,753.09M1246.21,752.42L1249.08,748.89M1256.23,733.53L1254.10,738.29M1239.52,753.09L1234.93,752.75M1249.08,748.89L1254.05,744.35M1249.08,748.89L1244.16,747.38M1256.15,743.33L1254.05,744.35M1234.93,752.75L1229.08,749.29M1254.10,738.29L1249.18,736.78M1254.10,738.29L1254.05,744.35M1227.89,736.38L1229.24,729.69M1227.89,736.38L1225.02,739.91M1227.89,736.38L1232.45,740.46M1244.21,741.33L1249.18,736.78M1244.21,741.33L1244.16,747.38M1227.72,726.54L1229.24,729.69M1227.72,726.54L1224.85,730.07M1249.18,736.78L1246.39,730.51M1227.81,746.17L1229.08,749.29M1227.81,746.17L1225.02,739.91M1248.52,725.75L1246.39,730.51M1225.02,739.91L1223.50,736.75M1223.50,736.75L1224.85,730.07" stroke="#d8c888" stroke-width="2.4" fill="none" stroke-linejoin="round"/><path d="M1326.47,694.70L1331.31,695.91M1326.47,694.70L1322.00,687.55M1326.47,694.70L1321.81,701.08M1322.36,681.61L1327.20,682.82M1322.36,681.61L1315.30,677.62M1322.36,681.61L1322.00,687.55M1331.31,695.91L1331.67,689.97M1331.31,695.91L1331.48,703.49M1327.20,682.82L1331.67,689.97M1314.46,697.87L1307.27,702.24M1314.46,697.87L1314.57,689.51M1314.46,697.87L1321.81,701.08M1292.33,704.03L1291.94,700.13M1308.24,717.64L1300.88,714.43M1308.24,717.64L1315.20,716.94M1296.25,686.65L1300.91,680.27M1296.25,686.65L1300.33,689.89M1296.25,686.65L1292.05,691.77M1300.91,680.27L1301.38,679.02M1300.91,680.27L1307.87,679.58M1326.82,709.87L1321.98,708.66M1326.82,709.87L1322.62,714.98M1326.82,709.87L1331.48,703.49M1315.76,676.36L1315.30,677.62M1321.98,708.66L1314.80,713.03M1321.98,708.66L1321.81,701.08M1315.30,677.62L1307.87,679.58M1307.45,709.82L1307.27,702.24M1307.45,709.82L1300.49,710.52M1307.45,709.82L1314.80,713.03M1307.27,702.24L1300.21,698.25M1322.62,714.98L1315.20,716.94M1300.49,710.52L1300.88,714.43M1300.49,710.52L1296.01,703.37M1291.94,700.13L1296.01,703.37M1291.94,700.13L1292.05,691.77M1331.48,703.49L1331.95,702.23M1300.33,689.89L1307.51,685.52M1300.33,689.89L1300.21,698.25M1314.80,713.03L1315.20,716.94M1307.51,685.52L1314.57,689.51M1307.51,685.52L1307.87,679.58M1322.00,687.55L1314.57,689.51M1300.21,698.25L1296.01,703.37M1300.88,714.43L1296.80,711.18" stroke="#9a8a5a" stroke-width="1.6" fill="none"/>
<path d="M1309.20,680.97L1316.55,684.18M1309.20,680.97L1308.80,677.06M1309.20,680.97L1302.02,685.34M1327.20,682.82L1323.12,679.57M1292.33,704.03L1296.80,711.18M1292.33,704.03L1292.69,698.09M1316.49,708.48L1309.43,704.49M1316.49,708.48L1316.13,714.42M1316.49,708.48L1323.67,704.11M1308.24,717.64L1308.70,716.38M1316.55,684.18L1316.73,691.76M1316.55,684.18L1323.51,683.48M1315.76,676.36L1308.80,677.06M1315.76,676.36L1323.12,679.57M1316.73,691.76L1323.79,695.75M1316.73,691.76L1309.54,696.13M1301.38,679.02L1308.80,677.06M1301.38,679.02L1297.18,684.13M1309.43,704.49L1302.00,706.45M1309.43,704.49L1309.54,696.13M1323.09,713.73L1322.62,714.98M1323.09,713.73L1316.13,714.42M1323.09,713.73L1327.75,707.35M1331.67,689.97L1332.06,693.87M1316.13,714.42L1308.70,716.38M1327.75,707.35L1331.95,702.23M1327.75,707.35L1323.67,704.11M1331.48,703.49L1331.95,702.23M1308.70,716.38L1301.64,712.39M1332.06,693.87L1327.99,690.63M1332.06,693.87L1331.95,702.23M1302.19,692.92L1302.02,685.34M1302.19,692.92L1297.53,699.30M1302.19,692.92L1309.54,696.13M1323.79,695.75L1327.99,690.63M1323.79,695.75L1323.67,704.11M1297.18,684.13L1302.02,685.34M1297.18,684.13L1292.52,690.51M1327.99,690.63L1323.51,683.48M1300.88,714.43L1296.80,711.18M1302.00,706.45L1301.64,712.39M1302.00,706.45L1297.53,699.30M1323.12,679.57L1323.51,683.48M1301.64,712.39L1296.80,711.18M1297.53,699.30L1292.69,698.09M1292.69,698.09L1292.52,690.51M1292.52,690.51L1292.05,691.77" stroke="#6e5e30" stroke-width="3.6" fill="none" stroke-linejoin="round"/><path d="M1326.47,694.70L1331.31,695.91M1326.47,694.70L1322.00,687.55M1326.47,694.70L1321.81,701.08M1322.36,681.61L1327.20,682.82M1322.36,681.61L1315.30,677.62M1322.36,681.61L1322.00,687.55M1331.31,695.91L1331.67,689.97M1331.31,695.91L1331.48,703.49M1327.20,682.82L1331.67,689.97M1314.46,697.87L1307.27,702.24M1314.46,697.87L1314.57,689.51M1314.46,697.87L1321.81,701.08M1292.33,704.03L1291.94,700.13M1308.24,717.64L1300.88,714.43M1308.24,717.64L1315.20,716.94M1296.25,686.65L1300.91,680.27M1296.25,686.65L1300.33,689.89M1296.25,686.65L1292.05,691.77M1300.91,680.27L1301.38,679.02M1300.91,680.27L1307.87,679.58M1326.82,709.87L1321.98,708.66M1326.82,709.87L1322.62,714.98M1326.82,709.87L1331.48,703.49M1315.76,676.36L1315.30,677.62M1321.98,708.66L1314.80,713.03M1321.98,708.66L1321.81,701.08M1315.30,677.62L1307.87,679.58M1307.45,709.82L1307.27,702.24M1307.45,709.82L1300.49,710.52M1307.45,709.82L1314.80,713.03M1307.27,702.24L1300.21,698.25M1322.62,714.98L1315.20,716.94M1300.49,710.52L1300.88,714.43M1300.49,710.52L1296.01,703.37M1291.94,700.13L1296.01,703.37M1291.94,700.13L1292.05,691.77M1331.48,703.49L1331.95,702.23M1300.33,689.89L1307.51,685.52M1300.33,689.89L1300.21,698.25M1314.80,713.03L1315.20,716.94M1307.51,685.52L1314.57,689.51M1307.51,685.52L1307.87,679.58M1322.00,687.55L1314.57,689.51M1300.21,698.25L1296.01,703.37M1300.88,714.43L1296.80,711.18" stroke="#c8b878" stroke-width="0.9" fill="none"/>
<path d="M1309.20,680.97L1316.55,684.18M1309.20,680.97L1308.80,677.06M1309.20,680.97L1302.02,685.34M1327.20,682.82L1323.12,679.57M1292.33,704.03L1296.80,711.18M1292.33,704.03L1292.69,698.09M1316.49,708.48L1309.43,704.49M1316.49,708.48L1316.13,714.42M1316.49,708.48L1323.67,704.11M1308.24,717.64L1308.70,716.38M1316.55,684.18L1316.73,691.76M1316.55,684.18L1323.51,683.48M1315.76,676.36L1308.80,677.06M1315.76,676.36L1323.12,679.57M1316.73,691.76L1323.79,695.75M1316.73,691.76L1309.54,696.13M1301.38,679.02L1308.80,677.06M1301.38,679.02L1297.18,684.13M1309.43,704.49L1302.00,706.45M1309.43,704.49L1309.54,696.13M1323.09,713.73L1322.62,714.98M1323.09,713.73L1316.13,714.42M1323.09,713.73L1327.75,707.35M1331.67,689.97L1332.06,693.87M1316.13,714.42L1308.70,716.38M1327.75,707.35L1331.95,702.23M1327.75,707.35L1323.67,704.11M1331.48,703.49L1331.95,702.23M1308.70,716.38L1301.64,712.39M1332.06,693.87L1327.99,690.63M1332.06,693.87L1331.95,702.23M1302.19,692.92L1302.02,685.34M1302.19,692.92L1297.53,699.30M1302.19,692.92L1309.54,696.13M1323.79,695.75L1327.99,690.63M1323.79,695.75L1323.67,704.11M1297.18,684.13L1302.02,685.34M1297.18,684.13L1292.52,690.51M1327.99,690.63L1323.51,683.48M1300.88,714.43L1296.80,711.18M1302.00,706.45L1301.64,712.39M1302.00,706.45L1297.53,699.30M1323.12,679.57L1323.51,683.48M1301.64,712.39L1296.80,711.18M1297.53,699.30L1292.69,698.09M1292.69,698.09L1292.52,690.51M1292.52,690.51L1292.05,691.77" stroke="#d8c888" stroke-width="2.4" fill="none" stroke-linejoin="round"/><path d="M1325.88,730.34L1327.64,736.30M1325.88,730.34L1324.00,724.26M1325.88,730.34L1321.72,730.87M1327.64,736.30L1325.25,742.80M1317.28,725.13L1310.44,725.89M1317.28,725.13L1318.68,721.04M1317.28,725.13L1321.72,730.87M1292.47,733.81L1294.93,727.37M1292.47,733.81L1294.35,739.88M1292.47,733.81L1292.36,733.70M1303.14,745.26L1301.55,749.17M1303.14,745.26L1298.69,739.52M1303.14,745.26L1310.04,744.57M1302.08,718.84L1306.42,718.48M1302.08,718.84L1296.34,723.29M1321.10,743.34L1319.33,737.37M1321.10,743.34L1315.36,747.79M1321.10,743.34L1325.25,742.80M1319.33,737.37L1312.50,738.13M1319.33,737.37L1321.72,730.87M1308.06,732.39L1310.44,725.89M1308.06,732.39L1301.15,733.08M1308.06,732.39L1312.50,738.13M1313.76,751.70L1315.36,747.79M1313.76,751.70L1306.86,752.39M1313.76,751.70L1317.92,751.16M1310.44,725.89L1305.02,722.56M1315.36,747.79L1310.04,744.57M1306.86,752.39L1301.55,749.17M1301.15,733.08L1298.69,739.52M1301.15,733.08L1299.27,727.01M1294.93,727.37L1299.27,727.01M1294.93,727.37L1296.34,723.29M1325.25,742.80L1323.66,746.71M1306.42,718.48L1313.25,717.72M1306.42,718.48L1305.02,722.56M1312.50,738.13L1310.04,744.57M1313.25,717.72L1318.68,721.04M1313.25,717.72L1313.14,717.61M1301.55,749.17L1296.12,745.85M1324.00,724.26L1318.68,721.04M1305.02,722.56L1299.27,727.01M1298.69,739.52L1294.35,739.88M1296.00,745.74L1296.12,745.85M1296.12,745.85L1294.35,739.88" stroke="#9a8a5a" stroke-width="1.6" fill="none"/>
<path d="M1323.88,724.15L1325.65,730.12M1323.88,724.15L1318.45,720.83M1323.88,724.15L1324.00,724.26M1307.50,731.87L1311.94,737.61M1307.50,731.87L1309.96,725.43M1307.50,731.87L1300.67,732.63M1327.64,736.30L1327.53,736.19M1325.65,730.12L1327.53,736.19M1325.65,730.12L1321.31,730.48M1292.47,733.81L1292.36,733.70M1306.75,752.28L1301.32,748.96M1306.75,752.28L1306.86,752.39M1306.75,752.28L1313.58,751.52M1302.08,718.84L1306.24,718.30M1302.08,718.84L1296.34,723.29M1311.94,737.61L1309.56,744.11M1311.94,737.61L1318.85,736.92M1306.24,718.30L1304.64,722.21M1306.24,718.30L1313.14,717.61M1316.86,724.74L1318.45,720.83M1316.86,724.74L1309.96,725.43M1316.86,724.74L1321.31,730.48M1309.56,744.11L1314.98,747.44M1309.56,744.11L1302.72,744.87M1318.45,720.83L1313.14,717.61M1304.64,722.21L1309.96,725.43M1304.64,722.21L1298.90,726.66M1301.32,748.96L1296.00,745.74M1301.32,748.96L1302.72,744.87M1327.53,736.19L1325.07,742.63M1317.92,751.16L1323.66,746.71M1317.92,751.16L1313.58,751.52M1313.25,717.72L1313.14,717.61M1325.07,742.63L1320.73,742.99M1325.07,742.63L1323.66,746.71M1298.28,739.13L1300.67,732.63M1298.28,739.13L1294.12,739.66M1298.28,739.13L1302.72,744.87M1314.98,747.44L1320.73,742.99M1314.98,747.44L1313.58,751.52M1298.90,726.66L1300.67,732.63M1298.90,726.66L1294.75,727.20M1320.73,742.99L1318.85,736.92M1296.00,745.74L1296.12,745.85M1296.00,745.74L1294.12,739.66M1321.31,730.48L1318.85,736.92M1294.12,739.66L1292.36,733.70M1292.36,733.70L1294.75,727.20M1294.75,727.20L1296.34,723.29" stroke="#6e5e30" stroke-width="3.6" fill="none" stroke-linejoin="round"/><path d="M1325.88,730.34L1327.64,736.30M1325.88,730.34L1324.00,724.26M1325.88,730.34L1321.72,730.87M1327.64,736.30L1325.25,742.80M1317.28,725.13L1310.44,725.89M1317.28,725.13L1318.68,721.04M1317.28,725.13L1321.72,730.87M1292.47,733.81L1294.93,727.37M1292.47,733.81L1294.35,739.88M1292.47,733.81L1292.36,733.70M1303.14,745.26L1301.55,749.17M1303.14,745.26L1298.69,739.52M1303.14,745.26L1310.04,744.57M1302.08,718.84L1306.42,718.48M1302.08,718.84L1296.34,723.29M1321.10,743.34L1319.33,737.37M1321.10,743.34L1315.36,747.79M1321.10,743.34L1325.25,742.80M1319.33,737.37L1312.50,738.13M1319.33,737.37L1321.72,730.87M1308.06,732.39L1310.44,725.89M1308.06,732.39L1301.15,733.08M1308.06,732.39L1312.50,738.13M1313.76,751.70L1315.36,747.79M1313.76,751.70L1306.86,752.39M1313.76,751.70L1317.92,751.16M1310.44,725.89L1305.02,722.56M1315.36,747.79L1310.04,744.57M1306.86,752.39L1301.55,749.17M1301.15,733.08L1298.69,739.52M1301.15,733.08L1299.27,727.01M1294.93,727.37L1299.27,727.01M1294.93,727.37L1296.34,723.29M1325.25,742.80L1323.66,746.71M1306.42,718.48L1313.25,717.72M1306.42,718.48L1305.02,722.56M1312.50,738.13L1310.04,744.57M1313.25,717.72L1318.68,721.04M1313.25,717.72L1313.14,717.61M1301.55,749.17L1296.12,745.85M1324.00,724.26L1318.68,721.04M1305.02,722.56L1299.27,727.01M1298.69,739.52L1294.35,739.88M1296.00,745.74L1296.12,745.85M1296.12,745.85L1294.35,739.88" stroke="#c8b878" stroke-width="0.9" fill="none"/>
<path d="M1323.88,724.15L1325.65,730.12M1323.88,724.15L1318.45,720.83M1323.88,724.15L1324.00,724.26M1307.50,731.87L1311.94,737.61M1307.50,731.87L1309.96,725.43M1307.50,731.87L1300.67,732.63M1327.64,736.30L1327.53,736.19M1325.65,730.12L1327.53,736.19M1325.65,730.12L1321.31,730.48M1292.47,733.81L1292.36,733.70M1306.75,752.28L1301.32,748.96M1306.75,752.28L1306.86,752.39M1306.75,752.28L1313.58,751.52M1302.08,718.84L1306.24,718.30M1302.08,718.84L1296.34,723.29M1311.94,737.61L1309.56,744.11M1311.94,737.61L1318.85,736.92M1306.24,718.30L1304.64,722.21M1306.24,718.30L1313.14,717.61M1316.86,724.74L1318.45,720.83M1316.86,724.74L1309.96,725.43M1316.86,724.74L1321.31,730.48M1309.56,744.11L1314.98,747.44M1309.56,744.11L1302.72,744.87M1318.45,720.83L1313.14,717.61M1304.64,722.21L1309.96,725.43M1304.64,722.21L1298.90,726.66M1301.32,748.96L1296.00,745.74M1301.32,748.96L1302.72,744.87M1327.53,736.19L1325.07,742.63M1317.92,751.16L1323.66,746.71M1317.92,751.16L1313.58,751.52M1313.25,717.72L1313.14,717.61M1325.07,742.63L1320.73,742.99M1325.07,742.63L1323.66,746.71M1298.28,739.13L1300.67,732.63M1298.28,739.13L1294.12,739.66M1298.28,739.13L1302.72,744.87M1314.98,747.44L1320.73,742.99M1314.98,747.44L1313.58,751.52M1298.90,726.66L1300.67,732.63M1298.90,726.66L1294.75,727.20M1320.73,742.99L1318.85,736.92M1296.00,745.74L1296.12,745.85M1296.00,745.74L1294.12,739.66M1321.31,730.48L1318.85,736.92M1294.12,739.66L1292.36,733.70M1292.36,733.70L1294.75,727.20M1294.75,727.20L1296.34,723.29" stroke="#d8c888" stroke-width="2.4" fill="none" stroke-linejoin="round"/><path d="M1269.7,730 L1276,742 L1278.7,750 M1274,731 L1283,741 M1285.4,732 L1323.5,741" stroke="#4e9a3a" stroke-width="3" fill="none"/><path d="M1323,741 l4,-6 M1326,743 l6,4" stroke="#d02020" stroke-width="2"/><path d="M1255,737 L1270,737" stroke="#aaa" stroke-width="0.8" stroke-dasharray="2,1.5"/><path d="M1289,739 L1289,772" stroke="#c080d0" stroke-width="0.9" stroke-dasharray="2,1.5"/><circle cx="1291" cy="737" r="3" fill="#a060c0"/><circle cx="1270" cy="726" r="2.5" fill="#a060c0"/><path d="M1220,770 l6,-4 l6,4 l6,-4 M1212,775 l4,-8 M1300,770 l8,4 l8,-4 l8,4 M1320,765 l8,4" stroke="#3050b0" stroke-width="1.6" fill="none"/></g>
<text x="1257" y="726.7" font-size="14" fill="#a0a4ac" text-anchor="middle" textLength="24" lengthAdjust="spacingAndGlyphs" stroke="#a0a4ac" stroke-width="0.3" >π-π</text>
<text x="1300" y="764.5" font-size="15.5" fill="#b07ac8" text-anchor="middle" textLength="19" lengthAdjust="spacingAndGlyphs" stroke="#b07ac8" stroke-width="0.3" >XB</text>
<text x="1341.4" y="763.5" font-size="15.5" fill="#d24848" text-anchor="middle" textLength="20.5" lengthAdjust="spacingAndGlyphs" stroke="#d24848" stroke-width="0.3" >HB</text>
<circle cx="1281" cy="761.5" r="87.4" fill="none" stroke="#1a1a1a" stroke-width="1.5"/>
</svg></body></html>
